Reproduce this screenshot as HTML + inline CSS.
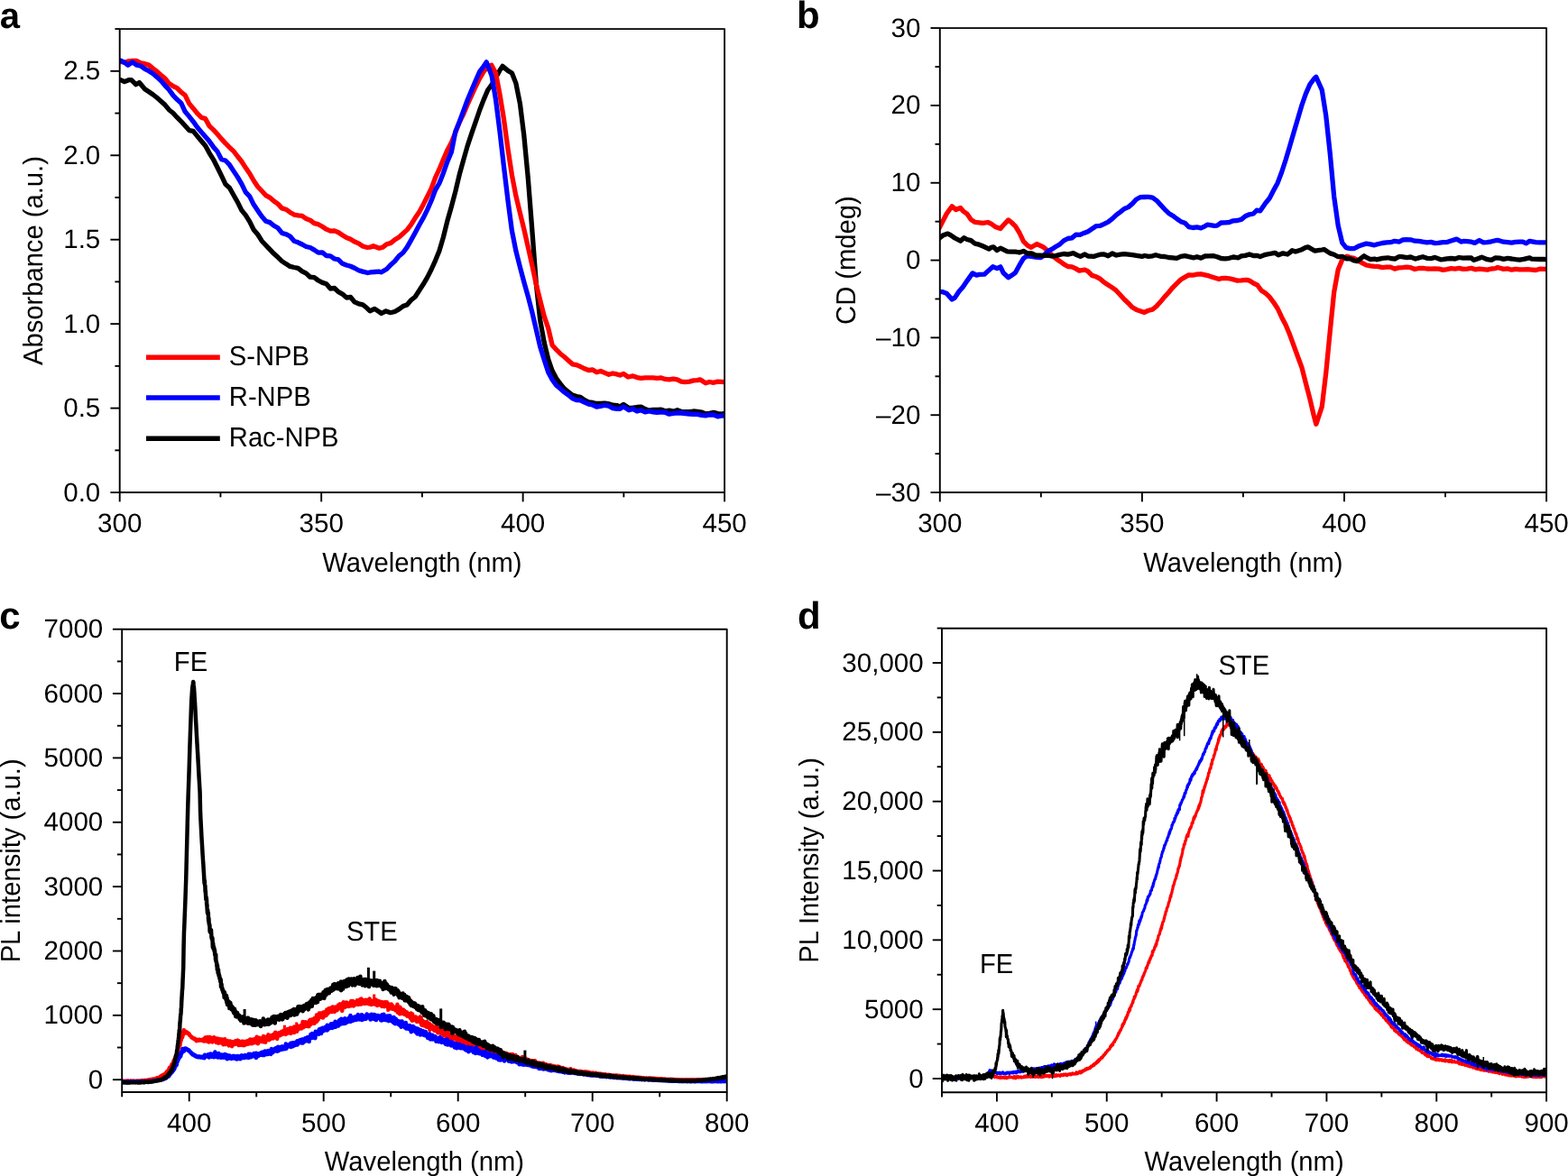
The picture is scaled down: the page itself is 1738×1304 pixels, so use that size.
<!DOCTYPE html>
<html lang="en">
<head>
<meta charset="utf-8">
<title>Absorbance, CD and PL spectra of S-, R- and Rac-NPB</title>
<style>
html,body{margin:0;padding:0;background:#fff;}
body{width:1738px;height:1304px;overflow:hidden;}
svg{display:block;}
text{white-space:pre;text-rendering:geometricPrecision;}
</style>
</head>
<body>
<svg width="1738" height="1304" viewBox="0 0 1738 1304" font-family='"Liberation Sans", sans-serif' fill="#000">
<rect x="0" y="0" width="1738" height="1304" fill="#fff"/>
<g id="panel-a">
<clipPath id="clip_a"><rect x="132.7" y="32.1" width="670.4" height="513.95"/></clipPath>
<polyline points="132.2,88.6 133.7,88.6 138,90.6 142.6,88.7 145.6,88.6 150.6,93.7 154.4,91.6 160.5,98.7 165,101.7 169.4,104.7 173.9,108.3 178.4,112.2 182.9,116.3 187.3,121.7 191.8,125.3 196.3,130.2 200.7,134.6 205.2,139.6 209.7,144.6 214.2,145.4 218.6,150.8 223.1,156.2 227.6,161.5 232,169.6 236.5,176.8 241,185.7 245.5,194.9 249.9,204.2 254.4,208.3 258.9,216.2 263.4,224.2 267.8,233.1 272.3,238.7 276.8,245.9 281.2,254.7 285.7,260 290.2,267.2 294.7,272 299.1,276.6 303.6,281.3 308.1,285.3 312.5,289.6 317,292.6 321.5,295.4 326,296.5 330.4,297.4 334.9,300.9 339.4,303.1 343.8,307.2 348.3,307.7 352.8,311 357.3,313.4 361.7,314.8 366.2,320 370.7,319.5 375.1,323.7 379.6,326.1 384.1,330 388.6,329.5 393,334.9 397.5,336.8 402,337.8 406.4,341.3 410.1,344.9 415.2,342.4 419.9,345.5 422.8,347.5 427.8,344.9 432.9,346.7 437.7,345.5 442.2,342.9 446.7,339.6 451.2,337.9 455.6,332.8 460.1,329.2 464.6,322.3 469.1,315.3 473.5,307.9 478,299 482.5,289.1 486.9,278.3 491.4,263 495.9,244.8 500.4,229 504.8,212.4 509.3,193.3 513.8,177.1 518.2,161.6 522.7,148.2 527.2,135.1 531.7,122 536.1,110.6 540.6,100 545.1,93.8 549.5,86.2 554,77.9 557,73.4 563,78.4 567.4,81 571.9,92.4 576.4,114.9 580.8,150.2 585.3,197.5 589.8,254.7 594.3,314.5 598.7,355 603.2,379.7 607.7,398.4 612.1,411 616.6,419.5 621.1,425.6 625.6,431.1 630,434.6 634.5,438 639,439.6 643.4,440.4 647.9,443.6 652.4,445.9 656.9,446.5 661.3,447.5 665.8,447.5 670.3,447.1 674.8,447.9 679.2,449.2 683.7,449.6 687.3,450.9 691.1,448.4 697.1,452.4 701.6,452.2 706.1,451.5 710.5,451.2 715,453.6 719.5,455.2 723.9,454.3 728.4,454.4 732.9,454.2 737.4,455.8 741.8,455.2 746.3,456.2 750.8,454.7 755.2,456.5 759.7,456.6 764.2,456.7 768.7,456 773.1,456.3 777.6,457 782.1,458.9 786.5,458.3 791,457.4 795.5,458.6 800,459.2 804.4,458.2" fill="none" stroke="#000000" stroke-width="5.3" stroke-linejoin="round" stroke-linecap="butt" clip-path="url(#clip_a)"/>
<polyline points="132.2,68.4 133.7,68.4 138.1,69.2 142.6,67.9 147.1,67.5 151.6,67.5 156,69.9 160.5,70.7 165,72.1 169.4,75.8 173.9,79.1 178.4,83.2 182.9,87 187.3,92.4 191.8,95.5 196.3,97.6 200.7,102.2 205.2,105.6 209.7,114.9 214.2,120.2 218.6,125.7 223.1,130.2 227.6,131.6 232,139.6 236.5,143.9 241,148.7 245.5,154.1 249.9,158.9 254.4,163.5 258.9,167.6 263.4,173.5 267.8,179 272.3,186.1 276.8,192.5 281.2,200.2 285.7,207 290.2,211.8 294.7,216.6 299.1,219.1 303.6,223 308.1,226.1 312.5,230.9 317,232.2 321.5,235.4 326,238.1 330.4,238.9 334.9,239.3 339.4,242.6 343.8,244.2 348.3,247.7 352.8,248.7 357.3,251.2 361.7,254.2 366.2,256.2 370.7,255.9 375.1,257.7 379.6,260.7 384.1,263.5 388.6,265.3 393,268 397.5,269.9 402,273 406.4,274.3 410.1,274.2 413.9,272.7 420.3,275.2 424.3,274.2 428.8,270.7 433.3,269.4 437.7,265.7 442.2,263 446.7,259 451.2,254.9 455.6,249.2 460.1,241.8 464.6,235.2 469.1,226.9 473.5,218.2 478,209.2 482.5,197.2 486.9,187.7 491.4,176.7 495.9,166.4 500.4,157.9 504.8,146.9 509.3,135.2 513.8,126.2 518.2,115.7 522.7,105.9 527.2,96 531.7,86.8 536.1,79.4 540.6,74 544.8,72.2 549.5,80.9 554,104.8 558.5,132.3 563,165.4 567.4,194 571.9,217.4 576.4,236.1 580.8,254.1 585.3,274 589.8,294 594.3,315.1 598.7,333 603.2,350.7 607.7,363.9 612.1,382.7 616.6,387.6 621.1,392.2 625.6,395.8 630,399.8 634.5,403.8 639,404.6 643.4,406.5 647.9,408.8 652.4,410.5 656.9,410 661.3,412.8 665.8,411.5 670.3,413.4 674.8,415.3 679.2,414 683.7,414.9 687.3,416.1 691.1,414.4 696.2,418 701.6,416.9 706.1,418.6 710.5,419.3 715,418.9 719.5,418.9 723.9,418.8 728.4,419.3 732.9,418.9 737.4,420.4 741.8,420.9 746.3,420.1 750.6,420.8 755.2,423.1 759.5,423.7 764.2,423.1 768.7,421.9 773.1,421.6 775.9,420.8 782.1,424.8 786.5,423.5 791,424.3 795.5,423.1 800,423.3 804.4,423.9" fill="none" stroke="#ff0000" stroke-width="5.3" stroke-linejoin="round" stroke-linecap="butt" clip-path="url(#clip_a)"/>
<polyline points="132.2,67.1 133.7,67.1 138.1,69.4 141.8,72.2 146.8,68.9 151.6,72.2 156,73.1 160.5,76.4 165,78.7 169.4,81.6 173.9,85.4 178.4,89.6 182.9,94.8 187.3,99.4 191.8,105.6 196.3,110.3 200.7,114.2 205.2,123.8 209.7,129.1 214.2,134.8 218.6,141 223.1,146.4 227.6,151.6 232,156.6 236.5,162.9 241,168.1 245.5,176.8 249.9,178 254.4,182.7 258.9,189.6 263.4,196.4 267.8,203.8 272.3,213.2 276.8,217.9 281.2,226.8 285.7,233.4 290.2,240 294.7,245.2 299.1,246.6 303.6,250.3 308.1,252.8 312.5,258.4 317,259.7 321.5,262 326,267.3 330.4,268.8 334.9,271 339.4,273.5 343.8,274.5 348.3,277.1 352.8,280.1 357.3,279.9 361.7,283.5 366.2,283.8 370.7,287 375.1,287.9 379.6,292.3 384.1,294 388.6,295.3 393,297.2 397.5,299.7 402,301.1 407.6,302.5 410.9,301.9 415.4,301.5 419.9,301.2 422.8,301.8 428.8,298.2 433.3,293.4 437.7,289.5 442.2,283.9 446.7,280.3 451.2,274.1 455.6,266.4 460.1,258.2 464.6,249.8 469.1,241.8 473.5,232.8 478,222.7 482.5,210.9 486.9,203.2 491.4,191.9 495.9,179.2 500.4,168.5 504.8,145.9 509.3,135 513.8,122.6 518.2,110.8 522.7,100 527.2,89.5 531.7,79.3 536.1,73.5 539.2,68.9 545.1,84 549.5,110.4 554,145.8 558.5,184.9 563,222.4 567.4,255.8 571.9,278.4 576.4,296.2 580.8,312.7 585.3,328.7 589.8,346.2 594.3,365.3 598.7,384.4 603.2,398.9 607.7,412.7 612.1,420.9 616.6,427.3 621.1,431 625.6,434.9 630,438 634.5,441.7 639,443.6 643.4,443.8 647.9,446.1 652.4,448.1 656.9,449 661.3,451 665.8,450.4 670.3,449.3 674.8,450.2 679.2,452.6 683.7,453.3 687.3,453.4 691.1,450.9 697.1,454.8 701.6,453.4 706.1,456 710.5,454.8 715,456.9 719.5,456 723.9,456.9 728.4,457.4 732.9,456.8 737.4,457.3 741.8,459.2 746.3,458.5 750.8,457.8 755.2,458 759.7,458.5 764.2,459 768.7,459.3 773.1,459.3 777.6,460.3 782.1,460.8 786.5,460 791,460 795.5,461.9 800,461 804.4,460.8" fill="none" stroke="#0000ff" stroke-width="5.3" stroke-linejoin="round" stroke-linecap="butt" clip-path="url(#clip_a)"/>
<rect x="132.7" y="32.1" width="670.4" height="513.95" fill="none" stroke="#000" stroke-width="1.9" stroke-linejoin="round"/>
<line x1="122.4" y1="546.05" x2="132.7" y2="546.05" stroke="#000" stroke-width="1.9" stroke-linecap="butt"/>
<text transform="translate(111.3 555.55)" font-size="29.55" font-weight="normal" text-anchor="end">0.0</text>
<line x1="122.4" y1="452.6" x2="132.7" y2="452.6" stroke="#000" stroke-width="1.9" stroke-linecap="butt"/>
<text transform="translate(111.3 462.1)" font-size="29.55" font-weight="normal" text-anchor="end">0.5</text>
<line x1="122.4" y1="359.16" x2="132.7" y2="359.16" stroke="#000" stroke-width="1.9" stroke-linecap="butt"/>
<text transform="translate(111.3 368.66)" font-size="29.55" font-weight="normal" text-anchor="end">1.0</text>
<line x1="122.4" y1="265.71" x2="132.7" y2="265.71" stroke="#000" stroke-width="1.9" stroke-linecap="butt"/>
<text transform="translate(111.3 275.21)" font-size="29.55" font-weight="normal" text-anchor="end">1.5</text>
<line x1="122.4" y1="172.27" x2="132.7" y2="172.27" stroke="#000" stroke-width="1.9" stroke-linecap="butt"/>
<text transform="translate(111.3 181.77)" font-size="29.55" font-weight="normal" text-anchor="end">2.0</text>
<line x1="122.4" y1="78.82" x2="132.7" y2="78.82" stroke="#000" stroke-width="1.9" stroke-linecap="butt"/>
<text transform="translate(111.3 88.32)" font-size="29.55" font-weight="normal" text-anchor="end">2.5</text>
<line x1="127.4" y1="499.33" x2="132.7" y2="499.33" stroke="#000" stroke-width="1.9" stroke-linecap="butt"/>
<line x1="127.4" y1="405.88" x2="132.7" y2="405.88" stroke="#000" stroke-width="1.9" stroke-linecap="butt"/>
<line x1="127.4" y1="312.44" x2="132.7" y2="312.44" stroke="#000" stroke-width="1.9" stroke-linecap="butt"/>
<line x1="127.4" y1="218.99" x2="132.7" y2="218.99" stroke="#000" stroke-width="1.9" stroke-linecap="butt"/>
<line x1="127.4" y1="125.55" x2="132.7" y2="125.55" stroke="#000" stroke-width="1.9" stroke-linecap="butt"/>
<line x1="127.4" y1="32.1" x2="132.7" y2="32.1" stroke="#000" stroke-width="1.9" stroke-linecap="butt"/>
<line x1="132.7" y1="546.05" x2="132.7" y2="556.35" stroke="#000" stroke-width="1.9" stroke-linecap="butt"/>
<text transform="translate(132.7 590.15)" font-size="29.55" font-weight="normal" text-anchor="middle">300</text>
<line x1="356.17" y1="546.05" x2="356.17" y2="556.35" stroke="#000" stroke-width="1.9" stroke-linecap="butt"/>
<text transform="translate(356.17 590.15)" font-size="29.55" font-weight="normal" text-anchor="middle">350</text>
<line x1="579.63" y1="546.05" x2="579.63" y2="556.35" stroke="#000" stroke-width="1.9" stroke-linecap="butt"/>
<text transform="translate(579.63 590.15)" font-size="29.55" font-weight="normal" text-anchor="middle">400</text>
<line x1="803.1" y1="546.05" x2="803.1" y2="556.35" stroke="#000" stroke-width="1.9" stroke-linecap="butt"/>
<text transform="translate(803.1 590.15)" font-size="29.55" font-weight="normal" text-anchor="middle">450</text>
<line x1="244.43" y1="546.05" x2="244.43" y2="551.35" stroke="#000" stroke-width="1.9" stroke-linecap="butt"/>
<line x1="467.9" y1="546.05" x2="467.9" y2="551.35" stroke="#000" stroke-width="1.9" stroke-linecap="butt"/>
<line x1="691.37" y1="546.05" x2="691.37" y2="551.35" stroke="#000" stroke-width="1.9" stroke-linecap="butt"/>
<text transform="translate(467.9 633.9) scale(1 1.04)" font-size="29.2" font-weight="normal" text-anchor="middle">Wavelength (nm)</text>
<text transform="translate(47.2 289.07) rotate(-90) scale(1 1.04)" font-size="29.2" font-weight="normal" text-anchor="middle">Absorbance (a.u.)</text>
<text transform="translate(-0.2 30.7)" font-size="40.0" font-weight="bold" text-anchor="start">a</text>
</g>
<g id="panel-b">
<clipPath id="clip_b"><rect x="1041.8" y="31.1" width="672.3" height="514.95"/></clipPath>
<polyline points="1040.5,254.1 1045,245.3 1049.4,236.7 1055.2,228.7 1059.5,232.5 1064.6,230.5 1067.3,233.8 1071.8,237.1 1076.3,243.6 1080.8,246.4 1085.2,246.9 1089.7,247.4 1094.9,246.5 1098.6,248.2 1103.1,251.4 1108.9,253.5 1112.1,249.8 1117.7,243.9 1121,246.5 1125.5,250.8 1129.9,258 1134.4,267.6 1138.9,272.2 1143,274.3 1149.4,270.5 1152.3,272 1156.8,274.2 1161.2,278.1 1165.7,282.6 1170.2,286.6 1174.7,289.7 1179.1,292.9 1183.6,295.5 1188.1,295.8 1192.5,297.9 1196.2,300.1 1202.5,299.1 1206,300.8 1210.4,305.4 1214.9,306.8 1219.4,309.2 1223.8,313 1228.3,315.9 1232.8,318.9 1237.3,322.2 1241.7,327.1 1246.2,332 1250.7,336.2 1255.1,340.8 1259.6,343.4 1264.1,344.9 1268.4,346.5 1273,344.2 1277.5,343.1 1282,339.5 1286.4,334.6 1290.9,329.1 1295.4,324.3 1299.9,318.8 1304.3,314.3 1308.8,310 1313.3,307.4 1317.7,304.9 1322.2,305.2 1326.7,304.1 1331.2,303.8 1335.6,304.8 1340.1,305.9 1344.6,307.4 1351.2,309.5 1353.5,308.7 1358,308.4 1362.5,308.8 1366.9,309.9 1371.4,311.1 1375.9,310.9 1381.5,310.3 1384.8,311.1 1389.3,314 1393.8,316.2 1398.2,322.2 1402.7,325.1 1407.2,329.3 1411.7,335.3 1416.1,342 1420.6,351.7 1425.1,360.3 1429.5,370.8 1434,383.1 1438.5,395.5 1443,407.6 1447.4,425 1451.9,442.2 1456.4,461.4 1458.8,470.3 1465.3,450.8 1469.8,413 1474.3,366.9 1478.7,323.7 1483.2,299.1 1487.7,287.9 1492.9,284.2 1496.6,285.5 1501.1,286.4 1505.6,289.1 1510,291.6 1514.5,294 1519,294.9 1523.4,295.4 1527.9,295.7 1532.4,296.6 1536.9,296.1 1541.3,296.1 1545.8,298.1 1550.3,296.9 1554.7,296.7 1559.2,296.2 1563.7,296.7 1568.2,298.5 1572.6,297.5 1577.1,297.3 1581.6,298 1586,298.2 1590.5,298 1595,298.1 1599.5,299.4 1603.9,298.7 1608.4,297.7 1612.9,298.1 1617.3,297.4 1621.8,298.4 1626.3,298.1 1630.8,297.4 1635.2,298.8 1639.7,298.2 1644.2,298.6 1648.6,299.1 1653.1,298 1657.6,297.6 1660,296.5 1666.5,298.4 1671,297.9 1675.5,299.2 1679.9,298.3 1684.4,298.8 1688.9,298.9 1693.4,298.7 1697.8,299.1 1702.3,299.5 1706.8,298.2 1711.2,298.3 1715.7,298.5" fill="none" stroke="#ff0000" stroke-width="5.3" stroke-linejoin="round" stroke-linecap="butt" clip-path="url(#clip_b)"/>
<polyline points="1040.5,323.7 1045,323.7 1049.4,325.4 1055.2,332 1058.4,330.1 1062.9,323.3 1067.3,318.3 1071.8,311.6 1078,302.9 1082.3,305.2 1085.2,304.4 1091.1,304.2 1094.2,301.4 1100.5,295.8 1105.1,297.6 1108.9,295.8 1112.1,302.5 1117.7,307.7 1121,305.6 1125.5,302.3 1129.9,294.2 1134.4,286.7 1138,283.9 1143.4,284.4 1147.8,285 1153.2,285.7 1156.8,283.4 1161.2,278.9 1165.7,276.4 1170.2,273.6 1174.7,270.9 1179.1,266.9 1183.6,264.5 1188.1,263.9 1192.5,260.2 1197,260.4 1201.5,258.4 1206,256.7 1210.4,253.8 1214.9,250.7 1219.4,250.4 1223.8,248.3 1228.3,246.2 1232.8,242.7 1237.3,238.4 1241.7,235.1 1246.2,231.5 1250.7,229.6 1255.1,225.9 1259.6,221 1264.1,218.7 1268.6,218.5 1273,218.4 1277.5,219.1 1282,222.3 1286.4,227.1 1290.9,232.1 1295.4,236.4 1299.9,239.2 1304.3,242.5 1308.8,245.7 1313.3,247.2 1317.7,251.6 1322.2,252.5 1326.7,251.9 1331.2,252.9 1335.6,250.8 1338.5,249.1 1346.1,250.4 1349,250.1 1353.5,247 1358,246.8 1362.5,246.5 1366.9,244.8 1371.4,244.5 1375.9,243.4 1380.3,239.7 1384.8,237.8 1389.3,237 1392.9,233.2 1396.7,233.9 1402.7,225.2 1407.2,219.7 1411.7,211 1416.1,202.9 1420.6,191 1425.1,177.2 1429.5,162.5 1434,147 1438.5,131.8 1443,116.5 1447.4,103.9 1451.9,93.6 1456.4,87.5 1458.8,85.3 1465.3,99.9 1469.8,128.7 1474.3,170.8 1478.7,218.1 1483.2,250.1 1487.7,269.1 1492.1,274.7 1496.6,275.7 1501.1,275.5 1505.6,273.1 1510,271.5 1514.5,270.1 1519,270.8 1523.4,271.8 1527.9,270.5 1532.4,269.5 1536.9,268.9 1541.3,268.7 1545.8,267.3 1551.2,268.1 1554.7,266 1559.2,265.7 1563.7,265.8 1568.2,267.2 1572.6,267.3 1577.1,268.2 1581.6,268.9 1586,268.4 1590.5,269.6 1594.2,269.4 1599.5,268.6 1603.9,268.6 1608.4,267 1614.5,265.1 1619.5,268.1 1621.8,267.5 1626.3,267.7 1630.8,268.2 1634.7,269.4 1639.7,266.5 1644.2,268.9 1648.6,268.6 1653.1,267.8 1657.6,266.7 1660,266.3 1666.5,268.2 1671,268.7 1675.5,269.1 1679.9,268.3 1684.4,268.1 1687.9,268.1 1691.7,269.9 1695.5,267.3 1702.3,268.7 1706.8,268.9 1711.2,268.9 1715.7,268.9" fill="none" stroke="#0000ff" stroke-width="5.3" stroke-linejoin="round" stroke-linecap="butt" clip-path="url(#clip_b)"/>
<polyline points="1040.5,264.7 1045,261.1 1050.6,259.1 1053.9,260.8 1058.4,264 1064.6,267.2 1068.4,263.7 1071.8,265.5 1076.3,266.6 1080.8,270.2 1085.2,271.2 1089.7,273 1096.2,276.1 1098.6,274.3 1101.3,273.8 1105.1,277.6 1108.9,275.1 1116.5,278.9 1121,279.1 1125.5,279.2 1129.9,280 1134.4,278.4 1138.9,281 1143.4,281 1147.8,283 1152.3,283.1 1156.8,283.4 1161.2,283.1 1165.7,284 1170.2,283.6 1174.7,282.4 1179.1,281.5 1183.6,282.1 1189.9,280.6 1192.5,282.3 1197.5,284.4 1202.5,281.9 1206,284 1212.7,284.4 1214.9,283.5 1219.4,282.2 1223.8,282 1228.3,283.8 1232.8,281 1237.3,283 1241.7,282.1 1246.2,281.7 1250.7,282.1 1255.1,282.7 1259.6,283.4 1265.8,284.4 1268.6,283.5 1273,284.3 1277.5,283.8 1281,282.7 1286.4,284.3 1290.9,284.5 1295.4,285.5 1299.9,285.9 1304.3,286.4 1308.8,284.4 1313.3,283.7 1317.7,284.7 1323.3,285.8 1326.7,284.7 1331.2,286.1 1335.6,284 1340.1,283.9 1344.6,283.6 1349,284.7 1353.5,286.5 1358,286.9 1362.5,286.3 1366.9,285 1372.7,285.8 1375.9,283.9 1380.3,283.4 1384.8,282 1389.3,283.5 1393.8,283.4 1396.7,284.6 1402.7,282.3 1407.2,281.5 1413.2,280.3 1417,282.8 1422.1,280.8 1427.1,282 1429.5,280.2 1432.2,277.7 1436,279 1443,276.7 1447.4,274.4 1449.9,273.9 1457.5,278.2 1460.8,277.7 1465.3,277 1467.6,276.5 1474.3,280.9 1478.7,282.2 1483.2,284.7 1487.7,284.3 1492.1,286.8 1496.6,286.9 1501.1,289 1504.3,289.6 1511.9,283.8 1514.5,285.4 1519,287.6 1523.4,287.1 1525.8,287.8 1532.4,286.4 1538.5,285.8 1541.3,286.5 1546.1,287.1 1550.3,284.7 1553.7,284.6 1559.2,285.6 1563.7,285 1568.9,287.1 1572.6,285.9 1577.1,284.7 1581.6,286.3 1586,286.7 1590.5,285.4 1596.7,287.8 1599.5,287.6 1603.9,286.8 1608.4,286.5 1612.9,287 1617.3,285.5 1621.8,286.2 1626.3,286 1630.8,286 1633.4,288.4 1639.7,286.2 1642.3,285.1 1648.6,287.7 1653.1,288.4 1657.6,285.9 1662.1,286.1 1666.5,287.4 1671,286.4 1675.5,287 1679.9,287.7 1684.4,288.1 1688.9,287.4 1695.5,285.8 1697.8,287.2 1702.3,287.3 1706.8,287.5 1711.2,287.5 1715.7,287.6" fill="none" stroke="#000000" stroke-width="5.3" stroke-linejoin="round" stroke-linecap="butt" clip-path="url(#clip_b)"/>
<rect x="1041.8" y="31.1" width="672.3" height="514.95" fill="none" stroke="#000" stroke-width="1.9" stroke-linejoin="round"/>
<line x1="1031.5" y1="546.05" x2="1041.8" y2="546.05" stroke="#000" stroke-width="1.9" stroke-linecap="butt"/>
<text transform="translate(1020.4 555.55)" font-size="29.55" font-weight="normal" text-anchor="end">–30</text>
<line x1="1031.5" y1="460.22" x2="1041.8" y2="460.22" stroke="#000" stroke-width="1.9" stroke-linecap="butt"/>
<text transform="translate(1020.4 469.72)" font-size="29.55" font-weight="normal" text-anchor="end">–20</text>
<line x1="1031.5" y1="374.4" x2="1041.8" y2="374.4" stroke="#000" stroke-width="1.9" stroke-linecap="butt"/>
<text transform="translate(1020.4 383.9)" font-size="29.55" font-weight="normal" text-anchor="end">–10</text>
<line x1="1031.5" y1="288.57" x2="1041.8" y2="288.57" stroke="#000" stroke-width="1.9" stroke-linecap="butt"/>
<text transform="translate(1020.4 298.07)" font-size="29.55" font-weight="normal" text-anchor="end">0</text>
<line x1="1031.5" y1="202.75" x2="1041.8" y2="202.75" stroke="#000" stroke-width="1.9" stroke-linecap="butt"/>
<text transform="translate(1020.4 212.25)" font-size="29.55" font-weight="normal" text-anchor="end">10</text>
<line x1="1031.5" y1="116.93" x2="1041.8" y2="116.93" stroke="#000" stroke-width="1.9" stroke-linecap="butt"/>
<text transform="translate(1020.4 126.43)" font-size="29.55" font-weight="normal" text-anchor="end">20</text>
<line x1="1031.5" y1="31.1" x2="1041.8" y2="31.1" stroke="#000" stroke-width="1.9" stroke-linecap="butt"/>
<text transform="translate(1020.4 40.6)" font-size="29.55" font-weight="normal" text-anchor="end">30</text>
<line x1="1036.5" y1="503.14" x2="1041.8" y2="503.14" stroke="#000" stroke-width="1.9" stroke-linecap="butt"/>
<line x1="1036.5" y1="417.31" x2="1041.8" y2="417.31" stroke="#000" stroke-width="1.9" stroke-linecap="butt"/>
<line x1="1036.5" y1="331.49" x2="1041.8" y2="331.49" stroke="#000" stroke-width="1.9" stroke-linecap="butt"/>
<line x1="1036.5" y1="245.66" x2="1041.8" y2="245.66" stroke="#000" stroke-width="1.9" stroke-linecap="butt"/>
<line x1="1036.5" y1="159.84" x2="1041.8" y2="159.84" stroke="#000" stroke-width="1.9" stroke-linecap="butt"/>
<line x1="1036.5" y1="74.01" x2="1041.8" y2="74.01" stroke="#000" stroke-width="1.9" stroke-linecap="butt"/>
<line x1="1041.8" y1="546.05" x2="1041.8" y2="556.35" stroke="#000" stroke-width="1.9" stroke-linecap="butt"/>
<text transform="translate(1041.8 590.15)" font-size="29.55" font-weight="normal" text-anchor="middle">300</text>
<line x1="1265.9" y1="546.05" x2="1265.9" y2="556.35" stroke="#000" stroke-width="1.9" stroke-linecap="butt"/>
<text transform="translate(1265.9 590.15)" font-size="29.55" font-weight="normal" text-anchor="middle">350</text>
<line x1="1490" y1="546.05" x2="1490" y2="556.35" stroke="#000" stroke-width="1.9" stroke-linecap="butt"/>
<text transform="translate(1490 590.15)" font-size="29.55" font-weight="normal" text-anchor="middle">400</text>
<line x1="1714.1" y1="546.05" x2="1714.1" y2="556.35" stroke="#000" stroke-width="1.9" stroke-linecap="butt"/>
<text transform="translate(1714.1 590.15)" font-size="29.55" font-weight="normal" text-anchor="middle">450</text>
<line x1="1153.85" y1="546.05" x2="1153.85" y2="551.35" stroke="#000" stroke-width="1.9" stroke-linecap="butt"/>
<line x1="1377.95" y1="546.05" x2="1377.95" y2="551.35" stroke="#000" stroke-width="1.9" stroke-linecap="butt"/>
<line x1="1602.05" y1="546.05" x2="1602.05" y2="551.35" stroke="#000" stroke-width="1.9" stroke-linecap="butt"/>
<text transform="translate(1377.95 633.9) scale(1 1.04)" font-size="29.2" font-weight="normal" text-anchor="middle">Wavelength (nm)</text>
<text transform="translate(947.5 288.57) rotate(-90) scale(1 1.04)" font-size="29.2" font-weight="normal" text-anchor="middle">CD (mdeg)</text>
<text transform="translate(882.9 30.7)" font-size="42.0" font-weight="bold" text-anchor="start">b</text>
</g>
<g id="panel-c">
<clipPath id="clip_c"><rect x="135.2" y="697.7" width="670.5" height="513.3"/></clipPath>
<polyline points="134.7,1198.8 135.2,1198.8 135.4,1199 135.6,1199.1 135.8,1198.9 136,1198.8 136.2,1199 136.4,1199 136.6,1199.1 136.8,1198.8 137,1198.8 137.2,1199 137.4,1199 137.6,1199.1 137.8,1199 138,1198.9 138.2,1198.9 138.4,1199.2 138.6,1198.9 138.8,1198.8 139,1198.8 139.2,1198.9 139.4,1198.9 139.6,1198.9 139.8,1198.9 140,1198.9 140.2,1199 140.4,1199 140.6,1198.9 140.8,1198.7 141,1199 141.2,1198.8 141.4,1198.9 141.6,1198.7 141.8,1198.9 142,1198.8 142.2,1198.9 142.4,1199.2 142.6,1198.9 142.8,1199 143,1198.7 143.2,1198.8 143.4,1198.9 143.6,1198.9 143.8,1198.9 144,1198.9 144.2,1198.8 144.4,1198.9 144.6,1198.8 144.8,1199 145,1198.8 145.2,1198.9 145.4,1198.9 145.6,1198.9 145.8,1198.8 146,1198.9 146.2,1198.8 146.4,1199 146.6,1198.9 146.8,1198.8 147,1198.8 147.2,1198.9 147.4,1198.9 147.6,1199 147.8,1198.8 148,1198.9 148.2,1198.9 148.4,1198.8 148.6,1198.8 148.8,1198.8 149,1198.7 149.2,1198.7 149.4,1198.8 149.6,1198.9 149.8,1199 150,1198.9 150.2,1198.9 150.4,1198.9 150.6,1198.9 150.8,1198.8 151,1198.9 151.2,1199 151.4,1198.7 151.6,1198.7 151.8,1199 152,1198.8 152.2,1198.9 152.4,1198.9 152.6,1198.7 152.8,1199 153,1198.9 153.2,1198.8 153.4,1198.8 153.6,1198.8 153.8,1198.7 154,1198.7 154.2,1198.8 154.4,1198.9 154.6,1198.8 154.8,1198.7 155,1198.9 155.2,1198.7 155.4,1198.8 155.6,1198.8 155.8,1198.7 156,1198.5 156.2,1198.5 156.4,1198.6 156.6,1198.6 156.8,1198.7 157,1198.4 157.2,1198.5 157.4,1198.6 157.6,1198.5 157.8,1198.2 158,1198.5 158.2,1198.6 158.4,1198.5 158.6,1198.3 158.8,1198.3 159,1198.4 159.2,1198.6 159.4,1198.3 159.6,1198.3 159.8,1198.4 160,1198.2 160.2,1198.4 160.4,1198.1 160.6,1198.1 160.8,1198.2 161,1198.3 161.2,1198.2 161.4,1198.1 161.6,1197.9 161.8,1197.9 162,1197.9 162.2,1197.9 162.4,1198 162.6,1197.9 162.8,1198 163,1197.9 163.2,1197.8 163.4,1197.9 163.6,1197.9 163.8,1197.9 164,1197.7 164.2,1197.7 164.4,1197.6 164.6,1197.9 164.8,1197.8 165,1197.7 165.2,1197.6 165.4,1197.5 165.6,1197.6 165.8,1197.6 166,1197.8 166.2,1197.6 166.4,1197.4 166.6,1197.2 166.8,1197.6 167,1197.5 167.2,1197.3 167.4,1197.4 167.6,1197.2 167.8,1197.7 168,1197.4 168.2,1197.3 168.4,1197.2 168.6,1197 168.8,1197.1 169,1196.9 169.2,1197.1 169.4,1196.7 169.6,1196.8 169.8,1197 170,1197 170.2,1196.6 170.4,1196.5 170.6,1196.8 170.8,1196.7 171,1196.4 171.2,1196.4 171.4,1196.3 171.6,1196.2 171.8,1196.2 172,1196.5 172.2,1196.3 172.4,1196.5 172.6,1196.1 172.8,1196 173,1195.8 173.2,1195.9 173.4,1195.7 173.6,1195.5 173.8,1195.9 174,1196 174.2,1195.8 174.4,1195.9 174.6,1195.6 174.8,1195.4 175,1195.5 175.2,1195.3 175.4,1195.1 175.6,1195 175.8,1194.9 176,1195.1 176.2,1195 176.4,1194.8 176.6,1195.1 176.8,1194.7 177,1194.7 177.2,1194.8 177.4,1194.2 177.6,1193.8 177.8,1194.3 178,1193.9 178.2,1194.3 178.4,1193.9 178.6,1194 178.8,1193.8 179,1192.9 179.2,1193.6 179.4,1193.1 179.6,1193 179.8,1193 180,1193.2 180.2,1193.2 180.4,1193.1 180.6,1192.2 180.8,1192.4 181,1191.7 181.2,1192.4 181.4,1192.5 181.6,1191.9 181.8,1192.2 182,1192 182.2,1192.1 182.4,1191.2 182.6,1191 182.8,1190.8 183,1191.6 183.2,1191.1 183.4,1190.4 183.6,1190.3 183.8,1190.1 184,1189.9 184.2,1189.5 184.4,1189.2 184.6,1188.6 184.8,1188.7 185,1189.6 185.2,1188.8 185.4,1188.4 185.6,1188 185.8,1188 186,1187.9 186.2,1187.2 186.4,1187.4 186.6,1187.2 186.8,1186.5 187,1186.2 187.2,1185.8 187.4,1185.4 187.6,1186.3 187.8,1184 188,1185 188.2,1184.5 188.4,1184.1 188.6,1184.3 188.8,1184.7 189,1183.7 189.2,1183.3 189.4,1182.6 189.6,1182.7 189.8,1183.1 190,1181.9 190.2,1181 190.4,1180.6 190.6,1180.4 190.8,1179.9 191,1181.5 191.2,1180.6 191.4,1179.9 191.6,1180.9 191.8,1178.9 192,1179.8 192.2,1179.4 192.4,1176.9 192.6,1176.4 192.8,1176.5 193,1177.7 193.2,1177.6 193.4,1174.8 193.6,1176.4 193.8,1174.6 194,1174.1 194.2,1173.5 194.4,1173.3 194.6,1171.3 194.8,1171.6 195,1170.9 195.2,1172.2 195.4,1173.4 195.6,1173.7 195.8,1169.9 196,1167.8 196.2,1168.4 196.4,1167.1 196.6,1169.7 196.8,1167.4 197,1165.2 197.2,1166.4 197.4,1165.2 197.6,1161.9 197.8,1162.5 198,1162.1 198.2,1161.7 198.4,1161.1 198.6,1159.8 198.8,1159.8 199,1158.1 199.2,1156.8 199.4,1159.2 199.6,1156.9 199.8,1156.2 200,1152.7 200.2,1153.8 200.4,1154.3 200.6,1150.6 200.8,1153.1 201,1150.4 201.2,1151 201.4,1149.8 201.6,1149.8 201.8,1150.7 202,1147.9 202.2,1150.2 202.4,1146.4 202.6,1145.6 202.8,1147.5 203,1144.4 203.2,1144.9 203.4,1146.3 203.6,1146.7 203.8,1142.2 204,1145.5 204.2,1145.2 204.4,1145 204.6,1144.6 204.8,1144.4 205,1144.5 205.2,1144.2 205.4,1144.4 205.6,1144.3 205.8,1144.3 206,1144.6 206.2,1144.4 206.4,1144.2 206.6,1144.9 206.8,1144.5 207,1144.7 207.2,1144.9 207.4,1144.9 207.6,1144.9 207.8,1145.2 208,1145.9 208.2,1145.3 208.4,1145.5 208.6,1146 208.8,1146.1 209,1146.4 209.2,1146.6 209.4,1146.1 209.6,1146.7 209.8,1147.1 210,1147.5 210.2,1147.9 210.4,1147.9 210.6,1148 210.8,1148.3 211,1148.5 211.2,1148.8 211.4,1149.1 211.6,1149.1 211.8,1149.2 212,1149.5 212.2,1150.2 212.4,1150.4 212.6,1150.4 212.8,1150.5 213,1150.7 213.2,1150.6 213.4,1150.9 213.6,1150.6 213.8,1150.9 214,1150.9 214.2,1151.4 214.4,1151.2 214.6,1151.4 214.8,1151.7 215,1152 215.2,1151.6 215.4,1151.7 215.6,1152.3 215.8,1151.9 216,1152.4 216.2,1152.3 216.4,1152.5 216.6,1152.2 216.8,1153 217,1152.8 217.2,1152.9 217.4,1153.7 217.6,1153.4 217.8,1154.1 218,1153.3 218.2,1153.1 218.4,1153.3 218.6,1153.6 218.8,1153.2 219,1153.4 219.2,1153.4 219.4,1153.1 219.6,1153.3 219.8,1153.2 220,1153 220.2,1153.6 220.4,1153.5 220.6,1153.4 220.8,1153.1 221,1152.9 221.2,1153.5 221.4,1153.4 221.6,1153 221.8,1153.4 222,1153.1 222.2,1153.4 222.4,1153.5 222.6,1153.6 222.8,1153.5 223,1153.5 223.2,1153.2 223.4,1153.4 223.6,1153.4 223.8,1153.5 224,1153.6 224.2,1153.6 224.4,1153.8 224.6,1152.8 224.8,1153.5 225,1153.3 225.2,1153.9 225.4,1153.5 225.6,1152.8 225.8,1153.3 226,1153 226.2,1154.5 226.4,1151.7 226.6,1152.9 226.8,1152.9 227,1152.9 227.2,1152.2 227.4,1150.4 227.6,1153.5 227.8,1154.3 228,1152.8 228.2,1151.4 228.4,1153.1 228.6,1153.5 228.8,1152.5 229,1152.7 229.2,1154.6 229.4,1151.1 229.6,1151.8 229.8,1149.9 230,1151.6 230.2,1151.5 230.4,1151.2 230.6,1151.6 230.8,1155 231,1152.2 231.2,1152.3 231.4,1155.5 231.6,1152.4 231.8,1150.1 232,1153 232.2,1151.2 232.4,1154.7 232.6,1150.7 232.8,1151.6 233,1150.2 233.2,1152.5 233.4,1151 233.6,1152.3 233.8,1151.9 234,1151.5 234.2,1153.7 234.4,1153.6 234.6,1152.4 234.8,1151.1 235,1150.9 235.2,1152.7 235.4,1155.6 235.6,1151.7 235.8,1151.2 236,1151.3 236.2,1150.8 236.4,1151 236.6,1152.1 236.8,1154.4 237,1152.4 237.2,1151.8 237.4,1150.3 237.6,1152.9 237.8,1152.6 238,1151 238.2,1151.2 238.4,1152.7 238.6,1154.2 238.8,1153.7 239,1153.2 239.2,1152.5 239.4,1153.5 239.6,1153 239.8,1156.1 240,1151.6 240.2,1152.7 240.4,1155 240.6,1152.9 240.8,1155.3 241,1153.3 241.2,1153.6 241.4,1153 241.6,1151.7 241.8,1152.3 242,1156.7 242.2,1154.6 242.4,1154.6 242.6,1155.1 242.8,1154.6 243,1155.3 243.2,1153.6 243.4,1153.7 243.6,1155.4 243.8,1153.6 244,1152.3 244.2,1153.9 244.4,1153.5 244.6,1155.1 244.8,1153.4 245,1152.9 245.2,1154 245.4,1156.6 245.6,1154.5 245.8,1154.8 246,1154.6 246.2,1155.1 246.4,1156 246.6,1156.7 246.8,1152.6 247,1156.7 247.2,1154.9 247.4,1154.6 247.6,1158.3 247.8,1154.9 248,1157.7 248.2,1156.5 248.4,1153.9 248.6,1155.9 248.8,1156.3 249,1155.2 249.2,1152.3 249.4,1155 249.6,1155.3 249.8,1154.1 250,1158.1 250.2,1155.4 250.4,1155.2 250.6,1155.3 250.8,1154.7 251,1154.7 251.2,1155.9 251.4,1156.2 251.6,1155.2 251.8,1155.8 252,1154.1 252.2,1156.6 252.4,1155 252.6,1156.3 252.8,1154.8 253,1155.3 253.2,1156.3 253.4,1154.5 253.6,1159.4 253.8,1156.1 254,1156 254.2,1155.2 254.4,1158.3 254.6,1158 254.8,1156.6 255,1154.4 255.2,1155.6 255.4,1157.1 255.6,1155.6 255.8,1154.8 256,1154.8 256.2,1155.4 256.4,1156.4 256.6,1155.6 256.8,1156.5 257,1160.2 257.2,1158.8 257.4,1155.2 257.6,1157 257.8,1156.7 258,1156.4 258.2,1158 258.4,1156.2 258.6,1156.2 258.8,1156.1 259,1156.5 259.2,1158.3 259.4,1157.7 259.6,1154.9 259.8,1156.1 260,1155.6 260.2,1157.8 260.4,1157 260.6,1157.9 260.8,1156.6 261,1154.2 261.2,1157.3 261.4,1157.1 261.6,1157.4 261.8,1155.1 262,1156.9 262.2,1155.9 262.4,1155.9 262.6,1157.3 262.8,1157.3 263,1155.7 263.2,1154.6 263.4,1153.6 263.6,1156.1 263.8,1158.4 264,1156.8 264.2,1153.9 264.4,1155.8 264.6,1157.5 264.8,1159.1 265,1158.5 265.2,1157.4 265.4,1157.2 265.6,1155.6 265.8,1156.3 266,1156.5 266.2,1155.9 266.4,1156.9 266.6,1156.3 266.8,1157.2 267,1158.7 267.2,1157.7 267.4,1157.3 267.6,1156.4 267.8,1154.7 268,1156.5 268.2,1157.4 268.4,1155.3 268.6,1158.2 268.8,1156.1 269,1157 269.2,1156.1 269.4,1154.8 269.6,1159.2 269.8,1154.9 270,1157.6 270.2,1155.7 270.4,1156.8 270.6,1155.3 270.8,1155.8 271,1157.5 271.2,1158.9 271.4,1155.1 271.6,1156.3 271.8,1157.5 272,1155.4 272.2,1157.1 272.4,1155.1 272.6,1156.9 272.8,1156.7 273,1157.7 273.2,1156.5 273.4,1154.4 273.6,1156.9 273.8,1154.5 274,1156.9 274.2,1157.9 274.4,1156.6 274.6,1155.1 274.8,1157.4 275,1156 275.2,1154.1 275.4,1155.2 275.6,1157.5 275.8,1155.2 276,1155.7 276.2,1155.1 276.4,1153.3 276.6,1154.8 276.8,1155.9 277,1155.7 277.2,1155.1 277.4,1152.5 277.6,1157 277.8,1156.2 278,1156.6 278.2,1157 278.4,1154.6 278.6,1154.3 278.8,1155.5 279,1157.3 279.2,1152.8 279.4,1154.7 279.6,1154 279.8,1155.7 280,1156.9 280.2,1154.5 280.4,1153.2 280.6,1154.9 280.8,1154.4 281,1152.7 281.2,1155.9 281.4,1153.9 281.6,1155.5 281.8,1152.8 282,1156 282.2,1152.5 282.4,1155.9 282.6,1151.9 282.8,1156.2 283,1153.8 283.2,1152.1 283.4,1153.9 283.6,1154.6 283.8,1152.8 284,1153.4 284.2,1154.4 284.4,1153.8 284.6,1149.8 284.8,1153.3 285,1154.4 285.2,1154.2 285.4,1155.1 285.6,1152.8 285.8,1157.2 286,1154.7 286.2,1154 286.4,1155 286.6,1154.8 286.8,1153.6 287,1152.6 287.2,1154.8 287.4,1153.9 287.6,1150.7 287.8,1151.7 288,1153.9 288.2,1153.3 288.4,1153.5 288.6,1154 288.8,1153.2 289,1155.1 289.2,1152.1 289.4,1152.3 289.6,1153.3 289.8,1153.8 290,1153.8 290.2,1154.7 290.4,1152 290.6,1154.2 290.8,1153.2 291,1151 291.2,1152.2 291.4,1155.2 291.6,1153.4 291.8,1151.6 292,1148.9 292.2,1151.2 292.4,1151.2 292.6,1152.2 292.8,1155.2 293,1153 293.2,1152.4 293.4,1150.6 293.6,1150.2 293.8,1151.5 294,1151.1 294.2,1155.8 294.4,1151.1 294.6,1150.7 294.8,1153.1 295,1151.6 295.2,1149.7 295.4,1153.2 295.6,1150.9 295.8,1149.4 296,1151.7 296.2,1151.8 296.4,1150.6 296.6,1152 296.8,1152.1 297,1149.7 297.2,1148 297.4,1147.4 297.6,1150.6 297.8,1152.4 298,1152 298.2,1152.5 298.4,1153.1 298.6,1150.5 298.8,1151.9 299,1148.2 299.2,1151.2 299.4,1150.7 299.6,1150 299.8,1149.4 300,1148.4 300.2,1150.2 300.4,1151.7 300.6,1149.3 300.8,1150.5 301,1148.8 301.2,1150 301.4,1148.2 301.6,1150.1 301.8,1149.2 302,1149.9 302.2,1148.5 302.4,1147.6 302.6,1148.8 302.8,1150.6 303,1151.4 303.2,1148.6 303.4,1150.1 303.6,1150 303.8,1149.4 304,1146.6 304.2,1149.2 304.4,1147.2 304.6,1150.2 304.8,1149.6 305,1149.3 305.2,1144.7 305.4,1149.1 305.6,1149.2 305.8,1146.3 306,1149.4 306.2,1148.1 306.4,1147.6 306.6,1146.8 306.8,1146.3 307,1147.1 307.2,1152 307.4,1147.8 307.6,1147.8 307.8,1146.4 308,1146.4 308.2,1146.4 308.4,1145.9 308.6,1148.4 308.8,1146.6 309,1148.2 309.2,1145.2 309.4,1148.1 309.6,1146.7 309.8,1147.6 310,1146.4 310.2,1145.2 310.4,1148.2 310.6,1145.7 310.8,1146.1 311,1144.9 311.2,1146.4 311.4,1145.5 311.6,1146.4 311.8,1146.4 312,1144.9 312.2,1143.8 312.4,1146.4 312.6,1147 312.8,1146.6 313,1143.9 313.2,1146.4 313.4,1146 313.6,1145.8 313.8,1145.9 314,1144.7 314.2,1145.5 314.4,1146.4 314.6,1144.3 314.8,1142.8 315,1144.7 315.2,1145.1 315.4,1142 315.6,1143.7 315.8,1145.5 316,1144.3 316.2,1144.6 316.4,1142.6 316.6,1145.7 316.8,1146.9 317,1143.9 317.2,1143.1 317.4,1142.4 317.6,1145.3 317.8,1144.1 318,1142.7 318.2,1145.6 318.4,1144.9 318.6,1144.6 318.8,1141 319,1143.4 319.2,1144.4 319.4,1141.6 319.6,1144.7 319.8,1145.4 320,1144.7 320.2,1142.1 320.4,1142 320.6,1144.4 320.8,1144.4 321,1144.7 321.2,1144.6 321.4,1142.6 321.6,1142.1 321.8,1139.8 322,1143.7 322.2,1145.9 322.4,1141.7 322.6,1141.6 322.8,1143.2 323,1142.8 323.2,1140.1 323.4,1141 323.6,1140.4 323.8,1145 324,1140.8 324.2,1143.1 324.4,1144.6 324.6,1144.5 324.8,1143.7 325,1144 325.2,1139.6 325.4,1140.9 325.6,1140.2 325.8,1140.8 326,1145.1 326.2,1138.6 326.4,1141.9 326.6,1139.1 326.8,1143 327,1142.8 327.2,1140 327.4,1143.9 327.6,1140.8 327.8,1142.6 328,1141 328.2,1139.6 328.4,1139.8 328.6,1140.2 328.8,1141.2 329,1140.4 329.2,1143.7 329.4,1139.8 329.6,1139.3 329.8,1138.9 330,1138.7 330.2,1137.6 330.4,1138.2 330.6,1141 330.8,1139.7 331,1139.3 331.2,1140 331.4,1141 331.6,1140.3 331.8,1140.4 332,1138.4 332.2,1138.7 332.4,1137.9 332.6,1138.9 332.8,1137.7 333,1138.3 333.2,1138.5 333.4,1138.4 333.6,1138.3 333.8,1137.9 334,1140.5 334.2,1137.9 334.4,1136.8 334.6,1138.6 334.8,1136.5 335,1136.5 335.2,1138.2 335.4,1135.4 335.6,1132.9 335.8,1138.2 336,1139.3 336.2,1135 336.4,1136.1 336.6,1138.3 336.8,1134.3 337,1135.9 337.2,1135.3 337.4,1136.8 337.6,1134 337.8,1138.3 338,1136.6 338.2,1137.2 338.4,1136.2 338.6,1133.3 338.8,1136.3 339,1134.4 339.2,1136.4 339.4,1135 339.6,1135.7 339.8,1135.8 340,1137.2 340.2,1137.1 340.4,1134.3 340.6,1135.7 340.8,1138 341,1136.4 341.2,1134.4 341.4,1135.3 341.6,1134.8 341.8,1136.6 342,1135.1 342.2,1135.5 342.4,1138.2 342.6,1132.5 342.8,1133 343,1131.7 343.2,1131.8 343.4,1135.5 343.6,1134.5 343.8,1136.4 344,1130.7 344.2,1132.3 344.4,1135.8 344.6,1135 344.8,1134.6 345,1134.5 345.2,1133.1 345.4,1132.9 345.6,1132.8 345.8,1133.9 346,1132.2 346.2,1132.9 346.4,1134.5 346.6,1130.3 346.8,1130.8 347,1132.7 347.2,1131.3 347.4,1131.3 347.6,1134.7 347.8,1131.9 348,1130.4 348.2,1132.7 348.4,1134.8 348.6,1128.9 348.8,1129.5 349,1130.6 349.2,1129.3 349.4,1133.6 349.6,1130.8 349.8,1129.2 350,1130.5 350.2,1128.3 350.4,1128.5 350.6,1129.5 350.8,1133 351,1125.4 351.2,1129.5 351.4,1130.9 351.6,1129.8 351.8,1131.5 352,1129 352.2,1128.4 352.4,1127.8 352.6,1126.5 352.8,1130.4 353,1125.7 353.2,1127.3 353.4,1126.6 353.6,1126 353.8,1123.6 354,1126.4 354.2,1127.1 354.4,1127 354.6,1128 354.8,1126.3 355,1125.4 355.2,1126.8 355.4,1127.3 355.6,1124.6 355.8,1123.5 356,1124.2 356.2,1127.4 356.4,1127.2 356.6,1124 356.8,1125.5 357,1126.6 357.2,1127.3 357.4,1123.9 357.6,1124.5 357.8,1127 358,1128.6 358.2,1127 358.4,1122.6 358.6,1125 358.8,1123.7 359,1123.9 359.2,1122.9 359.4,1123.1 359.6,1123.7 359.8,1126.6 360,1124.7 360.2,1124.1 360.4,1123.4 360.6,1122 360.8,1122.8 361,1125.1 361.2,1124.3 361.4,1126.1 361.6,1123.2 361.8,1122.6 362,1119.9 362.2,1123.1 362.4,1119.5 362.6,1124.7 362.8,1121.1 363,1122 363.2,1119.7 363.4,1121 363.6,1120.2 363.8,1123.5 364,1122 364.2,1119.5 364.4,1118.2 364.6,1121.1 364.8,1120.3 365,1119.2 365.2,1121.9 365.4,1120.5 365.6,1121 365.8,1119.7 366,1119.7 366.2,1119.8 366.4,1117.8 366.6,1121.4 366.8,1121 367,1117.4 367.2,1120.3 367.4,1122 367.6,1120.4 367.8,1122 368,1119.4 368.2,1119.7 368.4,1117.5 368.6,1118.1 368.8,1116.5 369,1117.9 369.2,1119.7 369.4,1120.1 369.6,1121.1 369.8,1119.3 370,1117.4 370.2,1119.6 370.4,1118.6 370.6,1121.7 370.8,1121.9 371,1120.2 371.2,1116.7 371.4,1117.6 371.6,1118.7 371.8,1117.1 372,1119.1 372.2,1119.3 372.4,1119.4 372.6,1118.4 372.8,1116.4 373,1116.4 373.2,1117.5 373.4,1119.9 373.6,1120.2 373.8,1119.1 374,1118 374.2,1118.5 374.4,1118.6 374.6,1119.3 374.8,1118.5 375,1114.5 375.2,1118.5 375.4,1117.5 375.6,1116 375.8,1117.6 376,1117.1 376.2,1116.4 376.4,1113.6 376.6,1116.6 376.8,1117.2 377,1116.1 377.2,1113.5 377.4,1116.8 377.6,1117.2 377.8,1116.2 378,1116.5 378.2,1115.2 378.4,1114.6 378.6,1116.5 378.8,1115 379,1115.8 379.2,1120.9 379.4,1116.6 379.6,1115.6 379.8,1112.6 380,1115.4 380.2,1116.4 380.4,1113.9 380.6,1114.6 380.8,1111.2 381,1115.8 381.2,1113.9 381.4,1115.9 381.6,1117 381.8,1114.4 382,1116.3 382.2,1115 382.4,1114.2 382.6,1114 382.8,1113 383,1116.5 383.2,1115.7 383.4,1112.5 383.6,1115.5 383.8,1112.9 384,1111.5 384.2,1116 384.4,1111.8 384.6,1115.8 384.8,1114.2 385,1115.3 385.2,1114.6 385.4,1115.6 385.6,1114.2 385.8,1114.6 386,1114 386.2,1115.4 386.4,1112.8 386.6,1115.2 386.8,1115.9 387,1113.3 387.2,1114.1 387.4,1112.4 387.6,1112.8 387.8,1113.7 388,1112.6 388.2,1111.7 388.4,1113.1 388.6,1113.4 388.8,1113.6 389,1114.2 389.2,1110 389.4,1115.3 389.6,1112.6 389.8,1111.5 390,1112.2 390.2,1113.5 390.4,1114.2 390.6,1112.1 390.8,1112.9 391,1109.9 391.2,1112.8 391.4,1112.3 391.6,1111.7 391.8,1113.9 392,1115.4 392.2,1114.1 392.4,1111 392.6,1114.8 392.8,1111.7 393,1112.1 393.2,1111.2 393.4,1112.9 393.6,1113 393.8,1112.3 394,1111.6 394.2,1111.7 394.4,1111.2 394.6,1113.5 394.8,1111 395,1111.5 395.2,1111.4 395.4,1110.4 395.6,1111.3 395.8,1109.2 396,1112.3 396.2,1112.5 396.4,1111 396.6,1114.1 396.8,1110 397,1112.3 397.2,1112.2 397.4,1110.4 397.6,1110.9 397.8,1112.8 398,1111.4 398.2,1111.7 398.4,1113.6 398.6,1111.6 398.8,1108.4 399,1110 399.2,1112.6 399.4,1110.9 399.6,1109.3 399.8,1107.8 400,1111.6 400.2,1113.6 400.4,1108.9 400.6,1107.4 400.8,1111.8 401,1110.1 401.2,1110.5 401.4,1110.4 401.6,1109.4 401.8,1111.6 402,1112.4 402.2,1111.5 402.4,1109.9 402.6,1112.6 402.8,1110.6 403,1111.8 403.2,1109.2 403.4,1111.9 403.6,1112 403.8,1112.9 404,1110.8 404.2,1111.5 404.4,1109.8 404.6,1112.2 404.8,1112.1 405,1112.6 405.2,1110.1 405.4,1108.7 405.6,1110.6 405.8,1110.4 406,1109.5 406.2,1111.8 406.4,1112.3 406.6,1111.4 406.8,1112.6 407,1111.4 407.2,1109.1 407.4,1109.8 407.6,1110.2 407.8,1111.9 408,1112.3 408.2,1111 408.4,1112.5 408.6,1109.4 408.8,1110.6 409,1113.3 409.2,1111.5 409.4,1112.5 409.6,1107.6 409.8,1108 410,1109.4 410.2,1112.5 410.4,1113.5 410.6,1109.8 410.8,1109.2 411,1109.2 411.2,1109.4 411.4,1111.9 411.6,1110.4 411.8,1114.1 412,1112.2 412.2,1109.9 412.4,1111.4 412.6,1110.8 412.8,1112.4 413,1112.6 413.2,1110.5 413.4,1112.6 413.6,1112.1 413.8,1111 414,1111.6 414.2,1112.4 414.4,1110.7 414.6,1110.1 414.8,1113.4 415,1111.3 415.2,1110.3 415.4,1112.1 415.6,1108.9 415.8,1111.5 416,1109.2 416.2,1110.7 416.4,1108.5 416.6,1110.3 416.8,1113 417,1111.3 417.2,1109.6 417.4,1114.6 417.6,1110.7 417.8,1114.2 418,1110.9 418.2,1109.4 418.4,1114.9 418.6,1111.2 418.8,1113.2 419,1114 419.2,1109.9 419.4,1112.2 419.6,1111.2 419.8,1113.2 420,1112.2 420.2,1110.2 420.4,1112.4 420.6,1113.6 420.8,1111.9 421,1113.3 421.2,1111.6 421.4,1112.4 421.6,1113.1 421.8,1112.8 422,1114.7 422.2,1114.2 422.4,1114.1 422.6,1114 422.8,1113.1 423,1111 423.2,1114.7 423.4,1115.9 423.6,1113.4 423.8,1112.7 424,1113.1 424.2,1115.2 424.4,1113.8 424.6,1111.8 424.8,1113.1 425,1112.2 425.2,1113.2 425.4,1112.1 425.6,1112.2 425.8,1116.2 426,1115.5 426.2,1111.2 426.4,1112.3 426.6,1113.2 426.8,1113.4 427,1111.8 427.2,1115.6 427.4,1111.6 427.6,1115.4 427.8,1115.5 428,1113.8 428.2,1113.4 428.4,1114.6 428.6,1114.8 428.8,1111.2 429,1112.7 429.2,1115.7 429.4,1114.7 429.6,1114.3 429.8,1113.4 430,1114 430.2,1114 430.4,1119.8 430.6,1113.3 430.8,1117.9 431,1116.3 431.2,1116 431.4,1116 431.6,1115.1 431.8,1118.5 432,1116.8 432.2,1116 432.4,1115.9 432.6,1116.5 432.8,1114.4 433,1115.8 433.2,1115.4 433.4,1117.5 433.6,1117.5 433.8,1113.6 434,1116.4 434.2,1118.4 434.4,1114.8 434.6,1115 434.8,1118.7 435,1116.9 435.2,1116.5 435.4,1115.3 435.6,1117.6 435.8,1116.5 436,1117.9 436.2,1118.3 436.4,1118.8 436.6,1117.2 436.8,1117 437,1118 437.2,1117.8 437.4,1118.4 437.6,1117.3 437.8,1117.9 438,1117.4 438.2,1117.5 438.4,1118.7 438.6,1120.4 438.8,1117.8 439,1119.7 439.2,1119.4 439.4,1119.1 439.6,1120.1 439.8,1118.1 440,1120 440.2,1119.7 440.4,1113.7 440.6,1119.9 440.8,1120.4 441,1122.7 441.2,1117.9 441.4,1119.9 441.6,1120.4 441.8,1118.3 442,1121.9 442.2,1120.8 442.4,1118.9 442.6,1118.4 442.8,1119.7 443,1124.3 443.2,1124.1 443.4,1116.7 443.6,1117.9 443.8,1122 444,1120.8 444.2,1120.1 444.4,1122.2 444.6,1121.5 444.8,1121.9 445,1121.9 445.2,1119.9 445.4,1123.8 445.6,1121.1 445.8,1123.7 446,1123.1 446.2,1122.2 446.4,1122.4 446.6,1122.2 446.8,1119.5 447,1122 447.2,1123.3 447.4,1120.1 447.6,1120.4 447.8,1124.6 448,1124.3 448.2,1120.7 448.4,1124 448.6,1123.3 448.8,1125.1 449,1123.1 449.2,1123.4 449.4,1122.7 449.6,1124.3 449.8,1123.9 450,1123.2 450.2,1123.8 450.4,1123.3 450.6,1125.6 450.8,1123.1 451,1122.4 451.2,1123.4 451.4,1126.8 451.6,1124.4 451.8,1126.3 452,1126.6 452.2,1124.7 452.4,1126.9 452.6,1126.6 452.8,1125.8 453,1124.9 453.2,1126.1 453.4,1124.2 453.6,1126 453.8,1125.6 454,1127.3 454.2,1127.3 454.4,1125.8 454.6,1128.3 454.8,1128.9 455,1127.2 455.2,1126.1 455.4,1128.1 455.6,1123.6 455.8,1126.6 456,1128.5 456.2,1130.9 456.4,1126.7 456.6,1130.3 456.8,1131.7 457,1131.1 457.2,1124.5 457.4,1130.1 457.6,1128.7 457.8,1130.1 458,1128.3 458.2,1127.8 458.4,1128.5 458.6,1131.3 458.8,1130.4 459,1128.7 459.2,1129.8 459.4,1130.7 459.6,1130.3 459.8,1129.5 460,1128.6 460.2,1128.6 460.4,1129.1 460.6,1129.1 460.8,1127.5 461,1127.9 461.2,1131.6 461.4,1128.6 461.6,1128.4 461.8,1130.5 462,1132.9 462.2,1132.7 462.4,1130.2 462.6,1129.3 462.8,1130.2 463,1129.7 463.2,1130.4 463.4,1132.1 463.6,1129.8 463.8,1130.3 464,1131.2 464.2,1131.7 464.4,1130.6 464.6,1130.7 464.8,1130.3 465,1130.9 465.2,1133 465.4,1131.9 465.6,1127.6 465.8,1133.5 466,1132.5 466.2,1131.4 466.4,1132.4 466.6,1128.2 466.8,1130.4 467,1134.9 467.2,1136.6 467.4,1136.7 467.6,1132.3 467.8,1133.6 468,1134.8 468.2,1131.8 468.4,1136.5 468.6,1132.8 468.8,1134.6 469,1132.3 469.2,1134.8 469.4,1134.3 469.6,1136.1 469.8,1132.7 470,1134.6 470.2,1137.5 470.4,1133 470.6,1135.5 470.8,1135.7 471,1134.4 471.2,1134.8 471.4,1137.5 471.6,1137.2 471.8,1136.4 472,1136 472.2,1134 472.4,1136 472.6,1138.7 472.8,1137.6 473,1134 473.2,1133 473.4,1135.3 473.6,1136.7 473.8,1135.7 474,1136.1 474.2,1137.2 474.4,1138.2 474.6,1137.2 474.8,1138.9 475,1134.9 475.2,1137.9 475.4,1138 475.6,1135.1 475.8,1139.4 476,1135.2 476.2,1135.5 476.4,1141.9 476.6,1139.9 476.8,1138.6 477,1140.2 477.2,1140 477.4,1136.6 477.6,1139.2 477.8,1140.7 478,1138.4 478.2,1138.8 478.4,1138.1 478.6,1140 478.8,1138.2 479,1138.2 479.2,1137.4 479.4,1137.9 479.6,1139.8 479.8,1140.2 480,1139 480.2,1138.1 480.4,1140.3 480.6,1140.5 480.8,1142 481,1139.4 481.2,1139.6 481.4,1141.1 481.6,1142.7 481.8,1140.4 482,1140.5 482.2,1139.3 482.4,1140.2 482.6,1142.4 482.8,1142.3 483,1142.8 483.2,1138.7 483.4,1142.6 483.6,1140 483.8,1142.4 484,1138 484.2,1141.6 484.4,1140.5 484.6,1143.8 484.8,1142.2 485,1144.1 485.2,1141.6 485.4,1145.3 485.6,1141.8 485.8,1145.3 486,1141.8 486.2,1141.2 486.4,1144.1 486.6,1142.2 486.8,1142.8 487,1141 487.2,1142.5 487.4,1143.3 487.6,1142.2 487.8,1143.9 488,1139.9 488.2,1144.8 488.4,1142.9 488.6,1145.8 488.8,1143.2 489,1142.8 489.2,1143.2 489.4,1144.4 489.6,1144.9 489.8,1143.4 490,1143 490.2,1144.9 490.4,1145.6 490.6,1141.8 490.8,1142.9 491,1143.6 491.2,1147.2 491.4,1146.6 491.6,1146 491.8,1145.6 492,1143.3 492.2,1146.8 492.4,1144.5 492.6,1144.1 492.8,1148.3 493,1143.4 493.2,1147.6 493.4,1146 493.6,1144.4 493.8,1146.2 494,1144.7 494.2,1146.4 494.4,1145.2 494.6,1144.5 494.8,1150.3 495,1145.8 495.2,1148 495.4,1146.6 495.6,1147.8 495.8,1145 496,1145.5 496.2,1142.3 496.4,1148.7 496.6,1147.9 496.8,1145.7 497,1148.7 497.2,1148.5 497.4,1151.9 497.6,1148.1 497.8,1149.2 498,1148.9 498.2,1149.2 498.4,1148.1 498.6,1147.7 498.8,1149.4 499,1150.2 499.2,1146.8 499.4,1146.9 499.6,1148.6 499.8,1151.3 500,1148.5 500.2,1146.4 500.4,1150.1 500.6,1150.1 500.8,1151.9 501,1149.5 501.2,1152.1 501.4,1148.3 501.6,1150.8 501.8,1149.7 502,1147.9 502.2,1149.3 502.4,1151.7 502.6,1151.5 502.8,1149.4 503,1151.6 503.2,1151.4 503.4,1151.5 503.6,1150.7 503.8,1150.8 504,1149.2 504.2,1150.4 504.4,1150.8 504.6,1149.6 504.8,1150.3 505,1151.1 505.2,1151.2 505.4,1152.5 505.6,1149.6 505.8,1150.6 506,1151.6 506.2,1150.8 506.4,1151.8 506.6,1150.8 506.8,1153.2 507,1151.3 507.2,1150.1 507.4,1152.8 507.6,1154.2 507.8,1149.2 508,1151.8 508.2,1152.2 508.4,1153.6 508.6,1154.3 508.8,1152.1 509,1150.2 509.2,1153.4 509.4,1154 509.6,1153.3 509.8,1152.8 510,1151.7 510.2,1156.3 510.4,1151.3 510.6,1151 510.8,1154.5 511,1153.6 511.2,1154.3 511.4,1153.9 511.6,1155.9 511.8,1155.6 512,1153 512.2,1155.2 512.4,1152.3 512.6,1151.7 512.8,1155.8 513,1153.6 513.2,1151.4 513.4,1154.4 513.6,1153.6 513.8,1155.3 514,1154.7 514.2,1153.8 514.4,1154 514.6,1156.1 514.8,1153.9 515,1155.4 515.2,1154 515.4,1156 515.6,1157.9 515.8,1156.4 516,1157.2 516.2,1156.4 516.4,1154.6 516.6,1155.6 516.8,1156.2 517,1156.8 517.2,1155.5 517.4,1157.2 517.6,1155.5 517.8,1156.6 518,1156.6 518.2,1155.1 518.4,1158 518.6,1156.8 518.8,1157 519,1156.8 519.2,1154.1 519.4,1155.1 519.6,1155.9 519.8,1158.4 520,1156.4 520.2,1158 520.4,1155.9 520.6,1156.2 520.8,1156.8 521,1158.9 521.2,1155.3 521.4,1157.4 521.6,1158.2 521.8,1157.9 522,1157.8 522.2,1158.9 522.4,1158.3 522.6,1156.6 522.8,1158.8 523,1157.1 523.2,1157.7 523.4,1160.1 523.6,1161.4 523.8,1160.2 524,1158.9 524.2,1157.4 524.4,1157.5 524.6,1160.7 524.8,1159 525,1156.9 525.2,1160.8 525.4,1159.5 525.6,1160.6 525.8,1159.4 526,1156.2 526.2,1158.1 526.4,1158.9 526.6,1158.9 526.8,1161.2 527,1158.4 527.2,1159.2 527.4,1159.3 527.6,1159.3 527.8,1158.2 528,1158 528.2,1156.3 528.4,1160.1 528.6,1159.5 528.8,1160.1 529,1158.5 529.2,1159.9 529.4,1158.8 529.6,1158.8 529.8,1160.5 530,1161 530.2,1161 530.4,1160.2 530.6,1159.9 530.8,1162.2 531,1162.1 531.2,1159.7 531.4,1159.2 531.6,1161.1 531.8,1161.1 532,1159.6 532.2,1163.7 532.4,1158.3 532.6,1159.9 532.8,1161.3 533,1162.3 533.2,1158.8 533.4,1160.6 533.6,1163.1 533.8,1163.1 534,1161.1 534.2,1161.5 534.4,1160.4 534.6,1162 534.8,1160.3 535,1159.1 535.2,1159.8 535.4,1161.9 535.6,1160.2 535.8,1163.3 536,1163.6 536.2,1163.3 536.4,1162.9 536.6,1163.6 536.8,1162.5 537,1163.3 537.2,1162.9 537.4,1163.4 537.6,1161.2 537.8,1161.7 538,1161.3 538.2,1163.7 538.4,1163.3 538.6,1161.8 538.8,1161.6 539,1162.2 539.2,1164 539.4,1162.9 539.6,1162.8 539.8,1162.3 540,1163 540.2,1165.2 540.4,1162.5 540.6,1162.9 540.8,1165.5 541,1164.3 541.2,1162.2 541.4,1164.9 541.6,1162.1 541.8,1164.4 542,1160.7 542.2,1162.6 542.4,1165 542.6,1163.2 542.8,1163.1 543,1164.1 543.2,1164.1 543.4,1163.6 543.6,1163.4 543.8,1166.4 544,1166.1 544.2,1164.7 544.4,1163 544.6,1163.8 544.8,1164.2 545,1165.1 545.2,1166.5 545.4,1164 545.6,1164.9 545.8,1164.2 546,1165 546.2,1164 546.4,1165.3 546.6,1166.3 546.8,1164.5 547,1164.7 547.2,1165.2 547.4,1163.6 547.6,1167.3 547.8,1163.7 548,1164.9 548.2,1164.3 548.4,1167.2 548.6,1164.9 548.8,1164.9 549,1167.8 549.2,1165.5 549.4,1164.7 549.6,1165.7 549.8,1166 550,1164.9 550.2,1165.6 550.4,1165.7 550.6,1166.8 550.8,1166.9 551,1167 551.2,1166 551.4,1167.1 551.6,1166 551.8,1167.6 552,1166.8 552.2,1165.9 552.4,1167.8 552.6,1164.7 552.8,1165.4 553,1165.6 553.2,1166.4 553.4,1165.2 553.6,1165.3 553.8,1164.6 554,1166.9 554.2,1166 554.4,1169.4 554.6,1167.8 554.8,1165.7 555,1168.6 555.2,1167.2 555.4,1168.4 555.6,1166 555.8,1168.6 556,1168.6 556.2,1167 556.4,1166.5 556.6,1167.2 556.8,1168 557,1170.5 557.2,1169.9 557.4,1169.6 557.6,1167.7 557.8,1167.7 558,1168.6 558.2,1167.9 558.4,1167.8 558.6,1168.2 558.8,1169.4 559,1168.5 559.2,1168.9 559.4,1168.4 559.6,1168.6 559.8,1168.5 560,1170.3 560.2,1169.3 560.4,1170.7 560.6,1169 560.8,1170.4 561,1167.8 561.2,1169 561.4,1169.4 561.6,1168.9 561.8,1169.5 562,1168.7 562.2,1169.6 562.4,1169.2 562.6,1170 562.8,1169.7 563,1169 563.2,1169.7 563.4,1170.3 563.6,1168.9 563.8,1170.5 564,1171.7 564.2,1170.2 564.4,1171.1 564.6,1171.3 564.8,1169.8 565,1172.1 565.2,1173.4 565.4,1169.7 565.6,1173.2 565.8,1170.2 566,1172.5 566.2,1169.2 566.4,1172.3 566.6,1171.3 566.8,1169.9 567,1170.4 567.2,1170.3 567.4,1170.5 567.6,1171.9 567.8,1171.4 568,1169 568.2,1171.3 568.4,1172.2 568.6,1171.9 568.8,1173.6 569,1170 569.2,1172.2 569.4,1172.1 569.6,1172.8 569.8,1170.8 570,1170.9 570.2,1172.1 570.4,1172.4 570.6,1170.5 570.8,1172.8 571,1172.5 571.2,1173.3 571.4,1170 571.6,1173.2 571.8,1171.9 572,1172.3 572.2,1173.7 572.4,1174.6 572.6,1173.1 572.8,1172.9 573,1174.4 573.2,1172.3 573.4,1173.1 573.6,1172.8 573.8,1172.4 574,1173.6 574.2,1175.5 574.4,1173.8 574.6,1174.1 574.8,1173.6 575,1174.8 575.2,1173.9 575.4,1173 575.6,1174 575.8,1175.3 576,1173.9 576.2,1175.2 576.4,1174 576.6,1176 576.8,1174.4 577,1174.8 577.2,1173.9 577.4,1175 577.6,1174 577.8,1172.9 578,1174.6 578.2,1173.2 578.4,1175.9 578.6,1175.2 578.8,1174.5 579,1175.2 579.2,1172.1 579.4,1176.1 579.6,1174 579.8,1175.3 580,1177.2 580.2,1173.2 580.4,1174.4 580.6,1175.2 580.8,1175.3 581,1173.3 581.2,1174.1 581.4,1176.4 581.6,1174.5 581.8,1175.6 582,1173.9 582.2,1174.4 582.4,1173.6 582.6,1175.6 582.8,1176.5 583,1175.6 583.2,1175.3 583.4,1175.8 583.6,1176.1 583.8,1175.4 584,1176.3 584.2,1177.7 584.4,1178 584.6,1175.4 584.8,1174.8 585,1177.9 585.2,1177 585.4,1177.3 585.6,1176.8 585.8,1176.1 586,1177.3 586.2,1177.5 586.4,1177.6 586.6,1175.6 586.8,1177.6 587,1176.4 587.2,1176.4 587.4,1177.1 587.6,1176.5 587.8,1179 588,1177.5 588.2,1177.3 588.4,1176.9 588.6,1177.4 588.8,1177 589,1177.8 589.2,1178.1 589.4,1178.1 589.6,1176.3 589.8,1177.2 590,1177.7 590.2,1176.6 590.4,1178 590.6,1177.6 590.8,1177.9 591,1178.2 591.2,1177.4 591.4,1179.4 591.6,1179 591.8,1177.6 592,1178.6 592.2,1178.9 592.4,1177.6 592.6,1178.1 592.8,1179 593,1176.3 593.2,1177.4 593.4,1178.9 593.6,1179.2 593.8,1177.9 594,1179.5 594.2,1180.7 594.4,1179.1 594.6,1178.9 594.8,1179.1 595,1178.2 595.2,1179.6 595.4,1179.3 595.6,1179.9 595.8,1180.5 596,1179.4 596.2,1179.6 596.4,1179.8 596.6,1181 596.8,1178.4 597,1179.7 597.2,1179.2 597.4,1179.9 597.6,1180.5 597.8,1180 598,1180.6 598.2,1180.2 598.4,1179.5 598.6,1179.6 598.8,1179.1 599,1180.5 599.2,1180 599.4,1181.1 599.6,1181.2 599.8,1179.8 600,1179.7 600.2,1181.1 600.4,1180 600.6,1180.9 600.8,1181.3 601,1180.5 601.2,1182.3 601.4,1180.3 601.6,1181.3 601.8,1180.7 602,1178.8 602.2,1180.9 602.4,1181 602.6,1181.6 602.8,1181.1 603,1180.7 603.2,1180.9 603.4,1181.1 603.6,1181.9 603.8,1181.2 604,1182.4 604.2,1182.1 604.4,1181 604.6,1182.3 604.8,1179.9 605,1181.7 605.2,1180.9 605.4,1181.6 605.6,1182.6 605.8,1181.8 606,1181.7 606.2,1182.8 606.4,1181.4 606.6,1181.3 606.8,1182.7 607,1182.5 607.2,1181 607.4,1182.2 607.6,1182.7 607.8,1182.1 608,1181.9 608.2,1182.4 608.4,1182.5 608.6,1181.8 608.8,1183 609,1181.3 609.2,1182.4 609.4,1184.1 609.6,1181.8 609.8,1182.6 610,1181 610.2,1182.1 610.4,1181.9 610.6,1182.8 610.8,1182.4 611,1184.2 611.2,1182.2 611.4,1182.9 611.6,1183.1 611.8,1183.5 612,1183.7 612.2,1182 612.4,1184.7 612.6,1182.9 612.8,1182.7 613,1182.1 613.2,1183 613.4,1182.1 613.6,1183.5 613.8,1183 614,1183.7 614.2,1182.9 614.4,1183.6 614.6,1185.1 614.8,1184.4 615,1183.8 615.2,1183 615.4,1184.7 615.6,1182.6 615.8,1182.8 616,1184.7 616.2,1183.5 616.4,1184.8 616.6,1184.3 616.8,1185.5 617,1185.2 617.2,1184.5 617.4,1183.7 617.6,1184.6 617.8,1185.1 618,1184.3 618.2,1182.4 618.4,1184.1 618.6,1184.1 618.8,1184.4 619,1184.2 619.2,1185.2 619.4,1183.7 619.6,1184.8 619.8,1183.3 620,1183.2 620.2,1184 620.4,1184.2 620.6,1184.2 620.8,1184.3 621,1185.2 621.2,1185.2 621.4,1185 621.6,1185.1 621.8,1184.6 622,1184.4 622.2,1184.2 622.4,1184.9 622.6,1184.4 622.8,1185 623,1185.7 623.2,1185.6 623.4,1186.1 623.6,1184.8 623.8,1184 624,1184.7 624.2,1186.7 624.4,1185.9 624.6,1185.3 624.8,1186.4 625,1185.4 625.2,1186.7 625.4,1185.5 625.6,1185.5 625.8,1186.2 626,1185.1 626.2,1185.8 626.4,1187.1 626.6,1186.2 626.8,1185.3 627,1185.9 627.2,1186.1 627.4,1185.7 627.6,1186.4 627.8,1186.9 628,1186.3 628.2,1186.8 628.4,1186.5 628.6,1186.4 628.8,1186 629,1187 629.2,1187.3 629.4,1186.3 629.6,1186 629.8,1186.9 630,1186.7 630.2,1187.3 630.4,1187 630.6,1186.7 630.8,1186 631,1187.2 631.2,1186.9 631.4,1186.2 631.6,1186.1 631.8,1186 632,1187.4 632.2,1186.8 632.4,1185.2 632.6,1186.6 632.8,1186.8 633,1187.1 633.2,1187.3 633.4,1187.1 633.6,1187.7 633.8,1187.9 634,1187.2 634.2,1188.3 634.4,1187.4 634.6,1187 634.8,1187.6 635,1186.7 635.2,1187.4 635.4,1187 635.6,1187.4 635.8,1187.8 636,1186.4 636.2,1187.9 636.4,1187.9 636.6,1187.7 636.8,1188.2 637,1188 637.2,1187.7 637.4,1187.4 637.6,1188.3 637.8,1188.4 638,1187.2 638.2,1187.7 638.4,1187.4 638.6,1188.5 638.8,1187.8 639,1187.5 639.2,1189 639.4,1188.4 639.6,1188.4 639.8,1188.4 640,1188.2 640.2,1188.3 640.4,1188.8 640.6,1188.6 640.8,1188.2 641,1188.5 641.2,1189.4 641.4,1188.2 641.6,1187.9 641.8,1188.6 642,1188 642.2,1189.9 642.4,1188.9 642.6,1188.9 642.8,1188.9 643,1189.7 643.2,1188.2 643.4,1188.7 643.6,1188 643.8,1189.4 644,1188.8 644.2,1189.7 644.4,1188.8 644.6,1188.4 644.8,1188.6 645,1189.4 645.2,1188.6 645.4,1189.2 645.6,1188.7 645.8,1188.8 646,1188.9 646.2,1189.9 646.4,1188.7 646.6,1189.4 646.8,1189.6 647,1188.9 647.2,1188.6 647.4,1190 647.6,1190.2 647.8,1189.3 648,1188.9 648.2,1189.8 648.4,1189.5 648.6,1189.1 648.8,1189.3 649,1188.4 649.2,1189.2 649.4,1189 649.6,1189 649.8,1189.9 650,1189.8 650.2,1190.5 650.4,1188.5 650.6,1189.5 650.8,1189.4 651,1190.4 651.2,1190.3 651.4,1189.9 651.6,1189.9 651.8,1189.6 652,1189.7 652.2,1189.8 652.4,1188.9 652.6,1190.9 652.8,1190.4 653,1191 653.2,1190.6 653.4,1190.3 653.6,1190.5 653.8,1189.4 654,1189.8 654.2,1190.6 654.4,1190.1 654.6,1189.6 654.8,1190.3 655,1189.8 655.2,1190.3 655.4,1191 655.6,1189.9 655.8,1190.2 656,1190.7 656.2,1190.4 656.4,1190.6 656.6,1190.1 656.8,1190.4 657,1189.5 657.2,1190.5 657.4,1191.1 657.6,1190.2 657.8,1190.6 658,1191 658.2,1191.2 658.4,1191.2 658.6,1190.4 658.8,1190.6 659,1191.5 659.2,1190.6 659.4,1190.9 659.6,1190.5 659.8,1190.6 660,1189.7 660.2,1190.7 660.4,1190 660.6,1190.5 660.8,1190.5 661,1191.5 661.2,1191.3 661.4,1191.2 661.6,1190.8 661.8,1190.5 662,1191.3 662.2,1190.8 662.4,1191.1 662.6,1191.5 662.8,1191.1 663,1191.2 663.2,1190.8 663.4,1191.6 663.6,1191.4 663.8,1191.5 664,1191.9 664.2,1190.6 664.4,1191.3 664.6,1191.6 664.8,1191.5 665,1191.5 665.2,1191.6 665.4,1190.8 665.6,1191.4 665.8,1191.9 666,1191.4 666.2,1191.4 666.4,1191.8 666.6,1190.9 666.8,1191.7 667,1192.1 667.2,1191.5 667.4,1191.3 667.6,1191.8 667.8,1191.5 668,1191.4 668.2,1191.7 668.4,1191.1 668.6,1192 668.8,1191.3 669,1191.6 669.2,1192.1 669.4,1191.8 669.6,1191.9 669.8,1192.3 670,1192.4 670.2,1192.6 670.4,1191.7 670.6,1192.3 670.8,1191.3 671,1192.3 671.2,1192.5 671.4,1191.7 671.6,1192.2 671.8,1192.3 672,1192 672.2,1191.9 672.4,1192.6 672.6,1191.7 672.8,1192.2 673,1192.5 673.2,1192.3 673.4,1192.8 673.6,1192.7 673.8,1192.4 674,1192.9 674.2,1192.5 674.4,1191.9 674.6,1192.2 674.8,1192.4 675,1192.4 675.2,1191.8 675.4,1193.2 675.6,1191.9 675.8,1192.1 676,1192.6 676.2,1192.6 676.4,1193 676.6,1192.6 676.8,1192.7 677,1192.8 677.2,1192.3 677.4,1192.2 677.6,1192.5 677.8,1193 678,1192.6 678.2,1193.1 678.4,1192.5 678.6,1193 678.8,1192.8 679,1193 679.2,1192.8 679.4,1192.9 679.6,1192.7 679.8,1193.2 680,1192.9 680.2,1193 680.4,1193.1 680.6,1192.6 680.8,1192.7 681,1193 681.2,1193.4 681.4,1192.7 681.6,1192.7 681.8,1192.7 682,1192.9 682.2,1192.8 682.4,1192.9 682.6,1193.3 682.8,1192.8 683,1193.2 683.2,1192.8 683.4,1193.1 683.6,1193.4 683.8,1192.6 684,1193.3 684.2,1193.3 684.4,1193.3 684.6,1193.4 684.8,1193.4 685,1192.9 685.2,1193.3 685.4,1193.5 685.6,1193.8 685.8,1193 686,1193.2 686.2,1193 686.4,1193.4 686.6,1193.1 686.8,1193.2 687,1193.7 687.2,1194.1 687.4,1192.9 687.6,1194 687.8,1193.3 688,1193.8 688.2,1193.7 688.4,1193.9 688.6,1193.6 688.8,1193.4 689,1193.6 689.2,1193.9 689.4,1193.4 689.6,1193.8 689.8,1193.7 690,1193.8 690.2,1193.7 690.4,1193.9 690.6,1194 690.8,1193.7 691,1193.7 691.2,1193.2 691.4,1193.6 691.6,1193.4 691.8,1194.1 692,1193.6 692.2,1193.7 692.4,1194.1 692.6,1194.2 692.8,1194.3 693,1193.7 693.2,1194 693.4,1194.3 693.6,1193.8 693.8,1194 694,1193.7 694.2,1193.9 694.4,1194.3 694.6,1194.1 694.8,1194 695,1194 695.2,1194.5 695.4,1194.4 695.6,1193.9 695.8,1194.7 696,1194.1 696.2,1194.2 696.4,1194.1 696.6,1194.1 696.8,1194.4 697,1193.9 697.2,1194.3 697.4,1194.2 697.6,1194.8 697.8,1194.4 698,1194.5 698.2,1194.5 698.4,1194.5 698.6,1194.4 698.8,1193.8 699,1194.6 699.2,1194.4 699.4,1194.6 699.6,1194.6 699.8,1194.4 700,1194.3 700.2,1194.3 700.4,1194.6 700.6,1194.6 700.8,1194.4 701,1194.5 701.2,1194.7 701.4,1194.5 701.6,1194.6 701.8,1194.5 702,1194.1 702.2,1194.7 702.4,1194.7 702.6,1194.9 702.8,1195 703,1194.6 703.2,1194.9 703.4,1194.9 703.6,1194.8 703.8,1195 704,1195 704.2,1194.6 704.4,1195.2 704.6,1194.9 704.8,1194.8 705,1194.8 705.2,1194.9 705.4,1194.7 705.6,1195.2 705.8,1195.1 706,1194.8 706.2,1195.2 706.4,1195.1 706.6,1195.1 706.8,1195.3 707,1195.1 707.2,1195.1 707.4,1195.2 707.6,1194.8 707.8,1194.9 708,1195.3 708.2,1195.4 708.4,1194.9 708.6,1195.2 708.8,1195.1 709,1195.2 709.2,1195.4 709.4,1195.6 709.6,1195.6 709.8,1195.5 710,1195.5 710.2,1195.4 710.4,1195 710.6,1195.5 710.8,1195.2 711,1195.2 711.2,1195.4 711.4,1195.1 711.6,1195.8 711.8,1195.6 712,1195.6 712.2,1195.6 712.4,1195.6 712.6,1195.6 712.8,1195.7 713,1195.4 713.2,1195.6 713.4,1195.6 713.6,1195.8 713.8,1195.4 714,1195.7 714.2,1195.6 714.4,1195.8 714.6,1195.8 714.8,1195.7 715,1195.8 715.2,1195.8 715.4,1196 715.6,1195.8 715.8,1195.8 716,1195.6 716.2,1195.7 716.4,1195.9 716.6,1196 716.8,1195.6 717,1195.8 717.2,1195.8 717.4,1195.8 717.6,1195.7 717.8,1195.8 718,1195.8 718.2,1195.9 718.4,1196 718.6,1195.7 718.8,1195.7 719,1196 719.2,1196 719.4,1195.9 719.6,1195.7 719.8,1196.1 720,1195.7 720.2,1196.1 720.4,1196 720.6,1195.9 720.8,1195.9 721,1196.1 721.2,1196 721.4,1195.7 721.6,1195.9 721.8,1195.7 722,1196.1 722.2,1196.2 722.4,1196.2 722.6,1195.8 722.8,1196.4 723,1196.4 723.2,1196.1 723.4,1195.8 723.6,1196 723.8,1196.3 724,1196.5 724.2,1196.1 724.4,1195.9 724.6,1196 724.8,1196.5 725,1196.2 725.2,1196 725.4,1195.9 725.6,1196.3 725.8,1196.4 726,1196.2 726.2,1196.2 726.4,1196.3 726.6,1196.2 726.8,1196.2 727,1196.2 727.2,1196.2 727.4,1196.5 727.6,1196.4 727.8,1196.5 728,1196.6 728.2,1196.1 728.4,1196.4 728.6,1196.5 728.8,1196.4 729,1196.4 729.2,1196.5 729.4,1196.4 729.6,1196.4 729.8,1196.4 730,1196.5 730.2,1196.5 730.4,1196.6 730.6,1196.5 730.8,1196.5 731,1197 731.2,1196.5 731.4,1196.5 731.6,1196.6 731.8,1196.5 732,1196.4 732.2,1196.7 732.4,1196.8 732.6,1196.4 732.8,1196.6 733,1196.7 733.2,1196.6 733.4,1196.8 733.6,1196.7 733.8,1196.6 734,1196.7 734.2,1196.7 734.4,1196.8 734.6,1196.4 734.8,1196.8 735,1196.9 735.2,1196.8 735.4,1196.8 735.6,1196.7 735.8,1196.8 736,1196.8 736.2,1196.7 736.4,1196.7 736.6,1196.6 736.8,1196.9 737,1196.9 737.2,1197 737.4,1196.9 737.6,1197 737.8,1196.7 738,1196.7 738.2,1196.8 738.4,1196.9 738.6,1197 738.8,1196.9 739,1196.9 739.2,1196.9 739.4,1197 739.6,1197 739.8,1197 740,1196.9 740.2,1197 740.4,1196.8 740.6,1196.9 740.8,1197 741,1197.1 741.2,1196.9 741.4,1196.9 741.6,1197.1 741.8,1196.9 742,1196.9 742.2,1196.9 742.4,1196.9 742.6,1196.8 742.8,1197 743,1197.3 743.2,1197 743.4,1197 743.6,1197.2 743.8,1197.1 744,1197.1 744.2,1197.3 744.4,1197 744.6,1197.1 744.8,1197.2 745,1197.2 745.2,1197.1 745.4,1197.1 745.6,1197.4 745.8,1197.2 746,1197.2 746.2,1197.3 746.4,1197 746.6,1197.2 746.8,1197.1 747,1197.4 747.2,1197.2 747.4,1197.3 747.6,1197.2 747.8,1197.3 748,1197.3 748.2,1197.3 748.4,1197.3 748.6,1197.3 748.8,1197.3 749,1197.3 749.2,1197.4 749.4,1197.4 749.6,1197.2 749.8,1197.3 750,1197.3 750.2,1197.4 750.4,1197.2 750.6,1197.5 750.8,1197.4 751,1197.4 751.2,1197.5 751.4,1197.3 751.6,1197.5 751.8,1197.5 752,1197.6 752.2,1197.3 752.4,1197.6 752.6,1197.5 752.8,1197.5 753,1197.6 753.2,1197.5 753.4,1197.5 753.6,1197.6 753.8,1197.5 754,1197.6 754.2,1197.6 754.4,1197.5 754.6,1197.5 754.8,1197.4 755,1197.4 755.2,1197.7 755.4,1197.4 755.6,1197.5 755.8,1197.6 756,1197.4 756.2,1197.5 756.4,1197.5 756.6,1197.8 756.8,1197.6 757,1197.7 757.2,1197.8 757.4,1197.7 757.6,1197.7 757.8,1197.5 758,1197.5 758.2,1197.7 758.4,1197.7 758.6,1197.5 758.8,1197.7 759,1197.6 759.2,1197.7 759.4,1197.7 759.6,1197.8 759.8,1197.5 760,1197.6 760.2,1197.7 760.4,1197.6 760.6,1197.7 760.8,1197.6 761,1197.4 761.2,1197.5 761.4,1197.7 761.6,1197.5 761.8,1197.4 762,1197.5 762.2,1197.6 762.4,1197.6 762.6,1197.6 762.8,1197.6 763,1197.5 763.2,1197.5 763.4,1197.5 763.6,1197.6 763.8,1197.6 764,1197.7 764.2,1197.6 764.4,1197.7 764.6,1197.7 764.8,1197.5 765,1197.5 765.2,1197.6 765.4,1197.5 765.6,1197.8 765.8,1197.4 766,1197.5 766.2,1197.6 766.4,1197.5 766.6,1197.6 766.8,1197.5 767,1197.7 767.2,1197.5 767.4,1197.6 767.6,1197.6 767.8,1197.4 768,1197.4 768.2,1197.3 768.4,1197.4 768.6,1197.6 768.8,1197.5 769,1197.6 769.2,1197.6 769.4,1197.6 769.6,1197.6 769.8,1197.4 770,1197.4 770.2,1197.5 770.4,1197.5 770.6,1197.6 770.8,1197.5 771,1197.4 771.2,1197.4 771.4,1197.6 771.6,1197.4 771.8,1197.6 772,1197.3 772.2,1197.5 772.4,1197.4 772.6,1197.5 772.8,1197.3 773,1197.4 773.2,1197.4 773.4,1197.4 773.6,1197.3 773.8,1197.3 774,1197.4 774.2,1197.5 774.4,1197.4 774.6,1197.4 774.8,1197.4 775,1197.3 775.2,1197.5 775.4,1197.4 775.6,1197.3 775.8,1197.3 776,1197.5 776.2,1197.4 776.4,1197.2 776.6,1197.6 776.8,1197.3 777,1197.6 777.2,1197.5 777.4,1197.3 777.6,1197.5 777.8,1197.5 778,1197.5 778.2,1197.5 778.4,1197.4 778.6,1197.4 778.8,1197.4 779,1197.4 779.2,1197.5 779.4,1197.4 779.6,1197.6 779.8,1197.2 780,1197.4 780.2,1197.3 780.4,1197.2 780.6,1197.4 780.8,1197.4 781,1197.3 781.2,1197.3 781.4,1197.4 781.6,1197.2 781.8,1197.4 782,1197.4 782.2,1197.3 782.4,1197.4 782.6,1197.2 782.8,1197.4 783,1197.4 783.2,1197.5 783.4,1197.4 783.6,1197.5 783.8,1197.4 784,1197.3 784.2,1197.4 784.4,1197.3 784.6,1197.4 784.8,1197.4 785,1197.3 785.2,1197.5 785.4,1197.3 785.6,1197.5 785.8,1197.4 786,1197.6 786.2,1197.5 786.4,1197.5 786.6,1197.4 786.8,1197.4 787,1197.3 787.2,1197.3 787.4,1197.3 787.6,1197.3 787.8,1197.4 788,1197.3 788.2,1197.4 788.4,1197.4 788.6,1197.4 788.8,1197.4 789,1197.5 789.2,1197.3 789.4,1197.4 789.6,1197.7 789.8,1197.4 790,1197.4 790.2,1197.3 790.4,1197.5 790.6,1197.6 790.8,1197.5 791,1197.4 791.2,1197.4 791.4,1197.2 791.6,1197.5 791.8,1197.4 792,1197.4 792.2,1197.4 792.4,1197.4 792.6,1197.6 792.8,1197.5 793,1197.3 793.2,1197.5 793.4,1197.5 793.6,1197.4 793.8,1197.5 794,1197.4 794.2,1197.2 794.4,1197.3 794.6,1197.4 794.8,1197.3 795,1197.4 795.2,1197.3 795.4,1197.4 795.6,1197.4 795.8,1197.3 796,1197.3 796.2,1197.4 796.4,1197.5 796.6,1197.4 796.8,1197.4 797,1197.4 797.2,1197.5 797.4,1197.5 797.6,1197.6 797.8,1197.3 798,1197.5 798.2,1197.4 798.4,1197.3 798.6,1197.5 798.8,1197.5 799,1197.5 799.2,1197.5 799.4,1197.3 799.6,1197.4 799.8,1197.4 800,1197.6 800.2,1197.4 800.4,1197.4 800.6,1197.6 800.8,1197.4 801,1197.4 801.2,1197.4 801.4,1197.5 801.6,1197.4 801.8,1197.2 802,1197.4 802.2,1197.5 802.4,1197.3 802.6,1197.5 802.8,1197.4 803,1197.3 803.2,1197.5 803.4,1197.2 803.6,1197.2 803.8,1197.3 804,1197.5 804.2,1197.4 804.4,1197.5 804.6,1197.4 804.8,1197.4 805,1197.4 805.2,1197.4 805.4,1197.5 805.6,1197.5 805.8,1197.3 806,1197.5 806.2,1197.6 806.4,1197.5" fill="none" stroke="#ff0000" stroke-width="4.5" stroke-linejoin="round" stroke-linecap="butt" clip-path="url(#clip_c)"/>
<polyline points="315.4,1144.7 315.4,1136.7" fill="none" stroke="#ff0000" stroke-width="3.0" stroke-linejoin="round" stroke-linecap="butt" clip-path="url(#clip_c)"/>
<polyline points="328.7,1140.3 328.7,1133.5" fill="none" stroke="#ff0000" stroke-width="3.0" stroke-linejoin="round" stroke-linecap="butt" clip-path="url(#clip_c)"/>
<polyline points="414.7,1111.3 414.7,1102.5" fill="none" stroke="#ff0000" stroke-width="3.0" stroke-linejoin="round" stroke-linecap="butt" clip-path="url(#clip_c)"/>
<polyline points="134.7,1200 135.2,1200 135.4,1199.9 135.6,1200.3 135.8,1200 136,1200 136.2,1200 136.4,1199.9 136.6,1199.9 136.8,1200 137,1199.9 137.2,1200 137.4,1199.9 137.6,1199.7 137.8,1199.8 138,1199.8 138.2,1199.7 138.4,1199.9 138.6,1199.8 138.8,1200 139,1199.8 139.2,1199.8 139.4,1199.9 139.6,1199.9 139.8,1199.7 140,1200 140.2,1199.8 140.4,1200 140.6,1199.8 140.8,1199.8 141,1199.7 141.2,1199.8 141.4,1200.1 141.6,1199.7 141.8,1200 142,1199.9 142.2,1199.7 142.4,1199.9 142.6,1199.9 142.8,1199.7 143,1199.7 143.2,1199.9 143.4,1199.8 143.6,1200 143.8,1199.8 144,1199.6 144.2,1199.7 144.4,1199.6 144.6,1199.8 144.8,1199.8 145,1199.7 145.2,1199.6 145.4,1199.8 145.6,1199.7 145.8,1199.8 146,1199.6 146.2,1199.6 146.4,1199.6 146.6,1199.6 146.8,1199.9 147,1199.8 147.2,1199.6 147.4,1199.7 147.6,1199.5 147.8,1199.8 148,1199.7 148.2,1199.6 148.4,1199.6 148.6,1199.6 148.8,1199.7 149,1199.6 149.2,1199.5 149.4,1199.6 149.6,1199.5 149.8,1199.7 150,1199.6 150.2,1199.6 150.4,1199.4 150.6,1199.5 150.8,1199.5 151,1199.5 151.2,1199.5 151.4,1199.5 151.6,1199.4 151.8,1199.6 152,1199.6 152.2,1199.5 152.4,1199.6 152.6,1199.4 152.8,1199.4 153,1199.5 153.2,1199.7 153.4,1199.5 153.6,1199.3 153.8,1199.5 154,1199.4 154.2,1199.4 154.4,1199.5 154.6,1199.3 154.8,1199.3 155,1199.3 155.2,1199.6 155.4,1199.5 155.6,1199.4 155.8,1199.4 156,1199.5 156.2,1199.6 156.4,1199.3 156.6,1199.4 156.8,1199.7 157,1199.5 157.2,1199.4 157.4,1199.4 157.6,1199.4 157.8,1199.5 158,1199.4 158.2,1199.3 158.4,1199.4 158.6,1199.4 158.8,1199.3 159,1199.4 159.2,1199.3 159.4,1199.5 159.6,1199.5 159.8,1199.2 160,1199.4 160.2,1199.3 160.4,1199.3 160.6,1199.3 160.8,1199.3 161,1199.4 161.2,1199.2 161.4,1199.4 161.6,1199.3 161.8,1199.2 162,1199.3 162.2,1199.3 162.4,1199.3 162.6,1199.3 162.8,1199.2 163,1199.2 163.2,1199.3 163.4,1199.1 163.6,1199.3 163.8,1199.3 164,1199.2 164.2,1199.2 164.4,1199.2 164.6,1199.2 164.8,1199.2 165,1199.2 165.2,1199 165.4,1199 165.6,1199.2 165.8,1199.1 166,1199.1 166.2,1199.1 166.4,1199 166.6,1199.3 166.8,1199.1 167,1199.1 167.2,1199 167.4,1199.2 167.6,1199.2 167.8,1199.3 168,1199.2 168.2,1199 168.4,1198.9 168.6,1199.1 168.8,1198.9 169,1198.9 169.2,1198.9 169.4,1198.9 169.6,1198.9 169.8,1198.7 170,1198.7 170.2,1198.5 170.4,1198.7 170.6,1198.6 170.8,1198.4 171,1198.7 171.2,1198.5 171.4,1198.4 171.6,1198.4 171.8,1198.4 172,1198.4 172.2,1198.4 172.4,1198.3 172.6,1198.3 172.8,1198 173,1198.2 173.2,1198.2 173.4,1198.2 173.6,1198.2 173.8,1198 174,1197.9 174.2,1198 174.4,1198.2 174.6,1198 174.8,1197.8 175,1197.7 175.2,1197.8 175.4,1197.7 175.6,1197.8 175.8,1197.7 176,1197.4 176.2,1197.6 176.4,1197.7 176.6,1197.5 176.8,1197.4 177,1197.4 177.2,1197.3 177.4,1197.6 177.6,1197.5 177.8,1197.3 178,1197.5 178.2,1197.2 178.4,1197.2 178.6,1197.1 178.8,1197.2 179,1197.2 179.2,1197.3 179.4,1197.1 179.6,1197 179.8,1197 180,1196.9 180.2,1197 180.4,1196.8 180.6,1196.9 180.8,1196.8 181,1196.7 181.2,1196.4 181.4,1196.4 181.6,1196.3 181.8,1196 182,1195.7 182.2,1195.8 182.4,1195.9 182.6,1195.6 182.8,1196 183,1195.5 183.2,1195.2 183.4,1195.2 183.6,1195.2 183.8,1195.1 184,1194.8 184.2,1194.8 184.4,1195.3 184.6,1194.7 184.8,1194.4 185,1194.1 185.2,1193.6 185.4,1194 185.6,1193.8 185.8,1193.7 186,1193.5 186.2,1193.7 186.4,1193.7 186.6,1193.1 186.8,1192.7 187,1193.1 187.2,1193.2 187.4,1192.6 187.6,1192.4 187.8,1191.5 188,1191.5 188.2,1191.7 188.4,1191.4 188.6,1191 188.8,1191 189,1190.9 189.2,1190.3 189.4,1189.7 189.6,1189.1 189.8,1189.6 190,1189.2 190.2,1188.9 190.4,1189.3 190.6,1188.2 190.8,1188.1 191,1188.4 191.2,1187.3 191.4,1186.3 191.6,1186.9 191.8,1187.5 192,1186.4 192.2,1186.2 192.4,1184.8 192.6,1186.3 192.8,1184.1 193,1184.3 193.2,1184.3 193.4,1185.3 193.6,1183.7 193.8,1182.7 194,1181.7 194.2,1182.2 194.4,1181.1 194.6,1181.1 194.8,1181.2 195,1181.8 195.2,1179.5 195.4,1181.1 195.6,1178 195.8,1180.8 196,1178.2 196.2,1177.9 196.4,1177.4 196.6,1177.5 196.8,1176.8 197,1176.1 197.2,1175.3 197.4,1174.9 197.6,1175.1 197.8,1174 198,1173.4 198.2,1172.2 198.4,1173.2 198.6,1173.2 198.8,1171.1 199,1172.8 199.2,1171.2 199.4,1170.9 199.6,1168.5 199.8,1170.6 200,1170.9 200.2,1171.3 200.4,1168 200.6,1168.3 200.8,1168.8 201,1168.1 201.2,1166.4 201.4,1166.8 201.6,1167.5 201.8,1166.6 202,1165.5 202.2,1166.4 202.4,1163 202.6,1164.9 202.8,1163.2 203,1163.4 203.2,1164.8 203.4,1165.8 203.6,1164.2 203.8,1163.7 204,1165.5 204.2,1163.6 204.4,1162.7 204.6,1163.1 204.8,1163 205,1162.9 205.2,1162.6 205.4,1163 205.6,1162.9 205.8,1163.2 206,1162.6 206.2,1162.8 206.4,1162.8 206.6,1163.3 206.8,1163.5 207,1163.7 207.2,1163.7 207.4,1163.4 207.6,1164 207.8,1163.6 208,1163.7 208.2,1164 208.4,1164.7 208.6,1164.1 208.8,1164.1 209,1164.6 209.2,1165 209.4,1165 209.6,1165.2 209.8,1165 210,1165.4 210.2,1166 210.4,1165.9 210.6,1165.9 210.8,1166.2 211,1166.8 211.2,1167.1 211.4,1167 211.6,1166.9 211.8,1167.7 212,1167.3 212.2,1167.7 212.4,1168 212.6,1168.1 212.8,1168.2 213,1168.9 213.2,1168.7 213.4,1168.5 213.6,1168.9 213.8,1169.5 214,1169.2 214.2,1169.1 214.4,1169.7 214.6,1169.7 214.8,1169.7 215,1169.9 215.2,1169.8 215.4,1170.1 215.6,1170.3 215.8,1170.1 216,1170.7 216.2,1170.2 216.4,1171.1 216.6,1170.7 216.8,1170.9 217,1170.6 217.2,1171.2 217.4,1170.9 217.6,1171.4 217.8,1171.4 218,1171.3 218.2,1172 218.4,1171.7 218.6,1171.7 218.8,1171.7 219,1171.9 219.2,1171.8 219.4,1172.1 219.6,1171.7 219.8,1171.9 220,1171.8 220.2,1171.7 220.4,1172.1 220.6,1171.7 220.8,1171.6 221,1172.1 221.2,1171.9 221.4,1172.1 221.6,1172.1 221.8,1172.2 222,1172.1 222.2,1172.4 222.4,1171.8 222.6,1172.4 222.8,1172.1 223,1172.2 223.2,1172 223.4,1172.4 223.6,1172.3 223.8,1172 224,1172.1 224.2,1172.2 224.4,1172 224.6,1172.6 224.8,1172.1 225,1171.8 225.2,1172.1 225.4,1171.9 225.6,1171.7 225.8,1171.7 226,1171.3 226.2,1172.5 226.4,1173.3 226.6,1171.6 226.8,1170.8 227,1169.8 227.2,1170.3 227.4,1171.5 227.6,1170.8 227.8,1171.3 228,1170.5 228.2,1171.2 228.4,1171.1 228.6,1171.5 228.8,1171.3 229,1171.4 229.2,1170.3 229.4,1170.8 229.6,1169.8 229.8,1170.5 230,1170.9 230.2,1171.4 230.4,1169.5 230.6,1169.9 230.8,1170.3 231,1169.6 231.2,1170.6 231.4,1170.6 231.6,1170.1 231.8,1172.5 232,1170.3 232.2,1171 232.4,1168.9 232.6,1171.6 232.8,1171 233,1170.9 233.2,1168.4 233.4,1170.6 233.6,1169.9 233.8,1171 234,1170.5 234.2,1170 234.4,1170 234.6,1171.8 234.8,1171.6 235,1168.7 235.2,1170 235.4,1171.1 235.6,1170 235.8,1170.7 236,1170 236.2,1172.1 236.4,1171.1 236.6,1170.2 236.8,1171.9 237,1171.1 237.2,1172.2 237.4,1170 237.6,1168.9 237.8,1171.3 238,1170.5 238.2,1168.7 238.4,1166.5 238.6,1170.7 238.8,1170.6 239,1169.8 239.2,1170.1 239.4,1170.8 239.6,1169.2 239.8,1172 240,1169.3 240.2,1170.8 240.4,1170.7 240.6,1170.2 240.8,1170 241,1171.7 241.2,1169.1 241.4,1170.8 241.6,1172.5 241.8,1170.1 242,1169.3 242.2,1170.4 242.4,1167.9 242.6,1170.1 242.8,1169.7 243,1170.1 243.2,1170.1 243.4,1171.6 243.6,1171.1 243.8,1170 244,1172.4 244.2,1170.1 244.4,1172.7 244.6,1170.7 244.8,1170.2 245,1170.7 245.2,1172.7 245.4,1171.4 245.6,1171.2 245.8,1169.6 246,1171.3 246.2,1171 246.4,1171 246.6,1170.6 246.8,1169.8 247,1172.7 247.2,1170.5 247.4,1172.1 247.6,1172.1 247.8,1171.7 248,1171.7 248.2,1172.2 248.4,1171.2 248.6,1171.5 248.8,1172 249,1171.9 249.2,1171.4 249.4,1168.9 249.6,1171.7 249.8,1170.5 250,1173 250.2,1173.1 250.4,1172.1 250.6,1172.1 250.8,1169.8 251,1171.7 251.2,1171.1 251.4,1173.8 251.6,1170.6 251.8,1174.3 252,1171.8 252.2,1169.9 252.4,1173.9 252.6,1171.8 252.8,1172.4 253,1173.2 253.2,1170.5 253.4,1171.6 253.6,1172.3 253.8,1173.5 254,1172 254.2,1172.8 254.4,1170.4 254.6,1172.8 254.8,1171.3 255,1171.9 255.2,1172.4 255.4,1173.2 255.6,1171.7 255.8,1172.8 256,1172.1 256.2,1173 256.4,1172 256.6,1173.9 256.8,1171.4 257,1171.4 257.2,1173.8 257.4,1171.8 257.6,1173.2 257.8,1173.3 258,1170.9 258.2,1172.3 258.4,1172.1 258.6,1172.5 258.8,1171.1 259,1172.8 259.2,1172.8 259.4,1171.5 259.6,1172.6 259.8,1172.9 260,1170.9 260.2,1172.6 260.4,1173.6 260.6,1173.4 260.8,1171.6 261,1171.9 261.2,1172.7 261.4,1173.1 261.6,1173.5 261.8,1172.8 262,1173.5 262.2,1172 262.4,1174.6 262.6,1172.5 262.8,1171.8 263,1172.2 263.2,1170.9 263.4,1172 263.6,1172.4 263.8,1173.2 264,1173.9 264.2,1171.9 264.4,1172 264.6,1173.5 264.8,1173.8 265,1173.5 265.2,1173 265.4,1171.6 265.6,1172.2 265.8,1171.2 266,1172 266.2,1173.9 266.4,1174.2 266.6,1172.4 266.8,1173.2 267,1173.9 267.2,1171.5 267.4,1171.1 267.6,1171.8 267.8,1170.3 268,1173.1 268.2,1172.3 268.4,1172.1 268.6,1172.4 268.8,1172.8 269,1172.3 269.2,1171 269.4,1172.9 269.6,1171.7 269.8,1172.5 270,1171.5 270.2,1172.1 270.4,1170.5 270.6,1172.2 270.8,1171.7 271,1173.1 271.2,1171.2 271.4,1171.1 271.6,1172.6 271.8,1169.9 272,1172.5 272.2,1171.8 272.4,1171.3 272.6,1171.9 272.8,1171.5 273,1170.8 273.2,1172.4 273.4,1170.7 273.6,1171.7 273.8,1171.4 274,1170.8 274.2,1170.8 274.4,1171.7 274.6,1171 274.8,1172.8 275,1172.2 275.2,1170.8 275.4,1172.3 275.6,1168.8 275.8,1172.9 276,1169.8 276.2,1169.8 276.4,1172.2 276.6,1169.3 276.8,1170.2 277,1171.3 277.2,1168.7 277.4,1170.7 277.6,1171.8 277.8,1170 278,1172.3 278.2,1169.8 278.4,1172.1 278.6,1171 278.8,1170.7 279,1170.3 279.2,1169.4 279.4,1171.6 279.6,1169.2 279.8,1170.4 280,1171.1 280.2,1170.8 280.4,1171 280.6,1169.5 280.8,1168.8 281,1170.4 281.2,1169.9 281.4,1171.2 281.6,1167.9 281.8,1170 282,1170.4 282.2,1169.4 282.4,1168.2 282.6,1169.9 282.8,1170.9 283,1169.1 283.2,1168.8 283.4,1168.7 283.6,1168.6 283.8,1167.7 284,1173 284.2,1169.4 284.4,1170.8 284.6,1170.8 284.8,1168.9 285,1170.1 285.2,1171.4 285.4,1170.9 285.6,1170.5 285.8,1168.6 286,1168.6 286.2,1169.3 286.4,1170.9 286.6,1168.5 286.8,1169.9 287,1170.4 287.2,1170 287.4,1169.1 287.6,1168.4 287.8,1169.8 288,1168.6 288.2,1169.4 288.4,1168.4 288.6,1168.3 288.8,1168.3 289,1167.7 289.2,1169.7 289.4,1167.2 289.6,1169 289.8,1168.1 290,1169.1 290.2,1166.7 290.4,1168.4 290.6,1168.4 290.8,1169.9 291,1169.4 291.2,1168.7 291.4,1168.1 291.6,1168.2 291.8,1169.2 292,1169.5 292.2,1168.7 292.4,1169.3 292.6,1166.2 292.8,1168.9 293,1170 293.2,1167.9 293.4,1167.1 293.6,1169.2 293.8,1165.5 294,1168.9 294.2,1166.2 294.4,1168 294.6,1166.1 294.8,1169 295,1167.4 295.2,1166.6 295.4,1167.2 295.6,1168.7 295.8,1168.8 296,1167.3 296.2,1166.8 296.4,1168.7 296.6,1167.1 296.8,1166.2 297,1169 297.2,1164.9 297.4,1167.1 297.6,1168.5 297.8,1167.1 298,1166.9 298.2,1167.6 298.4,1165.3 298.6,1166.4 298.8,1166.3 299,1167.4 299.2,1166.8 299.4,1166.3 299.6,1167.6 299.8,1167.6 300,1164.6 300.2,1168.9 300.4,1166.4 300.6,1165.3 300.8,1167.8 301,1162.9 301.2,1164.3 301.4,1166 301.6,1164.8 301.8,1164.2 302,1165.2 302.2,1167.2 302.4,1165.4 302.6,1166.3 302.8,1166.1 303,1165.2 303.2,1165.2 303.4,1164.3 303.6,1165.3 303.8,1165.9 304,1164.7 304.2,1164.8 304.4,1165.4 304.6,1164.8 304.8,1165.1 305,1162.5 305.2,1165 305.4,1162.6 305.6,1165.2 305.8,1164.2 306,1163.8 306.2,1162.8 306.4,1165.3 306.6,1163.7 306.8,1163.6 307,1161.8 307.2,1165.8 307.4,1163.3 307.6,1162.9 307.8,1165.2 308,1164.4 308.2,1160.8 308.4,1163.5 308.6,1165.3 308.8,1163.2 309,1162.6 309.2,1164.3 309.4,1164.2 309.6,1162.2 309.8,1162.4 310,1162.5 310.2,1162.4 310.4,1161.5 310.6,1162.1 310.8,1163.7 311,1161 311.2,1164 311.4,1163.3 311.6,1163.5 311.8,1163.5 312,1161.5 312.2,1160.5 312.4,1163.7 312.6,1162.2 312.8,1162.7 313,1163.3 313.2,1160.5 313.4,1161.9 313.6,1161.9 313.8,1160.7 314,1160.7 314.2,1161.7 314.4,1162.1 314.6,1163.1 314.8,1162.6 315,1163.2 315.2,1160.8 315.4,1161.6 315.6,1161.2 315.8,1160.8 316,1160.5 316.2,1162.7 316.4,1162.8 316.6,1161 316.8,1157.6 317,1159.4 317.2,1159.7 317.4,1162.7 317.6,1161.9 317.8,1160.2 318,1161.4 318.2,1160.8 318.4,1160.2 318.6,1160.1 318.8,1159 319,1158.9 319.2,1159.9 319.4,1158.6 319.6,1160.4 319.8,1159.5 320,1158.7 320.2,1160.1 320.4,1158.7 320.6,1159.1 320.8,1158.3 321,1160.2 321.2,1159.5 321.4,1159.1 321.6,1159 321.8,1159.8 322,1158.5 322.2,1156.8 322.4,1161.1 322.6,1159 322.8,1159.8 323,1157.7 323.2,1156.7 323.4,1157.2 323.6,1159.3 323.8,1158 324,1158.2 324.2,1157.8 324.4,1156.3 324.6,1160.3 324.8,1157 325,1156.8 325.2,1156.6 325.4,1158.3 325.6,1159.4 325.8,1158.1 326,1158.3 326.2,1157.4 326.4,1159.3 326.6,1157.9 326.8,1158 327,1156.1 327.2,1158.9 327.4,1158.2 327.6,1156.6 327.8,1156.3 328,1157.7 328.2,1155.5 328.4,1157.2 328.6,1155.9 328.8,1155.6 329,1158.2 329.2,1155.4 329.4,1154.4 329.6,1158.6 329.8,1155.8 330,1157.9 330.2,1156.5 330.4,1155.2 330.6,1154.3 330.8,1156 331,1156.6 331.2,1155.3 331.4,1155.6 331.6,1155 331.8,1155.8 332,1156.1 332.2,1155.6 332.4,1153.2 332.6,1154.7 332.8,1155.1 333,1155 333.2,1153.1 333.4,1154.7 333.6,1153.4 333.8,1153.2 334,1155.8 334.2,1154 334.4,1156.6 334.6,1156.5 334.8,1152.5 335,1155.2 335.2,1152.8 335.4,1155.5 335.6,1156.1 335.8,1156.4 336,1156.1 336.2,1152.6 336.4,1154.7 336.6,1152.3 336.8,1154.8 337,1155.2 337.2,1153.9 337.4,1155.1 337.6,1152.8 337.8,1153.2 338,1152.2 338.2,1151.3 338.4,1153.7 338.6,1153.6 338.8,1152.1 339,1152.3 339.2,1151.3 339.4,1154.2 339.6,1153.9 339.8,1152.4 340,1152.5 340.2,1152.4 340.4,1151.7 340.6,1153.3 340.8,1154 341,1149.9 341.2,1153.7 341.4,1151.3 341.6,1151.9 341.8,1150.3 342,1151.3 342.2,1151.7 342.4,1151.3 342.6,1155.1 342.8,1150.9 343,1150.9 343.2,1150.7 343.4,1151.6 343.6,1151.8 343.8,1151.7 344,1150.5 344.2,1150.6 344.4,1147 344.6,1150.2 344.8,1148.5 345,1150.1 345.2,1148.8 345.4,1150.2 345.6,1148.9 345.8,1150 346,1146.1 346.2,1150.2 346.4,1146.7 346.6,1150.8 346.8,1146.4 347,1148.3 347.2,1146.8 347.4,1148.3 347.6,1149.4 347.8,1146.6 348,1148.2 348.2,1148.8 348.4,1146 348.6,1148.5 348.8,1146.4 349,1147.9 349.2,1145.5 349.4,1151.2 349.6,1146.6 349.8,1143.8 350,1147.2 350.2,1145.9 350.4,1144 350.6,1145.6 350.8,1144.3 351,1146.1 351.2,1144.4 351.4,1144.2 351.6,1145.8 351.8,1145.9 352,1145.3 352.2,1145.6 352.4,1144.9 352.6,1145.4 352.8,1146.5 353,1146 353.2,1145.4 353.4,1146.7 353.6,1141.9 353.8,1145.6 354,1141.3 354.2,1142.9 354.4,1142.5 354.6,1144.5 354.8,1145.7 355,1142.6 355.2,1140.7 355.4,1144.6 355.6,1142.9 355.8,1140.9 356,1146 356.2,1143.3 356.4,1142.9 356.6,1142.7 356.8,1141.9 357,1143.2 357.2,1142.3 357.4,1143.8 357.6,1139.7 357.8,1141.8 358,1143.3 358.2,1139.9 358.4,1142.6 358.6,1140.2 358.8,1142.7 359,1143 359.2,1142 359.4,1140.9 359.6,1139.8 359.8,1139.8 360,1141.1 360.2,1140.6 360.4,1139.2 360.6,1140.7 360.8,1138.7 361,1142.2 361.2,1141.5 361.4,1140.2 361.6,1141.7 361.8,1139.7 362,1142 362.2,1140 362.4,1137.9 362.6,1136.8 362.8,1142.4 363,1137.1 363.2,1139.3 363.4,1140.7 363.6,1138.8 363.8,1137.9 364,1138.8 364.2,1139.4 364.4,1139.2 364.6,1139.7 364.8,1137.2 365,1140.4 365.2,1139.1 365.4,1139.8 365.6,1139.9 365.8,1139.2 366,1136.6 366.2,1137.2 366.4,1137 366.6,1136.6 366.8,1137.1 367,1135.3 367.2,1137.9 367.4,1137.7 367.6,1139.3 367.8,1136.9 368,1140.1 368.2,1137.3 368.4,1136.9 368.6,1137.4 368.8,1139.4 369,1138.7 369.2,1137.5 369.4,1137 369.6,1136.2 369.8,1134.8 370,1136.5 370.2,1136.1 370.4,1139.1 370.6,1135.8 370.8,1138.4 371,1136.5 371.2,1135.7 371.4,1137.2 371.6,1132.8 371.8,1133.1 372,1138.7 372.2,1136.4 372.4,1136.4 372.6,1135.4 372.8,1135.8 373,1135.4 373.2,1135.3 373.4,1135.7 373.6,1135.7 373.8,1136.1 374,1133.6 374.2,1134.4 374.4,1137.5 374.6,1134.4 374.8,1135.3 375,1135 375.2,1134.1 375.4,1137.4 375.6,1135.4 375.8,1131.6 376,1136 376.2,1132.4 376.4,1131.4 376.6,1133 376.8,1135.3 377,1131.4 377.2,1135.3 377.4,1132.5 377.6,1135.6 377.8,1134.8 378,1132.4 378.2,1129.8 378.4,1133.4 378.6,1130 378.8,1134.5 379,1132.5 379.2,1135 379.4,1132.2 379.6,1131.5 379.8,1133.7 380,1131.3 380.2,1132.9 380.4,1132.6 380.6,1131.6 380.8,1130.6 381,1133.5 381.2,1135.1 381.4,1132 381.6,1131 381.8,1131.9 382,1130.4 382.2,1129.3 382.4,1133.8 382.6,1132.3 382.8,1131.5 383,1134.7 383.2,1131.9 383.4,1131.8 383.6,1133.1 383.8,1130.8 384,1132.2 384.2,1132.2 384.4,1132.7 384.6,1132.1 384.8,1133.6 385,1132.7 385.2,1132.5 385.4,1132.6 385.6,1130.3 385.8,1129.8 386,1130.7 386.2,1132.8 386.4,1129 386.6,1131.5 386.8,1129.7 387,1130.1 387.2,1129.5 387.4,1127.9 387.6,1132.8 387.8,1130.1 388,1130.5 388.2,1130.5 388.4,1126.1 388.6,1132.4 388.8,1132.8 389,1130.1 389.2,1130.5 389.4,1131.1 389.6,1131 389.8,1131.4 390,1131 390.2,1129.6 390.4,1130.6 390.6,1127.9 390.8,1129.5 391,1131.4 391.2,1131.8 391.4,1130.3 391.6,1130.7 391.8,1128.7 392,1130.8 392.2,1129.2 392.4,1127.9 392.6,1131.3 392.8,1129.4 393,1129.7 393.2,1127.4 393.4,1129.2 393.6,1129.7 393.8,1130 394,1129.9 394.2,1129.7 394.4,1130.4 394.6,1130.8 394.8,1130.6 395,1127.5 395.2,1129.1 395.4,1130.8 395.6,1130.2 395.8,1128.3 396,1128.7 396.2,1128.5 396.4,1128.9 396.6,1125.4 396.8,1125.2 397,1127.6 397.2,1126.2 397.4,1126.8 397.6,1126.8 397.8,1128.5 398,1128.1 398.2,1130.4 398.4,1128.4 398.6,1127.9 398.8,1128.1 399,1127.9 399.2,1126.7 399.4,1126.2 399.6,1130.2 399.8,1127 400,1126.8 400.2,1126.2 400.4,1127 400.6,1125.9 400.8,1126.8 401,1125.3 401.2,1125.6 401.4,1131.1 401.6,1128.2 401.8,1128.4 402,1129.9 402.2,1128.6 402.4,1128.4 402.6,1127.3 402.8,1129.3 403,1126.6 403.2,1127.4 403.4,1127 403.6,1129.6 403.8,1127.7 404,1127.9 404.2,1130 404.4,1130 404.6,1128.4 404.8,1128.2 405,1127 405.2,1127.7 405.4,1129 405.6,1128.5 405.8,1129.8 406,1128.4 406.2,1126 406.4,1126.5 406.6,1124.4 406.8,1128.3 407,1126.2 407.2,1128.4 407.4,1127 407.6,1127.9 407.8,1127 408,1127.2 408.2,1128.2 408.4,1126.8 408.6,1127.2 408.8,1126.8 409,1126.9 409.2,1126.6 409.4,1125.8 409.6,1127.1 409.8,1128.3 410,1127.5 410.2,1126.4 410.4,1125.7 410.6,1130.6 410.8,1129.3 411,1125.7 411.2,1125.4 411.4,1125 411.6,1128.9 411.8,1124.8 412,1127.4 412.2,1125.7 412.4,1127.4 412.6,1125.7 412.8,1127 413,1127.2 413.2,1128.7 413.4,1129.3 413.6,1127.9 413.8,1127.7 414,1129.7 414.2,1124.9 414.4,1130.1 414.6,1126.8 414.8,1126.6 415,1129.3 415.2,1126.6 415.4,1127.2 415.6,1128.4 415.8,1129.1 416,1125.4 416.2,1128.2 416.4,1127.8 416.6,1127 416.8,1129.8 417,1131.1 417.2,1128.6 417.4,1128.5 417.6,1126.3 417.8,1127.1 418,1126.8 418.2,1128.2 418.4,1128 418.6,1126.6 418.8,1127.4 419,1126 419.2,1127.1 419.4,1127.7 419.6,1128 419.8,1127.6 420,1128.1 420.2,1127.7 420.4,1126.6 420.6,1129.1 420.8,1127 421,1127.2 421.2,1129.5 421.4,1128.1 421.6,1128.6 421.8,1130.7 422,1127 422.2,1126.4 422.4,1131.4 422.6,1127.3 422.8,1127.1 423,1131.5 423.2,1128.8 423.4,1128 423.6,1125.2 423.8,1128.2 424,1127.3 424.2,1129.3 424.4,1125.5 424.6,1128.8 424.8,1130.9 425,1128.8 425.2,1127.6 425.4,1124.8 425.6,1127.9 425.8,1127.7 426,1127.2 426.2,1126.7 426.4,1130.7 426.6,1130.9 426.8,1127.1 427,1127.6 427.2,1127.6 427.4,1127.2 427.6,1129.5 427.8,1129.7 428,1130.4 428.2,1129.1 428.4,1129.5 428.6,1131.2 428.8,1129.9 429,1129.7 429.2,1126.5 429.4,1129 429.6,1128.9 429.8,1129.5 430,1131.4 430.2,1128.7 430.4,1131.9 430.6,1128.4 430.8,1132.2 431,1128.2 431.2,1129.9 431.4,1126.8 431.6,1128 431.8,1126.3 432,1131 432.2,1129.7 432.4,1126.5 432.6,1130.8 432.8,1129.4 433,1128.5 433.2,1129.9 433.4,1130.9 433.6,1130.4 433.8,1130.8 434,1131.6 434.2,1132.3 434.4,1128.7 434.6,1131.7 434.8,1128.7 435,1129.6 435.2,1128.6 435.4,1130 435.6,1133 435.8,1131.8 436,1133.9 436.2,1130.6 436.4,1133.7 436.6,1128 436.8,1132.7 437,1133.4 437.2,1133 437.4,1131.1 437.6,1131.1 437.8,1132.1 438,1135.3 438.2,1133.8 438.4,1132.2 438.6,1129.8 438.8,1134.1 439,1131.4 439.2,1134.2 439.4,1130.5 439.6,1131.2 439.8,1133.4 440,1133.5 440.2,1134.7 440.4,1133.4 440.6,1132.9 440.8,1134.4 441,1133.1 441.2,1132.2 441.4,1133.6 441.6,1135.8 441.8,1134.2 442,1134.5 442.2,1135.4 442.4,1134.9 442.6,1132.6 442.8,1133.7 443,1134.9 443.2,1137.1 443.4,1134.7 443.6,1133.2 443.8,1134.7 444,1134.7 444.2,1132.8 444.4,1135.3 444.6,1138.8 444.8,1133.8 445,1135.8 445.2,1136.7 445.4,1135 445.6,1132.4 445.8,1136 446,1134.7 446.2,1134.6 446.4,1136.1 446.6,1135.9 446.8,1137.3 447,1137.9 447.2,1134.6 447.4,1137.3 447.6,1136 447.8,1136.6 448,1138.6 448.2,1136.2 448.4,1135.7 448.6,1134.6 448.8,1139.4 449,1137.7 449.2,1137.6 449.4,1136.2 449.6,1139.6 449.8,1134.1 450,1138.9 450.2,1140.4 450.4,1139.9 450.6,1138.3 450.8,1138.5 451,1137.7 451.2,1137.6 451.4,1138.1 451.6,1137.6 451.8,1138.1 452,1137.3 452.2,1138.4 452.4,1139.3 452.6,1140.7 452.8,1138.7 453,1139.7 453.2,1138.5 453.4,1140.4 453.6,1138.2 453.8,1137.4 454,1137.2 454.2,1138.2 454.4,1139.1 454.6,1141.8 454.8,1140.2 455,1139.9 455.2,1137.7 455.4,1138.9 455.6,1139.2 455.8,1144.3 456,1142.2 456.2,1142 456.4,1138.3 456.6,1139.8 456.8,1139.9 457,1140.7 457.2,1138.4 457.4,1141.5 457.6,1140.6 457.8,1138 458,1140.3 458.2,1142.7 458.4,1142.2 458.6,1142.2 458.8,1138.9 459,1142.6 459.2,1141.7 459.4,1141.7 459.6,1139.6 459.8,1139.7 460,1143.7 460.2,1142.8 460.4,1143.6 460.6,1144.3 460.8,1141.4 461,1141.4 461.2,1140.2 461.4,1144.3 461.6,1142.8 461.8,1142.4 462,1142 462.2,1143.1 462.4,1146.4 462.6,1142.1 462.8,1140.5 463,1144.5 463.2,1143.2 463.4,1146.2 463.6,1144 463.8,1144.7 464,1141.2 464.2,1143.3 464.4,1143.2 464.6,1144.1 464.8,1144.9 465,1144.3 465.2,1143.8 465.4,1146.4 465.6,1145.7 465.8,1147.5 466,1143.9 466.2,1143.7 466.4,1142.3 466.6,1143.7 466.8,1144.9 467,1147.3 467.2,1143.4 467.4,1143.2 467.6,1145.1 467.8,1145 468,1146.2 468.2,1144.8 468.4,1145.1 468.6,1145.3 468.8,1146.5 469,1143.3 469.2,1146.8 469.4,1143.9 469.6,1147.7 469.8,1145.3 470,1147 470.2,1145.4 470.4,1147.2 470.6,1147.3 470.8,1144.6 471,1148.2 471.2,1147 471.4,1145.6 471.6,1147.4 471.8,1144 472,1145.4 472.2,1148.6 472.4,1146.9 472.6,1148.7 472.8,1147.8 473,1148.7 473.2,1148.8 473.4,1148.3 473.6,1148 473.8,1146.9 474,1148.6 474.2,1151 474.4,1147.4 474.6,1149 474.8,1148.4 475,1148.6 475.2,1150 475.4,1146.9 475.6,1151.4 475.8,1148 476,1146.3 476.2,1146.3 476.4,1148.8 476.6,1151.2 476.8,1149.3 477,1148.3 477.2,1152.6 477.4,1147.5 477.6,1149.5 477.8,1150.3 478,1150.2 478.2,1150.2 478.4,1148.3 478.6,1151.9 478.8,1150 479,1150.9 479.2,1148.9 479.4,1147.7 479.6,1152.6 479.8,1150.3 480,1149.8 480.2,1149.3 480.4,1150 480.6,1150.6 480.8,1150.5 481,1150.7 481.2,1150.8 481.4,1149.2 481.6,1151.4 481.8,1151.9 482,1150.1 482.2,1150.6 482.4,1151.4 482.6,1149.5 482.8,1151.5 483,1150.8 483.2,1152.5 483.4,1154.8 483.6,1151.5 483.8,1150.4 484,1152.4 484.2,1152 484.4,1151.5 484.6,1151.7 484.8,1151.9 485,1153.2 485.2,1152 485.4,1152.8 485.6,1153.4 485.8,1154.5 486,1153.4 486.2,1154.1 486.4,1155.1 486.6,1152.5 486.8,1154.7 487,1154.3 487.2,1151.5 487.4,1152.2 487.6,1154.2 487.8,1149.9 488,1151.6 488.2,1155.3 488.4,1153.9 488.6,1155.1 488.8,1155.3 489,1152 489.2,1152 489.4,1156 489.6,1151.2 489.8,1152.4 490,1154.3 490.2,1152.5 490.4,1153.5 490.6,1154.6 490.8,1154.6 491,1153.7 491.2,1155.2 491.4,1154.8 491.6,1155 491.8,1155.1 492,1154.1 492.2,1153.4 492.4,1155.4 492.6,1153.7 492.8,1156.5 493,1153 493.2,1154.8 493.4,1156.8 493.6,1154.7 493.8,1154.5 494,1157.9 494.2,1156 494.4,1156.3 494.6,1155.6 494.8,1157.3 495,1157.5 495.2,1154.8 495.4,1154.5 495.6,1152.5 495.8,1156 496,1156.7 496.2,1158.6 496.4,1156 496.6,1157.3 496.8,1155.9 497,1155.2 497.2,1154.8 497.4,1155.7 497.6,1157.9 497.8,1157.2 498,1154.9 498.2,1158.3 498.4,1157.3 498.6,1155.7 498.8,1155.3 499,1158.6 499.2,1157.2 499.4,1156.9 499.6,1158.3 499.8,1155 500,1157.1 500.2,1159.5 500.4,1156.6 500.6,1157.8 500.8,1159.2 501,1158.4 501.2,1157.7 501.4,1156.6 501.6,1157.5 501.8,1157.4 502,1159.1 502.2,1156.3 502.4,1157.6 502.6,1158.3 502.8,1159.7 503,1158.4 503.2,1158.5 503.4,1158.9 503.6,1157.4 503.8,1161.4 504,1156.8 504.2,1158.5 504.4,1157.8 504.6,1159.3 504.8,1159.8 505,1160.4 505.2,1158.5 505.4,1157.7 505.6,1157.5 505.8,1159.6 506,1160.2 506.2,1162.2 506.4,1159.9 506.6,1158.9 506.8,1160.8 507,1158.1 507.2,1161.8 507.4,1160.2 507.6,1160.2 507.8,1158.9 508,1160.4 508.2,1161.3 508.4,1160.7 508.6,1160.2 508.8,1159.8 509,1159 509.2,1158 509.4,1162 509.6,1160.7 509.8,1159.4 510,1160.8 510.2,1160.7 510.4,1159.8 510.6,1159.3 510.8,1162.3 511,1160.7 511.2,1159.2 511.4,1159.5 511.6,1159.5 511.8,1160.9 512,1160.2 512.2,1162.3 512.4,1160.8 512.6,1159.9 512.8,1161.3 513,1160.2 513.2,1160.5 513.4,1160.6 513.6,1159.6 513.8,1160.8 514,1161.9 514.2,1162 514.4,1162 514.6,1162.8 514.8,1162.9 515,1163.3 515.2,1160.8 515.4,1162.5 515.6,1162.2 515.8,1161.6 516,1164.2 516.2,1161.4 516.4,1162.3 516.6,1164.5 516.8,1162.6 517,1162.5 517.2,1161.6 517.4,1164.3 517.6,1162.4 517.8,1163.5 518,1162.7 518.2,1163.9 518.4,1162.8 518.6,1161.7 518.8,1161.2 519,1166 519.2,1162.4 519.4,1164.6 519.6,1166.2 519.8,1161.5 520,1162.4 520.2,1164.1 520.4,1162.5 520.6,1162.7 520.8,1162.3 521,1163.4 521.2,1164.1 521.4,1164.6 521.6,1163.2 521.8,1163.7 522,1163.8 522.2,1164.2 522.4,1163.8 522.6,1164.8 522.8,1161.8 523,1164.6 523.2,1164.8 523.4,1165.2 523.6,1164.1 523.8,1165.5 524,1165.1 524.2,1165 524.4,1163.8 524.6,1162.8 524.8,1166.9 525,1165.1 525.2,1165.6 525.4,1163.3 525.6,1165.2 525.8,1164.7 526,1164.6 526.2,1167.5 526.4,1163.4 526.6,1165.2 526.8,1165.5 527,1167.9 527.2,1166.2 527.4,1165.3 527.6,1165.3 527.8,1161.6 528,1166.7 528.2,1166.2 528.4,1167.5 528.6,1165.1 528.8,1165.7 529,1166.7 529.2,1166.5 529.4,1166.1 529.6,1166.7 529.8,1166.4 530,1165.8 530.2,1167.7 530.4,1164.8 530.6,1165.6 530.8,1164.4 531,1168.2 531.2,1166.4 531.4,1167.9 531.6,1168 531.8,1167 532,1166.7 532.2,1167.2 532.4,1167.6 532.6,1166 532.8,1168.4 533,1166.1 533.2,1167.1 533.4,1167.7 533.6,1166.8 533.8,1168.7 534,1166.8 534.2,1168.6 534.4,1167.9 534.6,1168.7 534.8,1169.7 535,1167 535.2,1166.6 535.4,1169.6 535.6,1169.6 535.8,1169 536,1168.1 536.2,1169.3 536.4,1167 536.6,1168.5 536.8,1168.3 537,1169.4 537.2,1167.1 537.4,1170 537.6,1170.8 537.8,1167.7 538,1168.5 538.2,1166.1 538.4,1171.2 538.6,1169.7 538.8,1168.9 539,1169.4 539.2,1169.8 539.4,1171.4 539.6,1169.1 539.8,1169 540,1168.5 540.2,1171.8 540.4,1172.4 540.6,1169.6 540.8,1171.7 541,1168.2 541.2,1170.7 541.4,1169.1 541.6,1169.9 541.8,1171.4 542,1171.4 542.2,1170.5 542.4,1170.1 542.6,1171 542.8,1168.9 543,1171 543.2,1169.9 543.4,1170.5 543.6,1171.2 543.8,1170.4 544,1168.8 544.2,1169.6 544.4,1170.1 544.6,1169.6 544.8,1171.1 545,1170.4 545.2,1170.3 545.4,1170.7 545.6,1170 545.8,1170.9 546,1171.5 546.2,1170 546.4,1171.3 546.6,1171.7 546.8,1172 547,1172 547.2,1172.7 547.4,1169.5 547.6,1171.3 547.8,1170.9 548,1170.8 548.2,1170.8 548.4,1171.8 548.6,1171.8 548.8,1171.6 549,1171.2 549.2,1172.2 549.4,1171 549.6,1170.2 549.8,1173.4 550,1172.3 550.2,1172.9 550.4,1172.9 550.6,1170.9 550.8,1172.1 551,1172.6 551.2,1172.8 551.4,1171 551.6,1172.9 551.8,1172.2 552,1172.1 552.2,1174.1 552.4,1171.4 552.6,1175.2 552.8,1172.5 553,1173.2 553.2,1172.4 553.4,1172.9 553.6,1171.2 553.8,1174.6 554,1172.5 554.2,1172.2 554.4,1172.2 554.6,1171.6 554.8,1175.6 555,1174.2 555.2,1174.3 555.4,1172.9 555.6,1173.9 555.8,1175 556,1173.1 556.2,1173.4 556.4,1172.7 556.6,1173 556.8,1173.5 557,1173.6 557.2,1172.7 557.4,1173.5 557.6,1174.8 557.8,1172.7 558,1173.6 558.2,1172.7 558.4,1174.2 558.6,1175.8 558.8,1173.9 559,1176.5 559.2,1173.1 559.4,1173.9 559.6,1173.3 559.8,1174.9 560,1173.7 560.2,1174.3 560.4,1174.1 560.6,1174.5 560.8,1173.9 561,1174.2 561.2,1174.5 561.4,1174.7 561.6,1174.3 561.8,1174.5 562,1173.2 562.2,1174.8 562.4,1175.3 562.6,1175.3 562.8,1174.4 563,1175.8 563.2,1174.5 563.4,1175.7 563.6,1175 563.8,1174.8 564,1176.8 564.2,1174.1 564.4,1174.1 564.6,1174 564.8,1175.1 565,1174.3 565.2,1175.6 565.4,1175.8 565.6,1174.3 565.8,1174.6 566,1174.9 566.2,1173 566.4,1175.3 566.6,1176.9 566.8,1175.4 567,1177.6 567.2,1177 567.4,1176.4 567.6,1176.4 567.8,1175.5 568,1177 568.2,1175.9 568.4,1176.9 568.6,1176.1 568.8,1176.9 569,1175.8 569.2,1177.2 569.4,1174.6 569.6,1175.1 569.8,1175.8 570,1176.6 570.2,1174.6 570.4,1177.1 570.6,1175.5 570.8,1176.5 571,1175.6 571.2,1176.8 571.4,1177 571.6,1177.3 571.8,1176.8 572,1176.5 572.2,1177.3 572.4,1177.2 572.6,1177.7 572.8,1176.8 573,1177.1 573.2,1178.1 573.4,1176.4 573.6,1177.8 573.8,1177.9 574,1177.4 574.2,1175.3 574.4,1177.5 574.6,1177.8 574.8,1177.7 575,1178.9 575.2,1176.9 575.4,1178.9 575.6,1180.3 575.8,1178.8 576,1179.1 576.2,1178.7 576.4,1176.4 576.6,1178.1 576.8,1177.5 577,1178.6 577.2,1177.2 577.4,1179.9 577.6,1178.1 577.8,1177.7 578,1177.8 578.2,1179 578.4,1180.3 578.6,1179.9 578.8,1180 579,1177.1 579.2,1178.5 579.4,1178.8 579.6,1179.4 579.8,1179.3 580,1178.3 580.2,1179.2 580.4,1180.8 580.6,1178.8 580.8,1178.5 581,1179.5 581.2,1178.7 581.4,1180 581.6,1179.1 581.8,1179.6 582,1180.2 582.2,1178.5 582.4,1180.3 582.6,1179.7 582.8,1178.4 583,1180.3 583.2,1178.3 583.4,1180.7 583.6,1179.9 583.8,1179.3 584,1179.9 584.2,1179.2 584.4,1180.6 584.6,1179.9 584.8,1180.3 585,1181 585.2,1180.7 585.4,1180.6 585.6,1181 585.8,1179.7 586,1180.9 586.2,1179.3 586.4,1180.1 586.6,1180.1 586.8,1181.2 587,1180.3 587.2,1181.1 587.4,1180.7 587.6,1179.4 587.8,1179.7 588,1180.3 588.2,1180.9 588.4,1180.3 588.6,1181.3 588.8,1181.6 589,1181.9 589.2,1181.6 589.4,1182.2 589.6,1180.4 589.8,1181.2 590,1181.4 590.2,1181.4 590.4,1182.2 590.6,1182 590.8,1182.8 591,1182.3 591.2,1181.6 591.4,1181.3 591.6,1181.3 591.8,1181.7 592,1181.3 592.2,1182.9 592.4,1181.7 592.6,1182.1 592.8,1183 593,1182.5 593.2,1182.8 593.4,1181.4 593.6,1181.4 593.8,1182.2 594,1181.2 594.2,1182.4 594.4,1181.8 594.6,1182.3 594.8,1182.5 595,1183.3 595.2,1181.8 595.4,1182.9 595.6,1183.4 595.8,1183.1 596,1183.5 596.2,1182.6 596.4,1183 596.6,1182 596.8,1183.9 597,1182.9 597.2,1183.9 597.4,1183.7 597.6,1185 597.8,1182.8 598,1182.9 598.2,1182.8 598.4,1183.2 598.6,1183.2 598.8,1183.8 599,1182.4 599.2,1183.1 599.4,1184.7 599.6,1184.9 599.8,1183 600,1184.4 600.2,1183 600.4,1183 600.6,1183.9 600.8,1183.4 601,1184.1 601.2,1183.7 601.4,1184.1 601.6,1183.1 601.8,1184.4 602,1183.8 602.2,1185.5 602.4,1185.4 602.6,1183.3 602.8,1183.1 603,1183.7 603.2,1184.7 603.4,1184.6 603.6,1184.9 603.8,1184.9 604,1185.1 604.2,1184.6 604.4,1185.2 604.6,1184.1 604.8,1185.3 605,1185.1 605.2,1183.9 605.4,1184.1 605.6,1185.1 605.8,1185.2 606,1184.2 606.2,1185.4 606.4,1185.2 606.6,1184.3 606.8,1184.6 607,1184.3 607.2,1184.8 607.4,1185.3 607.6,1186.3 607.8,1184.6 608,1185 608.2,1184.4 608.4,1185.4 608.6,1184.9 608.8,1186 609,1185.6 609.2,1185.2 609.4,1185.7 609.6,1185 609.8,1187.1 610,1185.5 610.2,1185.3 610.4,1185.5 610.6,1186.7 610.8,1185.4 611,1185.3 611.2,1184.5 611.4,1185.2 611.6,1187.2 611.8,1185.9 612,1185.7 612.2,1186.3 612.4,1185.2 612.6,1186.1 612.8,1186.3 613,1186.4 613.2,1185.9 613.4,1185.6 613.6,1186.7 613.8,1186.4 614,1185 614.2,1186.1 614.4,1185.8 614.6,1185.6 614.8,1186.9 615,1185.8 615.2,1185.6 615.4,1186 615.6,1185.5 615.8,1186.9 616,1185.1 616.2,1186.9 616.4,1185.5 616.6,1185.8 616.8,1187.2 617,1187.4 617.2,1186.8 617.4,1187.4 617.6,1186.6 617.8,1186.9 618,1187 618.2,1186.1 618.4,1186.6 618.6,1187.6 618.8,1187.1 619,1186.7 619.2,1186.7 619.4,1188 619.6,1188.1 619.8,1187 620,1186.9 620.2,1187.5 620.4,1187.3 620.6,1187.4 620.8,1187.5 621,1187.8 621.2,1187.2 621.4,1187.3 621.6,1187.5 621.8,1188.3 622,1187.5 622.2,1187 622.4,1187.8 622.6,1187.4 622.8,1187.7 623,1188 623.2,1186.2 623.4,1187.7 623.6,1187.8 623.8,1188.7 624,1186.8 624.2,1187 624.4,1188.5 624.6,1186.8 624.8,1187.3 625,1187.3 625.2,1187.4 625.4,1188 625.6,1187.8 625.8,1187.7 626,1188.3 626.2,1189.4 626.4,1187.5 626.6,1188.3 626.8,1187.7 627,1187.8 627.2,1188.2 627.4,1189 627.6,1187.4 627.8,1188.9 628,1187.8 628.2,1188.2 628.4,1187.8 628.6,1188.8 628.8,1189.3 629,1189 629.2,1188.8 629.4,1189.1 629.6,1189.1 629.8,1188.5 630,1188.8 630.2,1189.3 630.4,1187.4 630.6,1189.1 630.8,1188.8 631,1189.8 631.2,1188.7 631.4,1188.2 631.6,1188.9 631.8,1188.2 632,1188.2 632.2,1189.4 632.4,1189 632.6,1188.4 632.8,1188.8 633,1188.6 633.2,1189.6 633.4,1188 633.6,1189.4 633.8,1188.9 634,1188.9 634.2,1188.3 634.4,1189.2 634.6,1189.3 634.8,1188.4 635,1188.1 635.2,1189 635.4,1188.6 635.6,1189.5 635.8,1189.2 636,1189.5 636.2,1189.3 636.4,1189.5 636.6,1189 636.8,1189.4 637,1188.9 637.2,1190 637.4,1189.3 637.6,1189.5 637.8,1189.3 638,1189.8 638.2,1189.3 638.4,1189.6 638.6,1189.3 638.8,1189.9 639,1189.8 639.2,1189.6 639.4,1189.7 639.6,1189.8 639.8,1189.9 640,1189.9 640.2,1190.3 640.4,1190.2 640.6,1190.5 640.8,1189.8 641,1190.4 641.2,1189.4 641.4,1190 641.6,1189.9 641.8,1190.1 642,1189.8 642.2,1189.6 642.4,1190.4 642.6,1190.6 642.8,1190.8 643,1190.2 643.2,1190 643.4,1190.8 643.6,1190.8 643.8,1190.6 644,1190.3 644.2,1190.4 644.4,1190.2 644.6,1190.4 644.8,1190.6 645,1190.2 645.2,1190.6 645.4,1190.9 645.6,1190.2 645.8,1190.2 646,1190.4 646.2,1190 646.4,1191.2 646.6,1190.6 646.8,1190.2 647,1191.5 647.2,1190.4 647.4,1190.8 647.6,1191.4 647.8,1190.8 648,1190.7 648.2,1190.7 648.4,1191.1 648.6,1190.8 648.8,1190.5 649,1190.7 649.2,1190.6 649.4,1191.2 649.6,1190.7 649.8,1190.7 650,1190.9 650.2,1191.4 650.4,1190.7 650.6,1191.2 650.8,1190.8 651,1191.9 651.2,1190.6 651.4,1190.2 651.6,1191.6 651.8,1191.9 652,1191.1 652.2,1191.1 652.4,1190.7 652.6,1191.4 652.8,1191.2 653,1191.4 653.2,1191.3 653.4,1192.2 653.6,1191.7 653.8,1191.7 654,1191.3 654.2,1191.1 654.4,1191.9 654.6,1191.3 654.8,1191.2 655,1192.5 655.2,1191.5 655.4,1192.3 655.6,1192.1 655.8,1192 656,1191.4 656.2,1191.9 656.4,1192.5 656.6,1192 656.8,1192.4 657,1191.8 657.2,1192.2 657.4,1191.2 657.6,1192.6 657.8,1191.9 658,1191.9 658.2,1192.1 658.4,1192 658.6,1192.2 658.8,1191.3 659,1192.1 659.2,1192.3 659.4,1192 659.6,1192 659.8,1192 660,1192.3 660.2,1192 660.4,1192.6 660.6,1192.6 660.8,1192.7 661,1192.3 661.2,1191.7 661.4,1192.4 661.6,1191.9 661.8,1192.1 662,1192.1 662.2,1192.4 662.4,1192.1 662.6,1192.6 662.8,1192.7 663,1192.8 663.2,1192.9 663.4,1193 663.6,1192.2 663.8,1192.8 664,1192.3 664.2,1193 664.4,1192.7 664.6,1192.6 664.8,1193.3 665,1193 665.2,1193 665.4,1193.7 665.6,1192.7 665.8,1193.1 666,1193.3 666.2,1193 666.4,1192.8 666.6,1192.9 666.8,1192.9 667,1192.9 667.2,1192.3 667.4,1193.1 667.6,1193.6 667.8,1193.2 668,1193.1 668.2,1192.8 668.4,1193 668.6,1193 668.8,1192.8 669,1192.4 669.2,1193.2 669.4,1193.3 669.6,1193.5 669.8,1193.3 670,1192.7 670.2,1192.5 670.4,1193.8 670.6,1193 670.8,1193 671,1193 671.2,1193.3 671.4,1193.3 671.6,1193.5 671.8,1193.2 672,1193.9 672.2,1194.1 672.4,1193.6 672.6,1193.4 672.8,1193.5 673,1193.6 673.2,1193.7 673.4,1193.4 673.6,1193.2 673.8,1193.8 674,1193.7 674.2,1193.6 674.4,1193.5 674.6,1193.6 674.8,1193.5 675,1194.3 675.2,1193.6 675.4,1193.4 675.6,1193.8 675.8,1194.1 676,1193.5 676.2,1193.9 676.4,1193.4 676.6,1194 676.8,1194 677,1194.1 677.2,1193.6 677.4,1194 677.6,1194.1 677.8,1193.9 678,1194.2 678.2,1194.1 678.4,1193.9 678.6,1194.2 678.8,1194.2 679,1194.3 679.2,1194 679.4,1194.3 679.6,1194.3 679.8,1194.6 680,1194.1 680.2,1194.8 680.4,1194.2 680.6,1194.3 680.8,1194.5 681,1194.8 681.2,1193.8 681.4,1194.1 681.6,1194.2 681.8,1194.5 682,1194.2 682.2,1194.6 682.4,1194.4 682.6,1193.9 682.8,1194.4 683,1194.1 683.2,1194.4 683.4,1194.8 683.6,1195.1 683.8,1194.6 684,1194.9 684.2,1194.4 684.4,1194.5 684.6,1194.8 684.8,1194.5 685,1194.6 685.2,1194.6 685.4,1194.7 685.6,1194.9 685.8,1194.3 686,1194.6 686.2,1194.3 686.4,1195 686.6,1194.7 686.8,1195.2 687,1194.9 687.2,1194.7 687.4,1195 687.6,1194.9 687.8,1195.2 688,1195.1 688.2,1194.8 688.4,1194.8 688.6,1194.9 688.8,1195.1 689,1194.8 689.2,1195.1 689.4,1195.1 689.6,1195.3 689.8,1195.1 690,1195.2 690.2,1194.9 690.4,1195.1 690.6,1195.6 690.8,1195.1 691,1195.1 691.2,1195 691.4,1195.1 691.6,1195.5 691.8,1195.2 692,1195 692.2,1195.1 692.4,1195.5 692.6,1195.3 692.8,1195.6 693,1195.3 693.2,1195.4 693.4,1195.5 693.6,1195.3 693.8,1195.6 694,1195.4 694.2,1195.7 694.4,1195.5 694.6,1195.6 694.8,1195.7 695,1195.6 695.2,1195.6 695.4,1195.7 695.6,1195.6 695.8,1195.8 696,1195.6 696.2,1195.6 696.4,1195.5 696.6,1196 696.8,1196.1 697,1195.8 697.2,1195.8 697.4,1195.8 697.6,1196 697.8,1195.6 698,1195.8 698.2,1196 698.4,1195.7 698.6,1196 698.8,1196.1 699,1195.9 699.2,1195.6 699.4,1196 699.6,1196 699.8,1196 700,1196 700.2,1195.7 700.4,1195.8 700.6,1196.1 700.8,1196.1 701,1196 701.2,1196.2 701.4,1196.4 701.6,1196.3 701.8,1195.9 702,1195.7 702.2,1195.7 702.4,1196.1 702.6,1196.3 702.8,1196.4 703,1196 703.2,1196.2 703.4,1196 703.6,1196.2 703.8,1196.2 704,1196.2 704.2,1196.4 704.4,1196.3 704.6,1196.2 704.8,1196.1 705,1196.1 705.2,1196.2 705.4,1196.4 705.6,1196.3 705.8,1196.5 706,1196.3 706.2,1196.4 706.4,1196.4 706.6,1196.3 706.8,1196.4 707,1196.5 707.2,1196.4 707.4,1196.7 707.6,1196.3 707.8,1196.3 708,1196.4 708.2,1196.4 708.4,1196.8 708.6,1196.5 708.8,1196.5 709,1196.3 709.2,1196.6 709.4,1196.5 709.6,1196.8 709.8,1196.6 710,1196.6 710.2,1196.7 710.4,1196.7 710.6,1196.8 710.8,1196.7 711,1196.6 711.2,1196.7 711.4,1196.7 711.6,1197.2 711.8,1196.8 712,1196.8 712.2,1196.9 712.4,1196.7 712.6,1196.9 712.8,1197 713,1196.9 713.2,1196.8 713.4,1196.9 713.6,1196.7 713.8,1196.7 714,1196.8 714.2,1197.1 714.4,1196.9 714.6,1196.9 714.8,1197 715,1196.8 715.2,1197 715.4,1197 715.6,1197.1 715.8,1197 716,1196.9 716.2,1197.1 716.4,1197.1 716.6,1197 716.8,1197.1 717,1197.1 717.2,1197.1 717.4,1197.1 717.6,1197.1 717.8,1197.1 718,1197.1 718.2,1197.1 718.4,1197.2 718.6,1197.3 718.8,1197.3 719,1197.2 719.2,1197.2 719.4,1197.3 719.6,1197.3 719.8,1197.3 720,1197.1 720.2,1197.2 720.4,1197.2 720.6,1197.2 720.8,1197.1 721,1197.3 721.2,1197.2 721.4,1197.1 721.6,1197.3 721.8,1197.1 722,1197.4 722.2,1197.4 722.4,1197.3 722.6,1197.4 722.8,1197.4 723,1197.4 723.2,1197.3 723.4,1197.6 723.6,1197.4 723.8,1197.6 724,1197.2 724.2,1197.5 724.4,1197.5 724.6,1197.5 724.8,1197.5 725,1197.5 725.2,1197.5 725.4,1197.6 725.6,1197.5 725.8,1197.6 726,1197.6 726.2,1197.6 726.4,1197.6 726.6,1197.4 726.8,1197.5 727,1197.4 727.2,1197.6 727.4,1197.6 727.6,1197.5 727.8,1197.6 728,1197.7 728.2,1197.5 728.4,1197.6 728.6,1197.5 728.8,1197.6 729,1197.7 729.2,1197.7 729.4,1197.7 729.6,1197.6 729.8,1197.7 730,1197.9 730.2,1197.6 730.4,1197.9 730.6,1197.8 730.8,1197.7 731,1197.9 731.2,1198 731.4,1197.7 731.6,1197.8 731.8,1197.9 732,1197.7 732.2,1197.8 732.4,1198 732.6,1197.9 732.8,1197.7 733,1197.8 733.2,1198 733.4,1197.8 733.6,1197.8 733.8,1197.8 734,1197.9 734.2,1197.8 734.4,1197.8 734.6,1198.1 734.8,1198.1 735,1197.8 735.2,1197.9 735.4,1197.9 735.6,1198.2 735.8,1198.1 736,1198.2 736.2,1198.1 736.4,1198.2 736.6,1198.1 736.8,1197.9 737,1198.2 737.2,1198.2 737.4,1198.1 737.6,1198 737.8,1198.1 738,1198 738.2,1198.3 738.4,1198.3 738.6,1198.1 738.8,1198.1 739,1198.1 739.2,1198.1 739.4,1198 739.6,1198.2 739.8,1198.2 740,1198.3 740.2,1198.2 740.4,1198.2 740.6,1198.3 740.8,1198.3 741,1198.4 741.2,1198.3 741.4,1198.3 741.6,1198.5 741.8,1198.3 742,1198.4 742.2,1198.3 742.4,1198.3 742.6,1198.5 742.8,1198.4 743,1198.3 743.2,1198.4 743.4,1198.3 743.6,1198.5 743.8,1198.4 744,1198.3 744.2,1198.5 744.4,1198.3 744.6,1198.3 744.8,1198.4 745,1198.4 745.2,1198.6 745.4,1198.2 745.6,1198.6 745.8,1198.6 746,1198.7 746.2,1198.4 746.4,1198.6 746.6,1198.4 746.8,1198.7 747,1198.7 747.2,1198.3 747.4,1198.6 747.6,1198.5 747.8,1198.7 748,1198.7 748.2,1198.6 748.4,1198.7 748.6,1198.5 748.8,1198.4 749,1198.5 749.2,1198.6 749.4,1198.5 749.6,1198.5 749.8,1198.5 750,1198.6 750.2,1198.6 750.4,1198.4 750.6,1198.8 750.8,1198.8 751,1198.7 751.2,1198.6 751.4,1198.6 751.6,1198.7 751.8,1198.8 752,1198.4 752.2,1198.7 752.4,1198.7 752.6,1198.7 752.8,1198.6 753,1198.7 753.2,1199 753.4,1198.7 753.6,1198.9 753.8,1198.6 754,1198.7 754.2,1198.6 754.4,1198.9 754.6,1198.7 754.8,1198.7 755,1198.9 755.2,1198.9 755.4,1198.8 755.6,1198.6 755.8,1198.8 756,1198.7 756.2,1198.8 756.4,1198.8 756.6,1199 756.8,1198.8 757,1198.7 757.2,1198.9 757.4,1198.9 757.6,1198.7 757.8,1199 758,1198.9 758.2,1198.7 758.4,1198.8 758.6,1198.8 758.8,1198.9 759,1198.8 759.2,1198.8 759.4,1198.8 759.6,1198.8 759.8,1198.8 760,1198.9 760.2,1199 760.4,1198.7 760.6,1198.9 760.8,1199 761,1198.8 761.2,1198.9 761.4,1199.1 761.6,1198.9 761.8,1198.9 762,1198.8 762.2,1199 762.4,1198.7 762.6,1198.8 762.8,1198.7 763,1198.9 763.2,1198.8 763.4,1198.9 763.6,1198.7 763.8,1198.8 764,1198.9 764.2,1198.9 764.4,1198.8 764.6,1199.1 764.8,1198.9 765,1198.9 765.2,1198.8 765.4,1198.7 765.6,1199 765.8,1198.9 766,1199 766.2,1198.9 766.4,1199.2 766.6,1199 766.8,1198.8 767,1198.9 767.2,1198.9 767.4,1199 767.6,1199 767.8,1199 768,1199 768.2,1198.9 768.4,1199 768.6,1199 768.8,1199 769,1198.9 769.2,1199.1 769.4,1198.9 769.6,1199 769.8,1199 770,1198.8 770.2,1199.1 770.4,1199 770.6,1199 770.8,1199.2 771,1199.2 771.2,1199 771.4,1198.9 771.6,1199 771.8,1198.9 772,1198.9 772.2,1199 772.4,1199.1 772.6,1199 772.8,1199 773,1199.1 773.2,1199 773.4,1199 773.6,1199.1 773.8,1199 774,1199 774.2,1199.1 774.4,1199.1 774.6,1199.1 774.8,1199 775,1199 775.2,1199.1 775.4,1199.1 775.6,1199.1 775.8,1199 776,1198.9 776.2,1199 776.4,1199 776.6,1199 776.8,1199 777,1198.9 777.2,1199.1 777.4,1198.9 777.6,1199 777.8,1199.1 778,1199 778.2,1199 778.4,1198.8 778.6,1199.2 778.8,1198.9 779,1198.9 779.2,1199.1 779.4,1199 779.6,1199 779.8,1199.1 780,1199.1 780.2,1199 780.4,1198.8 780.6,1199.1 780.8,1198.8 781,1199 781.2,1198.9 781.4,1199 781.6,1199 781.8,1198.9 782,1199 782.2,1198.9 782.4,1199 782.6,1199.1 782.8,1198.9 783,1199 783.2,1198.9 783.4,1199.1 783.6,1199 783.8,1199 784,1199 784.2,1198.9 784.4,1199 784.6,1198.9 784.8,1198.8 785,1198.9 785.2,1199 785.4,1199 785.6,1198.9 785.8,1199.1 786,1199.1 786.2,1199.1 786.4,1198.8 786.6,1199 786.8,1199 787,1199.1 787.2,1199 787.4,1199.1 787.6,1199 787.8,1198.8 788,1199.2 788.2,1199 788.4,1198.9 788.6,1198.9 788.8,1199 789,1199.1 789.2,1199.1 789.4,1199.2 789.6,1199 789.8,1198.9 790,1199 790.2,1198.8 790.4,1199.2 790.6,1199.1 790.8,1199.2 791,1198.8 791.2,1199.1 791.4,1199 791.6,1199 791.8,1199 792,1198.9 792.2,1199 792.4,1198.9 792.6,1198.9 792.8,1198.9 793,1199 793.2,1199 793.4,1199.1 793.6,1199 793.8,1199 794,1198.9 794.2,1198.9 794.4,1199 794.6,1199.1 794.8,1198.9 795,1199 795.2,1199.1 795.4,1199 795.6,1199 795.8,1199 796,1199.2 796.2,1199.1 796.4,1198.9 796.6,1199 796.8,1199 797,1199 797.2,1199 797.4,1199 797.6,1199 797.8,1199 798,1199.1 798.2,1199.1 798.4,1199.2 798.6,1198.9 798.8,1198.9 799,1199.1 799.2,1199 799.4,1199.1 799.6,1199.2 799.8,1199.1 800,1199 800.2,1198.9 800.4,1198.9 800.6,1199 800.8,1199.1 801,1199 801.2,1199 801.4,1199.1 801.6,1199.1 801.8,1198.8 802,1199 802.2,1199 802.4,1199.1 802.6,1198.8 802.8,1198.8 803,1199 803.2,1198.9 803.4,1199 803.6,1199 803.8,1198.9 804,1199 804.2,1198.9 804.4,1198.9 804.6,1199 804.8,1199 805,1199 805.2,1199.1 805.4,1199.1 805.6,1199 805.8,1199.2 806,1198.9 806.2,1199 806.4,1199" fill="none" stroke="#0000ff" stroke-width="4.5" stroke-linejoin="round" stroke-linecap="butt" clip-path="url(#clip_c)"/>
<polyline points="134.7,1200.1 135.2,1200.1 135.4,1200.2 135.6,1200.3 135.8,1200.2 136,1200.1 136.2,1200.1 136.4,1200.3 136.6,1200.2 136.8,1200.2 137,1200.1 137.2,1200 137.4,1200.2 137.6,1200.1 137.8,1200.2 138,1200.4 138.2,1200.2 138.4,1200.2 138.6,1200.3 138.8,1200.2 139,1200.3 139.2,1200.1 139.4,1200.2 139.6,1200.1 139.8,1200.3 140,1200.4 140.2,1200.2 140.4,1200.2 140.6,1200.2 140.8,1200.5 141,1200.3 141.2,1200.2 141.4,1200.3 141.6,1200.4 141.8,1200.2 142,1200.3 142.2,1200.3 142.4,1200.3 142.6,1200.3 142.8,1200.4 143,1200.3 143.2,1200.2 143.4,1200.3 143.6,1200.3 143.8,1200.3 144,1200.5 144.2,1200.3 144.4,1200.3 144.6,1200.1 144.8,1200.3 145,1200.3 145.2,1200.3 145.4,1200.3 145.6,1200.3 145.8,1200.3 146,1200.3 146.2,1200.3 146.4,1200.2 146.6,1200.2 146.8,1200.2 147,1200.3 147.2,1200.1 147.4,1200.2 147.6,1200.2 147.8,1200.3 148,1200.2 148.2,1200.3 148.4,1200.3 148.6,1200.2 148.8,1200.3 149,1200.2 149.2,1200.1 149.4,1200.2 149.6,1200.2 149.8,1200.4 150,1200.2 150.2,1200.2 150.4,1200.1 150.6,1200.3 150.8,1200.3 151,1200.3 151.2,1200.1 151.4,1200.2 151.6,1200.2 151.8,1200.3 152,1200.2 152.2,1200.2 152.4,1200.4 152.6,1200.1 152.8,1200.2 153,1200.3 153.2,1200.1 153.4,1200.4 153.6,1200.2 153.8,1200.3 154,1200.3 154.2,1200.4 154.4,1200.2 154.6,1200.2 154.8,1200.1 155,1200.1 155.2,1200.4 155.4,1200.2 155.6,1200.1 155.8,1200.3 156,1200.4 156.2,1200.1 156.4,1200.2 156.6,1200 156.8,1200 157,1200.1 157.2,1200 157.4,1200 157.6,1200.1 157.8,1200.1 158,1200 158.2,1200.2 158.4,1200 158.6,1200 158.8,1200.1 159,1200.2 159.2,1200.2 159.4,1200.1 159.6,1200 159.8,1199.8 160,1200.1 160.2,1199.9 160.4,1200.1 160.6,1199.9 160.8,1199.7 161,1200 161.2,1199.9 161.4,1199.8 161.6,1199.8 161.8,1199.8 162,1199.8 162.2,1199.6 162.4,1199.8 162.6,1199.8 162.8,1199.6 163,1199.8 163.2,1199.7 163.4,1199.5 163.6,1199.8 163.8,1199.6 164,1199.7 164.2,1199.6 164.4,1199.8 164.6,1199.6 164.8,1199.5 165,1199.5 165.2,1199.6 165.4,1199.6 165.6,1199.5 165.8,1199.6 166,1199.4 166.2,1199.5 166.4,1199.5 166.6,1199.5 166.8,1199.5 167,1199.5 167.2,1199.4 167.4,1199.4 167.6,1199.4 167.8,1199.3 168,1199.2 168.2,1199.4 168.4,1199.3 168.6,1199.3 168.8,1199.3 169,1199.2 169.2,1199.1 169.4,1199.2 169.6,1199 169.8,1199.2 170,1199.1 170.2,1199 170.4,1198.9 170.6,1198.9 170.8,1198.8 171,1198.7 171.2,1198.8 171.4,1198.7 171.6,1198.8 171.8,1198.6 172,1198.8 172.2,1198.8 172.4,1198.4 172.6,1198.3 172.8,1198.4 173,1198.6 173.2,1198.5 173.4,1198.4 173.6,1198.3 173.8,1198.2 174,1198.3 174.2,1198.1 174.4,1198.2 174.6,1198.1 174.8,1198 175,1198 175.2,1198.1 175.4,1198.2 175.6,1197.8 175.8,1198 176,1197.8 176.2,1198 176.4,1197.9 176.6,1197.7 176.8,1197.7 177,1197.8 177.2,1197.8 177.4,1197.5 177.6,1197.5 177.8,1197.6 178,1197.6 178.2,1197.5 178.4,1197.4 178.6,1197.3 178.8,1197.2 179,1197 179.2,1196.8 179.4,1196.9 179.6,1196.8 179.8,1196.7 180,1196.5 180.2,1196.4 180.4,1196.4 180.6,1196.4 180.8,1196.4 181,1195.8 181.2,1195.9 181.4,1195.8 181.6,1196.1 181.8,1195.2 182,1195.7 182.2,1195.3 182.4,1195.1 182.6,1195.4 182.8,1195.3 183,1194.4 183.2,1194.7 183.4,1194.8 183.6,1194.6 183.8,1194.9 184,1194.3 184.2,1194.4 184.4,1193.8 184.6,1194.2 184.8,1193.9 185,1193.8 185.2,1193.1 185.4,1193.7 185.6,1192.6 185.8,1193.2 186,1193 186.2,1191.8 186.4,1191.9 186.6,1191.4 186.8,1190.7 187,1191.3 187.2,1190.9 187.4,1191.2 187.6,1191 187.8,1189.4 188,1189.7 188.2,1189.8 188.4,1189.7 188.6,1189.2 188.8,1188.5 189,1188.5 189.2,1188.7 189.4,1187.4 189.6,1187 189.8,1186.5 190,1186.4 190.2,1187.1 190.4,1185.6 190.6,1185.8 190.8,1185.8 191,1185.2 191.2,1184.1 191.4,1183.4 191.6,1183 191.8,1182.3 192,1181.6 192.2,1182 192.4,1181.9 192.6,1180.2 192.8,1179.5 193,1179.7 193.2,1179.3 193.4,1179.3 193.6,1177.9 193.8,1176.9 194,1174.5 194.2,1174.5 194.4,1173.8 194.6,1172.5 194.8,1172.7 195,1171.4 195.2,1169.7 195.4,1170 195.6,1169.9 195.8,1170.4 196,1166.3 196.2,1164.3 196.4,1164.4 196.6,1163.9 196.8,1159.6 197,1159.7 197.2,1157.1 197.4,1157 197.6,1153.4 197.8,1152.3 198,1151 198.2,1149.6 198.4,1146.3 198.6,1145.4 198.8,1142.1 199,1143.7 199.2,1140.6 199.4,1135.2 199.6,1133 199.8,1131.9 200,1128.1 200.2,1125.6 200.4,1124.7 200.6,1122.4 200.8,1118.3 201,1116.7 201.2,1111.4 201.4,1108 201.6,1104.5 201.8,1101.3 202,1097.2 202.2,1097 202.4,1092.1 202.6,1086.3 202.8,1082.7 203,1077 203.2,1074.2 203.4,1061.1 203.6,1049.4 203.8,1041.1 204,1033 204.2,1029.5 204.4,1024.5 204.6,1019 204.8,1013.9 205,1009.1 205.2,1003.9 205.4,998.6 205.6,992.9 205.8,987.2 206,981.7 206.2,975.4 206.4,967.7 206.6,959.7 206.8,952 207,943.8 207.2,936.1 207.4,927.8 207.6,920.3 207.8,911.6 208,904.5 208.2,896.4 208.4,890.1 208.6,883.4 208.8,877.3 209,872 209.2,866.1 209.4,860.1 209.6,854.6 209.8,848.3 210,841.4 210.2,834.5 210.4,828.1 210.6,822.4 210.8,816.2 211,810.7 211.2,805.2 211.4,799.9 211.6,793.9 211.8,788.1 212,781.9 212.2,777.1 212.4,773.9 212.6,771.3 212.8,768.1 213,765.4 213.2,762.5 213.4,761.3 213.6,760 213.8,758.9 214,757.3 214.2,756 214.4,756.5 214.6,759.5 214.8,760.8 215,763 215.2,765.6 215.4,768.4 215.6,772.3 215.8,775.2 216,778.7 216.2,782.1 216.4,785.4 216.6,789.5 216.8,793.1 217,797.1 217.2,800.8 217.4,804.3 217.6,808.3 217.8,812 218,815.7 218.2,819.4 218.4,823.3 218.6,826.2 218.8,830 219,833.1 219.2,836.5 219.4,840 219.6,843.9 219.8,846.8 220,850.4 220.2,854.8 220.4,858.2 220.6,861.8 220.8,864.8 221,868.7 221.2,871.9 221.4,874.8 221.6,878.7 221.8,887.7 222,898.5 222.2,903.1 222.4,907.9 222.6,911.3 222.8,915.7 223,919.3 223.2,923.2 223.4,927.4 223.6,930.6 223.8,933.9 224,937 224.2,940.6 224.4,943.9 224.6,947.5 224.8,950.4 225,953.6 225.2,956.8 225.4,959.1 225.6,962.8 225.8,966.2 226,969.1 226.2,972.6 226.4,976.4 226.6,979.6 226.8,976.3 227,980.2 227.2,981.8 227.4,982.8 227.6,989.1 227.8,987.7 228,991.6 228.2,994.5 228.4,997.5 228.6,994.8 228.8,996.7 229,997.9 229.2,1003.6 229.4,1002.9 229.6,1006.9 229.8,1009.5 230,1012.6 230.2,1009.1 230.4,1012.8 230.6,1014.2 230.8,1012 231,1018.7 231.2,1021.4 231.4,1018.2 231.6,1023.3 231.8,1024.3 232,1025.7 232.2,1024.9 232.4,1025.9 232.6,1033 232.8,1031.9 233,1031.1 233.2,1033.9 233.4,1030.9 233.6,1034.9 233.8,1033.9 234,1031.2 234.2,1035 234.4,1039.1 234.6,1040.2 234.8,1040.9 235,1040.8 235.2,1042.3 235.4,1039.9 235.6,1043.6 235.8,1050.2 236,1046 236.2,1046 236.4,1051.7 236.6,1048.9 236.8,1049.8 237,1051.4 237.2,1053 237.4,1051.3 237.6,1054.7 237.8,1055.1 238,1053.7 238.2,1058.4 238.4,1059 238.6,1059.2 238.8,1060.4 239,1064.2 239.2,1058.4 239.4,1066 239.6,1065.8 239.8,1066.7 240,1067.1 240.2,1068.2 240.4,1071.3 240.6,1069.3 240.8,1075.1 241,1070.7 241.2,1075 241.4,1074.7 241.6,1078.9 241.8,1078.4 242,1075.2 242.2,1079.9 242.4,1078.6 242.6,1082 242.8,1082 243,1081.3 243.2,1082.1 243.4,1084.7 243.6,1085.1 243.8,1085.6 244,1084.8 244.2,1088.4 244.4,1087.1 244.6,1086 244.8,1087.1 245,1094.2 245.2,1091.3 245.4,1091 245.6,1091.9 245.8,1093.6 246,1094.8 246.2,1095.5 246.4,1097.9 246.6,1096.2 246.8,1098.5 247,1098.3 247.2,1098.1 247.4,1100.5 247.6,1100.8 247.8,1099 248,1102.2 248.2,1100.8 248.4,1099.7 248.6,1106 248.8,1105.6 249,1100.5 249.2,1104.6 249.4,1105.1 249.6,1104.7 249.8,1104.3 250,1106.9 250.2,1107.3 250.4,1106.6 250.6,1108.9 250.8,1105.3 251,1103.9 251.2,1110.1 251.4,1111.6 251.6,1106.5 251.8,1107.8 252,1113.8 252.2,1110.2 252.4,1112.6 252.6,1113.1 252.8,1111.7 253,1110.1 253.2,1114.9 253.4,1113 253.6,1110.8 253.8,1111.1 254,1113.6 254.2,1111.1 254.4,1118.1 254.6,1115.6 254.8,1116.4 255,1114.8 255.2,1116.5 255.4,1112.1 255.6,1114.8 255.8,1117.1 256,1114.4 256.2,1115.3 256.4,1115.1 256.6,1118.9 256.8,1119.4 257,1117.7 257.2,1119.2 257.4,1118.2 257.6,1116.4 257.8,1117.5 258,1118.4 258.2,1120.5 258.4,1119.8 258.6,1121.9 258.8,1119.3 259,1122 259.2,1121.2 259.4,1123.6 259.6,1121.9 259.8,1123.2 260,1118.8 260.2,1123.3 260.4,1122.6 260.6,1124 260.8,1123.5 261,1121.3 261.2,1126.8 261.4,1126.8 261.6,1124.7 261.8,1126.4 262,1124.6 262.2,1127.6 262.4,1123.2 262.6,1126.7 262.8,1125.9 263,1123 263.2,1125.1 263.4,1127.1 263.6,1124.3 263.8,1125.2 264,1126.3 264.2,1126 264.4,1126.9 264.6,1127.1 264.8,1127.5 265,1126.5 265.2,1127.6 265.4,1126 265.6,1130.1 265.8,1127.4 266,1128.6 266.2,1127.7 266.4,1129.7 266.6,1127.6 266.8,1131.7 267,1129.7 267.2,1129.2 267.4,1131.4 267.6,1130.9 267.8,1129.5 268,1127.7 268.2,1129.9 268.4,1130.3 268.6,1128.7 268.8,1130.7 269,1129.6 269.2,1131.5 269.4,1130.1 269.6,1128.8 269.8,1127.3 270,1129.4 270.2,1128 270.4,1134.5 270.6,1133.2 270.8,1133.4 271,1131.8 271.2,1132.4 271.4,1128.9 271.6,1131 271.8,1129.3 272,1132.6 272.2,1131.4 272.4,1134 272.6,1130.1 272.8,1132.3 273,1133.4 273.2,1131 273.4,1132.2 273.6,1133.8 273.8,1129.5 274,1132.1 274.2,1131.7 274.4,1131.7 274.6,1128.7 274.8,1131.6 275,1128.8 275.2,1134.8 275.4,1131.9 275.6,1132.5 275.8,1131.3 276,1132.8 276.2,1131.4 276.4,1132.6 276.6,1134.2 276.8,1132.7 277,1133.4 277.2,1133.7 277.4,1134 277.6,1133.1 277.8,1133.4 278,1132.9 278.2,1130.3 278.4,1132 278.6,1135.4 278.8,1133.6 279,1133.1 279.2,1131.5 279.4,1132.5 279.6,1135 279.8,1136.5 280,1134.2 280.2,1131.8 280.4,1130.7 280.6,1133 280.8,1136.7 281,1134.9 281.2,1132.5 281.4,1133.6 281.6,1133.7 281.8,1135.9 282,1136.3 282.2,1135.7 282.4,1131.2 282.6,1135.9 282.8,1136.8 283,1133.3 283.2,1135.1 283.4,1134.9 283.6,1131.7 283.8,1131.5 284,1133.2 284.2,1133.2 284.4,1134.9 284.6,1132.6 284.8,1132.8 285,1133.4 285.2,1136.3 285.4,1133.7 285.6,1136.1 285.8,1135.7 286,1133.6 286.2,1134.9 286.4,1133.1 286.6,1134.4 286.8,1135.4 287,1134.1 287.2,1134.3 287.4,1134.4 287.6,1133.7 287.8,1136.6 288,1132.2 288.2,1134.5 288.4,1132.6 288.6,1133.5 288.8,1134.4 289,1138.1 289.2,1134.3 289.4,1134.3 289.6,1135 289.8,1133.7 290,1132.5 290.2,1135.6 290.4,1135.2 290.6,1133.8 290.8,1133.8 291,1136.1 291.2,1133.6 291.4,1132.7 291.6,1132.9 291.8,1129.6 292,1135.6 292.2,1134.8 292.4,1134.9 292.6,1131.3 292.8,1135.4 293,1133.6 293.2,1134 293.4,1136.2 293.6,1135.2 293.8,1131.4 294,1133 294.2,1133.6 294.4,1133.4 294.6,1132.6 294.8,1133.8 295,1133.7 295.2,1132.8 295.4,1134.9 295.6,1131.9 295.8,1133.1 296,1131.3 296.2,1133.2 296.4,1134.5 296.6,1135.8 296.8,1131.8 297,1130.6 297.2,1131.2 297.4,1132.1 297.6,1134 297.8,1130.8 298,1132.4 298.2,1135.7 298.4,1133 298.6,1133.6 298.8,1133.2 299,1130.7 299.2,1134.1 299.4,1134.9 299.6,1131.8 299.8,1131.8 300,1131.1 300.2,1133 300.4,1131.2 300.6,1134.1 300.8,1131.6 301,1132.1 301.2,1132.7 301.4,1129.7 301.6,1128 301.8,1131.6 302,1129.8 302.2,1128.2 302.4,1130.2 302.6,1132 302.8,1129.9 303,1132.2 303.2,1129.7 303.4,1130 303.6,1127 303.8,1128.8 304,1130.3 304.2,1130 304.4,1127.9 304.6,1130.4 304.8,1134.6 305,1131.5 305.2,1130.3 305.4,1127.7 305.6,1127.4 305.8,1129.3 306,1127.8 306.2,1130.7 306.4,1127.8 306.6,1129.2 306.8,1128.6 307,1129.2 307.2,1128.1 307.4,1128.2 307.6,1128.7 307.8,1129.7 308,1128.7 308.2,1126.8 308.4,1126.8 308.6,1127.5 308.8,1127.1 309,1127.5 309.2,1128 309.4,1130.8 309.6,1127.9 309.8,1127 310,1128.8 310.2,1129 310.4,1128.1 310.6,1126.3 310.8,1127.8 311,1129.2 311.2,1125.1 311.4,1127.3 311.6,1126.5 311.8,1128.6 312,1129.8 312.2,1126.7 312.4,1127.3 312.6,1128.7 312.8,1129.4 313,1130.4 313.2,1126.4 313.4,1130.2 313.6,1126.7 313.8,1127.5 314,1125.5 314.2,1127.4 314.4,1125.2 314.6,1127.4 314.8,1125.3 315,1126.3 315.2,1124.1 315.4,1123.9 315.6,1125.8 315.8,1126.4 316,1126.5 316.2,1125.6 316.4,1123.1 316.6,1125 316.8,1127.9 317,1123.9 317.2,1125.7 317.4,1126 317.6,1125 317.8,1125.3 318,1126.7 318.2,1124.9 318.4,1128.8 318.6,1123.2 318.8,1125.6 319,1124.5 319.2,1122.3 319.4,1126.7 319.6,1125.4 319.8,1125 320,1125.9 320.2,1121.8 320.4,1124.5 320.6,1125.4 320.8,1123.2 321,1122.7 321.2,1125 321.4,1121.5 321.6,1122.3 321.8,1124.3 322,1126.1 322.2,1125 322.4,1123.8 322.6,1125 322.8,1122.2 323,1120.8 323.2,1123.2 323.4,1121.5 323.6,1122.1 323.8,1121.6 324,1121.9 324.2,1119.9 324.4,1119.9 324.6,1122.9 324.8,1122.2 325,1122 325.2,1122.5 325.4,1123.2 325.6,1121 325.8,1119.1 326,1122.4 326.2,1125.6 326.4,1122.4 326.6,1123.4 326.8,1122.5 327,1120.6 327.2,1121.9 327.4,1121.2 327.6,1120.7 327.8,1124.4 328,1120.8 328.2,1120.5 328.4,1119.1 328.6,1121.2 328.8,1124.7 329,1121.6 329.2,1124.6 329.4,1121.3 329.6,1119.9 329.8,1118.3 330,1119.7 330.2,1121.3 330.4,1116.3 330.6,1120.4 330.8,1121.7 331,1121.2 331.2,1116.6 331.4,1117.2 331.6,1118.7 331.8,1115.9 332,1119.2 332.2,1117.9 332.4,1120 332.6,1119.3 332.8,1119.4 333,1119 333.2,1119.7 333.4,1119.4 333.6,1116.3 333.8,1119.9 334,1119.5 334.2,1116.6 334.4,1117.8 334.6,1119.6 334.8,1117.1 335,1118.8 335.2,1115.9 335.4,1118 335.6,1121.3 335.8,1120.1 336,1120.2 336.2,1120.2 336.4,1117.8 336.6,1117.6 336.8,1118.9 337,1117 337.2,1115.1 337.4,1119 337.6,1119.1 337.8,1118.1 338,1118.2 338.2,1115.4 338.4,1117.6 338.6,1116.7 338.8,1117.3 339,1115.6 339.2,1115.6 339.4,1113.9 339.6,1116.5 339.8,1113.6 340,1113 340.2,1115.1 340.4,1115.4 340.6,1114.3 340.8,1117.4 341,1116.3 341.2,1113 341.4,1113.9 341.6,1113.6 341.8,1119.5 342,1113.2 342.2,1113.5 342.4,1114.9 342.6,1115.2 342.8,1113.8 343,1116.5 343.2,1111.3 343.4,1115.4 343.6,1112.3 343.8,1116.4 344,1115.9 344.2,1112.8 344.4,1113.5 344.6,1111.7 344.8,1111.3 345,1113.2 345.2,1109 345.4,1115 345.6,1110 345.8,1115.8 346,1111.6 346.2,1110.2 346.4,1109.7 346.6,1111.9 346.8,1107.1 347,1112 347.2,1109.5 347.4,1109.2 347.6,1109.2 347.8,1109.6 348,1111.4 348.2,1111.3 348.4,1111 348.6,1107 348.8,1112 349,1110 349.2,1109.6 349.4,1106.9 349.6,1110.5 349.8,1108.6 350,1109.7 350.2,1110.2 350.4,1111.8 350.6,1108.9 350.8,1105.9 351,1109 351.2,1105.9 351.4,1107.8 351.6,1105.6 351.8,1109.6 352,1111.1 352.2,1103.5 352.4,1105.4 352.6,1106.2 352.8,1103 353,1104.9 353.2,1106.4 353.4,1106.7 353.6,1102.9 353.8,1106.1 354,1107 354.2,1107.1 354.4,1104.1 354.6,1103.9 354.8,1104.1 355,1107.8 355.2,1106.4 355.4,1102.7 355.6,1105.5 355.8,1104.1 356,1103.1 356.2,1105.4 356.4,1103.9 356.6,1105.9 356.8,1106.6 357,1102.7 357.2,1104.8 357.4,1106.1 357.6,1102.7 357.8,1102.3 358,1102.7 358.2,1103.8 358.4,1100.3 358.6,1103.6 358.8,1101.8 359,1103.7 359.2,1102.5 359.4,1106.9 359.6,1102.1 359.8,1103.8 360,1102.1 360.2,1103.7 360.4,1102.2 360.6,1098 360.8,1097.8 361,1099.2 361.2,1100.4 361.4,1103.4 361.6,1099.8 361.8,1101.5 362,1099.5 362.2,1101 362.4,1099.4 362.6,1099.3 362.8,1099.2 363,1097 363.2,1101.2 363.4,1099.7 363.6,1097.9 363.8,1097.1 364,1098.8 364.2,1098.7 364.4,1098.7 364.6,1097.7 364.8,1101.3 365,1098.6 365.2,1097.1 365.4,1098.5 365.6,1099 365.8,1099.1 366,1097.5 366.2,1097.2 366.4,1095.6 366.6,1097.1 366.8,1098.5 367,1095.8 367.2,1098.2 367.4,1098.8 367.6,1097.4 367.8,1097 368,1098.3 368.2,1095 368.4,1095.5 368.6,1097.1 368.8,1097.1 369,1097.3 369.2,1092.1 369.4,1097.6 369.6,1093.8 369.8,1095.7 370,1093.8 370.2,1095.2 370.4,1093.3 370.6,1094.9 370.8,1095.3 371,1096.3 371.2,1094.7 371.4,1093.7 371.6,1091.2 371.8,1091.8 372,1092.6 372.2,1093.1 372.4,1096 372.6,1092 372.8,1093.9 373,1094 373.2,1095.5 373.4,1092.8 373.6,1093.6 373.8,1093.8 374,1094.1 374.2,1096.3 374.4,1092.7 374.6,1092.8 374.8,1093.5 375,1090.3 375.2,1095.2 375.4,1094.5 375.6,1092.3 375.8,1094.5 376,1092.5 376.2,1095 376.4,1096.6 376.6,1095.2 376.8,1095.8 377,1096.8 377.2,1094.4 377.4,1092.9 377.6,1091.8 377.8,1097.7 378,1088.5 378.2,1098.2 378.4,1091.7 378.6,1092.8 378.8,1091.7 379,1092.5 379.2,1091 379.4,1092.1 379.6,1092.1 379.8,1092.8 380,1089.4 380.2,1096.6 380.4,1089.3 380.6,1091.1 380.8,1092.4 381,1089.9 381.2,1091.3 381.4,1091.1 381.6,1088.1 381.8,1090.7 382,1090.6 382.2,1091.8 382.4,1093.7 382.6,1089.5 382.8,1090.6 383,1091.7 383.2,1089.4 383.4,1092.1 383.6,1090.5 383.8,1094.1 384,1087.7 384.2,1089.3 384.4,1086.4 384.6,1089.8 384.8,1089 385,1088.8 385.2,1086.8 385.4,1090.5 385.6,1088.5 385.8,1088.5 386,1091.8 386.2,1093 386.4,1087.5 386.6,1085.4 386.8,1088.8 387,1090.3 387.2,1091.1 387.4,1090.1 387.6,1088.2 387.8,1089.5 388,1089.2 388.2,1088.2 388.4,1090.2 388.6,1088.7 388.8,1089.5 389,1089.9 389.2,1089.9 389.4,1085.5 389.6,1088.4 389.8,1087.7 390,1090.2 390.2,1086.4 390.4,1088.6 390.6,1092.4 390.8,1088.7 391,1087.2 391.2,1088.3 391.4,1088.5 391.6,1089.1 391.8,1088.9 392,1089.3 392.2,1086.7 392.4,1085.3 392.6,1086.1 392.8,1088.2 393,1089.3 393.2,1088 393.4,1092.4 393.6,1088.1 393.8,1088.8 394,1089.8 394.2,1089 394.4,1089.2 394.6,1087.4 394.8,1088.5 395,1086.5 395.2,1090.5 395.4,1087.8 395.6,1088.2 395.8,1089.6 396,1086.3 396.2,1087.7 396.4,1083.9 396.6,1089.3 396.8,1089.6 397,1088.4 397.2,1087.9 397.4,1084.3 397.6,1089.2 397.8,1086.9 398,1085.7 398.2,1090.9 398.4,1084.2 398.6,1086.2 398.8,1090.3 399,1090.3 399.2,1087.4 399.4,1082.7 399.6,1088.2 399.8,1090.6 400,1089.4 400.2,1086.8 400.4,1090.2 400.6,1090.2 400.8,1088.9 401,1089.3 401.2,1090.4 401.4,1088.3 401.6,1092.5 401.8,1087.4 402,1089.3 402.2,1089.5 402.4,1088.6 402.6,1087.5 402.8,1089.2 403,1089 403.2,1091.1 403.4,1085.9 403.6,1089.8 403.8,1087.4 404,1088.8 404.2,1090.8 404.4,1089.9 404.6,1089 404.8,1093.3 405,1086.1 405.2,1087.9 405.4,1089.7 405.6,1085.9 405.8,1086.4 406,1086.9 406.2,1088 406.4,1087.5 406.6,1086.6 406.8,1088.5 407,1090.5 407.2,1087.1 407.4,1089.3 407.6,1090.2 407.8,1089 408,1091.3 408.2,1089.4 408.4,1093.2 408.6,1088.5 408.8,1092.9 409,1094.1 409.2,1090.3 409.4,1088.5 409.6,1089.3 409.8,1090.4 410,1087.1 410.2,1089.5 410.4,1089.8 410.6,1091.3 410.8,1088.4 411,1089.2 411.2,1088.9 411.4,1088.7 411.6,1088.3 411.8,1089.7 412,1090.9 412.2,1091.3 412.4,1090.3 412.6,1087.6 412.8,1090.3 413,1090.4 413.2,1091.1 413.4,1088 413.6,1089.4 413.8,1091.4 414,1091.1 414.2,1091.5 414.4,1092.8 414.6,1089.9 414.8,1090.3 415,1091.3 415.2,1090.4 415.4,1089.7 415.6,1088.5 415.8,1091.9 416,1087.7 416.2,1087.5 416.4,1090.8 416.6,1088.3 416.8,1090.4 417,1088.9 417.2,1091 417.4,1087.1 417.6,1093.3 417.8,1090.7 418,1090 418.2,1091.2 418.4,1091.5 418.6,1091.7 418.8,1092 419,1087.6 419.2,1089.7 419.4,1089.7 419.6,1090.8 419.8,1092.2 420,1092.8 420.2,1092 420.4,1089.3 420.6,1088.7 420.8,1091.5 421,1087.8 421.2,1088.9 421.4,1090.3 421.6,1089.8 421.8,1089.9 422,1091.8 422.2,1091 422.4,1093 422.6,1092.2 422.8,1090.5 423,1093.2 423.2,1094.4 423.4,1093.3 423.6,1091.2 423.8,1091.2 424,1093.5 424.2,1091.7 424.4,1090.1 424.6,1096.9 424.8,1092.8 425,1094 425.2,1094.5 425.4,1093.6 425.6,1091.7 425.8,1092.3 426,1091 426.2,1092.4 426.4,1088 426.6,1091.5 426.8,1093.6 427,1093 427.2,1096.1 427.4,1092.4 427.6,1094.3 427.8,1090.6 428,1094.8 428.2,1093.1 428.4,1092.2 428.6,1095.8 428.8,1091.5 429,1094.2 429.2,1092.2 429.4,1095.8 429.6,1093.8 429.8,1096.1 430,1093.9 430.2,1093.8 430.4,1094.2 430.6,1096.9 430.8,1094.5 431,1096.8 431.2,1094.2 431.4,1097.5 431.6,1097.2 431.8,1097.5 432,1095.4 432.2,1095.1 432.4,1096.9 432.6,1095.3 432.8,1095 433,1097.4 433.2,1096.1 433.4,1099 433.6,1100.5 433.8,1095.1 434,1099.9 434.2,1099.7 434.4,1096.4 434.6,1096.4 434.8,1098.4 435,1099.4 435.2,1097.4 435.4,1098.7 435.6,1101 435.8,1095.9 436,1099.3 436.2,1098.6 436.4,1101.2 436.6,1102.7 436.8,1097.8 437,1098.5 437.2,1098.9 437.4,1097.1 437.6,1098.9 437.8,1096 438,1099.7 438.2,1101.1 438.4,1097.5 438.6,1096.2 438.8,1097.7 439,1099.6 439.2,1099.9 439.4,1100.3 439.6,1102.1 439.8,1099.2 440,1100.9 440.2,1101.4 440.4,1097.9 440.6,1102.1 440.8,1102.6 441,1098.4 441.2,1103.7 441.4,1100.7 441.6,1101.3 441.8,1102.8 442,1100 442.2,1101.1 442.4,1103 442.6,1106.3 442.8,1103.4 443,1102.9 443.2,1103.3 443.4,1104.7 443.6,1102.7 443.8,1101.9 444,1103.8 444.2,1106 444.4,1105.1 444.6,1102.5 444.8,1105.7 445,1102.6 445.2,1102.7 445.4,1104.3 445.6,1104.5 445.8,1106.1 446,1106.8 446.2,1103.5 446.4,1104.9 446.6,1101.5 446.8,1106 447,1104.1 447.2,1105.6 447.4,1105.9 447.6,1105.2 447.8,1105 448,1106.6 448.2,1103 448.4,1108.1 448.6,1109.2 448.8,1105.8 449,1108.7 449.2,1107.3 449.4,1106.8 449.6,1107.5 449.8,1108.7 450,1109.5 450.2,1104.7 450.4,1107.1 450.6,1108.4 450.8,1108.9 451,1107.2 451.2,1105.2 451.4,1106 451.6,1109.1 451.8,1106.7 452,1107.6 452.2,1108.1 452.4,1107.8 452.6,1109.3 452.8,1109 453,1106.3 453.2,1111.4 453.4,1110.6 453.6,1108.8 453.8,1107.9 454,1109.2 454.2,1110.2 454.4,1111.3 454.6,1113.6 454.8,1112.6 455,1111.9 455.2,1112.5 455.4,1109.9 455.6,1111.1 455.8,1111.5 456,1115.1 456.2,1113.7 456.4,1113.9 456.6,1114.1 456.8,1111.3 457,1112 457.2,1111.9 457.4,1115.1 457.6,1112.6 457.8,1113.1 458,1112.2 458.2,1115.9 458.4,1112.8 458.6,1113.3 458.8,1112.4 459,1114 459.2,1115.3 459.4,1115.1 459.6,1115.3 459.8,1112.5 460,1114.5 460.2,1116.8 460.4,1115.4 460.6,1116 460.8,1115.3 461,1117.3 461.2,1115.2 461.4,1116.4 461.6,1116.6 461.8,1114.5 462,1118.8 462.2,1116.8 462.4,1118.6 462.6,1118.4 462.8,1115.1 463,1117.8 463.2,1115.2 463.4,1119.9 463.6,1117.3 463.8,1118.5 464,1115.4 464.2,1117.2 464.4,1118.4 464.6,1120.2 464.8,1118.2 465,1117.7 465.2,1119.5 465.4,1117.6 465.6,1117.6 465.8,1119.1 466,1119.7 466.2,1117.1 466.4,1118.2 466.6,1120.4 466.8,1120 467,1118.5 467.2,1120.2 467.4,1120.7 467.6,1122.7 467.8,1118.2 468,1122.4 468.2,1116.2 468.4,1117.9 468.6,1122.7 468.8,1120.5 469,1120.7 469.2,1120.8 469.4,1123 469.6,1121.5 469.8,1123.4 470,1120.2 470.2,1125.7 470.4,1124.4 470.6,1123.4 470.8,1123.2 471,1120.3 471.2,1126.2 471.4,1124.1 471.6,1122.7 471.8,1125.9 472,1121.4 472.2,1122.5 472.4,1126.6 472.6,1123.1 472.8,1125.4 473,1125.9 473.2,1124.7 473.4,1125.7 473.6,1125.2 473.8,1126.4 474,1127.7 474.2,1125.3 474.4,1128.6 474.6,1123 474.8,1127.7 475,1124.1 475.2,1125.4 475.4,1127.5 475.6,1123.9 475.8,1128.3 476,1126.2 476.2,1128.8 476.4,1127.3 476.6,1126.6 476.8,1127.2 477,1127.2 477.2,1127.6 477.4,1130.2 477.6,1126.1 477.8,1124.3 478,1126.4 478.2,1125.6 478.4,1128.8 478.6,1127.6 478.8,1129.2 479,1128.9 479.2,1129 479.4,1127.6 479.6,1129.4 479.8,1130.9 480,1129.2 480.2,1126.2 480.4,1126.6 480.6,1130.5 480.8,1128.5 481,1132.9 481.2,1132.6 481.4,1129.5 481.6,1129.7 481.8,1131.6 482,1132.7 482.2,1133.1 482.4,1131.5 482.6,1130.1 482.8,1133.4 483,1134.1 483.2,1132.4 483.4,1129.9 483.6,1134.5 483.8,1132.2 484,1132 484.2,1134 484.4,1133.4 484.6,1135.2 484.8,1132.2 485,1132.4 485.2,1132.2 485.4,1131.8 485.6,1133.1 485.8,1131.8 486,1131 486.2,1132.8 486.4,1132.9 486.6,1134.1 486.8,1133.2 487,1134.2 487.2,1134.5 487.4,1132.8 487.6,1135.9 487.8,1134.3 488,1132.2 488.2,1135.4 488.4,1134.1 488.6,1134.9 488.8,1139.1 489,1135 489.2,1133.8 489.4,1134.4 489.6,1135.7 489.8,1137.9 490,1136.4 490.2,1133.7 490.4,1136.2 490.6,1137.2 490.8,1137 491,1134.9 491.2,1136.1 491.4,1136.2 491.6,1133.8 491.8,1135.1 492,1138.7 492.2,1134.6 492.4,1136 492.6,1138 492.8,1135.6 493,1137.3 493.2,1136.3 493.4,1136.4 493.6,1141.2 493.8,1135.8 494,1135.6 494.2,1138.7 494.4,1141.1 494.6,1135.7 494.8,1136.9 495,1138.6 495.2,1138.8 495.4,1138.5 495.6,1137.8 495.8,1138.7 496,1135.8 496.2,1139.6 496.4,1138.3 496.6,1140.7 496.8,1140.7 497,1138.7 497.2,1140.7 497.4,1135.9 497.6,1139.2 497.8,1140.7 498,1139.9 498.2,1138.1 498.4,1140 498.6,1141.3 498.8,1139.4 499,1139.1 499.2,1139.8 499.4,1139.4 499.6,1140.4 499.8,1142 500,1141.1 500.2,1140 500.4,1141.3 500.6,1141.6 500.8,1139.9 501,1138.5 501.2,1141 501.4,1145.8 501.6,1140.8 501.8,1140.1 502,1139 502.2,1142.7 502.4,1140 502.6,1140.7 502.8,1143 503,1144 503.2,1142.8 503.4,1141.3 503.6,1142.2 503.8,1143.8 504,1143.4 504.2,1144 504.4,1143 504.6,1143.3 504.8,1141.8 505,1143.9 505.2,1142.5 505.4,1142.7 505.6,1144.4 505.8,1143.3 506,1143.1 506.2,1143.9 506.4,1142.6 506.6,1144.4 506.8,1143.2 507,1144.6 507.2,1142.8 507.4,1146 507.6,1144.2 507.8,1145.8 508,1145.9 508.2,1145.8 508.4,1145.4 508.6,1147.2 508.8,1144.1 509,1145.3 509.2,1142.8 509.4,1142.2 509.6,1143.9 509.8,1145.6 510,1144.3 510.2,1144.7 510.4,1147.7 510.6,1146.1 510.8,1148 511,1147.1 511.2,1145.1 511.4,1145.6 511.6,1144.9 511.8,1144.6 512,1145.7 512.2,1147.1 512.4,1148.3 512.6,1147.5 512.8,1146.9 513,1147 513.2,1149.1 513.4,1146.7 513.6,1147.3 513.8,1149.3 514,1147.3 514.2,1146.2 514.4,1146.2 514.6,1150.2 514.8,1147.9 515,1143.8 515.2,1146.9 515.4,1149.6 515.6,1149.6 515.8,1149.4 516,1150 516.2,1145.9 516.4,1149.6 516.6,1148.4 516.8,1148.5 517,1151.2 517.2,1150.3 517.4,1148.9 517.6,1150.2 517.8,1150.7 518,1149.3 518.2,1150.7 518.4,1150.8 518.6,1150.7 518.8,1152 519,1148.7 519.2,1151 519.4,1148.8 519.6,1149.1 519.8,1150.3 520,1150.3 520.2,1151.7 520.4,1152.7 520.6,1151.3 520.8,1150.1 521,1152.1 521.2,1151.7 521.4,1151.3 521.6,1153.3 521.8,1153.3 522,1149.9 522.2,1152.4 522.4,1150.3 522.6,1150.3 522.8,1153.8 523,1150.3 523.2,1151.5 523.4,1150.9 523.6,1153.4 523.8,1154.5 524,1150.5 524.2,1152.1 524.4,1155.2 524.6,1155.1 524.8,1153.6 525,1152.7 525.2,1155.8 525.4,1151.8 525.6,1154.5 525.8,1153.7 526,1150.9 526.2,1153.3 526.4,1154.1 526.6,1153.1 526.8,1154.8 527,1151.7 527.2,1156.7 527.4,1155.2 527.6,1153.9 527.8,1154.8 528,1153.9 528.2,1152.4 528.4,1155.3 528.6,1154.4 528.8,1155 529,1155.7 529.2,1156.9 529.4,1153.7 529.6,1157.4 529.8,1154.5 530,1157.5 530.2,1154.7 530.4,1153.1 530.6,1155.1 530.8,1153 531,1155.8 531.2,1156.6 531.4,1155.9 531.6,1156.7 531.8,1157.9 532,1157.6 532.2,1156.1 532.4,1158 532.6,1155.4 532.8,1156.1 533,1155.5 533.2,1156 533.4,1156.5 533.6,1156.2 533.8,1156.7 534,1156 534.2,1158.2 534.4,1156.8 534.6,1155.9 534.8,1157.1 535,1155.5 535.2,1156.2 535.4,1155.5 535.6,1159.8 535.8,1157.3 536,1159.8 536.2,1157 536.4,1158.1 536.6,1155.4 536.8,1158.4 537,1159.2 537.2,1154.8 537.4,1158.5 537.6,1159.9 537.8,1156.8 538,1156.4 538.2,1159.5 538.4,1158.1 538.6,1157.2 538.8,1159.2 539,1161.6 539.2,1160.5 539.4,1159.7 539.6,1158.2 539.8,1157.8 540,1158.7 540.2,1160.2 540.4,1158.7 540.6,1161.7 540.8,1162.6 541,1158.9 541.2,1158.8 541.4,1160.9 541.6,1160.8 541.8,1161.2 542,1162 542.2,1161.5 542.4,1160.3 542.6,1161.4 542.8,1159.7 543,1161.7 543.2,1164 543.4,1162.7 543.6,1162.3 543.8,1162.4 544,1161.9 544.2,1161.4 544.4,1162.1 544.6,1163.8 544.8,1162.8 545,1160.3 545.2,1162.4 545.4,1160.2 545.6,1162.3 545.8,1161.2 546,1163.4 546.2,1159.7 546.4,1162.2 546.6,1164.3 546.8,1163.5 547,1163.3 547.2,1164.3 547.4,1162.7 547.6,1163 547.8,1165.1 548,1162 548.2,1161.2 548.4,1163.2 548.6,1162.4 548.8,1163.4 549,1164.7 549.2,1164.4 549.4,1163.6 549.6,1163.2 549.8,1162.7 550,1163.2 550.2,1164.8 550.4,1164.4 550.6,1163.3 550.8,1165.5 551,1162.7 551.2,1164.8 551.4,1165.6 551.6,1162.8 551.8,1164.8 552,1163.6 552.2,1163.1 552.4,1166.5 552.6,1165.2 552.8,1165 553,1166.4 553.2,1167.6 553.4,1166.3 553.6,1165.7 553.8,1165.4 554,1165.7 554.2,1165.7 554.4,1168.4 554.6,1165.8 554.8,1164.3 555,1166 555.2,1166 555.4,1166.3 555.6,1166.3 555.8,1166.2 556,1167.3 556.2,1166.7 556.4,1169.5 556.6,1166.9 556.8,1169.4 557,1168.5 557.2,1170.2 557.4,1168.3 557.6,1172.2 557.8,1170.4 558,1168.5 558.2,1169.9 558.4,1167.6 558.6,1170.2 558.8,1168.2 559,1169.5 559.2,1170.4 559.4,1169 559.6,1169 559.8,1171.3 560,1170.3 560.2,1169.2 560.4,1170.3 560.6,1169.7 560.8,1170.9 561,1168.9 561.2,1168.9 561.4,1169.7 561.6,1169.7 561.8,1170.4 562,1170.4 562.2,1171.1 562.4,1169.3 562.6,1172.4 562.8,1171 563,1173.9 563.2,1170.3 563.4,1170.2 563.6,1170.5 563.8,1170.1 564,1172 564.2,1171.2 564.4,1172.7 564.6,1170.9 564.8,1170.2 565,1170.1 565.2,1173.9 565.4,1171.8 565.6,1172.6 565.8,1172.3 566,1172.2 566.2,1172.6 566.4,1173.3 566.6,1173.7 566.8,1172 567,1171.1 567.2,1173.1 567.4,1171.9 567.6,1172.3 567.8,1172.3 568,1172.2 568.2,1173.7 568.4,1173.3 568.6,1174.3 568.8,1171 569,1174.2 569.2,1173.5 569.4,1173.9 569.6,1172.8 569.8,1172 570,1172.6 570.2,1173.7 570.4,1173.3 570.6,1173.9 570.8,1172.3 571,1172 571.2,1175.6 571.4,1174 571.6,1173.3 571.8,1173.9 572,1173.7 572.2,1174.1 572.4,1174.6 572.6,1172.7 572.8,1174.2 573,1174.4 573.2,1174.7 573.4,1175.2 573.6,1172.1 573.8,1173.4 574,1174.5 574.2,1174 574.4,1173.2 574.6,1174.2 574.8,1174.2 575,1174.8 575.2,1174.3 575.4,1175.2 575.6,1176.5 575.8,1174 576,1174.2 576.2,1175.3 576.4,1176.1 576.6,1174.3 576.8,1175.9 577,1174.4 577.2,1174.6 577.4,1176 577.6,1175.9 577.8,1175.2 578,1176 578.2,1175.8 578.4,1175.1 578.6,1174.1 578.8,1174.5 579,1175.1 579.2,1176.6 579.4,1175.1 579.6,1175.5 579.8,1174.4 580,1176.5 580.2,1175.3 580.4,1175 580.6,1175.1 580.8,1175.7 581,1174.6 581.2,1176 581.4,1177.2 581.6,1175.7 581.8,1175.2 582,1176.6 582.2,1176.5 582.4,1176.3 582.6,1176.1 582.8,1176.5 583,1178.1 583.2,1177.1 583.4,1177.1 583.6,1177.5 583.8,1178.3 584,1176.6 584.2,1177.5 584.4,1178.8 584.6,1176 584.8,1177 585,1176.2 585.2,1176.8 585.4,1176.8 585.6,1175.7 585.8,1176.6 586,1177.5 586.2,1176.9 586.4,1178.1 586.6,1178.1 586.8,1177.3 587,1177.5 587.2,1177.5 587.4,1178.6 587.6,1178.5 587.8,1177.4 588,1178.5 588.2,1178.5 588.4,1179.7 588.6,1180 588.8,1179.1 589,1178.7 589.2,1177.3 589.4,1177.9 589.6,1179.3 589.8,1179.4 590,1177.7 590.2,1178.3 590.4,1177.4 590.6,1178.1 590.8,1176.8 591,1178.8 591.2,1179.6 591.4,1179.2 591.6,1177.6 591.8,1180.7 592,1178.2 592.2,1181 592.4,1179.3 592.6,1180.4 592.8,1179.7 593,1180.1 593.2,1181 593.4,1178.5 593.6,1178.9 593.8,1178.9 594,1178.3 594.2,1181 594.4,1179.3 594.6,1178.7 594.8,1179.2 595,1180.5 595.2,1180 595.4,1179.8 595.6,1179.6 595.8,1181.4 596,1180.8 596.2,1181 596.4,1179.7 596.6,1180 596.8,1181.1 597,1180.5 597.2,1180.5 597.4,1182.3 597.6,1181.2 597.8,1180 598,1179.9 598.2,1180.5 598.4,1181.5 598.6,1180.4 598.8,1179.1 599,1179.8 599.2,1180.1 599.4,1181 599.6,1181.2 599.8,1181.2 600,1182.2 600.2,1181.7 600.4,1181.4 600.6,1182 600.8,1181.7 601,1182.9 601.2,1180.5 601.4,1182.1 601.6,1181.1 601.8,1180.7 602,1182.2 602.2,1180.6 602.4,1181.9 602.6,1181.5 602.8,1181.9 603,1181.6 603.2,1182 603.4,1181.2 603.6,1181.3 603.8,1182.5 604,1182.9 604.2,1184.3 604.4,1182.6 604.6,1181.6 604.8,1183 605,1182.3 605.2,1183.4 605.4,1182.8 605.6,1183.1 605.8,1183 606,1181.6 606.2,1182.1 606.4,1184.2 606.6,1184.3 606.8,1183.3 607,1183.1 607.2,1183.6 607.4,1182.6 607.6,1184.1 607.8,1183.5 608,1182.5 608.2,1183.2 608.4,1184.3 608.6,1182.9 608.8,1182 609,1183.4 609.2,1183.3 609.4,1183.8 609.6,1182.7 609.8,1183.2 610,1184.2 610.2,1183.7 610.4,1183.6 610.6,1182.8 610.8,1184 611,1184.1 611.2,1184 611.4,1183.3 611.6,1183.8 611.8,1184.2 612,1183.6 612.2,1184.9 612.4,1183.2 612.6,1184 612.8,1184.3 613,1183.8 613.2,1183.6 613.4,1183.8 613.6,1184.7 613.8,1183.6 614,1184.4 614.2,1185.6 614.4,1183.2 614.6,1183.6 614.8,1184.3 615,1184.8 615.2,1183.5 615.4,1185.9 615.6,1185.3 615.8,1184.6 616,1185.4 616.2,1184.1 616.4,1185.3 616.6,1184.6 616.8,1185.4 617,1185.3 617.2,1185.1 617.4,1184.2 617.6,1184.4 617.8,1185.4 618,1185.1 618.2,1185.7 618.4,1184.7 618.6,1186.4 618.8,1186 619,1186.8 619.2,1184.1 619.4,1184.8 619.6,1183.8 619.8,1185.9 620,1185.3 620.2,1185.7 620.4,1184.5 620.6,1185.5 620.8,1186.6 621,1185.1 621.2,1185.7 621.4,1186.7 621.6,1185.5 621.8,1186.9 622,1187.2 622.2,1185.4 622.4,1186 622.6,1185.1 622.8,1186.4 623,1186.8 623.2,1186.5 623.4,1185.2 623.6,1185.6 623.8,1185.4 624,1186.3 624.2,1187.8 624.4,1186.5 624.6,1186.5 624.8,1186.7 625,1186.3 625.2,1185.5 625.4,1187.1 625.6,1187.4 625.8,1186.3 626,1186.6 626.2,1187.3 626.4,1187.8 626.6,1186.9 626.8,1186.7 627,1186.9 627.2,1187.4 627.4,1187 627.6,1187.1 627.8,1186.5 628,1187.7 628.2,1187.6 628.4,1187.4 628.6,1187.9 628.8,1188.4 629,1187.5 629.2,1187.1 629.4,1187.8 629.6,1187.3 629.8,1188.1 630,1187.1 630.2,1187.2 630.4,1188 630.6,1188.8 630.8,1188.4 631,1187.5 631.2,1188 631.4,1188.2 631.6,1188.4 631.8,1188.2 632,1188.4 632.2,1187.8 632.4,1186.8 632.6,1188.4 632.8,1188.5 633,1189.1 633.2,1188.5 633.4,1187.9 633.6,1188.3 633.8,1188.1 634,1188.7 634.2,1188.7 634.4,1188.5 634.6,1188.4 634.8,1187.7 635,1188.1 635.2,1188.5 635.4,1187.9 635.6,1188.8 635.8,1188.8 636,1189 636.2,1188.6 636.4,1189.1 636.6,1188.5 636.8,1187.9 637,1188.8 637.2,1188.8 637.4,1188.2 637.6,1188.8 637.8,1188.8 638,1188.5 638.2,1189.8 638.4,1189.1 638.6,1188.8 638.8,1189.2 639,1188.2 639.2,1188.6 639.4,1189.1 639.6,1190.1 639.8,1189.1 640,1189.7 640.2,1189.3 640.4,1189.1 640.6,1189.8 640.8,1189.4 641,1189.1 641.2,1189.6 641.4,1190.3 641.6,1189.5 641.8,1190 642,1189.2 642.2,1189.5 642.4,1189.3 642.6,1189.4 642.8,1190.1 643,1189.7 643.2,1189.7 643.4,1190.4 643.6,1190.6 643.8,1189.2 644,1189.1 644.2,1190.2 644.4,1190.4 644.6,1190.1 644.8,1190.2 645,1190.5 645.2,1189.7 645.4,1190.4 645.6,1189.6 645.8,1189.6 646,1189.2 646.2,1189.3 646.4,1190.3 646.6,1190.1 646.8,1189.9 647,1190.6 647.2,1190.2 647.4,1189.9 647.6,1190.7 647.8,1190.5 648,1190.2 648.2,1190.6 648.4,1190.2 648.6,1190.4 648.8,1190.4 649,1190 649.2,1190.2 649.4,1191 649.6,1190.4 649.8,1190.8 650,1190.4 650.2,1190.8 650.4,1190.3 650.6,1191.4 650.8,1190.5 651,1191.1 651.2,1190.8 651.4,1190.9 651.6,1190.5 651.8,1191 652,1190.6 652.2,1191.2 652.4,1191.5 652.6,1190.4 652.8,1190.7 653,1191 653.2,1190.7 653.4,1191.4 653.6,1191.5 653.8,1191.2 654,1191.3 654.2,1191 654.4,1191 654.6,1191.5 654.8,1191.1 655,1191.4 655.2,1190.8 655.4,1191.4 655.6,1191.5 655.8,1191 656,1191.2 656.2,1191.7 656.4,1191.4 656.6,1191.4 656.8,1191.6 657,1191.6 657.2,1191.2 657.4,1192 657.6,1191.5 657.8,1191.5 658,1191.4 658.2,1191.4 658.4,1191.5 658.6,1191.9 658.8,1191.4 659,1191.6 659.2,1191.7 659.4,1191.2 659.6,1191.4 659.8,1191.7 660,1191.8 660.2,1191.2 660.4,1191.5 660.6,1191.8 660.8,1191.9 661,1192.2 661.2,1191.3 661.4,1192 661.6,1191.8 661.8,1191 662,1192.3 662.2,1191.9 662.4,1192.2 662.6,1191.7 662.8,1191.8 663,1192.4 663.2,1192 663.4,1192.4 663.6,1191.6 663.8,1192.6 664,1192.7 664.2,1192.3 664.4,1191.8 664.6,1191.6 664.8,1191.8 665,1192.2 665.2,1192.2 665.4,1191.9 665.6,1191.7 665.8,1192.6 666,1192.1 666.2,1192.9 666.4,1192.3 666.6,1192.5 666.8,1192.3 667,1192.3 667.2,1192 667.4,1191.8 667.6,1192.9 667.8,1192 668,1192.6 668.2,1192.6 668.4,1193.2 668.6,1192.4 668.8,1192.7 669,1192.7 669.2,1192.8 669.4,1192.4 669.6,1192.8 669.8,1193.1 670,1193 670.2,1192.1 670.4,1192.4 670.6,1193.2 670.8,1192.7 671,1192.6 671.2,1193.3 671.4,1192.6 671.6,1192.8 671.8,1192.7 672,1193 672.2,1192.8 672.4,1193.3 672.6,1193.1 672.8,1192.7 673,1192.8 673.2,1193.5 673.4,1193.1 673.6,1193 673.8,1193.2 674,1193 674.2,1193.4 674.4,1193.5 674.6,1193.1 674.8,1193.7 675,1193.1 675.2,1193.4 675.4,1193.4 675.6,1193 675.8,1193.6 676,1193.6 676.2,1192.3 676.4,1193.5 676.6,1194.1 676.8,1194 677,1193.5 677.2,1193.3 677.4,1193.4 677.6,1193.4 677.8,1193.6 678,1193.5 678.2,1193.7 678.4,1193.9 678.6,1193.7 678.8,1193.6 679,1193.5 679.2,1193.5 679.4,1193.5 679.6,1193.5 679.8,1194.1 680,1193.1 680.2,1193.7 680.4,1193.7 680.6,1193.6 680.8,1193.8 681,1193.8 681.2,1194.3 681.4,1194 681.6,1194 681.8,1194.1 682,1194.4 682.2,1194 682.4,1194.2 682.6,1194 682.8,1194 683,1193.6 683.2,1194.1 683.4,1194.3 683.6,1194.1 683.8,1194.6 684,1194.1 684.2,1193.9 684.4,1194.1 684.6,1193.9 684.8,1193.9 685,1194 685.2,1194.2 685.4,1194.2 685.6,1194.9 685.8,1194.2 686,1194.3 686.2,1194.2 686.4,1194.4 686.6,1194.2 686.8,1194.2 687,1194.7 687.2,1194.4 687.4,1194.7 687.6,1194.4 687.8,1194.2 688,1194.4 688.2,1194.1 688.4,1194.7 688.6,1194.5 688.8,1194.6 689,1194.3 689.2,1194.6 689.4,1194.4 689.6,1194.5 689.8,1194.5 690,1194.7 690.2,1194.5 690.4,1194.6 690.6,1194.7 690.8,1194.5 691,1194.9 691.2,1194.8 691.4,1194.2 691.6,1194.9 691.8,1194.7 692,1194.7 692.2,1194.6 692.4,1194.8 692.6,1194.6 692.8,1194.9 693,1194.9 693.2,1194.9 693.4,1195.2 693.6,1194.5 693.8,1194.9 694,1194.7 694.2,1194.7 694.4,1194.9 694.6,1194.9 694.8,1195.2 695,1195 695.2,1195.2 695.4,1195.1 695.6,1195 695.8,1195.3 696,1195 696.2,1195.5 696.4,1195.1 696.6,1195.3 696.8,1194.9 697,1195.5 697.2,1195.3 697.4,1195.2 697.6,1195.4 697.8,1195.1 698,1195 698.2,1195.5 698.4,1195.5 698.6,1195 698.8,1195.3 699,1195.5 699.2,1195 699.4,1195.4 699.6,1195.5 699.8,1195.4 700,1195.2 700.2,1195.3 700.4,1195.4 700.6,1195.4 700.8,1195.5 701,1195.6 701.2,1195.4 701.4,1195.2 701.6,1195.4 701.8,1195.5 702,1195.5 702.2,1195.4 702.4,1195.6 702.6,1195.8 702.8,1195.4 703,1195.8 703.2,1195.7 703.4,1195.7 703.6,1195.6 703.8,1196 704,1195.6 704.2,1195.8 704.4,1195.9 704.6,1196 704.8,1195.6 705,1195.6 705.2,1196 705.4,1196 705.6,1195.8 705.8,1195.9 706,1195.7 706.2,1195.5 706.4,1196 706.6,1195.9 706.8,1196.2 707,1196 707.2,1195.9 707.4,1195.7 707.6,1196.1 707.8,1196.3 708,1196.2 708.2,1196.3 708.4,1196.1 708.6,1196.1 708.8,1195.9 709,1196 709.2,1196 709.4,1196 709.6,1196.3 709.8,1195.8 710,1196.1 710.2,1196.6 710.4,1196.4 710.6,1196.3 710.8,1196 711,1196.1 711.2,1196.4 711.4,1196.3 711.6,1196.2 711.8,1196.2 712,1196.3 712.2,1196.4 712.4,1196.5 712.6,1196.4 712.8,1196.5 713,1196.2 713.2,1196.5 713.4,1196.5 713.6,1196.5 713.8,1196.3 714,1196.4 714.2,1196.8 714.4,1196.7 714.6,1196.6 714.8,1196.8 715,1196.4 715.2,1196.9 715.4,1196.6 715.6,1196.5 715.8,1196.8 716,1196.6 716.2,1196.7 716.4,1196.5 716.6,1196.5 716.8,1196.6 717,1196.6 717.2,1196.7 717.4,1196.4 717.6,1196.8 717.8,1196.8 718,1196.7 718.2,1196.8 718.4,1196.9 718.6,1196.8 718.8,1197.2 719,1196.9 719.2,1196.7 719.4,1196.9 719.6,1196.8 719.8,1196.9 720,1196.9 720.2,1196.8 720.4,1196.8 720.6,1196.7 720.8,1196.7 721,1196.9 721.2,1196.8 721.4,1196.8 721.6,1197 721.8,1196.9 722,1197 722.2,1196.8 722.4,1197 722.6,1197.1 722.8,1197 723,1197.1 723.2,1197.1 723.4,1197 723.6,1196.7 723.8,1197.1 724,1197 724.2,1197.1 724.4,1197 724.6,1197.2 724.8,1197.2 725,1197 725.2,1196.9 725.4,1197.3 725.6,1197.1 725.8,1197.1 726,1197 726.2,1197.2 726.4,1197.2 726.6,1197.1 726.8,1197.1 727,1197.4 727.2,1197.2 727.4,1197.2 727.6,1197.3 727.8,1197.2 728,1197.2 728.2,1197.3 728.4,1197.2 728.6,1197.3 728.8,1197.3 729,1197.4 729.2,1197.4 729.4,1197.4 729.6,1197.4 729.8,1197.4 730,1197.4 730.2,1197.4 730.4,1197.4 730.6,1197.5 730.8,1197.4 731,1197.4 731.2,1197.3 731.4,1197.5 731.6,1197.4 731.8,1197.3 732,1197.2 732.2,1197.5 732.4,1197.6 732.6,1197.5 732.8,1197.5 733,1197.6 733.2,1197.6 733.4,1197.7 733.6,1197.6 733.8,1197.5 734,1197.7 734.2,1197.9 734.4,1197.6 734.6,1197.6 734.8,1197.6 735,1197.7 735.2,1197.6 735.4,1197.8 735.6,1197.8 735.8,1197.6 736,1197.7 736.2,1197.7 736.4,1197.8 736.6,1197.7 736.8,1197.8 737,1197.7 737.2,1197.7 737.4,1197.6 737.6,1197.8 737.8,1197.8 738,1197.8 738.2,1197.8 738.4,1197.9 738.6,1197.8 738.8,1198 739,1197.8 739.2,1197.9 739.4,1197.8 739.6,1197.8 739.8,1197.8 740,1197.8 740.2,1198 740.4,1197.9 740.6,1197.7 740.8,1197.9 741,1198 741.2,1197.8 741.4,1197.9 741.6,1198.1 741.8,1197.8 742,1197.9 742.2,1197.9 742.4,1198 742.6,1197.8 742.8,1197.9 743,1198.1 743.2,1197.9 743.4,1198 743.6,1198.2 743.8,1198 744,1197.9 744.2,1198.1 744.4,1198.1 744.6,1198.2 744.8,1198.1 745,1197.9 745.2,1198.1 745.4,1198 745.6,1198.1 745.8,1198.3 746,1198.1 746.2,1198.1 746.4,1198.1 746.6,1198.2 746.8,1198.3 747,1198.2 747.2,1198 747.4,1198.2 747.6,1198 747.8,1198.1 748,1198.2 748.2,1198.2 748.4,1198.1 748.6,1198.4 748.8,1198 749,1198.3 749.2,1198.1 749.4,1198.2 749.6,1198.2 749.8,1198.2 750,1198.4 750.2,1198.3 750.4,1198.3 750.6,1198.2 750.8,1198.2 751,1198.4 751.2,1198.4 751.4,1198.4 751.6,1198.5 751.8,1198.3 752,1198.4 752.2,1198.4 752.4,1198.4 752.6,1198.4 752.8,1198.1 753,1198.3 753.2,1198.2 753.4,1198.4 753.6,1198.5 753.8,1198.4 754,1198.5 754.2,1198.5 754.4,1198.5 754.6,1198.5 754.8,1198.3 755,1198.4 755.2,1198.3 755.4,1198.5 755.6,1198.6 755.8,1198.4 756,1198.2 756.2,1198.3 756.4,1198.6 756.6,1198.4 756.8,1198.5 757,1198.4 757.2,1198.5 757.4,1198.4 757.6,1198.5 757.8,1198.4 758,1198.3 758.2,1198.5 758.4,1198.4 758.6,1198.5 758.8,1198.5 759,1198.6 759.2,1198.5 759.4,1198.6 759.6,1198.6 759.8,1198.4 760,1198.5 760.2,1198.4 760.4,1198.6 760.6,1198.3 760.8,1198.5 761,1198.3 761.2,1198.4 761.4,1198.5 761.6,1198.5 761.8,1198.5 762,1198.5 762.2,1198.4 762.4,1198.5 762.6,1198.4 762.8,1198.3 763,1198.5 763.2,1198.6 763.4,1198.4 763.6,1198.4 763.8,1198.4 764,1198.4 764.2,1198.4 764.4,1198.4 764.6,1198.5 764.8,1198.5 765,1198.4 765.2,1198.6 765.4,1198.6 765.6,1198.3 765.8,1198.5 766,1198.4 766.2,1198.5 766.4,1198.5 766.6,1198.5 766.8,1198.4 767,1198.5 767.2,1198.5 767.4,1198.4 767.6,1198.3 767.8,1198.3 768,1198.3 768.2,1198.5 768.4,1198.5 768.6,1198.4 768.8,1198.2 769,1198.3 769.2,1198.3 769.4,1198.2 769.6,1198.5 769.8,1198.4 770,1198.5 770.2,1198.4 770.4,1198.4 770.6,1198.4 770.8,1198.2 771,1198.3 771.2,1198.2 771.4,1198.3 771.6,1198.3 771.8,1198.3 772,1198.4 772.2,1198.1 772.4,1198.1 772.6,1198.3 772.8,1198.3 773,1198.3 773.2,1198.2 773.4,1198.3 773.6,1198.2 773.8,1198.3 774,1197.9 774.2,1198 774.4,1197.9 774.6,1198 774.8,1198.2 775,1198 775.2,1198 775.4,1198 775.6,1198 775.8,1197.9 776,1198 776.2,1197.8 776.4,1197.9 776.6,1198 776.8,1197.9 777,1198 777.2,1198 777.4,1197.9 777.6,1197.9 777.8,1197.7 778,1197.7 778.2,1197.7 778.4,1197.5 778.6,1197.6 778.8,1197.8 779,1197.7 779.2,1197.6 779.4,1197.8 779.6,1197.7 779.8,1197.6 780,1197.5 780.2,1197.4 780.4,1197.3 780.6,1197.5 780.8,1197.4 781,1197.5 781.2,1197.3 781.4,1197.3 781.6,1197.4 781.8,1197.3 782,1197.1 782.2,1197.3 782.4,1197.4 782.6,1197.3 782.8,1197.2 783,1197.2 783.2,1197 783.4,1197.1 783.6,1197.2 783.8,1197.2 784,1197.3 784.2,1197.1 784.4,1197.2 784.6,1197 784.8,1197.1 785,1197 785.2,1196.9 785.4,1197.1 785.6,1197.1 785.8,1197 786,1197 786.2,1196.8 786.4,1196.7 786.6,1196.7 786.8,1196.9 787,1196.9 787.2,1196.9 787.4,1196.7 787.6,1196.9 787.8,1196.8 788,1196.6 788.2,1196.7 788.4,1196.8 788.6,1196.7 788.8,1196.7 789,1196.5 789.2,1196.5 789.4,1196.4 789.6,1196.5 789.8,1196.6 790,1196.4 790.2,1196.7 790.4,1196.5 790.6,1196.2 790.8,1196.5 791,1196.4 791.2,1196.5 791.4,1196.4 791.6,1196.3 791.8,1196.6 792,1196.2 792.2,1196 792.4,1195.9 792.6,1196 792.8,1196 793,1196 793.2,1195.9 793.4,1196 793.6,1195.8 793.8,1196 794,1195.9 794.2,1196.1 794.4,1195.7 794.6,1195.7 794.8,1196.1 795,1195.9 795.2,1195.8 795.4,1195.6 795.6,1195.9 795.8,1195.7 796,1195.6 796.2,1195.6 796.4,1195.2 796.6,1195.4 796.8,1195.5 797,1195.3 797.2,1195.6 797.4,1195.5 797.6,1195.5 797.8,1195.4 798,1195.6 798.2,1195.2 798.4,1195.3 798.6,1195.5 798.8,1195.3 799,1194.9 799.2,1195.6 799.4,1195.3 799.6,1195.4 799.8,1195.4 800,1195.2 800.2,1195.2 800.4,1194.9 800.6,1195.1 800.8,1194.3 801,1195.1 801.2,1194.8 801.4,1194.7 801.6,1194.5 801.8,1194.7 802,1194.9 802.2,1194.6 802.4,1194.4 802.6,1194.4 802.8,1194.6 803,1194.3 803.2,1194.6 803.4,1194.4 803.6,1194.4 803.8,1193.9 804,1194.4 804.2,1194.4 804.4,1194.3 804.6,1193.9 804.8,1194.1 805,1194 805.2,1193.8 805.4,1194.2 805.6,1193.7 805.8,1194.1 806,1193.6 806.2,1194.1 806.4,1194.1" fill="none" stroke="#000000" stroke-width="4.5" stroke-linejoin="round" stroke-linecap="butt" clip-path="url(#clip_c)"/>
<polyline points="271.1,1131.2 271.1,1119" fill="none" stroke="#000000" stroke-width="3.0" stroke-linejoin="round" stroke-linecap="butt" clip-path="url(#clip_c)"/>
<polyline points="408.4,1089.1 408.4,1072.8" fill="none" stroke="#000000" stroke-width="3.0" stroke-linejoin="round" stroke-linecap="butt" clip-path="url(#clip_c)"/>
<polyline points="414.7,1089.7 414.7,1076.6" fill="none" stroke="#000000" stroke-width="3.0" stroke-linejoin="round" stroke-linecap="butt" clip-path="url(#clip_c)"/>
<polyline points="488.7,1134.8 488.7,1118.4" fill="none" stroke="#000000" stroke-width="3.0" stroke-linejoin="round" stroke-linecap="butt" clip-path="url(#clip_c)"/>
<polyline points="370.4,1095.1 370.4,1089.2" fill="none" stroke="#000000" stroke-width="3.0" stroke-linejoin="round" stroke-linecap="butt" clip-path="url(#clip_c)"/>
<polyline points="581.9,1176 581.9,1164.6" fill="none" stroke="#000000" stroke-width="3.0" stroke-linejoin="round" stroke-linecap="butt" clip-path="url(#clip_c)"/>
<rect x="135.2" y="697.7" width="670.5" height="513.3" fill="none" stroke="#000" stroke-width="1.9" stroke-linejoin="round"/>
<line x1="124.9" y1="1197.2" x2="135.2" y2="1197.2" stroke="#000" stroke-width="1.9" stroke-linecap="butt"/>
<text transform="translate(114.3 1206.7)" font-size="29.55" font-weight="normal" text-anchor="end">0</text>
<line x1="124.9" y1="1125.84" x2="135.2" y2="1125.84" stroke="#000" stroke-width="1.9" stroke-linecap="butt"/>
<text transform="translate(114.3 1135.34)" font-size="29.55" font-weight="normal" text-anchor="end">1000</text>
<line x1="124.9" y1="1054.49" x2="135.2" y2="1054.49" stroke="#000" stroke-width="1.9" stroke-linecap="butt"/>
<text transform="translate(114.3 1063.99)" font-size="29.55" font-weight="normal" text-anchor="end">2000</text>
<line x1="124.9" y1="983.13" x2="135.2" y2="983.13" stroke="#000" stroke-width="1.9" stroke-linecap="butt"/>
<text transform="translate(114.3 992.63)" font-size="29.55" font-weight="normal" text-anchor="end">3000</text>
<line x1="124.9" y1="911.77" x2="135.2" y2="911.77" stroke="#000" stroke-width="1.9" stroke-linecap="butt"/>
<text transform="translate(114.3 921.27)" font-size="29.55" font-weight="normal" text-anchor="end">4000</text>
<line x1="124.9" y1="840.41" x2="135.2" y2="840.41" stroke="#000" stroke-width="1.9" stroke-linecap="butt"/>
<text transform="translate(114.3 849.91)" font-size="29.55" font-weight="normal" text-anchor="end">5000</text>
<line x1="124.9" y1="769.06" x2="135.2" y2="769.06" stroke="#000" stroke-width="1.9" stroke-linecap="butt"/>
<text transform="translate(114.3 778.56)" font-size="29.55" font-weight="normal" text-anchor="end">6000</text>
<line x1="124.9" y1="697.7" x2="135.2" y2="697.7" stroke="#000" stroke-width="1.9" stroke-linecap="butt"/>
<text transform="translate(114.3 707.2)" font-size="29.55" font-weight="normal" text-anchor="end">7000</text>
<line x1="129.9" y1="1161.52" x2="135.2" y2="1161.52" stroke="#000" stroke-width="1.9" stroke-linecap="butt"/>
<line x1="129.9" y1="1090.16" x2="135.2" y2="1090.16" stroke="#000" stroke-width="1.9" stroke-linecap="butt"/>
<line x1="129.9" y1="1018.81" x2="135.2" y2="1018.81" stroke="#000" stroke-width="1.9" stroke-linecap="butt"/>
<line x1="129.9" y1="947.45" x2="135.2" y2="947.45" stroke="#000" stroke-width="1.9" stroke-linecap="butt"/>
<line x1="129.9" y1="876.09" x2="135.2" y2="876.09" stroke="#000" stroke-width="1.9" stroke-linecap="butt"/>
<line x1="129.9" y1="804.74" x2="135.2" y2="804.74" stroke="#000" stroke-width="1.9" stroke-linecap="butt"/>
<line x1="129.9" y1="733.38" x2="135.2" y2="733.38" stroke="#000" stroke-width="1.9" stroke-linecap="butt"/>
<line x1="209.7" y1="1211" x2="209.7" y2="1221.3" stroke="#000" stroke-width="1.9" stroke-linecap="butt"/>
<text transform="translate(209.7 1255.1)" font-size="29.55" font-weight="normal" text-anchor="middle">400</text>
<line x1="358.7" y1="1211" x2="358.7" y2="1221.3" stroke="#000" stroke-width="1.9" stroke-linecap="butt"/>
<text transform="translate(358.7 1255.1)" font-size="29.55" font-weight="normal" text-anchor="middle">500</text>
<line x1="507.7" y1="1211" x2="507.7" y2="1221.3" stroke="#000" stroke-width="1.9" stroke-linecap="butt"/>
<text transform="translate(507.7 1255.1)" font-size="29.55" font-weight="normal" text-anchor="middle">600</text>
<line x1="656.7" y1="1211" x2="656.7" y2="1221.3" stroke="#000" stroke-width="1.9" stroke-linecap="butt"/>
<text transform="translate(656.7 1255.1)" font-size="29.55" font-weight="normal" text-anchor="middle">700</text>
<line x1="805.7" y1="1211" x2="805.7" y2="1221.3" stroke="#000" stroke-width="1.9" stroke-linecap="butt"/>
<text transform="translate(805.7 1255.1)" font-size="29.55" font-weight="normal" text-anchor="middle">800</text>
<line x1="135.2" y1="1211" x2="135.2" y2="1216.3" stroke="#000" stroke-width="1.9" stroke-linecap="butt"/>
<line x1="284.2" y1="1211" x2="284.2" y2="1216.3" stroke="#000" stroke-width="1.9" stroke-linecap="butt"/>
<line x1="433.2" y1="1211" x2="433.2" y2="1216.3" stroke="#000" stroke-width="1.9" stroke-linecap="butt"/>
<line x1="582.2" y1="1211" x2="582.2" y2="1216.3" stroke="#000" stroke-width="1.9" stroke-linecap="butt"/>
<line x1="731.2" y1="1211" x2="731.2" y2="1216.3" stroke="#000" stroke-width="1.9" stroke-linecap="butt"/>
<text transform="translate(470.45 1297.9) scale(1 1.04)" font-size="29.2" font-weight="normal" text-anchor="middle">Wavelength (nm)</text>
<text transform="translate(21.5 954.35) rotate(-90) scale(1 1.04)" font-size="29.2" font-weight="normal" text-anchor="middle">PL intensity (a.u.)</text>
<text transform="translate(-0.7 697)" font-size="42.0" font-weight="bold" text-anchor="start">c</text>
<text transform="translate(192.8 743.8) scale(1 1.04)" font-size="29.2" font-weight="normal" text-anchor="start">FE</text>
<text transform="translate(383.9 1042.8) scale(1 1.04)" font-size="29.2" font-weight="normal" text-anchor="start">STE</text>
</g>
<g id="panel-d">
<clipPath id="clip_d"><rect x="1044" y="696.7" width="670.1" height="514.5"/></clipPath>
<polyline points="1043.5,1194.8 1044,1194.8 1044.3,1194.9 1044.6,1196.1 1044.9,1194.8 1045.2,1194.4 1045.5,1195.2 1045.8,1195.1 1046.1,1195.4 1046.4,1194.9 1046.7,1195.7 1047,1195.3 1047.3,1196.3 1047.6,1195.3 1047.9,1195.2 1048.2,1195.7 1048.5,1195.5 1048.8,1194.7 1049.1,1195.4 1049.4,1194.7 1049.7,1195.6 1050,1194.7 1050.3,1195.2 1050.6,1194.6 1050.9,1195.2 1051.2,1195.7 1051.5,1195.6 1051.8,1194.7 1052.1,1194.4 1052.4,1195.3 1052.7,1194.7 1053,1194.6 1053.3,1195.3 1053.6,1194.4 1053.9,1195.4 1054.2,1195.5 1054.5,1195 1054.8,1194.5 1055.1,1194.9 1055.4,1195.7 1055.7,1195.1 1056,1195.6 1056.3,1195 1056.6,1195 1056.9,1195.1 1057.2,1195 1057.5,1195.1 1057.8,1195.4 1058.1,1195.5 1058.4,1194.9 1058.7,1194.5 1059,1194.6 1059.3,1194.5 1059.6,1194 1059.9,1194.9 1060.2,1194.6 1060.5,1195.8 1060.8,1194.7 1061.1,1194.3 1061.4,1195.1 1061.7,1194.9 1062,1195.3 1062.3,1195 1062.6,1195.8 1062.9,1194.6 1063.2,1195 1063.5,1194.7 1063.8,1194.7 1064.1,1194.1 1064.4,1195.2 1064.7,1194.1 1065,1195.1 1065.3,1195.1 1065.6,1195.1 1065.9,1194.1 1066.2,1195.3 1066.5,1194.6 1066.8,1195.1 1067.1,1194.7 1067.4,1195.8 1067.7,1194.6 1068,1194.8 1068.3,1195 1068.6,1194.2 1068.9,1194.6 1069.2,1194.8 1069.5,1195 1069.8,1194.7 1070.1,1195.7 1070.4,1195.8 1070.7,1195.4 1071,1194.8 1071.3,1195.2 1071.6,1195.9 1071.9,1195.7 1072.2,1195.2 1072.5,1194.6 1072.8,1195.4 1073.1,1195.2 1073.4,1194.9 1073.7,1194.8 1074,1194.2 1074.3,1194.1 1074.6,1194.2 1074.9,1195 1075.2,1194.9 1075.5,1194.5 1075.8,1194.7 1076.1,1195.5 1076.4,1194.2 1076.7,1194.6 1077,1194.2 1077.3,1195.8 1077.6,1194.6 1077.9,1195.5 1078.2,1195.2 1078.5,1194.5 1078.8,1195.1 1079.1,1194.9 1079.4,1195 1079.7,1194.9 1080,1195.1 1080.3,1195.1 1080.6,1194.4 1080.9,1195.1 1081.2,1194.4 1081.5,1194.1 1081.8,1194.6 1082.1,1194.3 1082.4,1194.4 1082.7,1194.2 1083,1195.2 1083.3,1195.2 1083.6,1194.4 1083.9,1195.4 1084.2,1194.7 1084.5,1194.4 1084.8,1194.2 1085.1,1194.9 1085.4,1194.7 1085.7,1194.9 1086,1196.1 1086.3,1195.2 1086.6,1194.7 1086.9,1194.2 1087.2,1194.5 1087.5,1194.4 1087.8,1194.4 1088.1,1193.6 1088.4,1194.8 1088.7,1194.2 1089,1195.8 1089.3,1194.6 1089.6,1195.2 1089.9,1194.9 1090.2,1194.3 1090.5,1194.8 1090.8,1194.3 1091.1,1194.1 1091.4,1194 1091.7,1192.7 1092,1194.1 1092.3,1193.4 1092.6,1192.8 1092.9,1193.3 1093.2,1191.8 1093.5,1190.8 1093.8,1191.9 1094.1,1191 1094.4,1191.2 1094.7,1190.6 1095,1190.5 1095.3,1189.9 1095.6,1190.1 1095.9,1190.5 1096.2,1190.5 1096.5,1191.4 1096.8,1191 1097.1,1191.1 1097.4,1191.2 1097.7,1191.5 1098,1191.4 1098.3,1191 1098.6,1191.3 1098.9,1191.1 1099.2,1192.1 1099.5,1192.4 1099.8,1192.8 1100.1,1193.3 1100.4,1192.7 1100.7,1192.1 1101,1192.9 1101.3,1193.3 1101.6,1192.4 1101.9,1192.8 1102.2,1193 1102.5,1194.6 1102.8,1194.2 1103.1,1193.4 1103.4,1193.6 1103.7,1193.9 1104,1194.1 1104.3,1194.1 1104.6,1193.5 1104.9,1193.7 1105.2,1194.9 1105.5,1194.3 1105.8,1194.9 1106.1,1194.4 1106.4,1194.6 1106.7,1194.6 1107,1194.3 1107.3,1195 1107.6,1194.9 1107.9,1194.4 1108.2,1194.6 1108.5,1195.3 1108.8,1194 1109.1,1194.9 1109.4,1195.1 1109.7,1195.3 1110,1195.2 1110.3,1194.2 1110.6,1194.9 1110.9,1194.4 1111.2,1195 1111.5,1194.7 1111.8,1195 1112.1,1194.3 1112.4,1194.7 1112.7,1194.9 1113,1194.9 1113.3,1195.1 1113.6,1195.5 1113.9,1194.2 1114.2,1194.7 1114.5,1193.8 1114.8,1195 1115.1,1195.4 1115.4,1194.8 1115.7,1195.3 1116,1195.7 1116.3,1194.9 1116.6,1195.1 1116.9,1195.1 1117.2,1194.3 1117.5,1194.1 1117.8,1194.5 1118.1,1194.2 1118.4,1194.9 1118.7,1193.5 1119,1193.6 1119.3,1193.7 1119.6,1194.7 1119.9,1194.5 1120.2,1194.5 1120.5,1194.4 1120.8,1194.3 1121.1,1194.2 1121.4,1194.7 1121.7,1194.5 1122,1194.7 1122.3,1194.5 1122.6,1194.6 1122.9,1194.6 1123.2,1195.5 1123.5,1195.5 1123.8,1195.1 1124.1,1193.6 1124.4,1194.8 1124.7,1195.2 1125,1194.7 1125.3,1193.8 1125.6,1194.3 1125.9,1195.8 1126.2,1194.4 1126.5,1193.8 1126.8,1194.4 1127.1,1194.9 1127.4,1194.5 1127.7,1193.9 1128,1193.4 1128.3,1194.5 1128.6,1193.6 1128.9,1194.9 1129.2,1195 1129.5,1194.6 1129.8,1194.4 1130.1,1194.3 1130.4,1194.2 1130.7,1194 1131,1193.8 1131.3,1193.8 1131.6,1195 1131.9,1195.1 1132.2,1194.3 1132.5,1194.5 1132.8,1194.1 1133.1,1194.3 1133.4,1194.8 1133.7,1194.7 1134,1194.7 1134.3,1194.5 1134.6,1194.5 1134.9,1193.8 1135.2,1194.5 1135.5,1193.2 1135.8,1194.2 1136.1,1194.2 1136.4,1194.2 1136.7,1193.1 1137,1194.5 1137.3,1193.4 1137.6,1192.8 1137.9,1193.9 1138.2,1193.9 1138.5,1193.1 1138.8,1194.1 1139.1,1193.8 1139.4,1193.9 1139.7,1193.2 1140,1194.2 1140.3,1193.9 1140.6,1193.7 1140.9,1193.2 1141.2,1193.4 1141.5,1193.6 1141.8,1192.9 1142.1,1193.4 1142.4,1194.4 1142.7,1193.7 1143,1193.7 1143.3,1193.5 1143.6,1194.1 1143.9,1194.2 1144.2,1193.8 1144.5,1193.5 1144.8,1194 1145.1,1194.1 1145.4,1193.6 1145.7,1193.9 1146,1193.9 1146.3,1194.1 1146.6,1193.7 1146.9,1193.3 1147.2,1193.7 1147.5,1193.4 1147.8,1193.6 1148.1,1194.3 1148.4,1194 1148.7,1193.6 1149,1193.8 1149.3,1193.8 1149.6,1193.8 1149.9,1193.4 1150.2,1193.3 1150.5,1192.5 1150.8,1193.5 1151.1,1194.5 1151.4,1193.1 1151.7,1194.2 1152,1193.1 1152.3,1193.2 1152.6,1194 1152.9,1193 1153.2,1193.2 1153.5,1194 1153.8,1193.3 1154.1,1193.8 1154.4,1194.6 1154.7,1192.9 1155,1194 1155.3,1194.3 1155.6,1193.3 1155.9,1193.3 1156.2,1193.7 1156.5,1193.6 1156.8,1194.1 1157.1,1192.6 1157.4,1193.3 1157.7,1193.8 1158,1193.6 1158.3,1193.1 1158.6,1193.6 1158.9,1193.5 1159.2,1192.8 1159.5,1192.3 1159.8,1193.2 1160.1,1193.1 1160.4,1193.3 1160.7,1193.4 1161,1192.7 1161.3,1192.8 1161.6,1193.7 1161.9,1192.8 1162.2,1192.5 1162.5,1192.6 1162.8,1193.4 1163.1,1194.1 1163.4,1193.6 1163.7,1192.3 1164,1193.1 1164.3,1192.7 1164.6,1193.4 1164.9,1193.1 1165.2,1192.9 1165.5,1192.6 1165.8,1193.6 1166.1,1192.2 1166.4,1192.7 1166.7,1192.4 1167,1193.4 1167.3,1193.6 1167.6,1193.1 1167.9,1193.3 1168.2,1192.8 1168.5,1192.1 1168.8,1192.8 1169.1,1193.7 1169.4,1192.5 1169.7,1193.1 1170,1191.9 1170.3,1192.9 1170.6,1193.3 1170.9,1192.7 1171.2,1191.7 1171.5,1192.6 1171.8,1192.1 1172.1,1193 1172.4,1192.6 1172.7,1192.4 1173,1192.5 1173.3,1191.8 1173.6,1192.2 1173.9,1192.7 1174.2,1192.5 1174.5,1193.2 1174.8,1192.6 1175.1,1193.4 1175.4,1191.8 1175.7,1192.1 1176,1192.3 1176.3,1191.5 1176.6,1192.3 1176.9,1191.9 1177.2,1192 1177.5,1191.9 1177.8,1192.2 1178.1,1192.5 1178.4,1191.8 1178.7,1192.3 1179,1191.2 1179.3,1191.5 1179.6,1191.3 1179.9,1192.1 1180.2,1191.9 1180.5,1191.4 1180.8,1191.8 1181.1,1191.7 1181.4,1191 1181.7,1192.3 1182,1191.6 1182.3,1192 1182.6,1192.1 1182.9,1192.7 1183.2,1191.6 1183.5,1191.2 1183.8,1191.1 1184.1,1191.2 1184.4,1191.6 1184.7,1191.3 1185,1191 1185.3,1190.6 1185.6,1191 1185.9,1191.7 1186.2,1191.5 1186.5,1191.3 1186.8,1191.8 1187.1,1191.5 1187.4,1190.3 1187.7,1191.4 1188,1190.6 1188.3,1191.3 1188.6,1190.4 1188.9,1190.6 1189.2,1189.9 1189.5,1190.4 1189.8,1190.9 1190.1,1190.7 1190.4,1191.1 1190.7,1190.6 1191,1191 1191.3,1190.8 1191.6,1190.7 1191.9,1190.9 1192.2,1190.1 1192.5,1191 1192.8,1190.6 1193.1,1188.8 1193.4,1188.9 1193.7,1190.1 1194,1190 1194.3,1189.3 1194.6,1190.8 1194.9,1189.3 1195.2,1189.9 1195.5,1190 1195.8,1188.9 1196.1,1188.5 1196.4,1188.9 1196.7,1188.5 1197,1189.3 1197.3,1188 1197.6,1189.2 1197.9,1189.8 1198.2,1188.5 1198.5,1188.2 1198.8,1188.6 1199.1,1188.3 1199.4,1187.7 1199.7,1187.3 1200,1188.8 1200.3,1187.2 1200.6,1187.6 1200.9,1187.7 1201.2,1187.7 1201.5,1187.4 1201.8,1186.5 1202.1,1187 1202.4,1187 1202.7,1185.8 1203,1186.7 1203.3,1185.2 1203.6,1186.1 1203.9,1185.3 1204.2,1185.2 1204.5,1186 1204.8,1184.7 1205.1,1185.5 1205.4,1185.6 1205.7,1184.4 1206,1184.8 1206.3,1185.4 1206.6,1184.3 1206.9,1184.5 1207.2,1184.7 1207.5,1184.4 1207.8,1184.6 1208.1,1183.3 1208.4,1184.6 1208.7,1183.6 1209,1182.9 1209.3,1182.1 1209.6,1183.1 1209.9,1182.4 1210.2,1181.9 1210.5,1182.6 1210.8,1182.4 1211.1,1182.2 1211.4,1180.8 1211.7,1180.7 1212,1180.3 1212.3,1180.9 1212.6,1181.4 1212.9,1181.1 1213.2,1181 1213.5,1179.2 1213.8,1179.9 1214.1,1179.2 1214.4,1179.4 1214.7,1179.4 1215,1179.2 1215.3,1177.6 1215.6,1179 1215.9,1177.7 1216.2,1178 1216.5,1176.4 1216.8,1177.3 1217.1,1177 1217.4,1177.6 1217.7,1175.2 1218,1175.8 1218.3,1174.9 1218.6,1174.4 1218.9,1175.7 1219.2,1174.7 1219.5,1174.6 1219.8,1174.2 1220.1,1173.6 1220.4,1173.4 1220.7,1172.4 1221,1173.4 1221.3,1173 1221.6,1172.2 1221.9,1173 1222.2,1171.8 1222.5,1170.9 1222.8,1171.3 1223.1,1171.1 1223.4,1169.6 1223.7,1170.3 1224,1170.1 1224.3,1169.1 1224.6,1169.4 1224.9,1169.2 1225.2,1167.4 1225.5,1168.3 1225.8,1167.2 1226.1,1166.6 1226.4,1167 1226.7,1166.1 1227,1166.2 1227.3,1165.4 1227.6,1164.7 1227.9,1165.2 1228.2,1164.5 1228.5,1164.3 1228.8,1163.6 1229.1,1163.8 1229.4,1163.2 1229.7,1163.6 1230,1162.3 1230.3,1162.4 1230.6,1161.2 1230.9,1160 1231.2,1161.1 1231.5,1160.2 1231.8,1160 1232.1,1160.1 1232.4,1158.2 1232.7,1158 1233,1157.5 1233.3,1157.3 1233.6,1158.7 1233.9,1156.7 1234.2,1156.4 1234.5,1155.4 1234.8,1155.4 1235.1,1154.8 1235.4,1155.4 1235.7,1153.7 1236,1154.2 1236.3,1152.9 1236.6,1152.6 1236.9,1151.8 1237.2,1152.1 1237.5,1151.2 1237.8,1151.2 1238.1,1150.2 1238.4,1149.1 1238.7,1148.3 1239,1148.7 1239.3,1146.9 1239.6,1147.4 1239.9,1145.1 1240.2,1146.2 1240.5,1145.4 1240.8,1144.6 1241.1,1144.5 1241.4,1142.6 1241.7,1142.6 1242,1142.6 1242.3,1142.4 1242.6,1141.1 1242.9,1140.6 1243.2,1139.7 1243.5,1139.6 1243.8,1137.8 1244.1,1136.2 1244.4,1137.7 1244.7,1136.7 1245,1134.8 1245.3,1135.2 1245.6,1135.3 1245.9,1135 1246.2,1132.9 1246.5,1133.2 1246.8,1131 1247.1,1131.4 1247.4,1131 1247.7,1129 1248,1128.1 1248.3,1129.6 1248.6,1128.4 1248.9,1128.4 1249.2,1126 1249.5,1125.2 1249.8,1126.2 1250.1,1124.1 1250.4,1122.4 1250.7,1122.8 1251,1122.7 1251.3,1121.8 1251.6,1119.3 1251.9,1120.4 1252.2,1118.1 1252.5,1120.3 1252.8,1117.2 1253.1,1116.9 1253.4,1116.7 1253.7,1115.5 1254,1115.9 1254.3,1113.9 1254.6,1113.9 1254.9,1113.1 1255.2,1112.4 1255.5,1110.6 1255.8,1111.8 1256.1,1109.3 1256.4,1108.5 1256.7,1108.2 1257,1107.8 1257.3,1105 1257.6,1105.8 1257.9,1106.2 1258.2,1104.8 1258.5,1104 1258.8,1103.8 1259.1,1102.7 1259.4,1100.7 1259.7,1100 1260,1100.2 1260.3,1097.7 1260.6,1098.7 1260.9,1099.3 1261.2,1096.9 1261.5,1097.1 1261.8,1093.5 1262.1,1094.4 1262.4,1094 1262.7,1093.6 1263,1092.2 1263.3,1092.7 1263.6,1091.1 1263.9,1090.2 1264.2,1089.7 1264.5,1089.5 1264.8,1087.6 1265.1,1087.5 1265.4,1086.5 1265.7,1086.8 1266,1085.4 1266.3,1083.6 1266.6,1083.8 1266.9,1082.4 1267.2,1082.7 1267.5,1081.5 1267.8,1081.2 1268.1,1080.3 1268.4,1078.8 1268.7,1078.7 1269,1077.9 1269.3,1077.3 1269.6,1076.5 1269.9,1075.4 1270.2,1073.7 1270.5,1072.8 1270.8,1073.5 1271.1,1073.7 1271.4,1072.6 1271.7,1070.7 1272,1070.7 1272.3,1069.7 1272.6,1067.9 1272.9,1067.7 1273.2,1066.2 1273.5,1066.8 1273.8,1067.4 1274.1,1065.1 1274.4,1063.5 1274.7,1064 1275,1063.8 1275.3,1061.6 1275.6,1062.1 1275.9,1061 1276.2,1059.8 1276.5,1059.1 1276.8,1059.7 1277.1,1059.5 1277.4,1054.9 1277.7,1056.4 1278,1056.3 1278.3,1053.8 1278.6,1053.7 1278.9,1053.7 1279.2,1053.2 1279.5,1052.2 1279.8,1050.2 1280.1,1050.5 1280.4,1050.2 1280.7,1049.6 1281,1047.2 1281.3,1048.6 1281.6,1046.3 1281.9,1047.4 1282.2,1044.2 1282.5,1042.9 1282.8,1043.2 1283.1,1042.9 1283.4,1040.7 1283.7,1040.3 1284,1037.8 1284.3,1037.2 1284.6,1036.8 1284.9,1036.2 1285.2,1036.3 1285.5,1034.6 1285.8,1033.2 1286.1,1032.3 1286.4,1030.3 1286.7,1031.3 1287,1028.8 1287.3,1027.7 1287.6,1029.4 1287.9,1025.7 1288.2,1025.9 1288.5,1024.4 1288.8,1022.8 1289.1,1021.9 1289.4,1021.7 1289.7,1021.8 1290,1020.2 1290.3,1018 1290.6,1018.5 1290.9,1016.3 1291.2,1014.9 1291.5,1013.9 1291.8,1014.1 1292.1,1011 1292.4,1010.8 1292.7,1010.6 1293,1010 1293.3,1007.1 1293.6,1007.2 1293.9,1006 1294.2,1005.9 1294.5,1004.9 1294.8,1004 1295.1,1002.4 1295.4,1000.9 1295.7,1000.4 1296,999.8 1296.3,998.9 1296.6,997.4 1296.9,995.6 1297.2,994.7 1297.5,993 1297.8,994.6 1298.1,991.8 1298.4,991.4 1298.7,990.2 1299,989.2 1299.3,987.6 1299.6,986 1299.9,986 1300.2,982.3 1300.5,983 1300.8,981.6 1301.1,980.6 1301.4,980.6 1301.7,978.3 1302,977.8 1302.3,976.2 1302.6,976 1302.9,974.6 1303.2,974.4 1303.5,973.9 1303.8,971.7 1304.1,969.9 1304.4,970.7 1304.7,968.9 1305,968.2 1305.3,967 1305.6,966 1305.9,963 1306.2,963.5 1306.5,962 1306.8,961.2 1307.1,960 1307.4,960.5 1307.7,957.8 1308,956.8 1308.3,953.6 1308.6,954.4 1308.9,951.1 1309.2,951.3 1309.5,949.5 1309.8,949.3 1310.1,947.4 1310.4,946.5 1310.7,945 1311,941.4 1311.3,941.9 1311.6,941 1311.9,939.9 1312.2,938.1 1312.5,936.1 1312.8,936.8 1313.1,936.2 1313.4,935.6 1313.7,932.6 1314,932.8 1314.3,932 1314.6,930.9 1314.9,928.8 1315.2,928 1315.5,926.6 1315.8,926.5 1316.1,925.5 1316.4,925.7 1316.7,925.7 1317,927.4 1317.3,923.1 1317.6,923.6 1317.9,922.7 1318.2,920.8 1318.5,919.4 1318.8,919.1 1319.1,919.5 1319.4,918.6 1319.7,917.2 1320,917.9 1320.3,916.7 1320.6,916 1320.9,914.5 1321.2,912.5 1321.5,912.5 1321.8,912.2 1322.1,912.7 1322.4,909.8 1322.7,908.6 1323,907.2 1323.3,908.8 1323.6,905.9 1323.9,907.5 1324.2,905.1 1324.5,906.3 1324.8,904.4 1325.1,905.1 1325.4,903.2 1325.7,902.2 1326,901.8 1326.3,900.6 1326.6,900.3 1326.9,899 1327.2,898.8 1327.5,898.7 1327.8,897.1 1328.1,897.6 1328.4,894.8 1328.7,896.3 1329,893.1 1329.3,894.5 1329.6,892.3 1329.9,892.9 1330.2,890.5 1330.5,890 1330.8,890 1331.1,887.8 1331.4,887 1331.7,884.4 1332,883.9 1332.3,883.6 1332.6,882.7 1332.9,879.8 1333.2,876.7 1333.5,879.3 1333.8,878.9 1334.1,876.1 1334.4,876.2 1334.7,875.1 1335,872.5 1335.3,873.1 1335.6,871.1 1335.9,871.3 1336.2,869.7 1336.5,868.1 1336.8,868.3 1337.1,866.9 1337.4,866.2 1337.7,864.5 1338,863.4 1338.3,863.9 1338.6,861.8 1338.9,861.4 1339.2,860.3 1339.5,857.4 1339.8,856.9 1340.1,856.7 1340.4,856.8 1340.7,853.9 1341,853.1 1341.3,851.7 1341.6,851.5 1341.9,852.2 1342.2,850.2 1342.5,846.9 1342.8,846.9 1343.1,847.7 1343.4,846.1 1343.7,842.6 1344,843.3 1344.3,842.1 1344.6,842.1 1344.9,840.6 1345.2,839.6 1345.5,837.6 1345.8,838.3 1346.1,836.7 1346.4,835.9 1346.7,835.2 1347,833.1 1347.3,831.3 1347.6,830.3 1347.9,830.1 1348.2,831.4 1348.5,827.9 1348.8,826.9 1349.1,826.3 1349.4,825.2 1349.7,823.9 1350,823.8 1350.3,822.4 1350.6,819.7 1350.9,821.2 1351.2,818.2 1351.5,819 1351.8,816.7 1352.1,817.1 1352.4,815.1 1352.7,815.6 1353,814.5 1353.3,814.7 1353.6,813.8 1353.9,811 1354.2,812.1 1354.5,809.7 1354.8,810.8 1355.1,808.9 1355.4,808.8 1355.7,807.8 1356,808.3 1356.3,808.2 1356.6,808.8 1356.9,805.6 1357.2,806.1 1357.5,806.9 1357.8,807.2 1358.1,806.4 1358.4,805.6 1358.7,805 1359,806.2 1359.3,804.5 1359.6,803.5 1359.9,802.3 1360.2,802.4 1360.5,802.8 1360.8,803.6 1361.1,803.2 1361.4,803.5 1361.7,804.2 1362,803.5 1362.3,804.1 1362.6,803.4 1362.9,803.4 1363.2,804.1 1363.5,802.9 1363.8,805 1364.1,805.1 1364.4,804.2 1364.7,805.9 1365,805.5 1365.3,805.2 1365.6,807.3 1365.9,806.1 1366.2,805.4 1366.5,807.1 1366.8,808.6 1367.1,806.7 1367.4,808.2 1367.7,807.7 1368,808.5 1368.3,808.7 1368.6,807.7 1368.9,808.4 1369.2,810.1 1369.5,811.2 1369.8,810.7 1370.1,812 1370.4,813 1370.7,811.3 1371,811.9 1371.3,812.6 1371.6,812.7 1371.9,814.2 1372.2,812.9 1372.5,814.6 1372.8,812.1 1373.1,814.3 1373.4,814.3 1373.7,816.1 1374,815.2 1374.3,817.2 1374.6,817.2 1374.9,817.9 1375.2,815.7 1375.5,817.6 1375.8,816.2 1376.1,818 1376.4,818.5 1376.7,820.3 1377,819.8 1377.3,820.3 1377.6,820.5 1377.9,819.7 1378.2,821.8 1378.5,821.9 1378.8,823.3 1379.1,821.5 1379.4,823.6 1379.7,823.3 1380,823.9 1380.3,825.9 1380.6,824.6 1380.9,824.9 1381.2,828 1381.5,826.6 1381.8,826.3 1382.1,826 1382.4,826.7 1382.7,827.8 1383,827.5 1383.3,830.8 1383.6,830.7 1383.9,830.5 1384.2,829.9 1384.5,829.3 1384.8,830.7 1385.1,829.9 1385.4,830.6 1385.7,830.9 1386,830.3 1386.3,833.7 1386.6,833.1 1386.9,832.6 1387.2,833.2 1387.5,834.1 1387.8,835.2 1388.1,835.7 1388.4,835.9 1388.7,835.4 1389,836.2 1389.3,836.9 1389.6,837.7 1389.9,837.2 1390.2,838.2 1390.5,839.3 1390.8,839.7 1391.1,839.6 1391.4,839 1391.7,839.1 1392,839.9 1392.3,839.5 1392.6,841.7 1392.9,841.7 1393.2,842.2 1393.5,841.5 1393.8,842.1 1394.1,843.8 1394.4,843.8 1394.7,841.4 1395,843.9 1395.3,843.9 1395.6,843.4 1395.9,846.1 1396.2,846.1 1396.5,847.5 1396.8,848.1 1397.1,850 1397.4,848.3 1397.7,847.9 1398,849.4 1398.3,847.4 1398.6,849.7 1398.9,851.3 1399.2,850.6 1399.5,853.1 1399.8,850.1 1400.1,852.7 1400.4,851.5 1400.7,854 1401,854.4 1401.3,853.6 1401.6,855.1 1401.9,856.4 1402.2,856 1402.5,855.3 1402.8,858.1 1403.1,854.4 1403.4,858.7 1403.7,856.8 1404,856.9 1404.3,858.3 1404.6,858.6 1404.9,859.6 1405.2,859.2 1405.5,860.3 1405.8,861 1406.1,860.7 1406.4,862.2 1406.7,862.6 1407,859.9 1407.3,863.9 1407.6,862.7 1407.9,862.8 1408.2,863.4 1408.5,863.2 1408.8,866.1 1409.1,864.9 1409.4,865.5 1409.7,866.6 1410,865.8 1410.3,867.3 1410.6,867.7 1410.9,869.6 1411.2,868.2 1411.5,870.1 1411.8,868.8 1412.1,871.1 1412.4,871 1412.7,871.9 1413,871.5 1413.3,873.4 1413.6,871.1 1413.9,872.5 1414.2,873.7 1414.5,874.2 1414.8,874.8 1415.1,873.6 1415.4,876.4 1415.7,876.1 1416,876.4 1416.3,877.2 1416.6,877 1416.9,877.5 1417.2,879.7 1417.5,878.7 1417.8,879.4 1418.1,880.3 1418.4,881.9 1418.7,882.2 1419,882.7 1419.3,883.9 1419.6,883.3 1419.9,884.6 1420.2,885 1420.5,884.9 1420.8,885.7 1421.1,885.8 1421.4,885.4 1421.7,887.4 1422,889.3 1422.3,888.4 1422.6,890.9 1422.9,890.6 1423.2,891.9 1423.5,890.2 1423.8,892.6 1424.1,891.6 1424.4,893.6 1424.7,893.3 1425,895.5 1425.3,895.8 1425.6,895.3 1425.9,897.2 1426.2,898.6 1426.5,898.5 1426.8,897.9 1427.1,900.6 1427.4,900.6 1427.7,902.3 1428,902.7 1428.3,903.9 1428.6,904.5 1428.9,905.5 1429.2,904.7 1429.5,906.2 1429.8,906.7 1430.1,908.7 1430.4,907.3 1430.7,911.2 1431,910.7 1431.3,910.5 1431.6,911.3 1431.9,911.7 1432.2,913.9 1432.5,915.3 1432.8,915.4 1433.1,915.4 1433.4,916.1 1433.7,918.4 1434,918.5 1434.3,919.4 1434.6,918.9 1434.9,920.6 1435.2,921.3 1435.5,923.2 1435.8,922.9 1436.1,924.7 1436.4,925 1436.7,924.4 1437,925.5 1437.3,927.5 1437.6,930.2 1437.9,928.4 1438.2,930.7 1438.5,929.5 1438.8,930.4 1439.1,932.6 1439.4,934.4 1439.7,935.3 1440,934.8 1440.3,935.7 1440.6,936 1440.9,936.8 1441.2,937.9 1441.5,938 1441.8,939.5 1442.1,939.3 1442.4,941.9 1442.7,942.8 1443,942.8 1443.3,943.6 1443.6,945.1 1443.9,945.9 1444.2,945.5 1444.5,946.5 1444.8,946.8 1445.1,949.3 1445.4,949.5 1445.7,951 1446,949.3 1446.3,952.5 1446.6,952.9 1446.9,954.3 1447.2,955.2 1447.5,957 1447.8,958.1 1448.1,957.7 1448.4,958.3 1448.7,959.7 1449,960 1449.3,963.6 1449.6,964.3 1449.9,964.8 1450.2,965.4 1450.5,966.2 1450.8,968 1451.1,968.3 1451.4,970 1451.7,971.6 1452,971.1 1452.3,972.7 1452.6,975.3 1452.9,974.8 1453.2,974.7 1453.5,976.9 1453.8,976.6 1454.1,979.9 1454.4,978 1454.7,978.5 1455,980.9 1455.3,983 1455.6,982.1 1455.9,984.1 1456.2,984.7 1456.5,985.8 1456.8,987.6 1457.1,988.2 1457.4,989.8 1457.7,989.8 1458,992.6 1458.3,993.9 1458.6,995.3 1458.9,995.8 1459.2,996.3 1459.5,998 1459.8,998.8 1460.1,999.7 1460.4,1001.6 1460.7,1000.4 1461,1000.8 1461.3,1003.4 1461.6,1003.5 1461.9,1005.2 1462.2,1004.6 1462.5,1006.4 1462.8,1005.8 1463.1,1007.3 1463.4,1007.9 1463.7,1007.6 1464,1009.1 1464.3,1011 1464.6,1010.8 1464.9,1011.8 1465.2,1012.9 1465.5,1013.5 1465.8,1014.1 1466.1,1014.3 1466.4,1016.5 1466.7,1016.9 1467,1016.4 1467.3,1016.7 1467.6,1019.2 1467.9,1020.1 1468.2,1019.5 1468.5,1020.6 1468.8,1020.8 1469.1,1021 1469.4,1023.8 1469.7,1022.6 1470,1022.3 1470.3,1024.7 1470.6,1025.5 1470.9,1026.4 1471.2,1025.8 1471.5,1027.1 1471.8,1026.9 1472.1,1026.1 1472.4,1027.2 1472.7,1028.7 1473,1029.1 1473.3,1030.8 1473.6,1030.6 1473.9,1030.4 1474.2,1032.6 1474.5,1032.7 1474.8,1032.9 1475.1,1033.1 1475.4,1034.9 1475.7,1035.6 1476,1036 1476.3,1036.1 1476.6,1037.1 1476.9,1037.5 1477.2,1036.3 1477.5,1038 1477.8,1040.2 1478.1,1039.6 1478.4,1040.7 1478.7,1041.4 1479,1042.6 1479.3,1041.4 1479.6,1041.6 1479.9,1042.2 1480.2,1042.9 1480.5,1044.3 1480.8,1045.2 1481.1,1045.8 1481.4,1047 1481.7,1046.3 1482,1048.6 1482.3,1048.3 1482.6,1048.8 1482.9,1049.3 1483.2,1049.9 1483.5,1048.9 1483.8,1051.9 1484.1,1050.4 1484.4,1051.1 1484.7,1052.7 1485,1053.3 1485.3,1054.2 1485.6,1054.1 1485.9,1053.6 1486.2,1055.6 1486.5,1053.1 1486.8,1055.5 1487.1,1055.9 1487.4,1056.8 1487.7,1057 1488,1057.8 1488.3,1059.7 1488.6,1060 1488.9,1059.7 1489.2,1062.4 1489.5,1062.4 1489.8,1062.2 1490.1,1063 1490.4,1062.7 1490.7,1065.6 1491,1063.1 1491.3,1064.6 1491.6,1065.3 1491.9,1064.9 1492.2,1067.1 1492.5,1067.4 1492.8,1067.2 1493.1,1067.6 1493.4,1069.3 1493.7,1069.1 1494,1069.3 1494.3,1072.1 1494.6,1071.7 1494.9,1071.6 1495.2,1072.7 1495.5,1073.1 1495.8,1074.1 1496.1,1074.1 1496.4,1075.9 1496.7,1076.7 1497,1075.7 1497.3,1077.1 1497.6,1078.2 1497.9,1080 1498.2,1079.2 1498.5,1079.8 1498.8,1081.2 1499.1,1081.2 1499.4,1082.9 1499.7,1083.2 1500,1083 1500.3,1083.6 1500.6,1084.4 1500.9,1085.4 1501.2,1085.5 1501.5,1085.4 1501.8,1086.2 1502.1,1086.8 1502.4,1087 1502.7,1087.8 1503,1087.3 1503.3,1088.8 1503.6,1089.2 1503.9,1090.2 1504.2,1089 1504.5,1090.1 1504.8,1091.3 1505.1,1091.3 1505.4,1092.5 1505.7,1092 1506,1093.2 1506.3,1093.9 1506.6,1093.8 1506.9,1095.6 1507.2,1095.1 1507.5,1095.1 1507.8,1095 1508.1,1095.8 1508.4,1096.5 1508.7,1096.5 1509,1098.1 1509.3,1097.1 1509.6,1098.5 1509.9,1097.8 1510.2,1100 1510.5,1099.7 1510.8,1099 1511.1,1100.7 1511.4,1100.5 1511.7,1100.6 1512,1101.4 1512.3,1102.4 1512.6,1102.9 1512.9,1103.8 1513.2,1102.7 1513.5,1103 1513.8,1103.8 1514.1,1103.1 1514.4,1104.3 1514.7,1106.2 1515,1105.5 1515.3,1104.8 1515.6,1106.5 1515.9,1106.7 1516.2,1106.6 1516.5,1108.1 1516.8,1106.4 1517.1,1109.2 1517.4,1107.7 1517.7,1108.5 1518,1109.2 1518.3,1110.6 1518.6,1110.4 1518.9,1112 1519.2,1111.8 1519.5,1110.8 1519.8,1112.7 1520.1,1112.5 1520.4,1113.4 1520.7,1113.2 1521,1113.7 1521.3,1114.4 1521.6,1114.6 1521.9,1115 1522.2,1115.2 1522.5,1115.3 1522.8,1116 1523.1,1114.8 1523.4,1116.5 1523.7,1116.4 1524,1118.5 1524.3,1116.3 1524.6,1118.4 1524.9,1116.8 1525.2,1118.1 1525.5,1120 1525.8,1119.1 1526.1,1119.6 1526.4,1119.5 1526.7,1120 1527,1121.2 1527.3,1120 1527.6,1119.7 1527.9,1121.1 1528.2,1122.1 1528.5,1121.7 1528.8,1121.2 1529.1,1122 1529.4,1123.3 1529.7,1123.2 1530,1124.1 1530.3,1123.5 1530.6,1124.7 1530.9,1124 1531.2,1125.8 1531.5,1124.1 1531.8,1125 1532.1,1124.4 1532.4,1126.5 1532.7,1125.7 1533,1126.2 1533.3,1128.1 1533.6,1128.5 1533.9,1127.1 1534.2,1127.7 1534.5,1128.2 1534.8,1128.8 1535.1,1128.9 1535.4,1130.2 1535.7,1130.7 1536,1130.2 1536.3,1131.8 1536.6,1131 1536.9,1130.8 1537.2,1132.2 1537.5,1132 1537.8,1131.5 1538.1,1133.2 1538.4,1133.9 1538.7,1133.7 1539,1132.6 1539.3,1133.7 1539.6,1135 1539.9,1134.8 1540.2,1135.4 1540.5,1136.3 1540.8,1136.1 1541.1,1136.6 1541.4,1136 1541.7,1136.5 1542,1138.9 1542.3,1138.2 1542.6,1137.6 1542.9,1137.8 1543.2,1137.9 1543.5,1140 1543.8,1139.8 1544.1,1139.4 1544.4,1139.1 1544.7,1140.2 1545,1140.8 1545.3,1141.1 1545.6,1142.8 1545.9,1142.1 1546.2,1142 1546.5,1141.8 1546.8,1142.1 1547.1,1142.8 1547.4,1144.2 1547.7,1144 1548,1144.4 1548.3,1144.4 1548.6,1143.9 1548.9,1144.9 1549.2,1144.4 1549.5,1144.6 1549.8,1145 1550.1,1146.3 1550.4,1145.5 1550.7,1146.2 1551,1147 1551.3,1147.7 1551.6,1147.8 1551.9,1147.3 1552.2,1146.8 1552.5,1148 1552.8,1147.3 1553.1,1148.2 1553.4,1148.6 1553.7,1149.4 1554,1149 1554.3,1149.9 1554.6,1149 1554.9,1149.7 1555.2,1151.1 1555.5,1150.4 1555.8,1151.1 1556.1,1151.7 1556.4,1152.8 1556.7,1152.6 1557,1151.4 1557.3,1152.7 1557.6,1153.6 1557.9,1153 1558.2,1153.7 1558.5,1153 1558.8,1154 1559.1,1155 1559.4,1153.9 1559.7,1154.6 1560,1155.4 1560.3,1153.8 1560.6,1155.3 1560.9,1156.4 1561.2,1155.6 1561.5,1155.3 1561.8,1155 1562.1,1157 1562.4,1157.1 1562.7,1157 1563,1156.7 1563.3,1157.3 1563.6,1158.2 1563.9,1156.3 1564.2,1157.4 1564.5,1158.6 1564.8,1159.2 1565.1,1158.4 1565.4,1158.4 1565.7,1158.6 1566,1158.8 1566.3,1159 1566.6,1159.7 1566.9,1159.6 1567.2,1160.7 1567.5,1159.8 1567.8,1161.2 1568.1,1160.5 1568.4,1161 1568.7,1160.5 1569,1161.7 1569.3,1161.5 1569.6,1161.7 1569.9,1163.4 1570.2,1162.4 1570.5,1162.7 1570.8,1163 1571.1,1161.7 1571.4,1162.9 1571.7,1162.8 1572,1163.5 1572.3,1164.5 1572.6,1164.1 1572.9,1163.9 1573.2,1164.1 1573.5,1164.6 1573.8,1164.9 1574.1,1164.9 1574.4,1165.6 1574.7,1164.6 1575,1165.7 1575.3,1166.3 1575.6,1166.1 1575.9,1165.6 1576.2,1167.4 1576.5,1166.8 1576.8,1166.6 1577.1,1167.2 1577.4,1167.9 1577.7,1167.5 1578,1167.3 1578.3,1167.5 1578.6,1168.3 1578.9,1167.5 1579.2,1168.1 1579.5,1168.3 1579.8,1170 1580.1,1168.7 1580.4,1168.9 1580.7,1169.5 1581,1169.9 1581.3,1169.1 1581.6,1170.6 1581.9,1171.3 1582.2,1171.2 1582.5,1171.2 1582.8,1169.9 1583.1,1171.7 1583.4,1170.7 1583.7,1170.3 1584,1171.7 1584.3,1171.1 1584.6,1171.5 1584.9,1171.8 1585.2,1171.7 1585.5,1172.2 1585.8,1172.3 1586.1,1172.3 1586.4,1173.6 1586.7,1173.4 1587,1172.9 1587.3,1173.4 1587.6,1174.1 1587.9,1173.9 1588.2,1174.1 1588.5,1173.5 1588.8,1173.4 1589.1,1172.8 1589.4,1174.5 1589.7,1174.5 1590,1174.9 1590.3,1173.5 1590.6,1174.2 1590.9,1174.8 1591.2,1174.3 1591.5,1175.1 1591.8,1174 1592.1,1175.7 1592.4,1174.5 1592.7,1174.5 1593,1174 1593.3,1174.3 1593.6,1174.6 1593.9,1174.3 1594.2,1175.3 1594.5,1174.5 1594.8,1175 1595.1,1175.2 1595.4,1175.8 1595.7,1175.2 1596,1174.6 1596.3,1174.8 1596.6,1175.4 1596.9,1175.1 1597.2,1174.9 1597.5,1175.7 1597.8,1175.9 1598.1,1174.9 1598.4,1176.1 1598.7,1175.9 1599,1175.5 1599.3,1175.8 1599.6,1175.9 1599.9,1175.5 1600.2,1176.4 1600.5,1176.4 1600.8,1175.3 1601.1,1176.2 1601.4,1175.9 1601.7,1174.8 1602,1177 1602.3,1175.3 1602.6,1176.1 1602.9,1175.6 1603.2,1175.8 1603.5,1175.7 1603.8,1176 1604.1,1176.5 1604.4,1176 1604.7,1175.9 1605,1176.5 1605.3,1177.1 1605.6,1177 1605.9,1176.4 1606.2,1176.8 1606.5,1177.2 1606.8,1175.3 1607.1,1176 1607.4,1176.6 1607.7,1177 1608,1176.8 1608.3,1176.2 1608.6,1176.5 1608.9,1175.4 1609.2,1177.6 1609.5,1177.8 1609.8,1176.5 1610.1,1176.6 1610.4,1177.2 1610.7,1176.6 1611,1177.7 1611.3,1177 1611.6,1177 1611.9,1177.7 1612.2,1176.5 1612.5,1177.6 1612.8,1177.9 1613.1,1177.4 1613.4,1177.5 1613.7,1178 1614,1177.8 1614.3,1177.4 1614.6,1177.6 1614.9,1178 1615.2,1177.7 1615.5,1177.3 1615.8,1178.1 1616.1,1177.9 1616.4,1178 1616.7,1178.6 1617,1179.3 1617.3,1178.4 1617.6,1179.3 1617.9,1177.8 1618.2,1179.9 1618.5,1179.1 1618.8,1179 1619.1,1179.3 1619.4,1179.2 1619.7,1178 1620,1180.3 1620.3,1180.2 1620.6,1179.8 1620.9,1179.5 1621.2,1179.5 1621.5,1180.5 1621.8,1179.7 1622.1,1179.8 1622.4,1180.1 1622.7,1180.3 1623,1180.2 1623.3,1180 1623.6,1180.2 1623.9,1181.5 1624.2,1180.5 1624.5,1180.9 1624.8,1181.2 1625.1,1181.3 1625.4,1180.4 1625.7,1181.6 1626,1181.1 1626.3,1181.3 1626.6,1180.8 1626.9,1182.2 1627.2,1182 1627.5,1181.2 1627.8,1181.9 1628.1,1181.7 1628.4,1182.1 1628.7,1182.8 1629,1182.2 1629.3,1181.8 1629.6,1182.6 1629.9,1182.7 1630.2,1182.9 1630.5,1182.6 1630.8,1182.3 1631.1,1182.7 1631.4,1182.3 1631.7,1183.2 1632,1182.9 1632.3,1183 1632.6,1183.3 1632.9,1184.1 1633.2,1183 1633.5,1182.8 1633.8,1183.7 1634.1,1183.9 1634.4,1184.1 1634.7,1184.1 1635,1184.1 1635.3,1184 1635.6,1184 1635.9,1185 1636.2,1184 1636.5,1184.6 1636.8,1184.5 1637.1,1185.1 1637.4,1184.8 1637.7,1184 1638,1185.7 1638.3,1184.5 1638.6,1185 1638.9,1185.1 1639.2,1185.7 1639.5,1184.2 1639.8,1185.3 1640.1,1185.6 1640.4,1185.1 1640.7,1185.7 1641,1186.5 1641.3,1186.3 1641.6,1185.9 1641.9,1185.6 1642.2,1185.6 1642.5,1186.5 1642.8,1185.8 1643.1,1186.6 1643.4,1185.9 1643.7,1185.9 1644,1186.6 1644.3,1186.3 1644.6,1186.4 1644.9,1186.2 1645.2,1187.2 1645.5,1186.1 1645.8,1186.5 1646.1,1186.5 1646.4,1186.3 1646.7,1187 1647,1186.5 1647.3,1187 1647.6,1186.5 1647.9,1186.6 1648.2,1186.9 1648.5,1187.5 1648.8,1187.5 1649.1,1186.8 1649.4,1187.2 1649.7,1186.9 1650,1188.2 1650.3,1187.5 1650.6,1187.1 1650.9,1187 1651.2,1188 1651.5,1187.4 1651.8,1186.8 1652.1,1187.5 1652.4,1187 1652.7,1187.5 1653,1187.5 1653.3,1188.7 1653.6,1187.1 1653.9,1188.4 1654.2,1187.8 1654.5,1188.2 1654.8,1189.1 1655.1,1187.5 1655.4,1188.3 1655.7,1188.1 1656,1188.5 1656.3,1188.8 1656.6,1188.2 1656.9,1188.6 1657.2,1189.4 1657.5,1189 1657.8,1188.7 1658.1,1189.6 1658.4,1188.5 1658.7,1188.6 1659,1188.6 1659.3,1189 1659.6,1189.7 1659.9,1189 1660.2,1188.4 1660.5,1189.8 1660.8,1189.9 1661.1,1189.7 1661.4,1189.4 1661.7,1189.5 1662,1190.6 1662.3,1189.4 1662.6,1189.6 1662.9,1189.1 1663.2,1189.8 1663.5,1190 1663.8,1189.8 1664.1,1189.7 1664.4,1190.2 1664.7,1190.6 1665,1190.1 1665.3,1191.3 1665.6,1191.1 1665.9,1190.6 1666.2,1190.4 1666.5,1191.2 1666.8,1190 1667.1,1189.7 1667.4,1190.5 1667.7,1190.9 1668,1190.5 1668.3,1192 1668.6,1191 1668.9,1190.4 1669.2,1191.3 1669.5,1191.3 1669.8,1190.9 1670.1,1191.4 1670.4,1191.1 1670.7,1192.3 1671,1191.2 1671.3,1190.9 1671.6,1190.9 1671.9,1192.2 1672.2,1191.4 1672.5,1192.6 1672.8,1192.8 1673.1,1192.9 1673.4,1191.6 1673.7,1192.8 1674,1192.3 1674.3,1191.8 1674.6,1191.7 1674.9,1191.6 1675.2,1191.9 1675.5,1193 1675.8,1191.1 1676.1,1192.6 1676.4,1192.1 1676.7,1191.7 1677,1191.8 1677.3,1192 1677.6,1193.1 1677.9,1193 1678.2,1192.8 1678.5,1192.3 1678.8,1192.1 1679.1,1192.4 1679.4,1192.9 1679.7,1193.8 1680,1193.4 1680.3,1192.4 1680.6,1192.3 1680.9,1193.8 1681.2,1192.8 1681.5,1193.4 1681.8,1192.9 1682.1,1192.8 1682.4,1193.3 1682.7,1192.3 1683,1192.2 1683.3,1192.6 1683.6,1193.4 1683.9,1192.9 1684.2,1193 1684.5,1193.6 1684.8,1193.5 1685.1,1192.8 1685.4,1193.2 1685.7,1193.1 1686,1193.2 1686.3,1193.3 1686.6,1193 1686.9,1194 1687.2,1193.7 1687.5,1192.9 1687.8,1193.2 1688.1,1193 1688.4,1193.1 1688.7,1193.2 1689,1194.4 1689.3,1193.7 1689.6,1193.7 1689.9,1193 1690.2,1192.7 1690.5,1194.6 1690.8,1193.3 1691.1,1193.7 1691.4,1193.1 1691.7,1193.5 1692,1193.5 1692.3,1194.2 1692.6,1193.5 1692.9,1193.3 1693.2,1192.9 1693.5,1194 1693.8,1193.8 1694.1,1193.5 1694.4,1193.8 1694.7,1193.5 1695,1193.6 1695.3,1193.2 1695.6,1192.7 1695.9,1193.7 1696.2,1193.7 1696.5,1193.7 1696.8,1193.3 1697.1,1193.8 1697.4,1193.8 1697.7,1192.9 1698,1193.8 1698.3,1193.8 1698.6,1193.8 1698.9,1193.4 1699.2,1193.6 1699.5,1194.5 1699.8,1193.1 1700.1,1193.8 1700.4,1193.7 1700.7,1194.1 1701,1193 1701.3,1192.9 1701.6,1194.3 1701.9,1193.1 1702.2,1194.3 1702.5,1193.7 1702.8,1194.7 1703.1,1193.5 1703.4,1193.7 1703.7,1194.1 1704,1193.9 1704.3,1194.4 1704.6,1194 1704.9,1194 1705.2,1193.2 1705.5,1194.2 1705.8,1192.3 1706.1,1193.3 1706.4,1194.7 1706.7,1193.6 1707,1194.4 1707.3,1193.1 1707.6,1194 1707.9,1193.3 1708.2,1193.4 1708.5,1194.7 1708.8,1193.9 1709.1,1194.1 1709.4,1194 1709.7,1194 1710,1193.8 1710.3,1193.6 1710.6,1193.4 1710.9,1193 1711.2,1193.6 1711.5,1193 1711.8,1193.8 1712.1,1193.5 1712.4,1193.3 1712.7,1193.4 1713,1193.5 1713.3,1194 1713.6,1192.8 1713.9,1192.8 1714.6,1192.8" fill="none" stroke="#ff0000" stroke-width="3.2" stroke-linejoin="round" stroke-linecap="butt" clip-path="url(#clip_d)"/>
<polyline points="1043.5,1195.1 1044,1195.1 1044.3,1194.4 1044.6,1194.8 1044.9,1195.2 1045.2,1194.5 1045.5,1193.9 1045.8,1194.2 1046.1,1195.5 1046.4,1195.6 1046.7,1195.2 1047,1195.2 1047.3,1195.6 1047.6,1194.3 1047.9,1194.4 1048.2,1194.1 1048.5,1194.9 1048.8,1194.9 1049.1,1195.2 1049.4,1194.3 1049.7,1195.2 1050,1195 1050.3,1194.9 1050.6,1195 1050.9,1195.4 1051.2,1194.1 1051.5,1195.2 1051.8,1195 1052.1,1195.1 1052.4,1195.8 1052.7,1194.4 1053,1195 1053.3,1194.9 1053.6,1195 1053.9,1195.3 1054.2,1195.2 1054.5,1194.9 1054.8,1195.2 1055.1,1195.2 1055.4,1195.1 1055.7,1194.7 1056,1195.4 1056.3,1194.9 1056.6,1194.8 1056.9,1194.7 1057.2,1194.7 1057.5,1195.9 1057.8,1195.3 1058.1,1194.9 1058.4,1194.9 1058.7,1195.1 1059,1195.1 1059.3,1195.4 1059.6,1194.3 1059.9,1194.9 1060.2,1194.8 1060.5,1195.2 1060.8,1194.5 1061.1,1194.8 1061.4,1194.2 1061.7,1196 1062,1194.8 1062.3,1194.9 1062.6,1196.1 1062.9,1194.6 1063.2,1193.9 1063.5,1195.8 1063.8,1195.7 1064.1,1195.6 1064.4,1195.4 1064.7,1195.7 1065,1194.4 1065.3,1193.8 1065.6,1194.7 1065.9,1195.5 1066.2,1195.1 1066.5,1194.8 1066.8,1195.1 1067.1,1195.4 1067.4,1195 1067.7,1195 1068,1195.3 1068.3,1194.9 1068.6,1194.5 1068.9,1194.4 1069.2,1194.8 1069.5,1194.8 1069.8,1195.3 1070.1,1195.2 1070.4,1194.9 1070.7,1194.9 1071,1195.5 1071.3,1195.1 1071.6,1195.4 1071.9,1194.7 1072.2,1195.1 1072.5,1194.8 1072.8,1194.5 1073.1,1194.1 1073.4,1195 1073.7,1195.3 1074,1195.4 1074.3,1195 1074.6,1194.8 1074.9,1194.3 1075.2,1194.9 1075.5,1194.5 1075.8,1194.5 1076.1,1194.3 1076.4,1194.7 1076.7,1194.7 1077,1194.2 1077.3,1195 1077.6,1194.8 1077.9,1195.4 1078.2,1195.3 1078.5,1194.8 1078.8,1195.4 1079.1,1194.5 1079.4,1193.8 1079.7,1194.7 1080,1194.6 1080.3,1194.2 1080.6,1194.1 1080.9,1195.4 1081.2,1194.3 1081.5,1194.5 1081.8,1194.6 1082.1,1195 1082.4,1195 1082.7,1195.4 1083,1193.9 1083.3,1194.6 1083.6,1194.3 1083.9,1194.9 1084.2,1194.4 1084.5,1194.6 1084.8,1195.4 1085.1,1194.6 1085.4,1194.6 1085.7,1195.3 1086,1195.4 1086.3,1193.7 1086.6,1194.4 1086.9,1193.8 1087.2,1194.9 1087.5,1194.3 1087.8,1194.2 1088.1,1195 1088.4,1195.3 1088.7,1194.9 1089,1193.9 1089.3,1194.4 1089.6,1194 1089.9,1195.8 1090.2,1194.6 1090.5,1194.1 1090.8,1194.7 1091.1,1195.5 1091.4,1193.8 1091.7,1193.3 1092,1193.8 1092.3,1193.8 1092.6,1193.6 1092.9,1194.1 1093.2,1192.1 1093.5,1192.9 1093.8,1192 1094.1,1191.3 1094.4,1191.8 1094.7,1191.7 1095,1191.1 1095.3,1190.2 1095.6,1190.2 1095.9,1189.1 1096.2,1189 1096.5,1188 1096.8,1187.5 1097.1,1186.6 1097.4,1187.3 1097.7,1187.4 1098,1188 1098.3,1187.7 1098.6,1187 1098.9,1188.2 1099.2,1188 1099.5,1188.1 1099.8,1187.4 1100.1,1187.8 1100.4,1187.9 1100.7,1187.7 1101,1188.2 1101.3,1187.5 1101.6,1187.7 1101.9,1188.9 1102.2,1188 1102.5,1189.7 1102.8,1188.8 1103.1,1188.6 1103.4,1189.5 1103.7,1188.6 1104,1189.8 1104.3,1188.8 1104.6,1190.1 1104.9,1189.3 1105.2,1189.3 1105.5,1190.6 1105.8,1190.5 1106.1,1189.7 1106.4,1189.9 1106.7,1189.3 1107,1189.8 1107.3,1190.3 1107.6,1189.8 1107.9,1189.8 1108.2,1189.2 1108.5,1190.3 1108.8,1189.6 1109.1,1190.4 1109.4,1190.7 1109.7,1189.9 1110,1189.7 1110.3,1189.9 1110.6,1190 1110.9,1189.5 1111.2,1189.7 1111.5,1188.8 1111.8,1190.2 1112.1,1189.7 1112.4,1190.7 1112.7,1189.7 1113,1190.1 1113.3,1190.1 1113.6,1190 1113.9,1190.7 1114.2,1190 1114.5,1190 1114.8,1190.2 1115.1,1189.9 1115.4,1190.3 1115.7,1189.5 1116,1190.3 1116.3,1189.1 1116.6,1189.8 1116.9,1189.4 1117.2,1189.5 1117.5,1189.8 1117.8,1189.8 1118.1,1189.9 1118.4,1189 1118.7,1190.5 1119,1189.7 1119.3,1189.5 1119.6,1189.3 1119.9,1190.1 1120.2,1189 1120.5,1189.5 1120.8,1189.7 1121.1,1189.2 1121.4,1189 1121.7,1188.9 1122,1189.7 1122.3,1189.4 1122.6,1189.9 1122.9,1189.8 1123.2,1189.9 1123.5,1188.4 1123.8,1189.6 1124.1,1188.6 1124.4,1188.6 1124.7,1188.6 1125,1188.9 1125.3,1189.6 1125.6,1189.3 1125.9,1189.4 1126.2,1188.1 1126.5,1189.9 1126.8,1189.1 1127.1,1189.5 1127.4,1189 1127.7,1188.9 1128,1188.1 1128.3,1188.7 1128.6,1187.2 1128.9,1188.4 1129.2,1187.9 1129.5,1188.7 1129.8,1188.7 1130.1,1188.2 1130.4,1188.4 1130.7,1188 1131,1188.9 1131.3,1187.6 1131.6,1188.3 1131.9,1187.1 1132.2,1188.2 1132.5,1188 1132.8,1187.7 1133.1,1187.9 1133.4,1188.1 1133.7,1187.5 1134,1187.7 1134.3,1188.4 1134.6,1188.3 1134.9,1188.1 1135.2,1187 1135.5,1187.9 1135.8,1187.4 1136.1,1187.1 1136.4,1187.2 1136.7,1187.6 1137,1186.9 1137.3,1186.6 1137.6,1186.6 1137.9,1187 1138.2,1186.4 1138.5,1186.5 1138.8,1186.7 1139.1,1186.6 1139.4,1185.4 1139.7,1186.1 1140,1186.5 1140.3,1186.8 1140.6,1186.4 1140.9,1186 1141.2,1185.7 1141.5,1186.1 1141.8,1186.4 1142.1,1186.5 1142.4,1186.3 1142.7,1185.3 1143,1185.9 1143.3,1186.6 1143.6,1186.2 1143.9,1185.8 1144.2,1185.7 1144.5,1185.4 1144.8,1185.7 1145.1,1185.9 1145.4,1184.9 1145.7,1185.2 1146,1185.3 1146.3,1184.8 1146.6,1185.1 1146.9,1185.2 1147.2,1185.3 1147.5,1185.6 1147.8,1185.5 1148.1,1185.2 1148.4,1185.4 1148.7,1184.7 1149,1185.4 1149.3,1184.6 1149.6,1185.8 1149.9,1184.6 1150.2,1184.9 1150.5,1184.7 1150.8,1184.7 1151.1,1184.6 1151.4,1184.3 1151.7,1184.3 1152,1185 1152.3,1185 1152.6,1184.3 1152.9,1185 1153.2,1184.2 1153.5,1184.2 1153.8,1183.8 1154.1,1184.4 1154.4,1185.3 1154.7,1183.5 1155,1184 1155.3,1184.5 1155.6,1183.5 1155.9,1184 1156.2,1184.9 1156.5,1183.4 1156.8,1184.2 1157.1,1184.6 1157.4,1184.2 1157.7,1182.6 1158,1183.4 1158.3,1183.5 1158.6,1183.3 1158.9,1183 1159.2,1183.2 1159.5,1182.9 1159.8,1182.9 1160.1,1183 1160.4,1182.7 1160.7,1182.7 1161,1183.9 1161.3,1183.2 1161.6,1182.8 1161.9,1181.9 1162.2,1182.3 1162.5,1183 1162.8,1182.2 1163.1,1182.3 1163.4,1182.3 1163.7,1182.1 1164,1182.5 1164.3,1182.6 1164.6,1181.4 1164.9,1182.1 1165.2,1181.9 1165.5,1181.3 1165.8,1180.9 1166.1,1182.3 1166.4,1181.2 1166.7,1181.6 1167,1181.9 1167.3,1182.5 1167.6,1182.5 1167.9,1181.9 1168.2,1180.6 1168.5,1179.8 1168.8,1181.8 1169.1,1180.9 1169.4,1181.1 1169.7,1180.8 1170,1180.9 1170.3,1182.4 1170.6,1180.5 1170.9,1181.6 1171.2,1181.3 1171.5,1181 1171.8,1181.4 1172.1,1180.3 1172.4,1180.9 1172.7,1180.1 1173,1181.2 1173.3,1181.3 1173.6,1180 1173.9,1180.6 1174.2,1181.2 1174.5,1180.5 1174.8,1180.3 1175.1,1179.7 1175.4,1181.6 1175.7,1181.3 1176,1179.2 1176.3,1181 1176.6,1180.6 1176.9,1179.9 1177.2,1179.5 1177.5,1179.7 1177.8,1180 1178.1,1179.6 1178.4,1180.1 1178.7,1180.3 1179,1179 1179.3,1180.9 1179.6,1179.1 1179.9,1180.1 1180.2,1179.9 1180.5,1179.5 1180.8,1178.4 1181.1,1180.1 1181.4,1178.6 1181.7,1179.8 1182,1179.3 1182.3,1177.5 1182.6,1179.3 1182.9,1179.1 1183.2,1179 1183.5,1178.3 1183.8,1178.9 1184.1,1179.3 1184.4,1178.5 1184.7,1179 1185,1178.5 1185.3,1177.2 1185.6,1177.9 1185.9,1177.4 1186.2,1177.1 1186.5,1177.4 1186.8,1177.5 1187.1,1178.5 1187.4,1178.4 1187.7,1176.6 1188,1176.4 1188.3,1177.1 1188.6,1177.8 1188.9,1176.8 1189.2,1176.5 1189.5,1177 1189.8,1177.7 1190.1,1177.1 1190.4,1177.2 1190.7,1176.4 1191,1176.7 1191.3,1175.1 1191.6,1176.7 1191.9,1176.2 1192.2,1175.1 1192.5,1175.3 1192.8,1175.6 1193.1,1175.5 1193.4,1174.6 1193.7,1174.6 1194,1174.1 1194.3,1173 1194.6,1174.4 1194.9,1173.1 1195.2,1173.4 1195.5,1172 1195.8,1172.7 1196.1,1172.8 1196.4,1172.3 1196.7,1172.4 1197,1171.7 1197.3,1170.5 1197.6,1171.2 1197.9,1170.7 1198.2,1170 1198.5,1169.3 1198.8,1169.2 1199.1,1168.9 1199.4,1169 1199.7,1169.2 1200,1167.9 1200.3,1168.1 1200.6,1167 1200.9,1166.4 1201.2,1166.3 1201.5,1165.4 1201.8,1166 1202.1,1164.1 1202.4,1164.4 1202.7,1162.8 1203,1164.7 1203.3,1163 1203.6,1163.3 1203.9,1163.4 1204.2,1162.3 1204.5,1161.9 1204.8,1161.4 1205.1,1160 1205.4,1159.9 1205.7,1158.8 1206,1158.8 1206.3,1158.2 1206.6,1158.3 1206.9,1156 1207.2,1156.9 1207.5,1155.4 1207.8,1155.1 1208.1,1153.8 1208.4,1154.1 1208.7,1153.6 1209,1151.9 1209.3,1151.8 1209.6,1152.1 1209.9,1151 1210.2,1150 1210.5,1149.5 1210.8,1149.3 1211.1,1148.3 1211.4,1148.4 1211.7,1146.6 1212,1145.7 1212.3,1146.2 1212.6,1145.4 1212.9,1143.8 1213.2,1144.4 1213.5,1143.1 1213.8,1141.5 1214.1,1140.2 1214.4,1141.3 1214.7,1138.5 1215,1139.5 1215.3,1138.5 1215.6,1138.8 1215.9,1138 1216.2,1136.9 1216.5,1137 1216.8,1135.8 1217.1,1135.9 1217.4,1135 1217.7,1134.3 1218,1133.9 1218.3,1133.7 1218.6,1131.8 1218.9,1131.8 1219.2,1132.3 1219.5,1131 1219.8,1131.8 1220.1,1129.6 1220.4,1128.7 1220.7,1129.9 1221,1129.2 1221.3,1128.7 1221.6,1128.3 1221.9,1126.9 1222.2,1127.3 1222.5,1127.3 1222.8,1125.7 1223.1,1125.6 1223.4,1124.4 1223.7,1124.7 1224,1123.4 1224.3,1122.9 1224.6,1123.5 1224.9,1121.9 1225.2,1121.6 1225.5,1122 1225.8,1120.9 1226.1,1120.2 1226.4,1119.7 1226.7,1119.9 1227,1117.6 1227.3,1117.6 1227.6,1117.3 1227.9,1117.5 1228.2,1118.2 1228.5,1117.1 1228.8,1116.6 1229.1,1116.1 1229.4,1114.8 1229.7,1114.3 1230,1114.7 1230.3,1114.1 1230.6,1114.4 1230.9,1113.1 1231.2,1112.4 1231.5,1110.9 1231.8,1110.2 1232.1,1108.1 1232.4,1109.1 1232.7,1108.3 1233,1108.1 1233.3,1108 1233.6,1106.6 1233.9,1105.1 1234.2,1105.5 1234.5,1104.5 1234.8,1102.2 1235.1,1102.5 1235.4,1102.8 1235.7,1101.7 1236,1101.1 1236.3,1100.6 1236.6,1098.9 1236.9,1099.9 1237.2,1098 1237.5,1097.8 1237.8,1097 1238.1,1096.1 1238.4,1095.2 1238.7,1096.6 1239,1093.7 1239.3,1093.7 1239.6,1092.5 1239.9,1091.5 1240.2,1091 1240.5,1090.4 1240.8,1089.4 1241.1,1090.3 1241.4,1088.6 1241.7,1087.1 1242,1087.3 1242.3,1086.1 1242.6,1086.1 1242.9,1085.7 1243.2,1084.4 1243.5,1084.9 1243.8,1083.5 1244.1,1082.8 1244.4,1081.5 1244.7,1081.8 1245,1079.6 1245.3,1080.6 1245.6,1079.5 1245.9,1079.5 1246.2,1077.1 1246.5,1077.1 1246.8,1076.9 1247.1,1075.3 1247.4,1073.5 1247.7,1074 1248,1073.8 1248.3,1073.2 1248.6,1072.3 1248.9,1071 1249.2,1069.5 1249.5,1069.8 1249.8,1070 1250.1,1068.6 1250.4,1067.6 1250.7,1067.3 1251,1066.6 1251.3,1065.3 1251.6,1063.4 1251.9,1062.6 1252.2,1061.3 1252.5,1061.7 1252.8,1061.3 1253.1,1059.7 1253.4,1059 1253.7,1058.7 1254,1057.4 1254.3,1056.3 1254.6,1055.3 1254.9,1055 1255.2,1054.2 1255.5,1052.4 1255.8,1051.5 1256.1,1052.6 1256.4,1051.7 1256.7,1047.8 1257,1048 1257.3,1045.9 1257.6,1043.7 1257.9,1043.1 1258.2,1041.3 1258.5,1039.3 1258.8,1038.8 1259.1,1037.5 1259.4,1036.6 1259.7,1032 1260,1032 1260.3,1030.8 1260.6,1029.6 1260.9,1028.2 1261.2,1028.7 1261.5,1025.6 1261.8,1024.9 1262.1,1025.1 1262.4,1025.3 1262.7,1021.3 1263,1023.4 1263.3,1021.6 1263.6,1019.8 1263.9,1021.2 1264.2,1019.7 1264.5,1017.9 1264.8,1018.2 1265.1,1016 1265.4,1016.8 1265.7,1015.2 1266,1013.8 1266.3,1011.6 1266.6,1011.5 1266.9,1011 1267.2,1010.7 1267.5,1010.2 1267.8,1008.7 1268.1,1008.7 1268.4,1007.5 1268.7,1007.4 1269,1006.1 1269.3,1003.8 1269.6,1003.6 1269.9,1003 1270.2,1002.6 1270.5,1001.3 1270.8,1001.3 1271.1,998.4 1271.4,997.7 1271.7,998.9 1272,998 1272.3,994.7 1272.6,995.4 1272.9,993.7 1273.2,994.2 1273.5,994 1273.8,993.3 1274.1,992.1 1274.4,992.3 1274.7,990.7 1275,991.4 1275.3,987.8 1275.6,987.9 1275.9,987.8 1276.2,987.2 1276.5,987.3 1276.8,984.6 1277.1,984.4 1277.4,982.6 1277.7,982.5 1278,983.2 1278.3,979.5 1278.6,980.8 1278.9,978.5 1279.2,977.7 1279.5,976.3 1279.8,975.7 1280.1,974.6 1280.4,975 1280.7,974.6 1281,971.9 1281.3,972 1281.6,970.1 1281.9,969.9 1282.2,968.6 1282.5,968 1282.8,965.9 1283.1,965 1283.4,963 1283.7,963 1284,960.9 1284.3,961.9 1284.6,958.4 1284.9,957.8 1285.2,957.5 1285.5,956.5 1285.8,955.2 1286.1,953.4 1286.4,952.1 1286.7,951.2 1287,950.6 1287.3,950.3 1287.6,947.6 1287.9,947.4 1288.2,945.6 1288.5,944.4 1288.8,944.7 1289.1,943.4 1289.4,943 1289.7,941.3 1290,940.1 1290.3,940.7 1290.6,937.5 1290.9,938.2 1291.2,936.8 1291.5,936.8 1291.8,936.2 1292.1,934.4 1292.4,934.1 1292.7,933.5 1293,932.1 1293.3,931.7 1293.6,932 1293.9,929.6 1294.2,928.8 1294.5,928.6 1294.8,928.4 1295.1,926.8 1295.4,925.3 1295.7,925.4 1296,923.1 1296.3,924.5 1296.6,921.7 1296.9,922.5 1297.2,920.9 1297.5,919.6 1297.8,920 1298.1,919.2 1298.4,918.7 1298.7,917.2 1299,914.8 1299.3,915.4 1299.6,914.2 1299.9,913.8 1300.2,911.9 1300.5,912.1 1300.8,911.9 1301.1,911.4 1301.4,910.7 1301.7,910.5 1302,907.2 1302.3,908.8 1302.6,907.4 1302.9,907 1303.2,904.4 1303.5,904.8 1303.8,904 1304.1,904.2 1304.4,901.5 1304.7,902.6 1305,902 1305.3,901.8 1305.6,898.7 1305.9,900.6 1306.2,897.6 1306.5,898.5 1306.8,896.8 1307.1,896.5 1307.4,897.8 1307.7,892.5 1308,893.3 1308.3,892.8 1308.6,892.3 1308.9,890.1 1309.2,890.8 1309.5,890 1309.8,889.1 1310.1,888.2 1310.4,887 1310.7,887.2 1311,886.2 1311.3,885.5 1311.6,885.5 1311.9,883.4 1312.2,884.5 1312.5,882.1 1312.8,883.1 1313.1,879.5 1313.4,879.5 1313.7,879.7 1314,879.7 1314.3,877.7 1314.6,876.5 1314.9,875.9 1315.2,875.7 1315.5,874.7 1315.8,872.8 1316.1,871.2 1316.4,873 1316.7,870.6 1317,869.5 1317.3,869.5 1317.6,870.3 1317.9,868.7 1318.2,867.9 1318.5,868.6 1318.8,866.8 1319.1,863.8 1319.4,864.4 1319.7,864.8 1320,865.2 1320.3,862.4 1320.6,861.6 1320.9,860.2 1321.2,861.5 1321.5,859.9 1321.8,858.7 1322.1,859.3 1322.4,858.2 1322.7,859.3 1323,857.5 1323.3,857.6 1323.6,857.9 1323.9,855.9 1324.2,857.6 1324.5,855.3 1324.8,854.8 1325.1,854.8 1325.4,853.4 1325.7,853.4 1326,853.6 1326.3,851.5 1326.6,852.9 1326.9,851.2 1327.2,850.9 1327.5,849.5 1327.8,849.1 1328.1,848.9 1328.4,848 1328.7,847.1 1329,846.1 1329.3,846.9 1329.6,844.4 1329.9,844.9 1330.2,843.4 1330.5,844.5 1330.8,844.3 1331.1,843.4 1331.4,842.9 1331.7,841 1332,842.1 1332.3,840.9 1332.6,840.1 1332.9,838.4 1333.2,838 1333.5,836 1333.8,836.6 1334.1,836.7 1334.4,835 1334.7,834.3 1335,833.9 1335.3,833.8 1335.6,833.5 1335.9,830.8 1336.2,830.6 1336.5,830 1336.8,829 1337.1,829.6 1337.4,827.2 1337.7,827.7 1338,826.3 1338.3,824.9 1338.6,824.7 1338.9,823.6 1339.2,823.6 1339.5,823.1 1339.8,824.7 1340.1,821.4 1340.4,820.5 1340.7,821.4 1341,819.6 1341.3,818.5 1341.6,818.2 1341.9,819.1 1342.2,818.3 1342.5,816.6 1342.8,815.1 1343.1,815.3 1343.4,813 1343.7,814 1344,810.9 1344.3,812.7 1344.6,811.2 1344.9,810.3 1345.2,810.6 1345.5,809.7 1345.8,810.7 1346.1,807.6 1346.4,807.9 1346.7,806.9 1347,806.2 1347.3,807.6 1347.6,805.9 1347.9,806.2 1348.2,803.6 1348.5,803.9 1348.8,803.6 1349.1,801.8 1349.4,803.6 1349.7,803 1350,801.5 1350.3,799.5 1350.6,800.4 1350.9,800.3 1351.2,799.5 1351.5,799.7 1351.8,797.6 1352.1,799 1352.4,799.1 1352.7,798.6 1353,797.4 1353.3,797 1353.6,795.4 1353.9,795.1 1354.2,796.1 1354.5,796.6 1354.8,797.1 1355.1,796.5 1355.4,794.5 1355.7,795.5 1356,795.2 1356.3,796 1356.6,795.9 1356.9,797.2 1357.2,795.8 1357.5,795.9 1357.8,797 1358.1,796.5 1358.4,795.4 1358.7,796.6 1359,796.5 1359.3,796.6 1359.6,795.5 1359.9,794.8 1360.2,795.6 1360.5,797.7 1360.8,796.2 1361.1,796.5 1361.4,796.3 1361.7,796.4 1362,796.5 1362.3,796.9 1362.6,796.7 1362.9,798.4 1363.2,796.3 1363.5,797.3 1363.8,797.5 1364.1,795.4 1364.4,798 1364.7,797.7 1365,798 1365.3,798.6 1365.6,800.1 1365.9,799.4 1366.2,800.2 1366.5,798.3 1366.8,800.1 1367.1,800.8 1367.4,801.6 1367.7,801.1 1368,801.3 1368.3,802.2 1368.6,804.2 1368.9,803.1 1369.2,802.2 1369.5,803.6 1369.8,804.9 1370.1,804.6 1370.4,805.5 1370.7,803.3 1371,805.8 1371.3,806.3 1371.6,807.3 1371.9,807.4 1372.2,805.4 1372.5,808.8 1372.8,808.6 1373.1,808.4 1373.4,809.4 1373.7,811 1374,811.4 1374.3,811.1 1374.6,812.4 1374.9,814 1375.2,811.7 1375.5,814.6 1375.8,813.4 1376.1,814.5 1376.4,814.9 1376.7,813.6 1377,815.1 1377.3,818 1377.6,817.5 1377.9,816.5 1378.2,817.3 1378.5,818.2 1378.8,818.2 1379.1,816.5 1379.4,819.5 1379.7,819.6 1380,821.3 1380.3,819.2 1380.6,821.8 1380.9,821.6 1381.2,821.9 1381.5,823.7 1381.8,823.3 1382.1,823.7 1382.4,824.7 1382.7,824.3 1383,827.4 1383.3,825.7 1383.6,826.9 1383.9,825.3 1384.2,827.1 1384.5,826.5 1384.8,827.2 1385.1,828.5 1385.4,828 1385.7,829.7 1386,830.7 1386.3,830.8 1386.6,831.6 1386.9,831.7 1387.2,833.3 1387.5,835.1 1387.8,834.4 1388.1,836.5 1388.4,836.9 1388.7,838.6 1389,837.9 1389.3,839.4 1389.6,841.3 1389.9,840.5 1390.2,842.1 1390.5,843.7 1390.8,842.5 1391.1,843.6 1391.4,843.4 1391.7,841.8 1392,845 1392.3,845.5 1392.6,845 1392.9,845.3 1393.2,846.8 1393.5,847.2 1393.8,846.5 1394.1,847.8 1394.4,848.8 1394.7,848.3 1395,849.9 1395.3,850.2 1395.6,850.3 1395.9,851.5 1396.2,852.4 1396.5,851.3 1396.8,851.9 1397.1,852.7 1397.4,855 1397.7,853.9 1398,854.6 1398.3,856.5 1398.6,854 1398.9,855.3 1399.2,854.9 1399.5,857.2 1399.8,858 1400.1,859.1 1400.4,858.2 1400.7,859.5 1401,858.6 1401.3,859.1 1401.6,859.6 1401.9,860.1 1402.2,861.5 1402.5,861.7 1402.8,862.7 1403.1,862.4 1403.4,865 1403.7,866 1404,864.6 1404.3,866.2 1404.6,865.9 1404.9,864 1405.2,866.3 1405.5,867.6 1405.8,867.3 1406.1,868.7 1406.4,867.7 1406.7,870.4 1407,868.6 1407.3,870.9 1407.6,869.7 1407.9,870.9 1408.2,872.6 1408.5,870.8 1408.8,872.2 1409.1,873.8 1409.4,875.5 1409.7,873.6 1410,874.8 1410.3,876.4 1410.6,875.4 1410.9,876.4 1411.2,876.7 1411.5,876.8 1411.8,879.8 1412.1,880 1412.4,880.6 1412.7,879.3 1413,881.6 1413.3,882 1413.6,882.9 1413.9,881.2 1414.2,884.1 1414.5,885.5 1414.8,884.8 1415.1,885.1 1415.4,885.4 1415.7,887 1416,887.8 1416.3,888.2 1416.6,887.1 1416.9,888.3 1417.2,889.2 1417.5,889 1417.8,890.6 1418.1,889.4 1418.4,891.8 1418.7,892.9 1419,894.3 1419.3,893.8 1419.6,894.2 1419.9,895 1420.2,895.3 1420.5,897.6 1420.8,896.6 1421.1,897.8 1421.4,898.5 1421.7,899 1422,901 1422.3,901.1 1422.6,901.6 1422.9,900.6 1423.2,903.6 1423.5,902.6 1423.8,903.8 1424.1,906 1424.4,905.9 1424.7,906.3 1425,908 1425.3,907.1 1425.6,907.8 1425.9,911.5 1426.2,911.8 1426.5,910.3 1426.8,911.9 1427.1,912 1427.4,914.2 1427.7,913 1428,915.4 1428.3,916.9 1428.6,918.2 1428.9,919.7 1429.2,918.3 1429.5,921.3 1429.8,921.4 1430.1,921.4 1430.4,921.9 1430.7,923.3 1431,923.2 1431.3,924.3 1431.6,925.3 1431.9,925.7 1432.2,926.3 1432.5,927 1432.8,928.9 1433.1,928.7 1433.4,929 1433.7,930.5 1434,930.9 1434.3,931.2 1434.6,932.2 1434.9,933 1435.2,934.6 1435.5,936.1 1435.8,937.5 1436.1,935.8 1436.4,936.8 1436.7,937.8 1437,937.4 1437.3,938 1437.6,940 1437.9,941.7 1438.2,941 1438.5,940.6 1438.8,944.3 1439.1,943.3 1439.4,945.9 1439.7,946.4 1440,945.8 1440.3,947.8 1440.6,947.2 1440.9,948.3 1441.2,949.4 1441.5,950.7 1441.8,951.3 1442.1,951.2 1442.4,952.5 1442.7,952.3 1443,954.3 1443.3,954.8 1443.6,954.6 1443.9,956.7 1444.2,955.6 1444.5,956.9 1444.8,957.4 1445.1,958.6 1445.4,958.8 1445.7,961 1446,961.4 1446.3,962.9 1446.6,963.7 1446.9,963.2 1447.2,965.4 1447.5,965.7 1447.8,966 1448.1,967.4 1448.4,966.9 1448.7,967.9 1449,971.1 1449.3,969.5 1449.6,970.6 1449.9,970.9 1450.2,971.8 1450.5,973.1 1450.8,972.8 1451.1,973.3 1451.4,975.2 1451.7,975 1452,976 1452.3,977.3 1452.6,978.1 1452.9,976.9 1453.2,978.2 1453.5,978.5 1453.8,979.6 1454.1,979.5 1454.4,982.7 1454.7,983.1 1455,982.4 1455.3,984.4 1455.6,984.3 1455.9,983.5 1456.2,985 1456.5,986.6 1456.8,986.8 1457.1,988.2 1457.4,989.7 1457.7,989.3 1458,989.7 1458.3,989.6 1458.6,991.4 1458.9,991.7 1459.2,993.9 1459.5,992.8 1459.8,994.9 1460.1,995 1460.4,995.5 1460.7,996 1461,999.1 1461.3,998.7 1461.6,1000.2 1461.9,998.8 1462.2,1000.6 1462.5,1001.6 1462.8,1003.9 1463.1,1004.4 1463.4,1005.1 1463.7,1003.8 1464,1006 1464.3,1005.8 1464.6,1007.9 1464.9,1007.1 1465.2,1008.2 1465.5,1009.1 1465.8,1010.8 1466.1,1013.2 1466.4,1012.9 1466.7,1012 1467,1012.2 1467.3,1013.8 1467.6,1014.8 1467.9,1015.8 1468.2,1015.6 1468.5,1015.1 1468.8,1016.7 1469.1,1019 1469.4,1019.4 1469.7,1018.1 1470,1020.3 1470.3,1020 1470.6,1022.1 1470.9,1021.6 1471.2,1022.8 1471.5,1023.8 1471.8,1024 1472.1,1023.1 1472.4,1024.8 1472.7,1025.7 1473,1024.3 1473.3,1025.3 1473.6,1027.7 1473.9,1029 1474.2,1027.6 1474.5,1028.9 1474.8,1029.2 1475.1,1030.4 1475.4,1030.9 1475.7,1031.8 1476,1032.3 1476.3,1032.8 1476.6,1034.5 1476.9,1033.2 1477.2,1035.2 1477.5,1035.4 1477.8,1037.2 1478.1,1035.6 1478.4,1036.3 1478.7,1036.8 1479,1038.3 1479.3,1038.9 1479.6,1038.4 1479.9,1041.2 1480.2,1040.9 1480.5,1039.4 1480.8,1041.9 1481.1,1041.1 1481.4,1043.6 1481.7,1042.6 1482,1044.4 1482.3,1042.3 1482.6,1042.5 1482.9,1043.9 1483.2,1045.6 1483.5,1047 1483.8,1045.2 1484.1,1045.9 1484.4,1048.8 1484.7,1047.7 1485,1047.5 1485.3,1049 1485.6,1050.1 1485.9,1048.7 1486.2,1050.4 1486.5,1049.9 1486.8,1050.5 1487.1,1051.7 1487.4,1051.8 1487.7,1054 1488,1053 1488.3,1052.9 1488.6,1054.5 1488.9,1054.8 1489.2,1055.2 1489.5,1054.5 1489.8,1055.9 1490.1,1056.2 1490.4,1056.9 1490.7,1056.3 1491,1057.3 1491.3,1058.3 1491.6,1059.2 1491.9,1060.1 1492.2,1058.8 1492.5,1059.9 1492.8,1062.2 1493.1,1059.9 1493.4,1060.9 1493.7,1061.6 1494,1063.3 1494.3,1064.8 1494.6,1062.7 1494.9,1064 1495.2,1064.4 1495.5,1065.8 1495.8,1064.1 1496.1,1067.2 1496.4,1066.8 1496.7,1067.4 1497,1067.8 1497.3,1069.9 1497.6,1069.6 1497.9,1069.5 1498.2,1069.9 1498.5,1070.8 1498.8,1072.2 1499.1,1072 1499.4,1072.8 1499.7,1072.9 1500,1077.8 1500.3,1078.4 1500.6,1079.8 1500.9,1079.4 1501.2,1080.8 1501.5,1080.9 1501.8,1080.7 1502.1,1081.2 1502.4,1081.7 1502.7,1080.6 1503,1082 1503.3,1083.4 1503.6,1083.4 1503.9,1085.5 1504.2,1084.3 1504.5,1085 1504.8,1085.2 1505.1,1085.2 1505.4,1087.6 1505.7,1087.7 1506,1089.5 1506.3,1087.9 1506.6,1088.2 1506.9,1089.4 1507.2,1089.4 1507.5,1090.2 1507.8,1089.2 1508.1,1090.9 1508.4,1091 1508.7,1090.9 1509,1092 1509.3,1093.3 1509.6,1093.1 1509.9,1092.9 1510.2,1094.5 1510.5,1093.7 1510.8,1094 1511.1,1093.4 1511.4,1095.6 1511.7,1095.5 1512,1097.1 1512.3,1095.8 1512.6,1096.6 1512.9,1097.5 1513.2,1098.5 1513.5,1098 1513.8,1098.5 1514.1,1099.2 1514.4,1101 1514.7,1100.4 1515,1100.1 1515.3,1100.7 1515.6,1100.5 1515.9,1101.4 1516.2,1101.9 1516.5,1101 1516.8,1102.2 1517.1,1102.9 1517.4,1102.9 1517.7,1104.2 1518,1104.1 1518.3,1105.6 1518.6,1106.6 1518.9,1106 1519.2,1105.9 1519.5,1106.1 1519.8,1106.3 1520.1,1105.8 1520.4,1107.8 1520.7,1107 1521,1108.2 1521.3,1107.9 1521.6,1109.4 1521.9,1109 1522.2,1110.4 1522.5,1109 1522.8,1109.2 1523.1,1111.7 1523.4,1110.8 1523.7,1111.6 1524,1113.3 1524.3,1113.9 1524.6,1112.5 1524.9,1112.3 1525.2,1113.8 1525.5,1113.9 1525.8,1112.9 1526.1,1115.1 1526.4,1114.2 1526.7,1114.3 1527,1115.5 1527.3,1115.1 1527.6,1115.6 1527.9,1115.5 1528.2,1116.7 1528.5,1117.5 1528.8,1116.5 1529.1,1118.2 1529.4,1118.3 1529.7,1118 1530,1117.4 1530.3,1118.4 1530.6,1119 1530.9,1118.3 1531.2,1119.4 1531.5,1119.4 1531.8,1120.1 1532.1,1121 1532.4,1121 1532.7,1121.2 1533,1120.7 1533.3,1120.6 1533.6,1121.7 1533.9,1122.3 1534.2,1122.1 1534.5,1123.7 1534.8,1123.2 1535.1,1124.5 1535.4,1123.7 1535.7,1125.4 1536,1124.8 1536.3,1125.6 1536.6,1126.1 1536.9,1126.6 1537.2,1126.5 1537.5,1126.8 1537.8,1126.2 1538.1,1126.5 1538.4,1128.4 1538.7,1128.1 1539,1128.4 1539.3,1130.2 1539.6,1130 1539.9,1129.8 1540.2,1128.6 1540.5,1131.4 1540.8,1130.9 1541.1,1130.5 1541.4,1130.3 1541.7,1132.1 1542,1132.5 1542.3,1133.8 1542.6,1132.7 1542.9,1133.5 1543.2,1133.7 1543.5,1133.8 1543.8,1135.2 1544.1,1134.4 1544.4,1134.4 1544.7,1135.8 1545,1135.1 1545.3,1136.5 1545.6,1136.1 1545.9,1135.1 1546.2,1136.6 1546.5,1136.5 1546.8,1137.4 1547.1,1138.1 1547.4,1139.2 1547.7,1137.5 1548,1137.9 1548.3,1138.6 1548.6,1138.5 1548.9,1139 1549.2,1139.9 1549.5,1140.5 1549.8,1140 1550.1,1141 1550.4,1140.1 1550.7,1141.3 1551,1141.1 1551.3,1142.5 1551.6,1141.9 1551.9,1141.6 1552.2,1143.3 1552.5,1142.7 1552.8,1143.8 1553.1,1144.3 1553.4,1143.5 1553.7,1145.7 1554,1144.9 1554.3,1144.4 1554.6,1145 1554.9,1145.4 1555.2,1146 1555.5,1146.2 1555.8,1146.3 1556.1,1146.3 1556.4,1146.3 1556.7,1147.1 1557,1148.2 1557.3,1147.8 1557.6,1148.5 1557.9,1146.9 1558.2,1148.2 1558.5,1149.3 1558.8,1149.7 1559.1,1149.5 1559.4,1149.9 1559.7,1148.6 1560,1150 1560.3,1150.2 1560.6,1150 1560.9,1151.1 1561.2,1152 1561.5,1151.3 1561.8,1151.9 1562.1,1151.4 1562.4,1151.9 1562.7,1152.6 1563,1153.2 1563.3,1154.1 1563.6,1152.3 1563.9,1153.8 1564.2,1153.7 1564.5,1152.7 1564.8,1152.9 1565.1,1154.1 1565.4,1153.9 1565.7,1154 1566,1153.8 1566.3,1154.4 1566.6,1156 1566.9,1155.4 1567.2,1155.4 1567.5,1155.6 1567.8,1156.4 1568.1,1155.8 1568.4,1156.8 1568.7,1156 1569,1156.2 1569.3,1157.1 1569.6,1156.8 1569.9,1158.1 1570.2,1158.7 1570.5,1157.7 1570.8,1159.1 1571.1,1157.7 1571.4,1158.5 1571.7,1159.3 1572,1158.2 1572.3,1158.8 1572.6,1159.3 1572.9,1160.4 1573.2,1159.5 1573.5,1159.2 1573.8,1160.7 1574.1,1159.5 1574.4,1160.7 1574.7,1161.4 1575,1160.8 1575.3,1161.8 1575.6,1162.7 1575.9,1162.3 1576.2,1161.7 1576.5,1161.3 1576.8,1162 1577.1,1161.9 1577.4,1163.4 1577.7,1162.7 1578,1162.2 1578.3,1160.9 1578.6,1163.1 1578.9,1163.8 1579.2,1163.7 1579.5,1163.9 1579.8,1164.9 1580.1,1164.5 1580.4,1165.1 1580.7,1165.7 1581,1164.5 1581.3,1165.8 1581.6,1166.4 1581.9,1166.1 1582.2,1165.7 1582.5,1167.1 1582.8,1165.1 1583.1,1165.6 1583.4,1166.3 1583.7,1166.2 1584,1166.6 1584.3,1166.3 1584.6,1167.4 1584.9,1166.9 1585.2,1168.1 1585.5,1167 1585.8,1167.2 1586.1,1167.6 1586.4,1168.1 1586.7,1168 1587,1167.7 1587.3,1168 1587.6,1169.3 1587.9,1168.2 1588.2,1169.6 1588.5,1169 1588.8,1169.7 1589.1,1169.5 1589.4,1169.4 1589.7,1169.2 1590,1170.1 1590.3,1169 1590.6,1168.8 1590.9,1171.8 1591.2,1167.9 1591.5,1169.1 1591.8,1168.5 1592.1,1170 1592.4,1170.6 1592.7,1169.9 1593,1169.3 1593.3,1168.9 1593.6,1169.8 1593.9,1169.5 1594.2,1170.3 1594.5,1170.9 1594.8,1170.2 1595.1,1170.7 1595.4,1170.2 1595.7,1170.4 1596,1170.5 1596.3,1170.4 1596.6,1170 1596.9,1169.9 1597.2,1170.6 1597.5,1170.5 1597.8,1169.7 1598.1,1169.6 1598.4,1169.1 1598.7,1170 1599,1169.9 1599.3,1170.9 1599.6,1170.7 1599.9,1169.5 1600.2,1169.7 1600.5,1170.1 1600.8,1169.9 1601.1,1170 1601.4,1169.6 1601.7,1171 1602,1170.5 1602.3,1171.4 1602.6,1171 1602.9,1169.8 1603.2,1170.2 1603.5,1171.2 1603.8,1171.4 1604.1,1170 1604.4,1171 1604.7,1171 1605,1170.9 1605.3,1170.3 1605.6,1170.1 1605.9,1170.7 1606.2,1171.3 1606.5,1171.2 1606.8,1171.1 1607.1,1170.8 1607.4,1170.8 1607.7,1171.2 1608,1170.9 1608.3,1170.6 1608.6,1170.7 1608.9,1170.9 1609.2,1171.5 1609.5,1172.1 1609.8,1171.2 1610.1,1171.9 1610.4,1171.7 1610.7,1171.5 1611,1171.8 1611.3,1172.3 1611.6,1172.3 1611.9,1172.7 1612.2,1172.6 1612.5,1172.1 1612.8,1171.7 1613.1,1173 1613.4,1172.7 1613.7,1171.8 1614,1172.4 1614.3,1173 1614.6,1172.6 1614.9,1172.9 1615.2,1173 1615.5,1172.2 1615.8,1173.9 1616.1,1174.4 1616.4,1174.1 1616.7,1173.3 1617,1174.4 1617.3,1174.9 1617.6,1174.9 1617.9,1174.3 1618.2,1174.1 1618.5,1174.7 1618.8,1175 1619.1,1174.4 1619.4,1174.7 1619.7,1174.9 1620,1175 1620.3,1175.5 1620.6,1175.9 1620.9,1176.4 1621.2,1175.6 1621.5,1175.5 1621.8,1175.9 1622.1,1176.2 1622.4,1176.1 1622.7,1176.2 1623,1176.9 1623.3,1177.1 1623.6,1176.6 1623.9,1176.6 1624.2,1177.3 1624.5,1176.2 1624.8,1176.9 1625.1,1176.3 1625.4,1177.2 1625.7,1178.3 1626,1178.3 1626.3,1178.2 1626.6,1177.3 1626.9,1177.8 1627.2,1177.1 1627.5,1177.8 1627.8,1178.3 1628.1,1178.6 1628.4,1177.7 1628.7,1178.7 1629,1179 1629.3,1177.7 1629.6,1178 1629.9,1179 1630.2,1178.4 1630.5,1178.4 1630.8,1179 1631.1,1180.2 1631.4,1179.5 1631.7,1177.8 1632,1180.1 1632.3,1179.9 1632.6,1180.6 1632.9,1179.7 1633.2,1179.7 1633.5,1178.8 1633.8,1180.7 1634.1,1180.3 1634.4,1181.3 1634.7,1180.7 1635,1181.2 1635.3,1180.3 1635.6,1180.6 1635.9,1181.1 1636.2,1181.9 1636.5,1180.4 1636.8,1180.8 1637.1,1181.6 1637.4,1180.6 1637.7,1181.8 1638,1180.7 1638.3,1181.3 1638.6,1181.5 1638.9,1181.6 1639.2,1181.9 1639.5,1181.4 1639.8,1182.1 1640.1,1181.8 1640.4,1181.4 1640.7,1181.7 1641,1181.3 1641.3,1182.3 1641.6,1182.6 1641.9,1181.9 1642.2,1181.6 1642.5,1182.5 1642.8,1182.7 1643.1,1183.3 1643.4,1183 1643.7,1183.2 1644,1184.2 1644.3,1182.7 1644.6,1183.2 1644.9,1183.4 1645.2,1184.1 1645.5,1184.1 1645.8,1183.8 1646.1,1184.5 1646.4,1184.2 1646.7,1184.3 1647,1184.3 1647.3,1183.1 1647.6,1184.1 1647.9,1186.1 1648.2,1184.9 1648.5,1184.2 1648.8,1184.4 1649.1,1184.3 1649.4,1184.5 1649.7,1185.4 1650,1184.5 1650.3,1185 1650.6,1184.6 1650.9,1185 1651.2,1185 1651.5,1185.4 1651.8,1185.9 1652.1,1184.7 1652.4,1184.8 1652.7,1186 1653,1184.7 1653.3,1185.4 1653.6,1184.9 1653.9,1185.6 1654.2,1185 1654.5,1185.6 1654.8,1185.3 1655.1,1186.6 1655.4,1186.4 1655.7,1185.2 1656,1185.5 1656.3,1186.1 1656.6,1186 1656.9,1185.6 1657.2,1185.1 1657.5,1185.1 1657.8,1186.5 1658.1,1186.4 1658.4,1185.9 1658.7,1185.6 1659,1185.9 1659.3,1185.6 1659.6,1186.3 1659.9,1185.9 1660.2,1186.9 1660.5,1186.2 1660.8,1187.1 1661.1,1186.7 1661.4,1186.4 1661.7,1186.3 1662,1186.8 1662.3,1187.2 1662.6,1187.4 1662.9,1186.5 1663.2,1186.5 1663.5,1187.4 1663.8,1188.1 1664.1,1186.8 1664.4,1187 1664.7,1186.5 1665,1188 1665.3,1187.4 1665.6,1187.7 1665.9,1188.2 1666.2,1187.6 1666.5,1188.3 1666.8,1188.2 1667.1,1188.1 1667.4,1188 1667.7,1187.7 1668,1187.7 1668.3,1187.9 1668.6,1188.3 1668.9,1188 1669.2,1189 1669.5,1188.1 1669.8,1187.9 1670.1,1189 1670.4,1188.4 1670.7,1188.2 1671,1189.1 1671.3,1188.9 1671.6,1189.4 1671.9,1189.7 1672.2,1189.4 1672.5,1189.1 1672.8,1189 1673.1,1188.7 1673.4,1189 1673.7,1188.9 1674,1189.8 1674.3,1188.8 1674.6,1189.1 1674.9,1188.3 1675.2,1189.7 1675.5,1190.6 1675.8,1189.2 1676.1,1189.9 1676.4,1190.1 1676.7,1190.3 1677,1190.7 1677.3,1190.1 1677.6,1189.6 1677.9,1190.6 1678.2,1189.6 1678.5,1190.3 1678.8,1190 1679.1,1189.8 1679.4,1189.8 1679.7,1190.9 1680,1190.2 1680.3,1190.3 1680.6,1189.9 1680.9,1190.2 1681.2,1190.5 1681.5,1190.1 1681.8,1190.7 1682.1,1190.7 1682.4,1190.2 1682.7,1190.1 1683,1191.4 1683.3,1189.8 1683.6,1190.3 1683.9,1191.6 1684.2,1190.9 1684.5,1191 1684.8,1191.1 1685.1,1191 1685.4,1190.7 1685.7,1191 1686,1190.2 1686.3,1191.3 1686.6,1190.6 1686.9,1191.6 1687.2,1191.5 1687.5,1190.9 1687.8,1191 1688.1,1191.1 1688.4,1191.6 1688.7,1190.7 1689,1190.4 1689.3,1191.5 1689.6,1191 1689.9,1191.9 1690.2,1190.8 1690.5,1191.2 1690.8,1191 1691.1,1192 1691.4,1190.8 1691.7,1191.7 1692,1191 1692.3,1192.2 1692.6,1191.3 1692.9,1191.8 1693.2,1191.7 1693.5,1190.9 1693.8,1191.3 1694.1,1190.2 1694.4,1191.1 1694.7,1191.4 1695,1191.1 1695.3,1191.4 1695.6,1191.2 1695.9,1192.7 1696.2,1191.9 1696.5,1191.9 1696.8,1191 1697.1,1191.5 1697.4,1191.3 1697.7,1192.1 1698,1191.4 1698.3,1190 1698.6,1190.8 1698.9,1191.2 1699.2,1191.8 1699.5,1191.7 1699.8,1190.8 1700.1,1191.8 1700.4,1191.1 1700.7,1191.5 1701,1190.7 1701.3,1192.4 1701.6,1191.2 1701.9,1190.9 1702.2,1192 1702.5,1192.2 1702.8,1191.6 1703.1,1190.4 1703.4,1192.3 1703.7,1191.4 1704,1191.3 1704.3,1192.8 1704.6,1191.1 1704.9,1191 1705.2,1191.5 1705.5,1191.6 1705.8,1192.1 1706.1,1191.3 1706.4,1191.7 1706.7,1191.6 1707,1192.4 1707.3,1192.1 1707.6,1191.5 1707.9,1191.4 1708.2,1191.6 1708.5,1190.8 1708.8,1192.2 1709.1,1191.7 1709.4,1192.1 1709.7,1191.9 1710,1191.9 1710.3,1191.4 1710.6,1191.2 1710.9,1192.3 1711.2,1192.4 1711.5,1192 1711.8,1191.2 1712.1,1192.2 1712.4,1191.6 1712.7,1191.1 1713,1192.3 1713.3,1191.9 1713.6,1191.8 1713.9,1191.7 1714.6,1191.7" fill="none" stroke="#0000ff" stroke-width="3.1" stroke-linejoin="round" stroke-linecap="butt" clip-path="url(#clip_d)"/>
<polyline points="1214.7,1140 1214.7,1132.4" fill="none" stroke="#0000ff" stroke-width="1.6" stroke-linejoin="round" stroke-linecap="butt" clip-path="url(#clip_d)"/>
<polyline points="1043.5,1198.3 1044,1198.3 1044.2,1195.3 1044.4,1196.2 1044.6,1199 1044.8,1195.6 1045,1194.2 1045.2,1193.1 1045.4,1194.4 1045.6,1192.4 1045.8,1195.9 1046,1195.1 1046.2,1193.6 1046.4,1192.4 1046.6,1194 1046.8,1193.9 1047,1194.2 1047.2,1193.2 1047.4,1195.6 1047.6,1197 1047.8,1193.3 1048,1194 1048.2,1193.5 1048.4,1195.5 1048.6,1194.2 1048.8,1194.1 1049,1195.3 1049.2,1192.4 1049.4,1193.2 1049.6,1193.8 1049.8,1192 1050,1193.9 1050.2,1192.5 1050.4,1194.5 1050.6,1198.3 1050.8,1196.9 1051,1194.4 1051.2,1197.6 1051.4,1194.5 1051.6,1196.3 1051.8,1192.9 1052,1195.4 1052.2,1192.5 1052.4,1196.5 1052.6,1196.6 1052.8,1193.3 1053,1196.3 1053.2,1196 1053.4,1193.6 1053.6,1194.3 1053.8,1196.4 1054,1196.6 1054.2,1192.6 1054.4,1197.8 1054.6,1194.5 1054.8,1195.2 1055,1193 1055.2,1196 1055.4,1197.7 1055.6,1198 1055.8,1195.4 1056,1193.9 1056.2,1193.8 1056.4,1195.8 1056.6,1196.6 1056.8,1196 1057,1195.3 1057.2,1195.2 1057.4,1195.1 1057.6,1194.6 1057.8,1196.7 1058,1197.4 1058.2,1195.1 1058.4,1193.8 1058.6,1193.8 1058.8,1194.5 1059,1194.1 1059.2,1194.6 1059.4,1196.3 1059.6,1195.9 1059.8,1192.9 1060,1198.2 1060.2,1195.5 1060.4,1195.1 1060.6,1195.4 1060.8,1194.1 1061,1194.3 1061.2,1193.8 1061.4,1195.1 1061.6,1193.3 1061.8,1195 1062,1193.4 1062.2,1195.2 1062.4,1192.5 1062.6,1194.9 1062.8,1193 1063,1195.5 1063.2,1194.2 1063.4,1196 1063.6,1196 1063.8,1195.4 1064,1193.8 1064.2,1194.6 1064.4,1193.8 1064.6,1196.3 1064.8,1192.6 1065,1194.8 1065.2,1194.5 1065.4,1197.3 1065.6,1196.6 1065.8,1197.3 1066,1194 1066.2,1195.6 1066.4,1192.8 1066.6,1197.7 1066.8,1193.4 1067,1191.3 1067.2,1196.2 1067.4,1194.5 1067.6,1194.8 1067.8,1194.2 1068,1195.1 1068.2,1193.6 1068.4,1193.5 1068.6,1196.5 1068.8,1192.8 1069,1194.5 1069.2,1194 1069.4,1195.9 1069.6,1194.9 1069.8,1194.5 1070,1196.7 1070.2,1194.9 1070.4,1195.6 1070.6,1195.2 1070.8,1194.6 1071,1195 1071.2,1191.6 1071.4,1197.1 1071.6,1194.9 1071.8,1194.3 1072,1197.8 1072.2,1194.4 1072.4,1195.2 1072.6,1193.9 1072.8,1194.3 1073,1195.4 1073.2,1194.5 1073.4,1192.3 1073.6,1194 1073.8,1198.3 1074,1194.3 1074.2,1192.4 1074.4,1192.1 1074.6,1196 1074.8,1192.2 1075,1193.9 1075.2,1195.1 1075.4,1194.4 1075.6,1195.7 1075.8,1195 1076,1195.8 1076.2,1194 1076.4,1193.3 1076.6,1195.9 1076.8,1193.1 1077,1194.2 1077.2,1195.3 1077.4,1193.2 1077.6,1194.7 1077.8,1193.9 1078,1194.6 1078.2,1193 1078.4,1193.9 1078.6,1194.6 1078.8,1195.2 1079,1194.1 1079.2,1194.8 1079.4,1192.9 1079.6,1198.3 1079.8,1194.9 1080,1194.6 1080.2,1194 1080.4,1196.1 1080.6,1197.7 1080.8,1192.8 1081,1195.2 1081.2,1194.5 1081.4,1194.7 1081.6,1195.7 1081.8,1195.2 1082,1195.7 1082.2,1195.7 1082.4,1192.7 1082.6,1196.2 1082.8,1196.8 1083,1195.1 1083.2,1194.7 1083.4,1196.7 1083.6,1194.4 1083.8,1195.1 1084,1194.6 1084.2,1194.1 1084.4,1195.2 1084.6,1193.5 1084.8,1196.1 1085,1195.9 1085.2,1192.6 1085.4,1190.8 1085.6,1194.8 1085.8,1195.3 1086,1195.7 1086.2,1194.1 1086.4,1193.3 1086.6,1193.3 1086.8,1196.6 1087,1194.5 1087.2,1195 1087.4,1193.8 1087.6,1195.1 1087.8,1193.1 1088,1194.8 1088.2,1192.6 1088.4,1195.6 1088.6,1195.8 1088.8,1194 1089,1194.1 1089.2,1194.1 1089.4,1195.8 1089.6,1191.8 1089.8,1195.4 1090,1196.6 1090.2,1193.9 1090.4,1193.1 1090.6,1191.6 1090.8,1195.9 1091,1193.1 1091.2,1195.8 1091.4,1194.7 1091.6,1194.1 1091.8,1196.3 1092,1193.6 1092.2,1194.6 1092.4,1193.2 1092.6,1192.8 1092.8,1191 1093,1194.3 1093.2,1194.1 1093.4,1193 1093.6,1191.5 1093.8,1193.5 1094,1193.9 1094.2,1194.8 1094.4,1194.4 1094.6,1189.8 1094.8,1192.8 1095,1191.7 1095.2,1191.6 1095.4,1190.2 1095.6,1193.4 1095.8,1193.1 1096,1190 1096.2,1190.5 1096.4,1193.5 1096.6,1192 1096.8,1190.9 1097,1194.3 1097.2,1191.5 1097.4,1192.7 1097.6,1190.1 1097.8,1192.2 1098,1191.4 1098.2,1194.2 1098.4,1190.3 1098.6,1190.9 1098.8,1191 1099,1195.4 1099.2,1192.6 1099.4,1191.8 1099.6,1189.9 1099.8,1191.9 1100,1190.3 1100.2,1193.4 1100.4,1189.5 1100.6,1192.3 1100.8,1187 1101,1188.1 1101.2,1189.7 1101.4,1187.1 1101.6,1189.6 1101.8,1188.2 1102,1187.7 1102.2,1187.2 1102.4,1187.6 1102.6,1187 1102.8,1188.2 1103,1184.3 1103.2,1185.7 1103.4,1185.6 1103.6,1185.6 1103.8,1183.3 1104,1178.8 1104.2,1182.1 1104.4,1178.5 1104.6,1180.3 1104.8,1177.1 1105,1176.4 1105.2,1176.1 1105.4,1176.1 1105.6,1172.7 1105.8,1174.8 1106,1168.9 1106.2,1172 1106.4,1168.2 1106.6,1167 1106.8,1164.6 1107,1168.1 1107.2,1165.4 1107.4,1162.6 1107.6,1160.1 1107.8,1159.7 1108,1158 1108.2,1151.3 1108.4,1152.9 1108.6,1153.1 1108.8,1149.3 1109,1150.2 1109.2,1147.5 1109.4,1143.5 1109.6,1143.9 1109.8,1141 1110,1135.5 1110.2,1134.2 1110.4,1133.1 1110.6,1130.5 1110.8,1132.9 1111,1126.2 1111.2,1126.6 1111.4,1128.1 1111.6,1120.4 1111.8,1122.8 1112,1123.1 1112.2,1124.1 1112.4,1127.3 1112.6,1129.2 1112.8,1128.6 1113,1130 1113.2,1130.3 1113.4,1134.1 1113.6,1132.5 1113.8,1133.1 1114,1138 1114.2,1138.9 1114.4,1139.7 1114.6,1140.2 1114.8,1141.3 1115,1143.5 1115.2,1143.3 1115.4,1149.6 1115.6,1142.2 1115.8,1148.1 1116,1150.1 1116.2,1149.9 1116.4,1148.5 1116.6,1150.6 1116.8,1151.9 1117,1151.9 1117.2,1152.2 1117.4,1152.6 1117.6,1157.2 1117.8,1157.1 1118,1155.8 1118.2,1161 1118.4,1159.2 1118.6,1157.9 1118.8,1160.7 1119,1159 1119.2,1158.4 1119.4,1161.8 1119.6,1161.1 1119.8,1160.4 1120,1164.6 1120.2,1163.5 1120.4,1165 1120.6,1164.6 1120.8,1165.1 1121,1166.7 1121.2,1168.6 1121.4,1171.1 1121.6,1169 1121.8,1171.8 1122,1168 1122.2,1167.9 1122.4,1167.8 1122.6,1170.2 1122.8,1170.2 1123,1172.6 1123.2,1170.8 1123.4,1170 1123.6,1173.6 1123.8,1174.2 1124,1170.4 1124.2,1173.5 1124.4,1176.8 1124.6,1176.8 1124.8,1175.1 1125,1173.7 1125.2,1177.1 1125.4,1177 1125.6,1177 1125.8,1174.7 1126,1178.4 1126.2,1179.2 1126.4,1176.1 1126.6,1180.3 1126.8,1179.6 1127,1179.3 1127.2,1180 1127.4,1181.5 1127.6,1181.5 1127.8,1176.3 1128,1178.4 1128.2,1181.2 1128.4,1184.3 1128.6,1179.5 1128.8,1180.5 1129,1180.8 1129.2,1179.5 1129.4,1181.4 1129.6,1182.4 1129.8,1181.3 1130,1182 1130.2,1180.2 1130.4,1182.6 1130.6,1184 1130.8,1184.5 1131,1183.1 1131.2,1182.3 1131.4,1183.7 1131.6,1185.6 1131.8,1183.9 1132,1183.6 1132.2,1183.2 1132.4,1182.5 1132.6,1186.6 1132.8,1183.5 1133,1185.7 1133.2,1184.6 1133.4,1187.2 1133.6,1186.6 1133.8,1185.6 1134,1184.6 1134.2,1186 1134.4,1186.6 1134.6,1187 1134.8,1183.9 1135,1185.8 1135.2,1184.2 1135.4,1184.8 1135.6,1186.7 1135.8,1187 1136,1186.5 1136.2,1187.2 1136.4,1186.7 1136.6,1187.4 1136.8,1187.3 1137,1185.1 1137.2,1187.4 1137.4,1184.3 1137.6,1183.1 1137.8,1186.5 1138,1185.7 1138.2,1187 1138.4,1187.6 1138.6,1186 1138.8,1185.3 1139,1188.4 1139.2,1186.5 1139.4,1187.1 1139.6,1188.2 1139.8,1191.3 1140,1185.8 1140.2,1184.9 1140.4,1188.4 1140.6,1188 1140.8,1187 1141,1185.6 1141.2,1188.5 1141.4,1187.2 1141.6,1188.8 1141.8,1187.6 1142,1187.8 1142.2,1189.8 1142.4,1186.7 1142.6,1189 1142.8,1188.5 1143,1189.6 1143.2,1185.6 1143.4,1184.3 1143.6,1188 1143.8,1190.1 1144,1190.5 1144.2,1189.3 1144.4,1188.5 1144.6,1186.8 1144.8,1189.2 1145,1187.5 1145.2,1186.7 1145.4,1189.9 1145.6,1189.7 1145.8,1187.4 1146,1191.5 1146.2,1190.7 1146.4,1188.2 1146.6,1189.7 1146.8,1187.4 1147,1187.2 1147.2,1187.8 1147.4,1187.1 1147.6,1188.3 1147.8,1189.9 1148,1188.7 1148.2,1188.7 1148.4,1188.1 1148.6,1187.3 1148.8,1187.9 1149,1186.9 1149.2,1188.4 1149.4,1189.4 1149.6,1184.8 1149.8,1190 1150,1187.9 1150.2,1187.3 1150.4,1186.5 1150.6,1186.7 1150.8,1189.2 1151,1190.2 1151.2,1184.3 1151.4,1190.1 1151.6,1187.8 1151.8,1187 1152,1190.1 1152.2,1189.5 1152.4,1186.5 1152.6,1187.3 1152.8,1192.3 1153,1191 1153.2,1188.8 1153.4,1187.7 1153.6,1186.7 1153.8,1186.9 1154,1188.6 1154.2,1185.8 1154.4,1189.3 1154.6,1185.4 1154.8,1189.6 1155,1187.1 1155.2,1186 1155.4,1188.7 1155.6,1188.3 1155.8,1187.7 1156,1188.5 1156.2,1188.6 1156.4,1190.2 1156.6,1188.3 1156.8,1187.2 1157,1187.7 1157.2,1188.7 1157.4,1189.9 1157.6,1187.1 1157.8,1189.1 1158,1186.6 1158.2,1186.6 1158.4,1185.1 1158.6,1188.7 1158.8,1188.4 1159,1187.9 1159.2,1186.2 1159.4,1185.1 1159.6,1186.7 1159.8,1185.4 1160,1182.7 1160.2,1188.1 1160.4,1184 1160.6,1186.8 1160.8,1188.1 1161,1184.6 1161.2,1185.1 1161.4,1187.3 1161.6,1186.7 1161.8,1185.4 1162,1185 1162.2,1185.5 1162.4,1183.9 1162.6,1184.3 1162.8,1184.7 1163,1184.2 1163.2,1187.1 1163.4,1185.6 1163.6,1188 1163.8,1187 1164,1187.5 1164.2,1184.4 1164.4,1187.5 1164.6,1184.4 1164.8,1186 1165,1185.4 1165.2,1186 1165.4,1185.4 1165.6,1187.5 1165.8,1186.2 1166,1189.7 1166.2,1185 1166.4,1189.9 1166.6,1186.4 1166.8,1185.6 1167,1185.8 1167.2,1188.1 1167.4,1189.7 1167.6,1186.3 1167.8,1188.6 1168,1185.9 1168.2,1183.7 1168.4,1185.1 1168.6,1186.2 1168.8,1186.5 1169,1184.6 1169.2,1184.6 1169.4,1183.9 1169.6,1186.4 1169.8,1185.4 1170,1183.5 1170.2,1184.6 1170.4,1183.9 1170.6,1184.7 1170.8,1185.5 1171,1183.2 1171.2,1184.6 1171.4,1186.9 1171.6,1180.3 1171.8,1182.7 1172,1183.2 1172.2,1180 1172.4,1184.3 1172.6,1184.7 1172.8,1183.2 1173,1182.7 1173.2,1184.9 1173.4,1184.5 1173.6,1185 1173.8,1184.5 1174,1183.3 1174.2,1182.4 1174.4,1185.6 1174.6,1187.4 1174.8,1180.8 1175,1183.1 1175.2,1181.8 1175.4,1183.9 1175.6,1183.6 1175.8,1184.7 1176,1185.1 1176.2,1182.7 1176.4,1184.8 1176.6,1184.7 1176.8,1183.2 1177,1181.9 1177.2,1184.4 1177.4,1184.9 1177.6,1181.6 1177.8,1185.6 1178,1183.2 1178.2,1181.7 1178.4,1184.4 1178.6,1183 1178.8,1184.3 1179,1183.5 1179.2,1182.1 1179.4,1180.9 1179.6,1181.8 1179.8,1182.8 1180,1184.7 1180.2,1180.5 1180.4,1181.5 1180.6,1179.8 1180.8,1182.1 1181,1181.4 1181.2,1182.6 1181.4,1183.4 1181.6,1181.5 1181.8,1182.3 1182,1180.6 1182.2,1183 1182.4,1180.1 1182.6,1178.3 1182.8,1184.7 1183,1178.3 1183.2,1180.8 1183.4,1180.4 1183.6,1181.1 1183.8,1177.2 1184,1182.4 1184.2,1183 1184.4,1181.5 1184.6,1179 1184.8,1181.9 1185,1180.5 1185.2,1179.2 1185.4,1180.2 1185.6,1182.4 1185.8,1178.4 1186,1178.9 1186.2,1178.2 1186.4,1179.8 1186.6,1178.3 1186.8,1179 1187,1179.3 1187.2,1179.7 1187.4,1178 1187.6,1177.6 1187.8,1181.6 1188,1178.9 1188.2,1176.9 1188.4,1178.9 1188.6,1180.6 1188.8,1179.6 1189,1181.6 1189.2,1178 1189.4,1181.5 1189.6,1177 1189.8,1178.9 1190,1177.8 1190.2,1177.2 1190.4,1177.6 1190.6,1179 1190.8,1179.5 1191,1177.6 1191.2,1180 1191.4,1178.1 1191.6,1178.5 1191.8,1177.4 1192,1178.4 1192.2,1174.3 1192.4,1176.2 1192.6,1175.5 1192.8,1177.5 1193,1176.5 1193.2,1176.6 1193.4,1176.3 1193.6,1174.4 1193.8,1173.7 1194,1176.2 1194.2,1175.9 1194.4,1172.9 1194.6,1172.5 1194.8,1174 1195,1175 1195.2,1175.7 1195.4,1175.7 1195.6,1173.1 1195.8,1169.9 1196,1174.4 1196.2,1171.6 1196.4,1174.2 1196.6,1173.8 1196.8,1175.3 1197,1168.8 1197.2,1170.8 1197.4,1172.4 1197.6,1173.7 1197.8,1170.8 1198,1173.9 1198.2,1171.8 1198.4,1172.6 1198.6,1172.6 1198.8,1169.9 1199,1166.6 1199.2,1169 1199.4,1169.4 1199.6,1169.6 1199.8,1169.1 1200,1167.1 1200.2,1170.2 1200.4,1167.4 1200.6,1168 1200.8,1168.3 1201,1167.4 1201.2,1164.5 1201.4,1168 1201.6,1165.8 1201.8,1167.1 1202,1164.5 1202.2,1167.1 1202.4,1164 1202.6,1165.5 1202.8,1163.7 1203,1166.4 1203.2,1162.9 1203.4,1162.5 1203.6,1164.5 1203.8,1166 1204,1162.9 1204.2,1164.3 1204.4,1163.3 1204.6,1162.8 1204.8,1165.4 1205,1164.2 1205.2,1164 1205.4,1160.9 1205.6,1159.3 1205.8,1161.1 1206,1159.8 1206.2,1159.1 1206.4,1160.3 1206.6,1158.8 1206.8,1158.6 1207,1157.4 1207.2,1158.3 1207.4,1157.7 1207.6,1157.1 1207.8,1158.2 1208,1155.6 1208.2,1156.1 1208.4,1158.7 1208.6,1155 1208.8,1157.1 1209,1156 1209.2,1153.8 1209.4,1152.5 1209.6,1152.4 1209.8,1154.5 1210,1154.1 1210.2,1155.3 1210.4,1153.3 1210.6,1152.6 1210.8,1151.9 1211,1153.7 1211.2,1151 1211.4,1149.8 1211.6,1153.4 1211.8,1149.5 1212,1153.5 1212.2,1151.8 1212.4,1148.1 1212.6,1150.6 1212.8,1152.4 1213,1149.2 1213.2,1146.7 1213.4,1145.6 1213.6,1148.8 1213.8,1148.2 1214,1145.2 1214.2,1149.5 1214.4,1146.5 1214.6,1144.5 1214.8,1141.3 1215,1146.6 1215.2,1144.3 1215.4,1142.8 1215.6,1143.7 1215.8,1140.8 1216,1141.5 1216.2,1141.2 1216.4,1144.7 1216.6,1140.1 1216.8,1141.6 1217,1140.8 1217.2,1139 1217.4,1136.8 1217.6,1140.9 1217.8,1136.1 1218,1135.6 1218.2,1140.8 1218.4,1133 1218.6,1137.4 1218.8,1139.1 1219,1132.2 1219.2,1138.8 1219.4,1133.9 1219.6,1134.3 1219.8,1137.4 1220,1129.6 1220.2,1131.9 1220.4,1129.9 1220.6,1134.6 1220.8,1131.8 1221,1128.4 1221.2,1127.9 1221.4,1127.1 1221.6,1131.4 1221.8,1130.4 1222,1131.3 1222.2,1129.5 1222.4,1128.7 1222.6,1130.3 1222.8,1129.7 1223,1126 1223.2,1124.2 1223.4,1125.6 1223.6,1129 1223.8,1122.2 1224,1123.3 1224.2,1126.7 1224.4,1123.8 1224.6,1124.4 1224.8,1120.7 1225,1127 1225.2,1123 1225.4,1121.3 1225.6,1120.5 1225.8,1117.9 1226,1120.6 1226.2,1119.7 1226.4,1119.4 1226.6,1120.8 1226.8,1118.4 1227,1116.4 1227.2,1116.9 1227.4,1117.8 1227.6,1119 1227.8,1116.7 1228,1116.6 1228.2,1112.2 1228.4,1116.1 1228.6,1113.8 1228.8,1116 1229,1116.5 1229.2,1111.1 1229.4,1110.1 1229.6,1112.2 1229.8,1108.7 1230,1110 1230.2,1109.2 1230.4,1106.2 1230.6,1108 1230.8,1107.5 1231,1108.9 1231.2,1110.5 1231.4,1105.5 1231.6,1106.8 1231.8,1107 1232,1104.1 1232.2,1105.1 1232.4,1103.7 1232.6,1104.2 1232.8,1103 1233,1105.2 1233.2,1104.9 1233.4,1104.8 1233.6,1103.2 1233.8,1102.8 1234,1105.2 1234.2,1102.6 1234.4,1103.8 1234.6,1101.2 1234.8,1101.4 1235,1097.7 1235.2,1104.1 1235.4,1100.1 1235.6,1099.7 1235.8,1096.9 1236,1093.5 1236.2,1097.1 1236.4,1095.3 1236.6,1094.7 1236.8,1094.5 1237,1093.8 1237.2,1094.2 1237.4,1090.7 1237.6,1091.1 1237.8,1093.3 1238,1093.6 1238.2,1091.4 1238.4,1090.8 1238.6,1093.3 1238.8,1089.1 1239,1089.4 1239.2,1092 1239.4,1084.2 1239.6,1088.1 1239.8,1086.9 1240,1087.6 1240.2,1088.2 1240.4,1086.1 1240.6,1085.6 1240.8,1083.1 1241,1083.4 1241.2,1083.6 1241.4,1082.4 1241.6,1079.3 1241.8,1083.7 1242,1079.5 1242.2,1078.3 1242.4,1080.2 1242.6,1079.7 1242.8,1080.6 1243,1079.1 1243.2,1076.9 1243.4,1076.3 1243.6,1079.6 1243.8,1075.2 1244,1076.4 1244.2,1070.8 1244.4,1074.5 1244.6,1073.3 1244.8,1074.8 1245,1072.4 1245.2,1072 1245.4,1072.1 1245.6,1067.5 1245.8,1067.4 1246,1068 1246.2,1066.4 1246.4,1068 1246.6,1063 1246.8,1064.2 1247,1064.8 1247.2,1063.6 1247.4,1060.3 1247.6,1057.5 1247.8,1060.6 1248,1057.8 1248.2,1059.6 1248.4,1058.5 1248.6,1057.4 1248.8,1058.2 1249,1058.3 1249.2,1052.6 1249.4,1056.1 1249.6,1053.3 1249.8,1054.6 1250,1053.2 1250.2,1048.1 1250.4,1050.8 1250.6,1048.3 1250.8,1050.8 1251,1046 1251.2,1044.8 1251.4,1038.2 1251.6,1037.9 1251.8,1037.4 1252,1040.4 1252.2,1033.3 1252.4,1033.6 1252.6,1032.3 1252.8,1030.9 1253,1029.3 1253.2,1027.7 1253.4,1024.3 1253.6,1026.2 1253.8,1025.9 1254,1021.6 1254.2,1020.8 1254.4,1018.9 1254.6,1017.9 1254.8,1017.2 1255,1016.2 1255.2,1016.3 1255.4,1015.5 1255.6,1006.6 1255.8,1005.3 1256,1006.2 1256.2,1001.1 1256.4,1000 1256.6,998.3 1256.8,1001.2 1257,996.8 1257.2,995.7 1257.4,999.2 1257.6,995 1257.8,991 1258,986.4 1258.2,987 1258.4,990.4 1258.6,984.9 1258.8,985.5 1259,985.9 1259.2,984.3 1259.4,981.3 1259.6,979.3 1259.8,978.6 1260,975.5 1260.2,972.5 1260.4,975.4 1260.6,967.4 1260.8,969.3 1261,969 1261.2,966.6 1261.4,965.5 1261.6,962.7 1261.8,961.6 1262,958.7 1262.2,957.7 1262.4,958.3 1262.6,955.9 1262.8,955.8 1263,953.7 1263.2,950.5 1263.4,946.3 1263.6,942.2 1263.8,945.3 1264,940.5 1264.2,943.7 1264.4,938.5 1264.6,934 1264.8,933.6 1265,933 1265.2,936.8 1265.4,926 1265.6,930.8 1265.8,922 1266,926.1 1266.2,925.8 1266.4,920.6 1266.6,920.9 1266.8,923.7 1267,920.7 1267.2,910.8 1267.4,913.2 1267.6,914.4 1267.8,911.8 1268,907.6 1268.2,908.2 1268.4,906.9 1268.6,909.5 1268.8,909.7 1269,907 1269.2,906.8 1269.4,905.5 1269.6,905.3 1269.8,899.2 1270,899.2 1270.2,894.7 1270.4,894.3 1270.6,891.6 1270.8,895.1 1271,898.4 1271.2,895.5 1271.4,890.9 1271.6,890.7 1271.8,890 1272,885.7 1272.2,894.4 1272.4,888.8 1272.6,889 1272.8,887.4 1273,889 1273.2,886.1 1273.4,887 1273.6,890.5 1273.8,892 1274,888.8 1274.2,891.6 1274.4,887.1 1274.6,881.7 1274.8,885.2 1275,883.2 1275.2,879.9 1275.4,883.2 1275.6,877.8 1275.8,876 1276,869.2 1276.2,872.2 1276.4,873 1276.6,863.1 1276.8,874 1277,864 1277.2,862.2 1277.4,869.2 1277.6,867.9 1277.8,857.4 1278,858.1 1278.2,861.9 1278.4,859.8 1278.6,857.2 1278.8,857.4 1279,859.2 1279.2,859.6 1279.4,856 1279.6,850.7 1279.8,854.6 1280,852.2 1280.2,852.9 1280.4,856.7 1280.6,847.8 1280.8,854 1281,847.4 1281.2,848.4 1281.4,847.7 1281.6,846.5 1281.8,841.1 1282,838.7 1282.2,846.7 1282.4,837.6 1282.6,843.7 1282.8,847 1283,841.2 1283.2,848.5 1283.4,842.6 1283.6,842.2 1283.8,838.6 1284,842.3 1284.2,841.9 1284.4,841.9 1284.6,844.7 1284.8,834.9 1285,837.2 1285.2,834.9 1285.4,830.8 1285.6,834.7 1285.8,840.1 1286,838.5 1286.2,839.4 1286.4,836.7 1286.6,836.3 1286.8,834.9 1287,844.2 1287.2,840.2 1287.4,833.1 1287.6,833.4 1287.8,835.2 1288,832.2 1288.2,826.3 1288.4,824.8 1288.6,833.4 1288.8,835.4 1289,832.7 1289.2,827.3 1289.4,827.8 1289.6,827.3 1289.8,832.8 1290,831.3 1290.2,839.1 1290.4,831 1290.6,830.2 1290.8,823.2 1291,826.4 1291.2,827.7 1291.4,826.6 1291.6,824.5 1291.8,829.9 1292,830.4 1292.2,826.9 1292.4,825.2 1292.6,827.8 1292.8,825.2 1293,827.9 1293.2,822.6 1293.4,826.1 1293.6,825.8 1293.8,829.1 1294,826.2 1294.2,826.5 1294.4,818.9 1294.6,829.9 1294.8,823.8 1295,821.1 1295.2,830.7 1295.4,821.7 1295.6,818.4 1295.8,819.5 1296,825.1 1296.2,822.1 1296.4,822.3 1296.6,818.8 1296.8,824.2 1297,820.1 1297.2,823.3 1297.4,820.1 1297.6,818.4 1297.8,821.4 1298,818.3 1298.2,821.9 1298.4,817.8 1298.6,820.9 1298.8,821.5 1299,822.2 1299.2,816.8 1299.4,815.7 1299.6,822 1299.8,818.1 1300,818.3 1300.2,819.3 1300.4,820.7 1300.6,815.9 1300.8,810.5 1301,817.7 1301.2,818.1 1301.4,812.7 1301.6,819 1301.8,813.4 1302,817.8 1302.2,815.2 1302.4,813.6 1302.6,813.4 1302.8,815.2 1303,809.2 1303.2,815.3 1303.4,810.8 1303.6,810.9 1303.8,814.7 1304,809.3 1304.2,813.9 1304.4,809.5 1304.6,816 1304.8,815 1305,807.7 1305.2,803.6 1305.4,817.8 1305.6,812 1305.8,812.1 1306,808.7 1306.2,804.4 1306.4,806.6 1306.6,803.3 1306.8,805.6 1307,809.9 1307.2,806.9 1307.4,805.2 1307.6,807.3 1307.8,805.1 1308,802.5 1308.2,800.7 1308.4,803.6 1308.6,804.2 1308.8,807.9 1309,802.5 1309.2,798.3 1309.4,802.9 1309.6,796.7 1309.8,801.1 1310,794.4 1310.2,796.3 1310.4,793 1310.6,798.1 1310.8,799.3 1311,798.1 1311.2,791.6 1311.4,790.8 1311.6,783.6 1311.8,791.1 1312,786.4 1312.2,796 1312.4,787.2 1312.6,787.2 1312.8,783.5 1313,787.6 1313.2,779.4 1313.4,779.1 1313.6,777.3 1313.8,777.6 1314,784.2 1314.2,785.4 1314.4,788 1314.6,785.2 1314.8,784.5 1315,784.1 1315.2,780.3 1315.4,783.3 1315.6,776.4 1315.8,781 1316,774.7 1316.2,779.2 1316.4,772.1 1316.6,778 1316.8,778.4 1317,775.2 1317.2,772.9 1317.4,778 1317.6,777 1317.8,782.1 1318,770.8 1318.2,769.8 1318.4,776.6 1318.6,774.4 1318.8,768.1 1319,774.8 1319.2,772.6 1319.4,768.6 1319.6,774.8 1319.8,769.8 1320,774.9 1320.2,768.7 1320.4,766.3 1320.6,763.2 1320.8,765.7 1321,766.4 1321.2,764.9 1321.4,758.7 1321.6,767.7 1321.8,767.7 1322,759.7 1322.2,772.8 1322.4,762 1322.6,760.3 1322.8,763.8 1323,759.3 1323.2,757.9 1323.4,763.4 1323.6,759.8 1323.8,759.9 1324,760.2 1324.2,755.9 1324.4,765.4 1324.6,762.3 1324.8,753.6 1325,758.2 1325.2,756 1325.4,760.6 1325.6,757.6 1325.8,764.6 1326,757.7 1326.2,761.1 1326.4,757 1326.6,755 1326.8,753.8 1327,760.4 1327.2,754.9 1327.4,759.4 1327.6,750 1327.8,759.2 1328,756.4 1328.2,763.4 1328.4,753.6 1328.6,756.7 1328.8,755.4 1329,755.7 1329.2,759.9 1329.4,760.2 1329.6,757.2 1329.8,756.8 1330,758 1330.2,762.7 1330.4,756.5 1330.6,764.2 1330.8,764.8 1331,760.4 1331.2,758.9 1331.4,767.9 1331.6,759.4 1331.8,764.8 1332,757.1 1332.2,763.6 1332.4,758.4 1332.6,761.9 1332.8,763.4 1333,758.5 1333.2,762.8 1333.4,763.9 1333.6,758.5 1333.8,767.9 1334,763.8 1334.2,765.4 1334.4,763.2 1334.6,763.3 1334.8,762.5 1335,759.8 1335.2,772.4 1335.4,765 1335.6,767 1335.8,765.6 1336,770.5 1336.2,761 1336.4,763 1336.6,763.5 1336.8,766.8 1337,764.7 1337.2,769.3 1337.4,774.5 1337.6,767.1 1337.8,771.7 1338,764.5 1338.2,768.9 1338.4,769.9 1338.6,771.9 1338.8,767.8 1339,768.4 1339.2,767.3 1339.4,765.8 1339.6,770.9 1339.8,766.4 1340,774.9 1340.2,767.5 1340.4,762.3 1340.6,772.2 1340.8,770.7 1341,773.8 1341.2,771.4 1341.4,769.9 1341.6,771.2 1341.8,766.1 1342,770.9 1342.2,768.3 1342.4,772.8 1342.6,769.2 1342.8,769.5 1343,767.6 1343.2,774.8 1343.4,771.3 1343.6,767.7 1343.8,773.3 1344,772.1 1344.2,773.9 1344.4,773 1344.6,768.8 1344.8,771.4 1345,764.2 1345.2,768.5 1345.4,770.4 1345.6,768.8 1345.8,775 1346,772.7 1346.2,775.2 1346.4,774.7 1346.6,770.6 1346.8,773.1 1347,778.2 1347.2,772.3 1347.4,770.6 1347.6,776.4 1347.8,776.6 1348,780.8 1348.2,782.7 1348.4,774.3 1348.6,777 1348.8,773.9 1349,778.1 1349.2,774.7 1349.4,781.9 1349.6,779.6 1349.8,780 1350,773.3 1350.2,782.8 1350.4,779 1350.6,778.7 1350.8,776.5 1351,771.8 1351.2,778.1 1351.4,780.3 1351.6,783.3 1351.8,778.6 1352,778.2 1352.2,783 1352.4,784.9 1352.6,781.6 1352.8,778.1 1353,783.9 1353.2,780.7 1353.4,786.5 1353.6,782.6 1353.8,784.5 1354,783.4 1354.2,786.6 1354.4,780.6 1354.6,788.8 1354.8,783.2 1355,782.4 1355.2,784.5 1355.4,783.3 1355.6,788 1355.8,786.4 1356,786.5 1356.2,785.4 1356.4,784.9 1356.6,786.4 1356.8,788.3 1357,785.9 1357.2,788.4 1357.4,789.6 1357.6,793.6 1357.8,786.7 1358,790.4 1358.2,788.8 1358.4,792.6 1358.6,790.1 1358.8,791.6 1359,793.1 1359.2,789.1 1359.4,795.6 1359.6,791.2 1359.8,794.2 1360,800.2 1360.2,792.9 1360.4,796.5 1360.6,792.9 1360.8,797.2 1361,791.9 1361.2,794.8 1361.4,790.4 1361.6,797.2 1361.8,797.3 1362,799.6 1362.2,797.1 1362.4,795.4 1362.6,796.8 1362.8,787.9 1363,798.8 1363.2,803.3 1363.4,803.9 1363.6,799.2 1363.8,799.9 1364,800.4 1364.2,805 1364.4,807.3 1364.6,804.9 1364.8,800.4 1365,803.9 1365.2,814.5 1365.4,803.7 1365.6,806.5 1365.8,805.6 1366,806.9 1366.2,804.1 1366.4,804.2 1366.6,807.7 1366.8,806 1367,807.3 1367.2,815.4 1367.4,801 1367.6,802.8 1367.8,810.3 1368,809.4 1368.2,809.8 1368.4,810.1 1368.6,813.4 1368.8,807.8 1369,807.1 1369.2,810.8 1369.4,815.6 1369.6,814.6 1369.8,811.3 1370,817.6 1370.2,811.5 1370.4,818 1370.6,814.1 1370.8,815.8 1371,812.4 1371.2,813.1 1371.4,816.8 1371.6,809.9 1371.8,818.3 1372,816.1 1372.2,818.3 1372.4,819.9 1372.6,819 1372.8,811.8 1373,817.3 1373.2,807.2 1373.4,823.3 1373.6,819 1373.8,818.5 1374,816.3 1374.2,811.8 1374.4,818.6 1374.6,816.7 1374.8,816 1375,819.7 1375.2,823 1375.4,817.2 1375.6,824.5 1375.8,819.2 1376,817.4 1376.2,817.9 1376.4,826.1 1376.6,820.1 1376.8,816.8 1377,823 1377.2,827.7 1377.4,825.2 1377.6,822.5 1377.8,821 1378,826.2 1378.2,824.5 1378.4,821.8 1378.6,825.1 1378.8,828.7 1379,828.4 1379.2,824.1 1379.4,827.2 1379.6,827 1379.8,825.9 1380,827.1 1380.2,822.3 1380.4,828.3 1380.6,826.8 1380.8,828.6 1381,831.2 1381.2,829.9 1381.4,829.7 1381.6,832.2 1381.8,831.2 1382,829.5 1382.2,828 1382.4,831.8 1382.6,829.9 1382.8,831 1383,832.1 1383.2,829.7 1383.4,830.2 1383.6,831.7 1383.8,838.3 1384,831.3 1384.2,835.2 1384.4,831 1384.6,836 1384.8,830.1 1385,834.6 1385.2,835.4 1385.4,834.5 1385.6,830.7 1385.8,834.5 1386,834.8 1386.2,835.3 1386.4,836.2 1386.6,834.6 1386.8,834.7 1387,842.4 1387.2,842.8 1387.4,844.3 1387.6,838.2 1387.8,839.1 1388,837.9 1388.2,842.7 1388.4,839.6 1388.6,841.1 1388.8,837.5 1389,845.6 1389.2,841.3 1389.4,837.9 1389.6,841.6 1389.8,843.4 1390,840.5 1390.2,839.9 1390.4,842.4 1390.6,845.5 1390.8,844.1 1391,843.4 1391.2,846.2 1391.4,845.8 1391.6,840.1 1391.8,848 1392,844.1 1392.2,845 1392.4,845.2 1392.6,847.4 1392.8,846 1393,847.3 1393.2,845.2 1393.4,843.1 1393.6,849.4 1393.8,852 1394,844.3 1394.2,847.8 1394.4,849.5 1394.6,847.7 1394.8,850.8 1395,849 1395.2,854.7 1395.4,850.8 1395.6,850.7 1395.8,848.6 1396,852.1 1396.2,856.5 1396.4,857.8 1396.6,852.9 1396.8,851.4 1397,854.3 1397.2,858.6 1397.4,857.6 1397.6,856.8 1397.8,857.4 1398,856.2 1398.2,854.2 1398.4,854.2 1398.6,855.8 1398.8,859.9 1399,857.2 1399.2,857.6 1399.4,853.7 1399.6,858.2 1399.8,862.8 1400,860.1 1400.2,856.1 1400.4,857.6 1400.6,864.6 1400.8,861.8 1401,860.8 1401.2,862.2 1401.4,860.9 1401.6,861 1401.8,861 1402,860.5 1402.2,863.3 1402.4,860.4 1402.6,864.9 1402.8,862.2 1403,872 1403.2,857.8 1403.4,862.3 1403.6,864.9 1403.8,865.4 1404,869.4 1404.2,862.1 1404.4,868.3 1404.6,868.9 1404.8,865.5 1405,868.2 1405.2,866.5 1405.4,873.3 1405.6,866.4 1405.8,874.7 1406,874.1 1406.2,874.8 1406.4,877.7 1406.6,871.9 1406.8,872.3 1407,875.6 1407.2,874 1407.4,875.3 1407.6,877.2 1407.8,874.8 1408,877.1 1408.2,869.2 1408.4,879.4 1408.6,880 1408.8,878.2 1409,883 1409.2,879.5 1409.4,877.1 1409.6,877.3 1409.8,889.1 1410,883.2 1410.2,875.5 1410.4,878.2 1410.6,887.4 1410.8,882.5 1411,882.9 1411.2,881.5 1411.4,875.8 1411.6,883.9 1411.8,883.3 1412,884.8 1412.2,886.7 1412.4,884.3 1412.6,890.3 1412.8,884.3 1413,888.3 1413.2,889.4 1413.4,892 1413.6,888.8 1413.8,891.8 1414,890.5 1414.2,892.6 1414.4,888.3 1414.6,894.4 1414.8,891 1415,888.1 1415.2,888 1415.4,894.8 1415.6,892.9 1415.8,889.2 1416,896.2 1416.2,889.1 1416.4,895.9 1416.6,895.5 1416.8,897.8 1417,897.3 1417.2,895.6 1417.4,893.7 1417.6,898.4 1417.8,898.9 1418,903.5 1418.2,899.8 1418.4,897.8 1418.6,903.2 1418.8,901.6 1419,895.7 1419.2,896 1419.4,905.4 1419.6,899.4 1419.8,901.9 1420,899.5 1420.2,905.6 1420.4,899.9 1420.6,905.7 1420.8,904.3 1421,904.3 1421.2,901.6 1421.4,907.3 1421.6,902.4 1421.8,903.1 1422,908.5 1422.2,904.2 1422.4,911.1 1422.6,908.8 1422.8,908.8 1423,909.3 1423.2,904.3 1423.4,911.5 1423.6,909 1423.8,909.8 1424,909.6 1424.2,917.6 1424.4,915.5 1424.6,921.5 1424.8,911.4 1425,919.8 1425.2,916 1425.4,912.4 1425.6,916.4 1425.8,913.9 1426,915.4 1426.2,915.6 1426.4,917.5 1426.6,919 1426.8,915.6 1427,919.2 1427.2,923 1427.4,921.2 1427.6,923.6 1427.8,922.3 1428,924.1 1428.2,927.9 1428.4,921.6 1428.6,916.5 1428.8,925.2 1429,926.7 1429.2,926.4 1429.4,925.3 1429.6,925.9 1429.8,921.7 1430,924.9 1430.2,921.3 1430.4,928.8 1430.6,929.1 1430.8,925.9 1431,926.1 1431.2,930 1431.4,933.8 1431.6,936.2 1431.8,932.6 1432,932.2 1432.2,938.5 1432.4,935.5 1432.6,939.2 1432.8,932.9 1433,929.9 1433.2,933.2 1433.4,935.7 1433.6,934.9 1433.8,937.5 1434,937.6 1434.2,938.4 1434.4,936.6 1434.6,941.8 1434.8,941.7 1435,939.6 1435.2,936.3 1435.4,935.8 1435.6,940.5 1435.8,940.8 1436,936.3 1436.2,940.7 1436.4,938.9 1436.6,940.5 1436.8,943.4 1437,949 1437.2,938.7 1437.4,947.5 1437.6,943.1 1437.8,941 1438,946.6 1438.2,948.8 1438.4,946.6 1438.6,946.1 1438.8,944.8 1439,947.8 1439.2,948.5 1439.4,948.8 1439.6,947.4 1439.8,947.2 1440,952.6 1440.2,950.1 1440.4,956 1440.6,954.4 1440.8,950.9 1441,953.5 1441.2,952.9 1441.4,953.5 1441.6,957.2 1441.8,952.2 1442,952.2 1442.2,956.6 1442.4,957.9 1442.6,958.5 1442.8,955 1443,958.8 1443.2,958.6 1443.4,958.5 1443.6,965.1 1443.8,960.4 1444,960.5 1444.2,960.4 1444.4,960.9 1444.6,963.1 1444.8,963.4 1445,961 1445.2,967.6 1445.4,964.7 1445.6,962.3 1445.8,961.9 1446,968.5 1446.2,966.8 1446.4,965.2 1446.6,965.8 1446.8,962.2 1447,966 1447.2,964.7 1447.4,967.3 1447.6,969.2 1447.8,974.1 1448,970.8 1448.2,969.3 1448.4,976 1448.6,970.9 1448.8,969 1449,975.1 1449.2,974.6 1449.4,971.4 1449.6,972.3 1449.8,975.3 1450,974.3 1450.2,973.5 1450.4,970.8 1450.6,975.7 1450.8,978.7 1451,975 1451.2,974.9 1451.4,979.7 1451.6,975 1451.8,981 1452,975 1452.2,982.8 1452.4,974.7 1452.6,977.9 1452.8,976 1453,983.7 1453.2,983.2 1453.4,979.9 1453.6,985.5 1453.8,982.1 1454,980.2 1454.2,981.6 1454.4,986.5 1454.6,982.5 1454.8,985.1 1455,983.5 1455.2,982.6 1455.4,985 1455.6,988.4 1455.8,982.2 1456,986.2 1456.2,988.7 1456.4,989.1 1456.6,986 1456.8,989 1457,986.3 1457.2,989.1 1457.4,986.3 1457.6,991.5 1457.8,993.8 1458,992.5 1458.2,992 1458.4,997.7 1458.6,990.7 1458.8,995.2 1459,994.1 1459.2,998.5 1459.4,997.5 1459.6,991.9 1459.8,990.8 1460,996.6 1460.2,997.4 1460.4,997.8 1460.6,998.5 1460.8,996.6 1461,998.1 1461.2,997.6 1461.4,998.9 1461.6,996.7 1461.8,1003.4 1462,1003.5 1462.2,1003.2 1462.4,1000.7 1462.6,997 1462.8,1003.2 1463,1006.2 1463.2,1004.2 1463.4,1001.4 1463.6,999.4 1463.8,1005.6 1464,1005.6 1464.2,1003.1 1464.4,1006.9 1464.6,1007.2 1464.8,1007.4 1465,1008.1 1465.2,1010.9 1465.4,1003.3 1465.6,1009.7 1465.8,1008.8 1466,1009.2 1466.2,1006.1 1466.4,1011.9 1466.6,1008.9 1466.8,1014 1467,1008.6 1467.2,1012 1467.4,1011.7 1467.6,1014.3 1467.8,1012.4 1468,1013.8 1468.2,1013.5 1468.4,1018 1468.6,1012 1468.8,1018.2 1469,1013.5 1469.2,1014 1469.4,1016.5 1469.6,1011.2 1469.8,1011.4 1470,1015.1 1470.2,1017.1 1470.4,1014.5 1470.6,1012.7 1470.8,1022.1 1471,1019.2 1471.2,1019.6 1471.4,1019.4 1471.6,1015.9 1471.8,1023.4 1472,1022 1472.2,1019.5 1472.4,1023.9 1472.6,1021.5 1472.8,1023.5 1473,1018.9 1473.2,1020.1 1473.4,1022.1 1473.6,1022.7 1473.8,1024.5 1474,1024.4 1474.2,1025.6 1474.4,1022.5 1474.6,1022.5 1474.8,1021.9 1475,1024.5 1475.2,1026.9 1475.4,1027.4 1475.6,1026 1475.8,1029.2 1476,1023.1 1476.2,1027.2 1476.4,1031.1 1476.6,1031.6 1476.8,1027.5 1477,1026.4 1477.2,1035.2 1477.4,1026.7 1477.6,1032 1477.8,1030.7 1478,1028 1478.2,1032.3 1478.4,1030 1478.6,1027.2 1478.8,1033.4 1479,1030.9 1479.2,1032.4 1479.4,1033.9 1479.6,1029.4 1479.8,1032.6 1480,1032.5 1480.2,1036.1 1480.4,1036.3 1480.6,1036.1 1480.8,1032.9 1481,1034.8 1481.2,1034.7 1481.4,1036.9 1481.6,1032.7 1481.8,1036.4 1482,1032.7 1482.2,1036.2 1482.4,1037.6 1482.6,1044.1 1482.8,1039.7 1483,1039.5 1483.2,1042.9 1483.4,1041.1 1483.6,1037.7 1483.8,1041.2 1484,1043.3 1484.2,1040 1484.4,1042.9 1484.6,1037.7 1484.8,1043.6 1485,1042.2 1485.2,1042.2 1485.4,1043 1485.6,1043.1 1485.8,1042.7 1486,1045.2 1486.2,1047.1 1486.4,1047.1 1486.6,1042.6 1486.8,1046.3 1487,1048.2 1487.2,1049.2 1487.4,1051.5 1487.6,1048.1 1487.8,1048.4 1488,1047.1 1488.2,1049.2 1488.4,1043.4 1488.6,1047.6 1488.8,1050.9 1489,1052.4 1489.2,1050 1489.4,1053.5 1489.6,1052.7 1489.8,1051.5 1490,1052.9 1490.2,1050.7 1490.4,1050.4 1490.6,1049.1 1490.8,1050.8 1491,1054.1 1491.2,1051.1 1491.4,1056.1 1491.6,1053.5 1491.8,1055.4 1492,1057 1492.2,1052.5 1492.4,1053.6 1492.6,1054.4 1492.8,1055.3 1493,1053.1 1493.2,1061.3 1493.4,1054.2 1493.6,1055.6 1493.8,1059.7 1494,1056.9 1494.2,1061 1494.4,1060 1494.6,1062.9 1494.8,1055 1495,1061.5 1495.2,1053.9 1495.4,1056.9 1495.6,1061.6 1495.8,1057.7 1496,1059.3 1496.2,1061.5 1496.4,1060.1 1496.6,1063.8 1496.8,1064.5 1497,1059.6 1497.2,1063.2 1497.4,1063.3 1497.6,1067.2 1497.8,1062.8 1498,1068.1 1498.2,1064.5 1498.4,1068.4 1498.6,1065.2 1498.8,1064.9 1499,1068.5 1499.2,1066.3 1499.4,1066.6 1499.6,1065.2 1499.8,1064.5 1500,1073 1500.2,1071.1 1500.4,1069.8 1500.6,1071.4 1500.8,1070.7 1501,1073 1501.2,1072.6 1501.4,1073.2 1501.6,1072.1 1501.8,1072.7 1502,1070.8 1502.2,1074.5 1502.4,1074.6 1502.6,1075.9 1502.8,1071.5 1503,1074.8 1503.2,1075.8 1503.4,1074.8 1503.6,1074 1503.8,1073.6 1504,1077.6 1504.2,1074.8 1504.4,1075.8 1504.6,1073.4 1504.8,1077.1 1505,1073.7 1505.2,1078.4 1505.4,1077.3 1505.6,1079.1 1505.8,1078.5 1506,1077.3 1506.2,1077.1 1506.4,1080.2 1506.6,1079.2 1506.8,1075.7 1507,1078.1 1507.2,1080.4 1507.4,1079.2 1507.6,1079 1507.8,1083.8 1508,1079.7 1508.2,1082.5 1508.4,1082.1 1508.6,1079 1508.8,1083.2 1509,1083.7 1509.2,1085.6 1509.4,1083 1509.6,1089.3 1509.8,1084.2 1510,1081.7 1510.2,1082.2 1510.4,1086 1510.6,1086.2 1510.8,1085.9 1511,1085.5 1511.2,1084.9 1511.4,1085.8 1511.6,1087.1 1511.8,1088.8 1512,1089 1512.2,1087.4 1512.4,1087.3 1512.6,1085.4 1512.8,1093.1 1513,1089.9 1513.2,1090 1513.4,1090.4 1513.6,1092.4 1513.8,1089 1514,1086.2 1514.2,1088.1 1514.4,1089.9 1514.6,1091.8 1514.8,1087.4 1515,1095.6 1515.2,1088 1515.4,1086.3 1515.6,1089.2 1515.8,1089 1516,1091.3 1516.2,1090.3 1516.4,1094.6 1516.6,1095.4 1516.8,1093.6 1517,1093 1517.2,1090.3 1517.4,1092.3 1517.6,1094.9 1517.8,1095.3 1518,1091 1518.2,1093.3 1518.4,1094.4 1518.6,1093.5 1518.8,1095 1519,1088.7 1519.2,1093.6 1519.4,1095.3 1519.6,1093.8 1519.8,1095.3 1520,1099.4 1520.2,1099.9 1520.4,1097.2 1520.6,1099.9 1520.8,1096.4 1521,1096.8 1521.2,1100.3 1521.4,1099.6 1521.6,1095.9 1521.8,1100.8 1522,1098.9 1522.2,1096.6 1522.4,1101.9 1522.6,1102.6 1522.8,1100.4 1523,1099.7 1523.2,1101 1523.4,1097.8 1523.6,1099.8 1523.8,1102.6 1524,1101 1524.2,1102.2 1524.4,1104.3 1524.6,1101.3 1524.8,1103.8 1525,1103.7 1525.2,1102 1525.4,1105.2 1525.6,1102.2 1525.8,1104.1 1526,1107.2 1526.2,1104.2 1526.4,1103 1526.6,1106.8 1526.8,1104.2 1527,1102.6 1527.2,1106.2 1527.4,1105.9 1527.6,1109.5 1527.8,1101 1528,1104.2 1528.2,1108.5 1528.4,1109.3 1528.6,1106.6 1528.8,1104.9 1529,1108 1529.2,1107.4 1529.4,1109 1529.6,1104.4 1529.8,1107.1 1530,1111 1530.2,1108.6 1530.4,1106.1 1530.6,1108.4 1530.8,1109.8 1531,1108.7 1531.2,1109.7 1531.4,1104.3 1531.6,1110 1531.8,1111 1532,1109 1532.2,1110.6 1532.4,1107.2 1532.6,1111.3 1532.8,1109.2 1533,1113.8 1533.2,1110.1 1533.4,1113.5 1533.6,1112.1 1533.8,1112.4 1534,1112.4 1534.2,1107.3 1534.4,1112.5 1534.6,1115.3 1534.8,1113.3 1535,1113 1535.2,1115.1 1535.4,1113 1535.6,1115.1 1535.8,1115.3 1536,1116.5 1536.2,1114.3 1536.4,1114.6 1536.6,1115.3 1536.8,1113.8 1537,1114.5 1537.2,1117.1 1537.4,1112 1537.6,1118.2 1537.8,1119.7 1538,1118.5 1538.2,1116.3 1538.4,1113.7 1538.6,1117.2 1538.8,1118.1 1539,1116.7 1539.2,1122.7 1539.4,1119 1539.6,1118.1 1539.8,1117.4 1540,1120.9 1540.2,1117 1540.4,1121.8 1540.6,1121.4 1540.8,1120.1 1541,1123.7 1541.2,1121.3 1541.4,1120.3 1541.6,1120.7 1541.8,1118.4 1542,1123.9 1542.2,1121.2 1542.4,1123.2 1542.6,1120.9 1542.8,1119.6 1543,1123.9 1543.2,1124.4 1543.4,1120.5 1543.6,1121.8 1543.8,1123.3 1544,1119 1544.2,1124.3 1544.4,1126.8 1544.6,1124.7 1544.8,1126.7 1545,1123.7 1545.2,1125.1 1545.4,1123.3 1545.6,1129.5 1545.8,1130.7 1546,1127.5 1546.2,1132.2 1546.4,1124.5 1546.6,1127.1 1546.8,1131.6 1547,1127.2 1547.2,1130.3 1547.4,1126.9 1547.6,1131.3 1547.8,1130.2 1548,1129.9 1548.2,1128.7 1548.4,1129.9 1548.6,1131.4 1548.8,1128.8 1549,1131.6 1549.2,1130.8 1549.4,1128.5 1549.6,1131.9 1549.8,1128.5 1550,1135.1 1550.2,1133.2 1550.4,1131.6 1550.6,1131.4 1550.8,1131.3 1551,1132 1551.2,1133.8 1551.4,1129 1551.6,1134.1 1551.8,1134.7 1552,1136 1552.2,1132.9 1552.4,1135.8 1552.6,1133.1 1552.8,1131.9 1553,1136.6 1553.2,1136.5 1553.4,1136.4 1553.6,1132 1553.8,1132.9 1554,1134 1554.2,1135.3 1554.4,1137.8 1554.6,1140.2 1554.8,1137.8 1555,1136.9 1555.2,1136 1555.4,1134.8 1555.6,1138.5 1555.8,1139.6 1556,1136.7 1556.2,1139.4 1556.4,1137 1556.6,1140.2 1556.8,1134.1 1557,1138.4 1557.2,1138.7 1557.4,1137.4 1557.6,1138.8 1557.8,1139.4 1558,1138.2 1558.2,1137.4 1558.4,1141.2 1558.6,1138.8 1558.8,1141.7 1559,1139.9 1559.2,1140.1 1559.4,1140.8 1559.6,1140.9 1559.8,1141.2 1560,1140.5 1560.2,1138.8 1560.4,1141.1 1560.6,1140 1560.8,1140.9 1561,1144.1 1561.2,1140.5 1561.4,1142.7 1561.6,1145.1 1561.8,1143.1 1562,1141.5 1562.2,1143 1562.4,1141.1 1562.6,1145.6 1562.8,1141.1 1563,1146.1 1563.2,1144.9 1563.4,1143.8 1563.6,1142.9 1563.8,1143.7 1564,1147.5 1564.2,1145.5 1564.4,1145.7 1564.6,1149 1564.8,1144 1565,1142.5 1565.2,1144.9 1565.4,1150.8 1565.6,1143 1565.8,1146.3 1566,1147.2 1566.2,1145.8 1566.4,1146.8 1566.6,1144.2 1566.8,1148.2 1567,1147.5 1567.2,1147.8 1567.4,1144.5 1567.6,1145.4 1567.8,1147.7 1568,1148.3 1568.2,1148.7 1568.4,1146.9 1568.6,1147 1568.8,1145.1 1569,1147.3 1569.2,1147.7 1569.4,1146.6 1569.6,1148.8 1569.8,1149.8 1570,1149.1 1570.2,1149.5 1570.4,1149.7 1570.6,1149.6 1570.8,1147 1571,1148.6 1571.2,1149.3 1571.4,1152.4 1571.6,1151 1571.8,1150 1572,1149.8 1572.2,1151.4 1572.4,1152.9 1572.6,1150.6 1572.8,1150.1 1573,1148.9 1573.2,1150.5 1573.4,1150.9 1573.6,1151.2 1573.8,1152.1 1574,1151.2 1574.2,1150 1574.4,1151.4 1574.6,1153.7 1574.8,1151.2 1575,1154.3 1575.2,1152.3 1575.4,1156.2 1575.6,1152 1575.8,1154.3 1576,1153.9 1576.2,1154.6 1576.4,1154.9 1576.6,1155 1576.8,1156.2 1577,1155.8 1577.2,1156.5 1577.4,1155.6 1577.6,1156.7 1577.8,1153.6 1578,1155.2 1578.2,1156.1 1578.4,1155.5 1578.6,1156.2 1578.8,1156.2 1579,1155.4 1579.2,1154.9 1579.4,1157.3 1579.6,1155.3 1579.8,1156.3 1580,1154.2 1580.2,1155.9 1580.4,1157.3 1580.6,1153.7 1580.8,1158.3 1581,1159.1 1581.2,1157.5 1581.4,1156.1 1581.6,1156.4 1581.8,1160.9 1582,1154.9 1582.2,1163.9 1582.4,1156 1582.6,1156.3 1582.8,1157.5 1583,1159.6 1583.2,1158.8 1583.4,1157.4 1583.6,1158.5 1583.8,1158.4 1584,1157.1 1584.2,1158.2 1584.4,1158.2 1584.6,1155.5 1584.8,1161.2 1585,1159.1 1585.2,1156.2 1585.4,1159 1585.6,1158.8 1585.8,1159.6 1586,1158.3 1586.2,1157.5 1586.4,1161.8 1586.6,1162.4 1586.8,1163 1587,1163 1587.2,1160.4 1587.4,1160 1587.6,1157.8 1587.8,1162 1588,1160.6 1588.2,1164.8 1588.4,1162.5 1588.6,1163.1 1588.8,1161.3 1589,1160.2 1589.2,1160.7 1589.4,1165.9 1589.6,1162.1 1589.8,1160.2 1590,1164.8 1590.2,1161.9 1590.4,1162.1 1590.6,1161.6 1590.8,1161.1 1591,1164.8 1591.2,1161.9 1591.4,1160.4 1591.6,1162.1 1591.8,1159.3 1592,1162.5 1592.2,1161.8 1592.4,1162.1 1592.6,1162.3 1592.8,1163.7 1593,1161 1593.2,1161.9 1593.4,1162.1 1593.6,1161.5 1593.8,1164.5 1594,1165.6 1594.2,1162.4 1594.4,1162.1 1594.6,1159.2 1594.8,1161.9 1595,1163 1595.2,1163.9 1595.4,1161 1595.6,1162.8 1595.8,1163 1596,1163.6 1596.2,1160.7 1596.4,1163.2 1596.6,1159.9 1596.8,1159.7 1597,1163.4 1597.2,1162.1 1597.4,1162.8 1597.6,1163.2 1597.8,1158.8 1598,1163.3 1598.2,1161.8 1598.4,1162.1 1598.6,1159.6 1598.8,1161.4 1599,1159.5 1599.2,1162.9 1599.4,1160.8 1599.6,1160.8 1599.8,1162.2 1600,1164.7 1600.2,1161.4 1600.4,1160.6 1600.6,1163.4 1600.8,1162.4 1601,1161 1601.2,1161.6 1601.4,1161.4 1601.6,1161.2 1601.8,1164 1602,1159.9 1602.2,1160.9 1602.4,1163.4 1602.6,1160.9 1602.8,1162.5 1603,1161.5 1603.2,1160.8 1603.4,1161.7 1603.6,1163.3 1603.8,1160.9 1604,1161.7 1604.2,1163.3 1604.4,1160.7 1604.6,1164.6 1604.8,1160.8 1605,1162.7 1605.2,1162.9 1605.4,1162.4 1605.6,1162.6 1605.8,1160.7 1606,1163 1606.2,1161 1606.4,1161.4 1606.6,1163.2 1606.8,1165.3 1607,1161.9 1607.2,1165.4 1607.4,1163.4 1607.6,1162.9 1607.8,1164.7 1608,1161.6 1608.2,1166.1 1608.4,1162.6 1608.6,1165.3 1608.8,1163.5 1609,1165.3 1609.2,1165.1 1609.4,1163.9 1609.6,1167.4 1609.8,1164.2 1610,1162.8 1610.2,1164.2 1610.4,1164.9 1610.6,1163.4 1610.8,1163.9 1611,1164.6 1611.2,1164.2 1611.4,1164.4 1611.6,1166.4 1611.8,1163.4 1612,1162.4 1612.2,1164.7 1612.4,1163.9 1612.6,1163.2 1612.8,1163.7 1613,1165.2 1613.2,1165.3 1613.4,1163.2 1613.6,1166.5 1613.8,1163.8 1614,1165.7 1614.2,1165.3 1614.4,1164.7 1614.6,1161.9 1614.8,1165.5 1615,1166 1615.2,1168 1615.4,1164.9 1615.6,1167.9 1615.8,1169.4 1616,1166.5 1616.2,1168.6 1616.4,1166.7 1616.6,1167.1 1616.8,1169.2 1617,1167.5 1617.2,1165.5 1617.4,1168.6 1617.6,1163.3 1617.8,1165.9 1618,1169.2 1618.2,1169.4 1618.4,1167.5 1618.6,1166.3 1618.8,1168.3 1619,1167.2 1619.2,1168.2 1619.4,1168.5 1619.6,1168 1619.8,1167.2 1620,1170.9 1620.2,1169.5 1620.4,1167.7 1620.6,1171 1620.8,1164.6 1621,1167.8 1621.2,1170 1621.4,1169.8 1621.6,1166.9 1621.8,1170.7 1622,1171.9 1622.2,1169 1622.4,1170.7 1622.6,1167.2 1622.8,1171.7 1623,1167.2 1623.2,1169.8 1623.4,1171.8 1623.6,1169.6 1623.8,1169.1 1624,1169.1 1624.2,1168.7 1624.4,1167.6 1624.6,1173 1624.8,1167.4 1625,1171.2 1625.2,1172.9 1625.4,1164.6 1625.6,1170.2 1625.8,1171 1626,1171.5 1626.2,1169.7 1626.4,1171.3 1626.6,1170 1626.8,1171.9 1627,1170.1 1627.2,1174.4 1627.4,1173.8 1627.6,1175.5 1627.8,1173.4 1628,1172.7 1628.2,1171.3 1628.4,1172.6 1628.6,1174.1 1628.8,1169.4 1629,1172.5 1629.2,1172 1629.4,1171 1629.6,1172.6 1629.8,1173.2 1630,1172.5 1630.2,1174.9 1630.4,1172.6 1630.6,1171 1630.8,1173.7 1631,1174.4 1631.2,1173.9 1631.4,1173.8 1631.6,1173.9 1631.8,1172.1 1632,1176.2 1632.2,1173.4 1632.4,1173.9 1632.6,1173 1632.8,1172.9 1633,1173 1633.2,1171.7 1633.4,1176.2 1633.6,1173.8 1633.8,1172.8 1634,1176.3 1634.2,1172.8 1634.4,1175.6 1634.6,1177.4 1634.8,1175.3 1635,1174.5 1635.2,1174.9 1635.4,1176.7 1635.6,1175.8 1635.8,1177.2 1636,1176.6 1636.2,1176.1 1636.4,1176.7 1636.6,1174.7 1636.8,1175.1 1637,1177.6 1637.2,1178 1637.4,1177.6 1637.6,1171.4 1637.8,1178.9 1638,1171.8 1638.2,1177.2 1638.4,1174.7 1638.6,1178.2 1638.8,1175.2 1639,1176.2 1639.2,1176.6 1639.4,1176.3 1639.6,1178.1 1639.8,1177.3 1640,1176.5 1640.2,1178.8 1640.4,1176 1640.6,1178.6 1640.8,1180.2 1641,1179.6 1641.2,1176.2 1641.4,1179.1 1641.6,1179.9 1641.8,1178 1642,1178.6 1642.2,1179.2 1642.4,1180.5 1642.6,1179.9 1642.8,1180.3 1643,1176.9 1643.2,1182.1 1643.4,1178.3 1643.6,1179.4 1643.8,1180.1 1644,1176.9 1644.2,1179 1644.4,1178.3 1644.6,1182.9 1644.8,1180.1 1645,1178.9 1645.2,1181.5 1645.4,1177.7 1645.6,1181.4 1645.8,1179.4 1646,1181.3 1646.2,1179.3 1646.4,1179.6 1646.6,1180.3 1646.8,1181.7 1647,1177.5 1647.2,1181.7 1647.4,1181.1 1647.6,1180.8 1647.8,1181 1648,1180.9 1648.2,1181.8 1648.4,1180.7 1648.6,1177.6 1648.8,1180 1649,1181.4 1649.2,1181 1649.4,1180.6 1649.6,1183.8 1649.8,1182 1650,1181.3 1650.2,1182 1650.4,1183.9 1650.6,1180 1650.8,1180.6 1651,1184.8 1651.2,1179.9 1651.4,1184.8 1651.6,1181.1 1651.8,1181.3 1652,1182.6 1652.2,1181 1652.4,1181.2 1652.6,1181.9 1652.8,1183 1653,1181.8 1653.2,1179.5 1653.4,1182.6 1653.6,1184.3 1653.8,1181.7 1654,1183.6 1654.2,1183.8 1654.4,1184.3 1654.6,1184.2 1654.8,1181.9 1655,1182.2 1655.2,1183.8 1655.4,1181.9 1655.6,1182 1655.8,1181 1656,1181.1 1656.2,1181.6 1656.4,1180.3 1656.6,1182.5 1656.8,1183.2 1657,1186.1 1657.2,1182.8 1657.4,1182.5 1657.6,1183.7 1657.8,1186.7 1658,1184.2 1658.2,1184 1658.4,1182.1 1658.6,1181.6 1658.8,1179.8 1659,1183.3 1659.2,1183.1 1659.4,1183.6 1659.6,1184.4 1659.8,1186 1660,1182.5 1660.2,1184.5 1660.4,1183.9 1660.6,1181.2 1660.8,1184.3 1661,1187.5 1661.2,1184.1 1661.4,1185.5 1661.6,1183.4 1661.8,1182.9 1662,1185.2 1662.2,1184.6 1662.4,1183.6 1662.6,1183.6 1662.8,1182.6 1663,1183.7 1663.2,1185.1 1663.4,1183.7 1663.6,1185.9 1663.8,1183.6 1664,1183.3 1664.2,1184.6 1664.4,1187 1664.6,1184.3 1664.8,1185.6 1665,1184 1665.2,1185.3 1665.4,1184.7 1665.6,1184.5 1665.8,1187.4 1666,1185.8 1666.2,1185.8 1666.4,1187.3 1666.6,1188.2 1666.8,1187.8 1667,1185.6 1667.2,1186.1 1667.4,1184.5 1667.6,1183.6 1667.8,1186.1 1668,1182.8 1668.2,1187.3 1668.4,1186.5 1668.6,1187.9 1668.8,1183.7 1669,1187.3 1669.2,1186.5 1669.4,1186.5 1669.6,1184 1669.8,1186.7 1670,1187.6 1670.2,1185.3 1670.4,1187.8 1670.6,1187.7 1670.8,1186.2 1671,1186.8 1671.2,1184 1671.4,1182.9 1671.6,1186.7 1671.8,1187.9 1672,1186.5 1672.2,1187 1672.4,1185.9 1672.6,1183.2 1672.8,1183.9 1673,1189.4 1673.2,1185.5 1673.4,1186.3 1673.6,1186.8 1673.8,1189.9 1674,1187.3 1674.2,1187.7 1674.4,1186 1674.6,1184.7 1674.8,1187.1 1675,1185.6 1675.2,1188.6 1675.4,1188.4 1675.6,1187.1 1675.8,1187.9 1676,1184.6 1676.2,1190.6 1676.4,1186.9 1676.6,1188.2 1676.8,1188 1677,1186.6 1677.2,1187.3 1677.4,1190.6 1677.6,1186.9 1677.8,1190.2 1678,1189 1678.2,1192.1 1678.4,1188.8 1678.6,1188 1678.8,1184.3 1679,1187.5 1679.2,1190.2 1679.4,1187.7 1679.6,1186.2 1679.8,1187.1 1680,1191.6 1680.2,1188.1 1680.4,1187.1 1680.6,1190.9 1680.8,1190.6 1681,1188 1681.2,1187 1681.4,1187.3 1681.6,1188.5 1681.8,1187.2 1682,1189.5 1682.2,1191.1 1682.4,1188.6 1682.6,1187.6 1682.8,1191.6 1683,1189.3 1683.2,1187.7 1683.4,1188.7 1683.6,1191 1683.8,1190.4 1684,1188.5 1684.2,1186.5 1684.4,1188.4 1684.6,1187.2 1684.8,1190 1685,1187.6 1685.2,1190.2 1685.4,1188 1685.6,1187.8 1685.8,1188.9 1686,1187.1 1686.2,1190.8 1686.4,1187.7 1686.6,1190.6 1686.8,1188.1 1687,1188.1 1687.2,1187.3 1687.4,1188.4 1687.6,1191.2 1687.8,1186.8 1688,1190.6 1688.2,1191.2 1688.4,1190.7 1688.6,1189.9 1688.8,1188.1 1689,1188.5 1689.2,1189.7 1689.4,1188.3 1689.6,1187.9 1689.8,1187.5 1690,1185.2 1690.2,1188.3 1690.4,1188.2 1690.6,1188.1 1690.8,1190.3 1691,1187.7 1691.2,1188.7 1691.4,1190.8 1691.6,1192.5 1691.8,1187.2 1692,1191.7 1692.2,1189.7 1692.4,1188.2 1692.6,1189.7 1692.8,1190.8 1693,1189.9 1693.2,1190.3 1693.4,1191.5 1693.6,1190.8 1693.8,1190.3 1694,1188.6 1694.2,1191 1694.4,1189.1 1694.6,1191.7 1694.8,1190.4 1695,1190.3 1695.2,1190.9 1695.4,1188.5 1695.6,1188.7 1695.8,1187.9 1696,1188.3 1696.2,1188.1 1696.4,1190.1 1696.6,1192.2 1696.8,1189.5 1697,1193.7 1697.2,1187.3 1697.4,1190.8 1697.6,1191.6 1697.8,1190.1 1698,1191.9 1698.2,1189.4 1698.4,1189.8 1698.6,1188.1 1698.8,1188.2 1699,1190.4 1699.2,1190.8 1699.4,1190.9 1699.6,1189.4 1699.8,1189.1 1700,1190 1700.2,1190.2 1700.4,1189.5 1700.6,1185.9 1700.8,1188.4 1701,1189.3 1701.2,1190.7 1701.4,1190.9 1701.6,1189.9 1701.8,1189.7 1702,1189.8 1702.2,1189.8 1702.4,1191.5 1702.6,1190.2 1702.8,1191.1 1703,1187.3 1703.2,1190.2 1703.4,1190.3 1703.6,1190.2 1703.8,1189.5 1704,1187.5 1704.2,1189.4 1704.4,1189.9 1704.6,1189.6 1704.8,1188.8 1705,1188 1705.2,1189.9 1705.4,1190.8 1705.6,1187.8 1705.8,1189.2 1706,1192.6 1706.2,1191.3 1706.4,1188.3 1706.6,1188.7 1706.8,1190.1 1707,1189.2 1707.2,1190.4 1707.4,1190.3 1707.6,1187.7 1707.8,1187.7 1708,1190.9 1708.2,1189.1 1708.4,1188.8 1708.6,1190 1708.8,1189.6 1709,1187.4 1709.2,1189.7 1709.4,1190.8 1709.6,1190.6 1709.8,1188.9 1710,1189.9 1710.2,1191.8 1710.4,1188.6 1710.6,1189.9 1710.8,1191 1711,1191.6 1711.2,1191.1 1711.4,1185.6 1711.6,1190 1711.8,1191.7 1712,1187.5 1712.2,1185.2 1712.4,1191.4 1712.6,1190.7 1712.8,1188.6 1713,1189.9 1713.2,1189.5 1713.4,1189.2 1713.6,1188.3 1713.8,1186.4 1714,1189.6 1714.6,1189.6" fill="none" stroke="#000000" stroke-width="3.1" stroke-linejoin="round" stroke-linecap="butt" clip-path="url(#clip_d)"/>
<polyline points="1312.7,787.1 1312.7,816.2" fill="none" stroke="#000000" stroke-width="1.5" stroke-linejoin="round" stroke-linecap="butt" clip-path="url(#clip_d)"/>
<polyline points="1307.6,805.2 1307.6,821.3" fill="none" stroke="#000000" stroke-width="1.5" stroke-linejoin="round" stroke-linecap="butt" clip-path="url(#clip_d)"/>
<polyline points="1326.6,756.7 1326.6,747.2" fill="none" stroke="#000000" stroke-width="1.5" stroke-linejoin="round" stroke-linecap="butt" clip-path="url(#clip_d)"/>
<polyline points="1355.7,786.2 1355.7,817.5" fill="none" stroke="#000000" stroke-width="1.5" stroke-linejoin="round" stroke-linecap="butt" clip-path="url(#clip_d)"/>
<polyline points="1393,847.4 1393,870" fill="none" stroke="#000000" stroke-width="1.5" stroke-linejoin="round" stroke-linecap="butt" clip-path="url(#clip_d)"/>
<polyline points="1384.8,833.9 1384.8,820" fill="none" stroke="#000000" stroke-width="1.5" stroke-linejoin="round" stroke-linecap="butt" clip-path="url(#clip_d)"/>
<polyline points="1145.1,1188.2 1145.1,1195.1" fill="none" stroke="#000000" stroke-width="1.5" stroke-linejoin="round" stroke-linecap="butt" clip-path="url(#clip_d)"/>
<polyline points="1166.6,1185.6 1166.6,1196.3" fill="none" stroke="#000000" stroke-width="1.5" stroke-linejoin="round" stroke-linecap="butt" clip-path="url(#clip_d)"/>
<polyline points="1638,1176.6 1638,1185.3" fill="none" stroke="#000000" stroke-width="1.5" stroke-linejoin="round" stroke-linecap="butt" clip-path="url(#clip_d)"/>
<polyline points="1644.3,1179.1 1644.3,1172" fill="none" stroke="#000000" stroke-width="1.5" stroke-linejoin="round" stroke-linecap="butt" clip-path="url(#clip_d)"/>
<polyline points="1644.6,1179.2 1644.6,1185.3" fill="none" stroke="#000000" stroke-width="1.5" stroke-linejoin="round" stroke-linecap="butt" clip-path="url(#clip_d)"/>
<polyline points="1393.3,847.8 1393.3,869.6" fill="none" stroke="#000000" stroke-width="1.5" stroke-linejoin="round" stroke-linecap="butt" clip-path="url(#clip_d)"/>
<rect x="1044" y="696.7" width="670.1" height="514.5" fill="none" stroke="#000" stroke-width="1.9" stroke-linejoin="round"/>
<line x1="1033.7" y1="1196" x2="1044" y2="1196" stroke="#000" stroke-width="1.9" stroke-linecap="butt"/>
<text transform="translate(1023.7 1205.5)" font-size="29.55" font-weight="normal" text-anchor="end">0</text>
<line x1="1033.7" y1="1119.17" x2="1044" y2="1119.17" stroke="#000" stroke-width="1.9" stroke-linecap="butt"/>
<text transform="translate(1023.7 1128.67)" font-size="29.55" font-weight="normal" text-anchor="end">5000</text>
<line x1="1033.7" y1="1042.33" x2="1044" y2="1042.33" stroke="#000" stroke-width="1.9" stroke-linecap="butt"/>
<text transform="translate(1023.7 1051.83)" font-size="29.55" font-weight="normal" text-anchor="end">10,000</text>
<line x1="1033.7" y1="965.5" x2="1044" y2="965.5" stroke="#000" stroke-width="1.9" stroke-linecap="butt"/>
<text transform="translate(1023.7 975)" font-size="29.55" font-weight="normal" text-anchor="end">15,000</text>
<line x1="1033.7" y1="888.67" x2="1044" y2="888.67" stroke="#000" stroke-width="1.9" stroke-linecap="butt"/>
<text transform="translate(1023.7 898.17)" font-size="29.55" font-weight="normal" text-anchor="end">20,000</text>
<line x1="1033.7" y1="811.83" x2="1044" y2="811.83" stroke="#000" stroke-width="1.9" stroke-linecap="butt"/>
<text transform="translate(1023.7 821.33)" font-size="29.55" font-weight="normal" text-anchor="end">25,000</text>
<line x1="1033.7" y1="735" x2="1044" y2="735" stroke="#000" stroke-width="1.9" stroke-linecap="butt"/>
<text transform="translate(1023.7 744.5)" font-size="29.55" font-weight="normal" text-anchor="end">30,000</text>
<line x1="1038.7" y1="1157.58" x2="1044" y2="1157.58" stroke="#000" stroke-width="1.9" stroke-linecap="butt"/>
<line x1="1038.7" y1="1080.75" x2="1044" y2="1080.75" stroke="#000" stroke-width="1.9" stroke-linecap="butt"/>
<line x1="1038.7" y1="1003.92" x2="1044" y2="1003.92" stroke="#000" stroke-width="1.9" stroke-linecap="butt"/>
<line x1="1038.7" y1="927.08" x2="1044" y2="927.08" stroke="#000" stroke-width="1.9" stroke-linecap="butt"/>
<line x1="1038.7" y1="850.25" x2="1044" y2="850.25" stroke="#000" stroke-width="1.9" stroke-linecap="butt"/>
<line x1="1038.7" y1="773.42" x2="1044" y2="773.42" stroke="#000" stroke-width="1.9" stroke-linecap="butt"/>
<line x1="1038.7" y1="696.58" x2="1044" y2="696.58" stroke="#000" stroke-width="1.9" stroke-linecap="butt"/>
<line x1="1104.92" y1="1211.2" x2="1104.92" y2="1221.5" stroke="#000" stroke-width="1.9" stroke-linecap="butt"/>
<text transform="translate(1104.92 1255.3)" font-size="29.55" font-weight="normal" text-anchor="middle">400</text>
<line x1="1226.75" y1="1211.2" x2="1226.75" y2="1221.5" stroke="#000" stroke-width="1.9" stroke-linecap="butt"/>
<text transform="translate(1226.75 1255.3)" font-size="29.55" font-weight="normal" text-anchor="middle">500</text>
<line x1="1348.59" y1="1211.2" x2="1348.59" y2="1221.5" stroke="#000" stroke-width="1.9" stroke-linecap="butt"/>
<text transform="translate(1348.59 1255.3)" font-size="29.55" font-weight="normal" text-anchor="middle">600</text>
<line x1="1470.43" y1="1211.2" x2="1470.43" y2="1221.5" stroke="#000" stroke-width="1.9" stroke-linecap="butt"/>
<text transform="translate(1470.43 1255.3)" font-size="29.55" font-weight="normal" text-anchor="middle">700</text>
<line x1="1592.26" y1="1211.2" x2="1592.26" y2="1221.5" stroke="#000" stroke-width="1.9" stroke-linecap="butt"/>
<text transform="translate(1592.26 1255.3)" font-size="29.55" font-weight="normal" text-anchor="middle">800</text>
<line x1="1714.1" y1="1211.2" x2="1714.1" y2="1221.5" stroke="#000" stroke-width="1.9" stroke-linecap="butt"/>
<text transform="translate(1714.1 1255.3)" font-size="29.55" font-weight="normal" text-anchor="middle">900</text>
<line x1="1044" y1="1211.2" x2="1044" y2="1216.5" stroke="#000" stroke-width="1.9" stroke-linecap="butt"/>
<line x1="1165.84" y1="1211.2" x2="1165.84" y2="1216.5" stroke="#000" stroke-width="1.9" stroke-linecap="butt"/>
<line x1="1287.67" y1="1211.2" x2="1287.67" y2="1216.5" stroke="#000" stroke-width="1.9" stroke-linecap="butt"/>
<line x1="1409.51" y1="1211.2" x2="1409.51" y2="1216.5" stroke="#000" stroke-width="1.9" stroke-linecap="butt"/>
<line x1="1531.35" y1="1211.2" x2="1531.35" y2="1216.5" stroke="#000" stroke-width="1.9" stroke-linecap="butt"/>
<line x1="1653.18" y1="1211.2" x2="1653.18" y2="1216.5" stroke="#000" stroke-width="1.9" stroke-linecap="butt"/>
<text transform="translate(1379.05 1297.9) scale(1 1.04)" font-size="29.2" font-weight="normal" text-anchor="middle">Wavelength (nm)</text>
<text transform="translate(906.9 953.95) rotate(-90) scale(1 1.04)" font-size="29.2" font-weight="normal" text-anchor="middle">PL Intensity (a.u.)</text>
<text transform="translate(884 697)" font-size="42.0" font-weight="bold" text-anchor="start">d</text>
<text transform="translate(1085.9 1078.8) scale(1 1.04)" font-size="29.2" font-weight="normal" text-anchor="start">FE</text>
<text transform="translate(1350.4 748.2) scale(1 1.04)" font-size="29.2" font-weight="normal" text-anchor="start">STE</text>
</g>
<line x1="162" y1="396.3" x2="243.8" y2="396.3" stroke="#ff0000" stroke-width="5.5" stroke-linecap="butt"/>
<text transform="translate(253.8 405.1) scale(1 1.04)" font-size="29.2" font-weight="normal" text-anchor="start">S-NPB</text>
<line x1="162" y1="441.1" x2="243.8" y2="441.1" stroke="#0000ff" stroke-width="5.5" stroke-linecap="butt"/>
<text transform="translate(253.8 450.2) scale(1 1.04)" font-size="29.2" font-weight="normal" text-anchor="start">R-NPB</text>
<line x1="162" y1="486.2" x2="243.8" y2="486.2" stroke="#000000" stroke-width="5.5" stroke-linecap="butt"/>
<text transform="translate(253.8 495.2) scale(1 1.04)" font-size="29.2" font-weight="normal" text-anchor="start">Rac-NPB</text>
</svg>
</body>
</html>
